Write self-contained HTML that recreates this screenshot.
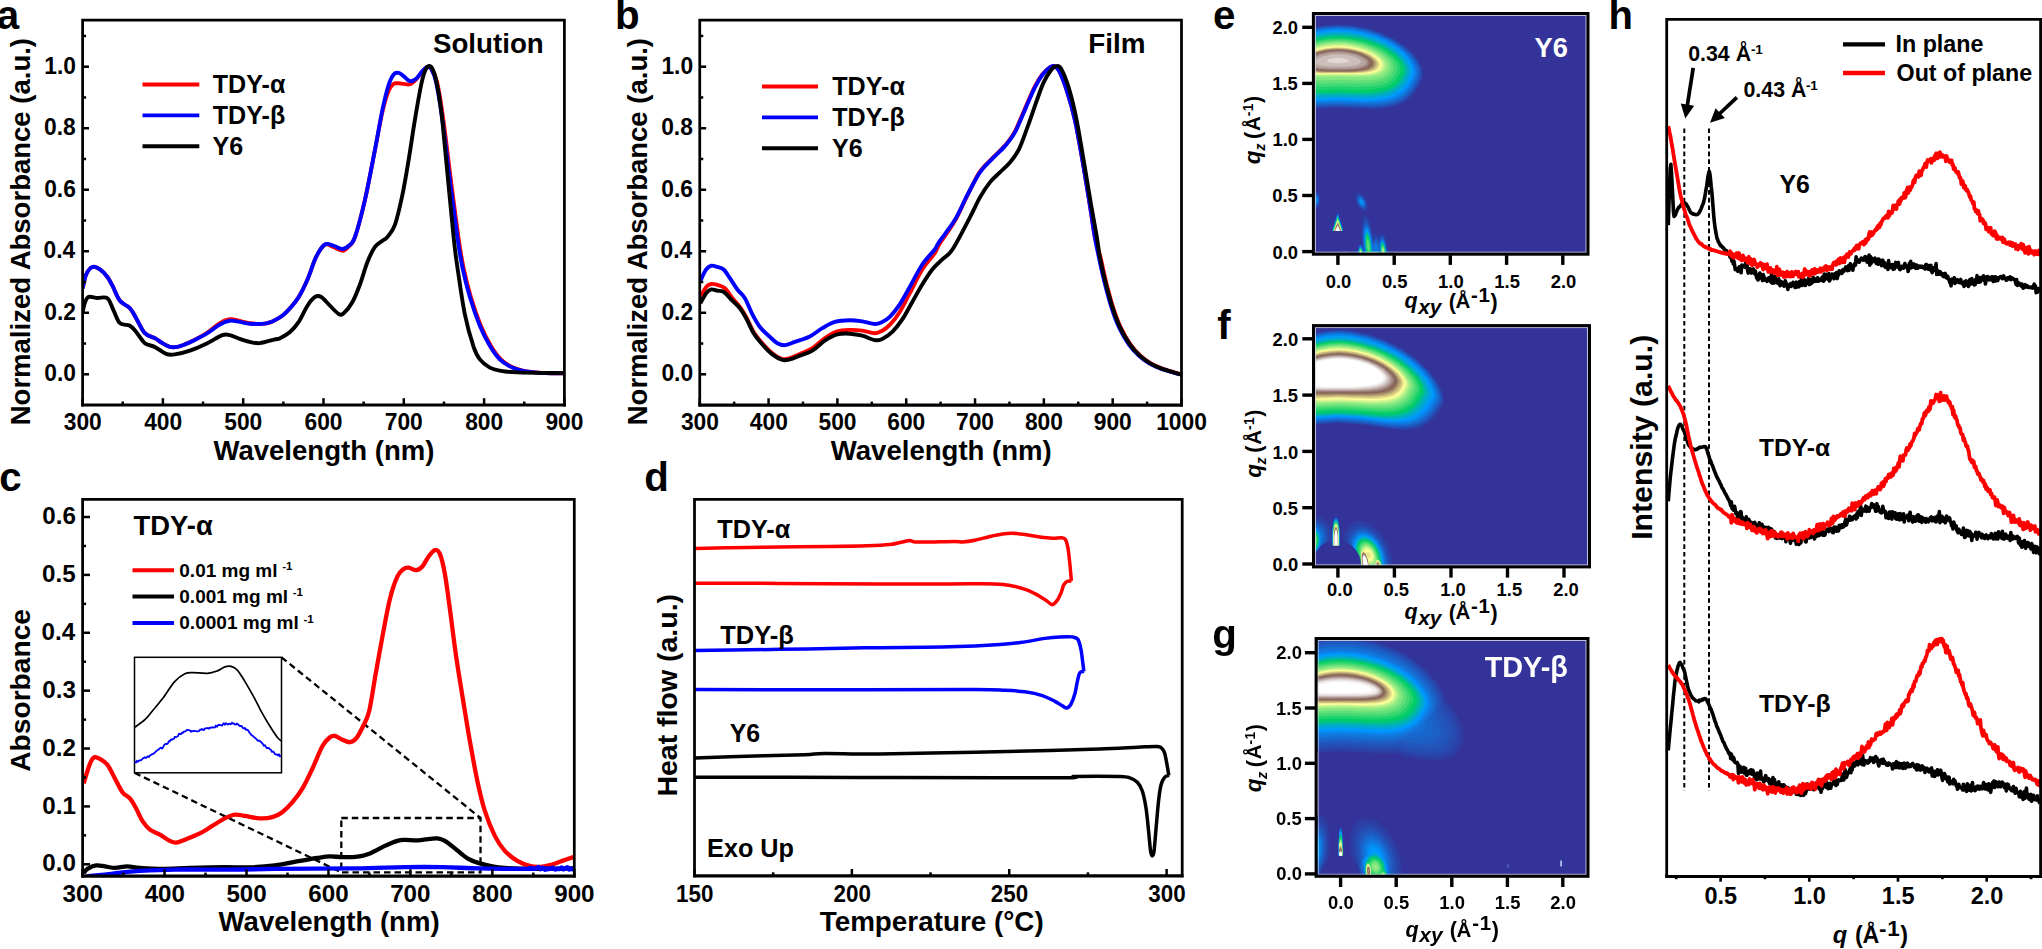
<!DOCTYPE html><html><head><meta charset="utf-8"><title>Figure</title><style>html,body{margin:0;padding:0;background:#fff}svg{display:block}text{font-family:'Liberation Sans', sans-serif}</style></head><body>
<svg width="2042" height="949" viewBox="0 0 2042 949">
<defs>
<clipPath id="clipa"><rect x="82.6" y="20.2" width="481.8" height="384.8"/></clipPath>
<clipPath id="clipb"><rect x="699.75" y="20.2" width="481.75" height="384.9"/></clipPath>
<clipPath id="clipc"><rect x="82.6" y="499.4" width="491.7" height="376.7"/></clipPath>
<clipPath id="cliphh"><rect x="1666.7" y="19.4" width="373.9" height="857"/></clipPath>
<filter id="hblur" x="-5%" y="-5%" width="110%" height="110%"><feGaussianBlur stdDeviation="0.7"/></filter>
</defs>
<rect width="2042" height="949" fill="#fff"/>
<g clip-path="url(#clipa)">
<path d="M82.69 288.21C83.27 285.92 84.56 278.01 86.19 274.47C87.81 270.93 90.14 267.81 92.43 266.98C94.72 266.14 97.43 267.81 99.93 269.48C102.42 271.14 105.34 274.26 107.42 276.97C109.50 279.68 110.33 281.76 112.42 285.71C114.50 289.67 117.00 296.96 119.91 300.70C122.82 304.45 127.20 305.28 129.90 308.20C132.61 311.11 133.65 314.03 136.15 318.19C138.65 322.35 141.77 329.85 144.89 333.18C148.01 336.51 151.97 336.51 154.88 338.17C157.80 339.84 159.88 341.71 162.38 343.17C164.88 344.63 167.37 346.29 169.87 346.92C172.37 347.54 174.87 347.33 177.37 346.91C179.87 346.50 181.95 345.59 184.86 344.40C187.78 343.22 191.11 341.78 194.85 339.81C198.60 337.84 203.18 335.39 207.34 332.61C211.51 329.83 216.09 325.35 219.84 323.12C223.58 320.89 226.50 319.58 229.83 319.21C233.16 318.85 236.49 320.25 239.82 320.93C243.15 321.61 245.65 322.81 249.81 323.27C253.98 323.72 261.05 323.95 264.80 323.64C268.55 323.33 269.38 322.75 272.30 321.43C275.21 320.10 279.34 317.90 282.29 315.69C285.24 313.49 287.25 311.32 289.99 308.20C292.73 305.07 295.82 301.74 298.74 296.96C301.65 292.17 304.77 285.71 307.48 279.47C310.19 273.22 312.68 264.68 314.97 259.49C317.26 254.29 319.35 250.83 321.22 248.29C323.09 245.76 324.13 244.48 326.22 244.29C328.30 244.09 331.00 246.04 333.71 247.13C336.42 248.22 339.96 250.91 342.45 250.82C344.95 250.72 346.62 248.83 348.70 246.56C350.78 244.28 352.24 244.94 354.94 237.16C357.65 229.37 361.61 214.37 364.94 199.85C368.27 185.34 372.01 164.77 374.93 150.08C377.84 135.39 380.13 121.60 382.42 111.71C384.71 101.81 386.79 95.34 388.67 90.70C390.54 86.06 392.00 85.09 393.66 83.86C395.33 82.63 397.00 83.31 398.66 83.31C400.33 83.31 401.78 83.72 403.66 83.88C405.53 84.03 407.82 84.98 409.90 84.22C411.98 83.47 414.07 81.50 416.15 79.34C418.23 77.18 420.52 73.33 422.39 71.27C424.27 69.21 425.93 67.39 427.39 66.96C428.85 66.53 429.51 66.12 431.14 68.70C432.76 71.28 435.09 73.90 437.13 82.44C439.17 90.97 441.09 103.67 443.38 119.91C445.67 136.15 448.37 160.34 450.87 179.87C453.37 199.39 456.29 222.55 458.37 237.07C460.45 251.59 461.28 257.00 463.36 266.98C465.44 276.96 467.94 287.17 470.86 296.96C473.77 306.74 477.52 317.56 480.85 325.68C484.18 333.80 487.51 340.05 490.84 345.67C494.17 351.29 497.50 355.95 500.84 359.41C504.17 362.86 507.50 364.61 510.83 366.40C514.16 368.19 517.49 369.23 520.82 370.15C524.15 371.07 526.65 371.40 530.81 371.90C534.98 372.40 540.18 372.90 545.80 373.15C551.42 373.40 561.41 373.36 564.54 373.40" fill="none" stroke="#ff0000" stroke-width="3.9" stroke-linejoin="round" stroke-linecap="butt" />
<path d="M82.69 288.21C83.27 285.92 84.56 278.01 86.19 274.47C87.81 270.93 90.14 267.81 92.43 266.98C94.72 266.14 97.43 267.81 99.93 269.48C102.42 271.14 105.34 274.26 107.42 276.97C109.50 279.68 110.33 281.76 112.42 285.71C114.50 289.67 117.00 296.96 119.91 300.70C122.82 304.45 127.20 305.28 129.90 308.20C132.61 311.11 133.65 314.03 136.15 318.19C138.65 322.35 141.77 329.85 144.89 333.18C148.01 336.51 151.97 336.51 154.88 338.17C157.80 339.84 159.88 341.71 162.38 343.17C164.88 344.63 167.37 346.29 169.87 346.92C172.37 347.54 174.87 347.33 177.37 346.92C179.87 346.50 181.95 345.59 184.86 344.42C187.78 343.25 191.11 341.80 194.85 339.92C198.60 338.05 203.18 335.76 207.34 333.18C211.51 330.60 216.09 326.52 219.84 324.43C223.58 322.35 226.50 321.10 229.83 320.69C233.16 320.27 236.49 321.44 239.82 321.94C243.15 322.44 245.65 323.39 249.81 323.68C253.98 323.98 261.05 324.06 264.80 323.68C268.55 323.31 269.38 322.77 272.30 321.44C275.21 320.10 279.34 317.90 282.29 315.69C285.24 313.48 287.25 311.32 289.99 308.20C292.73 305.07 295.82 301.74 298.74 296.96C301.65 292.17 304.77 285.71 307.48 279.47C310.19 273.22 312.68 264.69 314.97 259.48C317.26 254.28 319.35 250.82 321.22 248.24C323.09 245.66 324.13 244.41 326.22 243.99C328.30 243.58 331.00 244.91 333.71 245.74C336.42 246.58 339.96 248.99 342.45 248.99C344.95 248.99 346.62 247.74 348.70 245.74C350.78 243.74 352.24 244.65 354.94 237.00C357.65 229.35 361.61 214.37 364.94 199.85C368.27 185.33 372.01 164.88 374.93 149.89C377.84 134.90 380.13 120.74 382.42 109.92C384.71 99.09 386.79 90.85 388.67 84.94C390.54 79.02 392.00 76.44 393.66 74.44C395.33 72.45 397.00 72.65 398.66 72.95C400.33 73.24 401.78 74.82 403.66 76.19C405.53 77.57 407.82 80.77 409.90 81.19C411.98 81.61 414.07 80.36 416.15 78.69C418.23 77.03 420.52 73.15 422.39 71.20C424.27 69.24 425.93 67.37 427.39 66.95C428.85 66.53 429.68 66.12 431.14 68.70C432.59 71.28 434.26 73.90 436.13 82.44C438.01 90.97 440.09 103.67 442.38 119.91C444.67 136.15 447.37 160.34 449.87 179.87C452.37 199.39 455.29 222.55 457.37 237.07C459.45 251.59 460.28 257.00 462.36 266.98C464.44 276.96 466.94 287.17 469.86 296.96C472.77 306.74 476.52 317.56 479.85 325.68C483.18 333.80 486.51 340.05 489.84 345.67C493.17 351.29 496.50 355.95 499.84 359.41C503.17 362.86 506.50 364.61 509.83 366.40C513.16 368.19 516.49 369.23 519.82 370.15C523.15 371.07 525.65 371.40 529.81 371.90C533.98 372.40 539.18 372.90 544.80 373.15C550.42 373.40 560.41 373.36 563.54 373.40" fill="none" stroke="#0000ff" stroke-width="3.9" stroke-linejoin="round" stroke-linecap="butt" />
<path d="M82.69 311.94C83.06 310.36 83.94 304.95 84.94 302.45C85.94 299.95 86.60 297.70 88.68 296.96C90.77 296.21 94.30 297.75 97.43 297.95C100.55 298.16 104.71 296.08 107.42 298.20C110.13 300.33 111.58 306.53 113.66 310.69C115.75 314.86 117.20 320.69 119.91 323.19C122.62 325.68 127.20 324.23 129.90 325.68C132.61 327.14 133.65 329.01 136.15 331.93C138.65 334.84 141.77 340.67 144.89 343.17C148.01 345.67 151.34 345.13 154.88 346.92C158.42 348.71 162.79 352.66 166.13 353.91C169.46 355.16 170.91 354.95 174.87 354.41C178.82 353.87 184.44 352.54 189.86 350.66C195.27 348.79 201.93 345.75 207.34 343.17C212.76 340.59 218.59 336.51 222.33 335.18C226.08 333.84 226.91 334.55 229.83 335.18C232.74 335.80 236.49 337.80 239.82 338.92C243.15 340.05 246.48 341.21 249.81 341.92C253.14 342.63 255.64 343.59 259.81 343.17C263.97 342.75 271.43 340.26 274.79 339.42C278.16 338.59 277.47 339.42 280.00 338.17C282.53 336.93 286.87 334.64 289.99 331.93C293.12 329.22 295.82 326.31 298.74 321.94C301.65 317.56 304.77 309.86 307.48 305.70C310.19 301.53 312.68 298.41 314.97 296.96C317.26 295.50 318.72 295.50 321.22 296.96C323.72 298.41 327.05 302.87 329.96 305.70C332.88 308.53 336.42 312.69 338.71 313.94C341.00 315.19 341.41 315.19 343.70 313.19C345.99 311.19 349.74 306.74 352.45 301.95C355.15 297.16 357.44 291.13 359.94 284.46C362.44 277.80 364.94 268.23 367.43 261.98C369.93 255.74 372.43 250.53 374.93 246.99C377.43 243.45 380.34 242.41 382.42 240.75C384.50 239.08 385.34 239.65 387.42 237.00C389.50 234.35 392.42 231.86 394.91 224.83C397.41 217.81 400.12 205.68 402.41 194.85C404.70 184.03 406.57 172.37 408.65 159.88C410.74 147.39 412.82 132.40 414.90 119.91C416.98 107.42 419.48 93.06 421.14 84.94C422.81 76.82 423.64 74.32 424.89 71.20C426.14 68.07 427.39 66.62 428.64 66.20C429.89 65.78 431.14 66.41 432.39 68.70C433.63 70.99 434.68 73.07 436.13 79.94C437.59 86.81 439.46 96.59 441.13 109.92C442.79 123.24 444.04 138.69 446.13 159.88C448.21 181.07 451.75 219.22 453.62 237.07C455.49 254.92 455.49 254.08 457.37 266.98C459.24 279.87 462.16 301.12 464.86 314.44C467.57 327.77 471.11 339.42 473.60 346.92C476.10 354.41 477.14 355.95 479.85 359.41C482.56 362.86 486.51 365.78 489.84 367.65C493.17 369.53 495.26 369.86 499.84 370.65C504.42 371.44 506.70 371.98 517.32 372.40C527.94 372.81 555.83 373.02 563.54 373.15" fill="none" stroke="#000000" stroke-width="3.9" stroke-linejoin="round" stroke-linecap="butt" />
</g>
<path d="M82.60 405.00V20.20H564.40V405.00" fill="none" stroke="#000" stroke-width="2.75" stroke-linecap="square"/>
<path d="M81.22 405.00H565.77" fill="none" stroke="#000" stroke-width="3.15" stroke-linecap="butt"/>
<line x1="82.60" y1="374.30" x2="89.00" y2="374.30" stroke="#000" stroke-width="2.5" />
<text transform="translate(44.26 381.40) scale(1 1.050)" font-size="22.80" font-weight="bold" fill="#000">0.0</text>
<line x1="82.60" y1="312.78" x2="89.00" y2="312.78" stroke="#000" stroke-width="2.5" />
<text transform="translate(44.26 319.88) scale(1 1.050)" font-size="22.80" font-weight="bold" fill="#000">0.2</text>
<line x1="82.60" y1="251.26" x2="89.00" y2="251.26" stroke="#000" stroke-width="2.5" />
<text transform="translate(43.46 258.36) scale(1 1.050)" font-size="22.80" font-weight="bold" fill="#000">0.4</text>
<line x1="82.60" y1="189.74" x2="89.00" y2="189.74" stroke="#000" stroke-width="2.5" />
<text transform="translate(44.15 196.84) scale(1 1.050)" font-size="22.80" font-weight="bold" fill="#000">0.6</text>
<line x1="82.60" y1="128.22" x2="89.00" y2="128.22" stroke="#000" stroke-width="2.5" />
<text transform="translate(44.03 135.32) scale(1 1.050)" font-size="22.80" font-weight="bold" fill="#000">0.8</text>
<line x1="82.60" y1="66.70" x2="89.00" y2="66.70" stroke="#000" stroke-width="2.5" />
<text transform="translate(44.26 73.80) scale(1 1.050)" font-size="22.80" font-weight="bold" fill="#000">1.0</text>
<line x1="82.60" y1="343.54" x2="86.10" y2="343.54" stroke="#000" stroke-width="2.5" />
<line x1="82.60" y1="282.02" x2="86.10" y2="282.02" stroke="#000" stroke-width="2.5" />
<line x1="82.60" y1="220.50" x2="86.10" y2="220.50" stroke="#000" stroke-width="2.5" />
<line x1="82.60" y1="158.98" x2="86.10" y2="158.98" stroke="#000" stroke-width="2.5" />
<line x1="82.60" y1="97.46" x2="86.10" y2="97.46" stroke="#000" stroke-width="2.5" />
<line x1="82.60" y1="35.94" x2="86.10" y2="35.94" stroke="#000" stroke-width="2.5" />
<line x1="82.60" y1="405.00" x2="82.60" y2="398.20" stroke="#000" stroke-width="2.5" />
<text transform="translate(63.76 429.70) scale(1 1.050)" font-size="22.80" font-weight="bold" fill="#000">300</text>
<line x1="162.90" y1="405.00" x2="162.90" y2="398.20" stroke="#000" stroke-width="2.5" />
<text transform="translate(144.15 429.70) scale(1 1.050)" font-size="22.80" font-weight="bold" fill="#000">400</text>
<line x1="243.20" y1="405.00" x2="243.20" y2="398.20" stroke="#000" stroke-width="2.5" />
<text transform="translate(224.28 429.70) scale(1 1.050)" font-size="22.80" font-weight="bold" fill="#000">500</text>
<line x1="323.50" y1="405.00" x2="323.50" y2="398.20" stroke="#000" stroke-width="2.5" />
<text transform="translate(304.52 429.70) scale(1 1.050)" font-size="22.80" font-weight="bold" fill="#000">600</text>
<line x1="403.80" y1="405.00" x2="403.80" y2="398.20" stroke="#000" stroke-width="2.5" />
<text transform="translate(384.73 429.70) scale(1 1.050)" font-size="22.80" font-weight="bold" fill="#000">700</text>
<line x1="484.10" y1="405.00" x2="484.10" y2="398.20" stroke="#000" stroke-width="2.5" />
<text transform="translate(465.18 429.70) scale(1 1.050)" font-size="22.80" font-weight="bold" fill="#000">800</text>
<line x1="564.40" y1="405.00" x2="564.40" y2="398.20" stroke="#000" stroke-width="2.5" />
<text transform="translate(545.45 429.70) scale(1 1.050)" font-size="22.80" font-weight="bold" fill="#000">900</text>
<line x1="122.75" y1="405.00" x2="122.75" y2="401.50" stroke="#000" stroke-width="2.5" />
<line x1="203.05" y1="405.00" x2="203.05" y2="401.50" stroke="#000" stroke-width="2.5" />
<line x1="283.35" y1="405.00" x2="283.35" y2="401.50" stroke="#000" stroke-width="2.5" />
<line x1="363.65" y1="405.00" x2="363.65" y2="401.50" stroke="#000" stroke-width="2.5" />
<line x1="443.95" y1="405.00" x2="443.95" y2="401.50" stroke="#000" stroke-width="2.5" />
<line x1="524.25" y1="405.00" x2="524.25" y2="401.50" stroke="#000" stroke-width="2.5" />
<text x="213.40" y="459.90" font-size="27.57" font-weight="bold" text-anchor="start" fill="#000" >Wavelength (nm)</text>
<text x="29.60" y="425.29" font-size="27.53" font-weight="bold" text-anchor="start" fill="#000" transform="rotate(-90 29.60 425.29)" >Normalized Absorbance (a.u.)</text>
<text x="-3.30" y="28.60" font-size="40.3" font-weight="bold" text-anchor="start" fill="#000" >a</text>
<text x="432.99" y="53.30" font-size="27.69" font-weight="bold" text-anchor="start" fill="#000" >Solution</text>
<line x1="142.50" y1="84.50" x2="199.30" y2="84.50" stroke="#ff0000" stroke-width="3.9" />
<text x="212.75" y="92.50" font-size="25.10" font-weight="bold" text-anchor="start" fill="#000" >TDY-α</text>
<line x1="142.50" y1="115.40" x2="199.30" y2="115.40" stroke="#0000ff" stroke-width="3.9" />
<text x="212.75" y="123.50" font-size="25.10" font-weight="bold" text-anchor="start" fill="#000" >TDY-β</text>
<line x1="142.50" y1="146.30" x2="199.30" y2="146.30" stroke="#000" stroke-width="3.9" />
<text x="212.62" y="154.50" font-size="25.10" font-weight="bold" text-anchor="start" fill="#000" >Y6</text>
<g clip-path="url(#clipb)">
<path d="M700.43 296.96C701.39 295.29 704.39 289.13 706.18 286.96C707.97 284.80 709.30 284.30 711.17 283.96C713.05 283.63 715.13 284.26 717.42 284.96C719.71 285.67 722.42 286.00 724.91 288.21C727.41 290.42 729.91 295.08 732.41 298.20C734.91 301.33 737.61 303.82 739.90 306.95C742.19 310.07 743.86 312.78 746.15 316.94C748.44 321.10 750.94 327.56 753.64 331.93C756.35 336.30 759.26 339.63 762.39 343.17C765.51 346.71 769.05 350.54 772.38 353.16C775.71 355.79 779.46 358.08 782.37 358.91C785.29 359.74 786.95 358.99 789.87 358.16C792.78 357.33 796.11 355.58 799.86 353.91C803.60 352.25 808.18 350.79 812.35 348.17C816.51 345.54 820.68 340.96 824.84 338.17C829.00 335.38 833.17 332.80 837.33 331.43C841.49 330.06 845.66 330.06 849.82 329.93C853.98 329.81 858.15 330.14 862.31 330.68C866.47 331.22 871.47 333.18 874.80 333.18C878.13 333.18 879.80 332.05 882.30 330.68C884.79 329.31 886.88 328.06 889.79 324.93C892.70 321.81 896.45 317.23 899.78 311.94C903.11 306.66 906.03 300.29 909.78 293.21C913.52 286.13 918.10 276.14 922.27 269.48C926.43 262.81 931.89 257.48 934.76 253.24C937.62 248.99 936.09 249.40 939.46 243.99C942.82 238.59 950.28 228.94 954.94 220.83C959.61 212.73 963.35 203.43 967.43 195.35C971.51 187.28 975.35 178.49 979.43 172.37C983.51 166.25 987.75 163.00 991.92 158.63C996.08 154.26 1000.66 150.51 1004.41 146.14C1008.15 141.77 1011.07 138.44 1014.40 132.40C1017.73 126.36 1021.06 117.41 1024.39 109.92C1027.72 102.42 1031.47 93.26 1034.38 87.43C1037.30 81.61 1039.30 78.27 1041.88 74.94C1044.46 71.61 1047.71 68.91 1049.87 67.45C1052.04 65.99 1053.20 65.37 1054.87 66.20C1056.53 67.03 1057.78 68.07 1059.87 72.45C1061.95 76.82 1064.86 84.52 1067.36 92.43C1069.86 100.34 1072.36 108.67 1074.85 119.91C1077.35 131.15 1079.85 145.72 1082.35 159.88C1084.85 174.04 1087.76 191.98 1089.84 204.85C1091.92 217.71 1093.07 228.38 1094.84 237.07C1096.60 245.76 1098.67 249.92 1100.44 256.99C1102.20 264.05 1103.35 271.14 1105.43 279.47C1107.51 287.80 1110.43 299.04 1112.93 306.95C1115.42 314.86 1117.51 320.69 1120.42 326.93C1123.33 333.18 1127.08 339.63 1130.41 344.42C1133.74 349.21 1137.07 352.54 1140.41 355.66C1143.74 358.78 1146.65 360.95 1150.40 363.16C1154.14 365.36 1157.68 367.03 1162.89 368.90C1168.09 370.77 1178.50 373.48 1181.62 374.40" fill="none" stroke="#ff0000" stroke-width="3.9" stroke-linejoin="round" stroke-linecap="butt" />
<path d="M700.43 280.72C701.39 278.84 704.39 271.97 706.18 269.48C707.97 266.98 709.30 266.14 711.17 265.73C713.05 265.31 715.34 266.35 717.42 266.98C719.50 267.60 721.58 267.60 723.66 269.48C725.75 271.35 727.62 274.89 729.91 278.22C732.20 281.55 734.91 286.13 737.40 289.46C739.90 292.79 742.40 294.04 744.90 298.20C747.40 302.37 749.90 309.65 752.39 314.44C754.89 319.23 756.97 323.19 759.89 326.93C762.80 330.68 766.97 334.22 769.88 336.93C772.79 339.63 774.88 341.80 777.37 343.17C779.87 344.54 781.95 345.38 784.87 345.17C787.78 344.96 790.70 343.38 794.86 341.92C799.02 340.46 805.27 338.72 809.85 336.43C814.43 334.14 818.18 330.60 822.34 328.18C826.50 325.77 830.25 323.27 834.83 321.94C839.41 320.60 845.24 320.27 849.82 320.19C854.40 320.10 858.15 320.81 862.31 321.44C866.47 322.06 871.47 323.85 874.80 323.93C878.13 324.02 879.80 323.10 882.30 321.94C884.79 320.77 886.88 319.85 889.79 316.94C892.70 314.03 896.45 309.45 899.78 304.45C903.11 299.45 906.03 293.62 909.78 286.96C913.52 280.30 918.10 270.72 922.27 264.48C926.43 258.23 932.02 253.15 934.76 249.49C937.50 245.83 935.34 247.44 938.71 242.50C942.07 237.55 950.16 227.78 954.94 219.84C959.73 211.89 963.27 202.76 967.43 194.85C971.60 186.94 975.76 178.41 979.93 172.37C984.09 166.33 988.25 163.00 992.42 158.63C996.58 154.26 1001.16 150.51 1004.91 146.14C1008.65 141.77 1011.57 138.44 1014.90 132.40C1018.23 126.36 1021.56 117.41 1024.89 109.92C1028.22 102.42 1031.97 93.26 1034.88 87.43C1037.80 81.61 1039.88 78.27 1042.38 74.94C1044.88 71.61 1047.79 68.91 1049.87 67.45C1051.95 65.99 1053.20 65.37 1054.87 66.20C1056.53 67.03 1057.78 68.07 1059.87 72.45C1061.95 76.82 1064.86 84.52 1067.36 92.43C1069.86 100.34 1072.36 108.67 1074.85 119.91C1077.35 131.15 1079.85 145.72 1082.35 159.88C1084.85 174.04 1087.76 191.98 1089.84 204.85C1091.92 217.71 1093.34 228.38 1094.84 237.07C1096.34 245.76 1097.34 249.92 1098.84 256.99C1100.33 264.05 1101.75 271.14 1103.83 279.47C1105.91 287.80 1108.83 299.04 1111.33 306.95C1113.82 314.86 1115.91 320.69 1118.82 326.93C1121.73 333.18 1125.48 339.63 1128.81 344.42C1132.14 349.21 1135.47 352.54 1138.81 355.66C1142.14 358.78 1145.05 360.95 1148.80 363.16C1152.54 365.36 1156.08 367.03 1161.29 368.90C1166.49 370.77 1176.90 373.48 1180.02 374.40" fill="none" stroke="#0000ff" stroke-width="3.9" stroke-linejoin="round" stroke-linecap="butt" />
<path d="M700.43 303.20C701.39 301.53 704.39 295.50 706.18 293.21C707.97 290.92 709.30 289.88 711.17 289.46C713.05 289.04 715.34 290.29 717.42 290.71C719.50 291.13 721.17 290.29 723.66 291.96C726.16 293.62 729.70 298.00 732.41 300.70C735.11 303.41 737.61 305.28 739.90 308.20C742.19 311.11 743.86 314.03 746.15 318.19C748.44 322.35 750.94 328.81 753.64 333.18C756.35 337.55 759.26 340.88 762.39 344.42C765.51 347.96 769.05 351.83 772.38 354.41C775.71 356.99 779.46 359.08 782.37 359.91C785.29 360.74 786.95 360.12 789.87 359.41C792.78 358.70 796.11 357.12 799.86 355.66C803.60 354.20 808.18 353.16 812.35 350.66C816.51 348.17 820.68 343.38 824.84 340.67C829.00 337.97 833.17 335.59 837.33 334.43C841.49 333.26 845.66 333.47 849.82 333.68C853.98 333.89 858.15 334.59 862.31 335.68C866.47 336.76 871.47 339.63 874.80 340.17C878.13 340.71 879.38 340.30 882.30 338.92C885.21 337.55 888.96 335.18 892.29 331.93C895.62 328.68 898.95 324.43 902.28 319.44C905.61 314.44 908.94 307.78 912.27 301.95C915.60 296.12 918.93 289.88 922.27 284.46C925.60 279.05 928.93 273.64 932.26 269.48C935.59 265.31 938.89 262.81 942.25 259.48C945.62 256.15 947.83 256.51 952.45 249.49C957.06 242.47 965.35 226.03 969.93 217.34C974.51 208.65 976.59 203.18 979.93 197.35C983.26 191.52 986.59 186.53 989.92 182.36C993.25 178.20 996.58 175.70 999.91 172.37C1003.24 169.04 1006.78 166.13 1009.90 162.38C1013.03 158.63 1015.73 155.72 1018.65 149.89C1021.56 144.06 1024.47 135.32 1027.39 127.40C1030.30 119.49 1033.43 109.92 1036.13 102.42C1038.84 94.93 1041.13 87.85 1043.63 82.44C1046.13 77.03 1049.04 72.65 1051.12 69.95C1053.20 67.24 1054.45 66.41 1056.12 66.20C1057.78 65.99 1059.03 65.16 1061.11 68.70C1063.20 72.24 1066.11 79.32 1068.61 87.43C1071.11 95.55 1073.60 105.34 1076.10 117.41C1078.60 129.49 1081.10 145.31 1083.60 159.88C1086.10 174.45 1088.89 191.98 1091.09 204.85C1093.30 217.71 1095.38 228.38 1096.84 237.07C1098.29 245.76 1098.50 249.92 1099.84 256.99C1101.17 264.05 1102.75 271.14 1104.83 279.47C1106.91 287.80 1109.83 299.04 1112.33 306.95C1114.82 314.86 1116.91 320.69 1119.82 326.93C1122.73 333.18 1126.48 339.63 1129.81 344.42C1133.14 349.21 1136.47 352.54 1139.81 355.66C1143.14 358.78 1146.05 360.95 1149.80 363.16C1153.54 365.36 1157.08 367.03 1162.29 368.90C1167.49 370.77 1177.90 373.48 1181.02 374.40" fill="none" stroke="#000000" stroke-width="3.9" stroke-linejoin="round" stroke-linecap="butt" />
</g>
<path d="M699.75 405.10V20.20H1181.50V405.10" fill="none" stroke="#000" stroke-width="2.75" stroke-linecap="square"/>
<path d="M698.38 405.10H1182.88" fill="none" stroke="#000" stroke-width="3.15" stroke-linecap="butt"/>
<line x1="699.75" y1="374.30" x2="706.15" y2="374.30" stroke="#000" stroke-width="2.5" />
<text transform="translate(661.41 381.40) scale(1 1.050)" font-size="22.80" font-weight="bold" fill="#000">0.0</text>
<line x1="699.75" y1="312.78" x2="706.15" y2="312.78" stroke="#000" stroke-width="2.5" />
<text transform="translate(661.41 319.88) scale(1 1.050)" font-size="22.80" font-weight="bold" fill="#000">0.2</text>
<line x1="699.75" y1="251.26" x2="706.15" y2="251.26" stroke="#000" stroke-width="2.5" />
<text transform="translate(660.62 258.36) scale(1 1.050)" font-size="22.80" font-weight="bold" fill="#000">0.4</text>
<line x1="699.75" y1="189.74" x2="706.15" y2="189.74" stroke="#000" stroke-width="2.5" />
<text transform="translate(661.30 196.84) scale(1 1.050)" font-size="22.80" font-weight="bold" fill="#000">0.6</text>
<line x1="699.75" y1="128.22" x2="706.15" y2="128.22" stroke="#000" stroke-width="2.5" />
<text transform="translate(661.18 135.32) scale(1 1.050)" font-size="22.80" font-weight="bold" fill="#000">0.8</text>
<line x1="699.75" y1="66.70" x2="706.15" y2="66.70" stroke="#000" stroke-width="2.5" />
<text transform="translate(661.41 73.80) scale(1 1.050)" font-size="22.80" font-weight="bold" fill="#000">1.0</text>
<line x1="699.75" y1="343.54" x2="703.25" y2="343.54" stroke="#000" stroke-width="2.5" />
<line x1="699.75" y1="282.02" x2="703.25" y2="282.02" stroke="#000" stroke-width="2.5" />
<line x1="699.75" y1="220.50" x2="703.25" y2="220.50" stroke="#000" stroke-width="2.5" />
<line x1="699.75" y1="158.98" x2="703.25" y2="158.98" stroke="#000" stroke-width="2.5" />
<line x1="699.75" y1="97.46" x2="703.25" y2="97.46" stroke="#000" stroke-width="2.5" />
<line x1="699.75" y1="35.94" x2="703.25" y2="35.94" stroke="#000" stroke-width="2.5" />
<line x1="699.75" y1="405.10" x2="699.75" y2="398.30" stroke="#000" stroke-width="2.5" />
<text transform="translate(680.91 429.70) scale(1 1.050)" font-size="22.80" font-weight="bold" fill="#000">300</text>
<line x1="768.57" y1="405.10" x2="768.57" y2="398.30" stroke="#000" stroke-width="2.5" />
<text transform="translate(749.82 429.70) scale(1 1.050)" font-size="22.80" font-weight="bold" fill="#000">400</text>
<line x1="837.39" y1="405.10" x2="837.39" y2="398.30" stroke="#000" stroke-width="2.5" />
<text transform="translate(818.47 429.70) scale(1 1.050)" font-size="22.80" font-weight="bold" fill="#000">500</text>
<line x1="906.21" y1="405.10" x2="906.21" y2="398.30" stroke="#000" stroke-width="2.5" />
<text transform="translate(887.23 429.70) scale(1 1.050)" font-size="22.80" font-weight="bold" fill="#000">600</text>
<line x1="975.04" y1="405.10" x2="975.04" y2="398.30" stroke="#000" stroke-width="2.5" />
<text transform="translate(955.97 429.70) scale(1 1.050)" font-size="22.80" font-weight="bold" fill="#000">700</text>
<line x1="1043.86" y1="405.10" x2="1043.86" y2="398.30" stroke="#000" stroke-width="2.5" />
<text transform="translate(1024.93 429.70) scale(1 1.050)" font-size="22.80" font-weight="bold" fill="#000">800</text>
<line x1="1112.68" y1="405.10" x2="1112.68" y2="398.30" stroke="#000" stroke-width="2.5" />
<text transform="translate(1093.73 429.70) scale(1 1.050)" font-size="22.80" font-weight="bold" fill="#000">900</text>
<line x1="1181.50" y1="405.10" x2="1181.50" y2="398.30" stroke="#000" stroke-width="2.5" />
<text transform="translate(1156.16 429.70) scale(1 1.050)" font-size="22.80" font-weight="bold" fill="#000">1000</text>
<line x1="734.16" y1="405.10" x2="734.16" y2="401.60" stroke="#000" stroke-width="2.5" />
<line x1="802.98" y1="405.10" x2="802.98" y2="401.60" stroke="#000" stroke-width="2.5" />
<line x1="871.80" y1="405.10" x2="871.80" y2="401.60" stroke="#000" stroke-width="2.5" />
<line x1="940.62" y1="405.10" x2="940.62" y2="401.60" stroke="#000" stroke-width="2.5" />
<line x1="1009.45" y1="405.10" x2="1009.45" y2="401.60" stroke="#000" stroke-width="2.5" />
<line x1="1078.27" y1="405.10" x2="1078.27" y2="401.60" stroke="#000" stroke-width="2.5" />
<line x1="1147.09" y1="405.10" x2="1147.09" y2="401.60" stroke="#000" stroke-width="2.5" />
<text x="830.77" y="459.90" font-size="27.57" font-weight="bold" text-anchor="start" fill="#000" >Wavelength (nm)</text>
<text x="647.00" y="425.29" font-size="27.53" font-weight="bold" text-anchor="start" fill="#000" transform="rotate(-90 647.00 425.29)" >Normalized Absorbance (a.u.)</text>
<text x="615.00" y="28.60" font-size="40.3" font-weight="bold" text-anchor="start" fill="#000" >b</text>
<text x="1088.19" y="52.70" font-size="27.85" font-weight="bold" text-anchor="start" fill="#000" >Film</text>
<line x1="762.00" y1="86.50" x2="818.00" y2="86.50" stroke="#ff0000" stroke-width="3.9" />
<text x="832.25" y="94.50" font-size="25.10" font-weight="bold" text-anchor="start" fill="#000" >TDY-α</text>
<line x1="762.00" y1="117.40" x2="818.00" y2="117.40" stroke="#0000ff" stroke-width="3.9" />
<text x="832.25" y="125.50" font-size="25.10" font-weight="bold" text-anchor="start" fill="#000" >TDY-β</text>
<line x1="762.00" y1="148.30" x2="818.00" y2="148.30" stroke="#000" stroke-width="3.9" />
<text x="832.12" y="156.50" font-size="25.10" font-weight="bold" text-anchor="start" fill="#000" >Y6</text>
<g clip-path="url(#clipc)">
<line x1="281.50" y1="657.30" x2="480.50" y2="818.00" stroke="#000" stroke-width="2.3" stroke-dasharray="6.5 4"/>
<line x1="134.50" y1="772.80" x2="341.30" y2="872.30" stroke="#000" stroke-width="2.3" stroke-dasharray="6.5 4"/>
<rect x="341.3" y="818" width="139.2" height="54.3" fill="none" stroke="#000" stroke-width="2.3" stroke-dasharray="6.5 4"/>
<path d="M83.69 783.45C84.31 781.36 86.19 774.70 87.43 770.96C88.68 767.21 89.93 763.25 91.18 760.96C92.43 758.67 93.47 757.55 94.93 757.22C96.39 756.88 97.84 757.71 99.93 758.96C102.01 760.21 104.92 761.46 107.42 764.71C109.92 767.96 112.42 773.87 114.91 778.45C117.41 783.03 119.91 788.86 122.41 792.19C124.91 795.52 127.61 795.73 129.90 798.43C132.19 801.14 134.07 804.68 136.15 808.43C138.23 812.17 140.10 817.38 142.39 820.92C144.68 824.46 146.97 827.37 149.89 829.66C152.80 831.95 156.55 832.78 159.88 834.66C163.21 836.53 167.17 839.57 169.87 840.90C172.58 842.23 173.62 842.86 176.12 842.65C178.62 842.44 180.91 841.19 184.86 839.65C188.82 838.11 195.27 835.70 199.85 833.41C204.43 831.12 208.18 828.41 212.34 825.91C216.50 823.42 221.08 820.29 224.83 818.42C228.58 816.55 231.49 815.09 234.82 814.67C238.15 814.26 240.65 815.30 244.82 815.92C248.98 816.55 255.23 818.21 259.81 818.42C264.39 818.63 268.55 818.21 272.30 817.17C276.04 816.13 278.92 814.67 282.29 812.17C285.65 809.68 289.12 806.14 292.49 802.18C295.86 798.23 299.15 794.06 302.48 788.44C305.81 782.82 309.14 775.53 312.48 768.46C315.81 761.38 319.55 751.18 322.47 745.97C325.38 740.77 327.88 738.90 329.96 737.23C332.04 735.56 332.88 735.56 334.96 735.98C337.04 736.40 339.96 738.69 342.45 739.73C344.95 740.77 347.66 742.43 349.95 742.23C352.24 742.02 353.99 741.19 356.19 738.48C358.40 735.77 361.02 730.56 363.19 725.99C365.35 721.42 367.10 719.76 369.18 711.07C371.26 702.38 373.39 686.72 375.68 673.85C377.97 660.98 380.55 646.37 382.92 633.88C385.30 621.39 387.50 608.48 389.92 598.91C392.33 589.33 395.12 581.42 397.41 576.42C399.70 571.43 401.78 570.39 403.66 568.93C405.53 567.47 406.57 567.47 408.65 567.68C410.74 567.89 413.86 570.39 416.15 570.18C418.44 569.97 420.31 568.72 422.39 566.43C424.47 564.14 426.56 559.14 428.64 556.44C430.72 553.73 433.01 550.61 434.88 550.19C436.76 549.78 438.21 549.98 439.88 553.94C441.55 557.90 443.21 564.77 444.88 573.93C446.54 583.08 448.00 595.16 449.87 608.90C451.75 622.64 453.62 639.33 456.12 656.36C458.62 673.39 462.57 696.97 464.86 711.07C467.15 725.17 467.78 729.33 469.86 740.98C471.94 752.62 474.85 769.29 477.35 780.95C479.85 792.61 481.93 801.77 484.85 810.93C487.76 820.08 491.51 829.24 494.84 835.91C498.17 842.57 501.08 846.73 504.83 850.90C508.58 855.06 513.16 858.39 517.32 860.89C521.49 863.39 526.07 864.88 529.81 865.88C533.56 866.88 536.47 867.01 539.81 866.88C543.14 866.76 546.05 866.13 549.80 865.13C553.54 864.14 558.12 862.30 562.29 860.89C566.45 859.47 572.70 857.35 574.78 856.64" fill="none" stroke="#ff0000" stroke-width="4.3" stroke-linejoin="round" stroke-linecap="butt" />
<path d="M83.69 873.38C84.31 872.63 85.35 870.21 87.43 868.88C89.52 867.55 93.26 865.80 96.18 865.38C99.09 864.97 101.80 865.97 104.92 866.38C108.04 866.80 111.17 867.88 114.91 867.88C118.66 867.88 123.24 866.38 127.40 866.38C131.57 866.38 134.07 867.47 139.90 867.88C145.72 868.30 154.05 868.88 162.38 868.88C170.71 868.88 179.45 868.17 189.86 867.88C200.27 867.59 214.84 867.22 224.83 867.13C234.82 867.05 241.49 867.67 249.81 867.38C258.14 867.09 266.43 866.47 274.79 865.38C283.16 864.30 292.87 862.14 299.99 860.89C307.10 859.64 312.48 858.64 317.47 857.89C322.47 857.14 325.80 856.52 329.96 856.39C334.13 856.27 337.87 857.10 342.45 857.14C347.03 857.18 352.86 857.27 357.44 856.64C362.02 856.02 365.35 855.18 369.93 853.39C374.51 851.60 380.34 847.98 384.92 845.90C389.50 843.82 394.08 841.90 397.41 840.90C400.74 839.90 401.58 839.99 404.91 839.90C408.24 839.82 413.23 840.57 417.40 840.40C421.56 840.24 426.56 839.24 429.89 838.90C433.22 838.57 434.88 838.07 437.38 838.40C439.88 838.74 441.96 839.24 444.88 840.90C447.79 842.57 451.12 845.48 454.87 848.40C458.62 851.31 463.20 855.89 467.36 858.39C471.52 860.89 475.69 862.05 479.85 863.39C484.01 864.72 488.18 865.63 492.34 866.38C496.50 867.13 498.59 867.47 504.83 867.88C511.08 868.30 518.15 868.80 529.81 868.88C541.47 868.96 567.28 868.47 574.78 868.38" fill="none" stroke="#000000" stroke-width="4.3" stroke-linejoin="round" stroke-linecap="butt" />
<path d="M83.69 877.87C84.31 877.63 83.90 876.92 87.43 876.38C90.97 875.83 98.68 875.34 104.92 874.63C111.17 873.92 119.08 872.75 124.91 872.13C130.74 871.50 131.57 871.30 139.90 870.88C148.22 870.46 160.71 869.84 174.87 869.63C189.02 869.42 208.18 869.76 224.83 869.63C241.49 869.51 253.11 869.09 274.79 868.88C296.48 868.67 333.26 868.67 354.94 868.38C376.63 868.09 390.33 867.34 404.91 867.13C419.48 866.92 429.89 866.92 442.38 867.13C454.87 867.34 465.28 868.09 479.85 868.38C494.42 868.67 521.45 868.98 529.81 868.88C538.17 868.79 529.72 867.86 530.00 867.82C530.28 867.77 531.00 868.56 531.50 868.61C532.00 868.67 532.50 868.14 533.00 868.16C533.50 868.19 534.00 868.66 534.50 868.77C535.00 868.88 535.50 869.06 536.00 868.83C536.50 868.59 537.00 867.64 537.50 867.37C538.00 867.10 538.50 866.90 539.00 867.23C539.50 867.57 540.00 869.27 540.50 869.38C541.00 869.48 541.50 868.14 542.00 867.87C542.50 867.61 543.00 867.49 543.50 867.81C544.00 868.13 544.50 869.69 545.00 869.79C545.50 869.89 546.00 868.49 546.50 868.42C547.00 868.35 547.50 869.37 548.00 869.37C548.50 869.38 549.00 868.52 549.50 868.44C550.00 868.35 550.50 869.00 551.00 868.86C551.50 868.72 552.00 867.59 552.50 867.59C553.00 867.59 553.50 868.54 554.00 868.85C554.50 869.16 555.00 869.51 555.50 869.46C556.00 869.41 556.50 868.62 557.00 868.56C557.50 868.51 558.00 869.06 558.50 869.13C559.00 869.19 559.50 869.24 560.00 868.95C560.50 868.65 561.00 867.33 561.50 867.37C562.00 867.40 562.50 868.94 563.00 869.17C563.50 869.40 564.00 868.93 564.50 868.74C565.00 868.54 565.50 868.23 566.00 867.98C566.50 867.74 567.00 867.04 567.50 867.28C568.00 867.53 568.50 869.26 569.00 869.45C569.50 869.64 570.00 868.49 570.50 868.43C571.00 868.37 571.50 868.89 572.00 869.07C572.50 869.24 573.00 869.49 573.50 869.48C574.00 869.48 574.75 869.13 575.00 869.06" fill="none" stroke="#0000ff" stroke-width="4.4" stroke-linejoin="round" stroke-linecap="butt" />
</g>
<rect x="134.5" y="657.3" width="147" height="115.5" fill="#fff" stroke="#000" stroke-width="1.5"/>
<path d="M134.90 727.24C136.56 725.99 141.98 722.45 144.89 719.74C147.81 717.04 149.47 714.49 152.39 711.00C155.30 707.51 158.63 703.77 162.38 698.83C166.13 693.89 171.12 685.51 174.87 681.34C178.62 677.18 181.95 675.31 184.86 673.85C187.78 672.39 188.61 672.68 192.36 672.60C196.10 672.52 203.18 673.64 207.34 673.35C211.51 673.06 214.42 671.93 217.34 670.85C220.25 669.77 222.54 667.60 224.83 666.86C227.12 666.11 228.99 665.81 231.08 666.36C233.16 666.90 235.03 667.60 237.32 670.10C239.61 672.60 241.90 676.56 244.82 681.34C247.73 686.13 252.10 693.88 254.81 698.83C257.52 703.79 258.56 706.55 261.05 711.07C263.55 715.60 267.09 721.63 269.80 725.99C272.50 730.35 275.38 734.73 277.29 737.23C279.21 739.73 280.62 740.35 281.29 740.98" fill="none" stroke="#000" stroke-width="1.7" stroke-linejoin="round" stroke-linecap="butt" />
<path d="M134.90 761.66L135.90 762.54L136.90 760.79L137.90 761.80L138.90 760.52L139.90 760.35L140.90 760.24L141.90 759.33L142.90 758.47L143.90 757.84L144.90 757.21L145.90 758.11L146.90 757.09L147.90 756.11L148.90 757.14L149.90 755.51L150.90 755.09L151.90 754.15L152.90 754.12L153.90 753.32L154.90 752.66L155.90 751.29L156.90 750.63L157.90 749.87L158.90 749.31L159.90 748.25L160.90 747.59L161.90 748.49L162.90 747.73L163.90 745.38L164.90 744.25L165.90 743.82L166.90 744.01L167.90 743.37L168.90 741.05L169.90 741.36L170.90 739.41L171.90 739.64L172.90 739.09L173.90 738.98L174.90 736.73L175.90 737.19L176.90 736.70L177.90 736.18L178.90 733.72L179.90 734.03L180.90 734.42L181.90 732.63L182.90 732.84L183.90 731.68L184.90 731.53L185.90 730.92L186.90 729.98L187.90 730.06L188.90 730.07L189.90 730.32L190.90 731.71L191.90 731.01L192.90 731.35L193.90 730.82L194.90 730.92L195.90 731.24L196.90 731.44L197.90 731.38L198.90 731.17L199.90 729.66L200.90 729.93L201.90 729.02L202.90 729.79L203.90 730.03L204.90 728.28L205.90 728.29L206.90 728.38L207.90 727.88L208.90 728.72L209.90 727.58L210.90 727.89L211.90 727.34L212.90 727.26L213.90 727.71L214.90 727.46L215.90 725.54L216.90 726.74L217.90 725.48L218.90 724.73L219.90 725.04L220.90 725.03L221.90 725.67L222.90 724.24L223.90 723.26L224.90 724.71L225.90 723.16L226.90 723.84L227.90 724.54L228.90 723.82L229.90 723.63L230.90 724.29L231.90 722.68L232.90 723.73L233.90 723.36L234.90 724.49L235.90 724.58L236.90 723.53L237.90 724.26L238.90 725.23L239.90 726.18L240.90 725.89L241.90 726.39L242.90 727.97L243.90 728.48L244.90 727.88L245.90 729.79L246.90 729.57L247.90 730.00L248.90 731.82L249.90 733.01L250.90 734.40L251.90 735.47L252.90 736.00L253.90 736.91L254.90 737.73L255.90 738.59L256.90 739.59L257.90 740.88L258.90 740.56L259.90 740.85L260.90 742.04L261.90 742.88L262.90 744.04L263.90 745.80L264.90 745.17L265.90 746.70L266.90 748.17L267.90 747.83L268.90 748.17L269.90 749.28L270.90 749.72L271.90 751.91L272.90 751.39L273.90 752.19L274.90 754.14L275.90 754.51L276.90 754.46L277.90 755.49L278.90 754.17L279.90 756.36L280.90 755.96" fill="none" stroke="#0000ff" stroke-width="1.8" stroke-linejoin="round" />
<path d="M82.60 876.10V499.40H574.30V876.10" fill="none" stroke="#000" stroke-width="2.75" stroke-linecap="square"/>
<path d="M81.22 876.10H575.67" fill="none" stroke="#000" stroke-width="3.15" stroke-linecap="butt"/>
<line x1="82.60" y1="864.30" x2="90.00" y2="864.30" stroke="#000" stroke-width="2.5" />
<text transform="translate(42.37 871.40) scale(1 1.020)" font-size="24.20" font-weight="bold" fill="#000">0.0</text>
<line x1="82.60" y1="806.42" x2="90.00" y2="806.42" stroke="#000" stroke-width="2.5" />
<text transform="translate(42.37 813.52) scale(1 1.020)" font-size="24.20" font-weight="bold" fill="#000">0.1</text>
<line x1="82.60" y1="748.54" x2="90.00" y2="748.54" stroke="#000" stroke-width="2.5" />
<text transform="translate(42.37 755.64) scale(1 1.020)" font-size="24.20" font-weight="bold" fill="#000">0.2</text>
<line x1="82.60" y1="690.66" x2="90.00" y2="690.66" stroke="#000" stroke-width="2.5" />
<text transform="translate(42.25 697.76) scale(1 1.020)" font-size="24.20" font-weight="bold" fill="#000">0.3</text>
<line x1="82.60" y1="632.78" x2="90.00" y2="632.78" stroke="#000" stroke-width="2.5" />
<text transform="translate(41.52 639.88) scale(1 1.020)" font-size="24.20" font-weight="bold" fill="#000">0.4</text>
<line x1="82.60" y1="574.90" x2="90.00" y2="574.90" stroke="#000" stroke-width="2.5" />
<text transform="translate(42.07 582.00) scale(1 1.020)" font-size="24.20" font-weight="bold" fill="#000">0.5</text>
<line x1="82.60" y1="517.02" x2="90.00" y2="517.02" stroke="#000" stroke-width="2.5" />
<text transform="translate(42.25 524.12) scale(1 1.020)" font-size="24.20" font-weight="bold" fill="#000">0.6</text>
<line x1="82.60" y1="835.36" x2="86.10" y2="835.36" stroke="#000" stroke-width="2.5" />
<line x1="82.60" y1="777.48" x2="86.10" y2="777.48" stroke="#000" stroke-width="2.5" />
<line x1="82.60" y1="719.60" x2="86.10" y2="719.60" stroke="#000" stroke-width="2.5" />
<line x1="82.60" y1="661.72" x2="86.10" y2="661.72" stroke="#000" stroke-width="2.5" />
<line x1="82.60" y1="603.84" x2="86.10" y2="603.84" stroke="#000" stroke-width="2.5" />
<line x1="82.60" y1="545.96" x2="86.10" y2="545.96" stroke="#000" stroke-width="2.5" />
<line x1="82.60" y1="876.10" x2="82.60" y2="869.30" stroke="#000" stroke-width="2.5" />
<text transform="translate(62.60 902.20) scale(1 1.020)" font-size="24.20" font-weight="bold" fill="#000">300</text>
<line x1="164.55" y1="876.10" x2="164.55" y2="869.30" stroke="#000" stroke-width="2.5" />
<text transform="translate(144.65 902.20) scale(1 1.020)" font-size="24.20" font-weight="bold" fill="#000">400</text>
<line x1="246.50" y1="876.10" x2="246.50" y2="869.30" stroke="#000" stroke-width="2.5" />
<text transform="translate(226.41 902.20) scale(1 1.020)" font-size="24.20" font-weight="bold" fill="#000">500</text>
<line x1="328.45" y1="876.10" x2="328.45" y2="869.30" stroke="#000" stroke-width="2.5" />
<text transform="translate(308.30 902.20) scale(1 1.020)" font-size="24.20" font-weight="bold" fill="#000">600</text>
<line x1="410.40" y1="876.10" x2="410.40" y2="869.30" stroke="#000" stroke-width="2.5" />
<text transform="translate(390.16 902.20) scale(1 1.020)" font-size="24.20" font-weight="bold" fill="#000">700</text>
<line x1="492.35" y1="876.10" x2="492.35" y2="869.30" stroke="#000" stroke-width="2.5" />
<text transform="translate(472.26 902.20) scale(1 1.020)" font-size="24.20" font-weight="bold" fill="#000">800</text>
<line x1="574.30" y1="876.10" x2="574.30" y2="869.30" stroke="#000" stroke-width="2.5" />
<text transform="translate(554.18 902.20) scale(1 1.020)" font-size="24.20" font-weight="bold" fill="#000">900</text>
<line x1="123.57" y1="876.10" x2="123.57" y2="872.60" stroke="#000" stroke-width="2.5" />
<line x1="205.52" y1="876.10" x2="205.52" y2="872.60" stroke="#000" stroke-width="2.5" />
<line x1="287.47" y1="876.10" x2="287.47" y2="872.60" stroke="#000" stroke-width="2.5" />
<line x1="369.42" y1="876.10" x2="369.42" y2="872.60" stroke="#000" stroke-width="2.5" />
<line x1="451.38" y1="876.10" x2="451.38" y2="872.60" stroke="#000" stroke-width="2.5" />
<line x1="533.32" y1="876.10" x2="533.32" y2="872.60" stroke="#000" stroke-width="2.5" />
<text x="218.60" y="931.00" font-size="27.57" font-weight="bold" text-anchor="start" fill="#000" >Wavelength (nm)</text>
<text x="29.80" y="771.70" font-size="28.15" font-weight="bold" text-anchor="start" fill="#000" transform="rotate(-90 29.80 771.70)" >Absorbance</text>
<text x="-0.80" y="491.40" font-size="40.3" font-weight="bold" text-anchor="start" fill="#000" >c</text>
<text x="133.48" y="535.25" font-size="27.42" font-weight="bold" text-anchor="start" fill="#000" >TDY-α</text>
<line x1="132.50" y1="570.30" x2="174.00" y2="570.30" stroke="#ff0000" stroke-width="4.0" />
<text x="179.29" y="576.50" font-size="19.01" font-weight="bold" text-anchor="start" fill="#000" >0.01 mg ml</text>
<text x="282.25" y="570.20" font-size="11.5" font-weight="bold">-1</text>
<line x1="132.50" y1="596.60" x2="174.00" y2="596.60" stroke="#000" stroke-width="4.0" />
<text x="179.29" y="602.75" font-size="19.00" font-weight="bold" text-anchor="start" fill="#000" >0.001 mg ml</text>
<text x="292.75" y="596.45" font-size="11.5" font-weight="bold">-1</text>
<line x1="132.50" y1="622.90" x2="174.00" y2="622.90" stroke="#0000ff" stroke-width="4.0" />
<text x="179.29" y="629.00" font-size="19.04" font-weight="bold" text-anchor="start" fill="#000" >0.0001 mg ml</text>
<text x="303.50" y="622.70" font-size="11.5" font-weight="bold">-1</text>
<path d="M694.95 548.44C700.78 548.32 715.77 547.94 729.93 547.69C744.08 547.44 763.23 547.15 779.89 546.95C796.54 546.74 815.28 546.65 829.85 546.45C844.42 546.24 857.33 546.03 867.32 545.70C877.31 545.36 883.98 545.07 889.81 544.45C895.63 543.82 898.96 542.62 902.30 541.95C905.63 541.28 907.71 540.45 909.79 540.45C911.87 540.45 911.46 541.70 914.79 541.95C918.12 542.20 923.11 542.03 929.78 541.95C936.44 541.87 949.31 541.45 954.76 541.45C960.20 541.45 959.09 542.16 962.45 541.95C965.82 541.74 970.36 541.12 974.94 540.20C979.52 539.28 985.35 537.49 989.93 536.45C994.51 535.41 998.68 534.50 1002.42 533.96C1006.17 533.41 1008.67 533.12 1012.42 533.21C1016.16 533.29 1020.33 533.83 1024.91 534.45C1029.49 535.08 1035.32 536.33 1039.90 536.95C1044.47 537.58 1048.85 538.08 1052.39 538.20C1055.92 538.33 1058.96 537.49 1061.13 537.70C1063.29 537.91 1064.25 537.79 1065.38 539.45C1066.50 541.12 1067.12 543.61 1067.87 547.69C1068.62 551.78 1069.29 558.40 1069.87 563.93C1070.46 569.47 1071.12 578.09 1071.37 580.92" fill="none" stroke="#ff0000" stroke-width="3.5" stroke-linejoin="round" stroke-linecap="butt" stroke-linecap="round"/>
<path d="M694.95 583.17C709.11 583.21 749.08 583.29 779.89 583.42C810.70 583.54 851.47 583.83 879.81 583.92C908.16 584.00 930.78 583.92 949.96 583.92C969.15 583.92 984.52 583.58 994.93 583.92C1005.34 584.25 1007.00 584.88 1012.42 585.92C1017.83 586.96 1022.82 588.41 1027.40 590.16C1031.98 591.91 1036.56 594.53 1039.90 596.41C1043.23 598.28 1045.31 600.03 1047.39 601.40C1049.47 602.78 1050.72 604.86 1052.39 604.65C1054.05 604.44 1055.92 602.15 1057.38 600.16C1058.84 598.16 1060.09 595.16 1061.13 592.66C1062.17 590.16 1062.67 587.04 1063.63 585.17C1064.58 583.29 1065.58 582.13 1066.87 581.42C1068.17 580.71 1070.62 581.00 1071.37 580.92" fill="none" stroke="#ff0000" stroke-width="3.5" stroke-linejoin="round" stroke-linecap="butt" stroke-linecap="round"/>
<path d="M694.95 650.62C709.11 650.41 751.58 649.83 779.89 649.37C808.20 648.91 836.48 648.29 864.82 647.87C893.17 647.45 927.45 647.41 949.96 646.87C972.48 646.33 987.43 645.45 999.93 644.62C1012.42 643.79 1017.41 642.91 1024.91 641.87C1032.40 640.83 1039.06 639.21 1044.89 638.38C1050.72 637.54 1055.30 637.13 1059.88 636.88C1064.46 636.63 1069.37 636.46 1072.37 636.88C1075.37 637.29 1076.45 637.38 1077.87 639.38C1079.28 641.37 1080.07 645.20 1080.86 648.87C1081.66 652.53 1082.11 657.61 1082.61 661.36C1083.11 665.11 1083.65 669.69 1083.86 671.35" fill="none" stroke="#0000ff" stroke-width="3.5" stroke-linejoin="round" stroke-linecap="butt" stroke-linecap="round"/>
<path d="M694.95 689.59C721.60 689.63 808.17 689.84 854.83 689.84C901.50 689.84 949.93 689.51 974.94 689.59C999.96 689.67 996.59 689.96 1004.92 690.34C1013.25 690.71 1018.66 690.96 1024.91 691.84C1031.15 692.71 1037.40 694.00 1042.39 695.58C1047.39 697.17 1051.55 699.62 1054.88 701.33C1058.21 703.04 1060.38 704.70 1062.38 705.83C1064.38 706.95 1065.42 708.41 1066.87 708.07C1068.33 707.74 1069.79 706.20 1071.12 703.83C1072.45 701.45 1073.83 697.58 1074.87 693.84C1075.91 690.09 1076.53 684.88 1077.37 681.34C1078.20 677.81 1078.78 674.27 1079.87 672.60C1080.95 670.94 1083.20 671.56 1083.86 671.35" fill="none" stroke="#0000ff" stroke-width="3.5" stroke-linejoin="round" stroke-linecap="butt" stroke-linecap="round"/>
<path d="M694.95 757.96C704.94 757.63 736.59 756.51 754.91 755.97C773.23 755.43 793.21 755.13 804.87 754.72C816.53 754.30 812.36 753.59 824.85 753.47C837.34 753.34 854.80 754.18 879.81 753.97C904.83 753.76 946.60 752.80 974.94 752.22C1003.29 751.64 1029.07 751.01 1049.89 750.47C1070.71 749.93 1085.28 749.51 1099.85 748.97C1114.42 748.43 1128.16 747.64 1137.32 747.22C1146.48 746.81 1150.94 746.47 1154.81 746.47C1158.68 746.47 1158.97 746.27 1160.55 747.22C1162.14 748.18 1163.26 749.51 1164.30 752.22C1165.34 754.93 1166.05 759.59 1166.80 763.46C1167.55 767.33 1168.47 773.45 1168.80 775.45" fill="none" stroke="#000" stroke-width="3.5" stroke-linejoin="round" stroke-linecap="butt" stroke-linecap="round"/>
<path d="M694.95 777.20C721.60 777.24 804.00 777.37 854.83 777.45C905.66 777.53 963.67 777.66 999.93 777.70C1036.18 777.74 1059.88 777.91 1072.37 777.70C1084.86 777.49 1066.96 776.66 1074.87 776.45C1082.78 776.24 1110.68 776.20 1119.84 776.45C1128.99 776.70 1126.91 776.99 1129.83 777.95C1132.74 778.91 1135.24 780.03 1137.32 782.20C1139.40 784.36 1140.86 786.57 1142.32 790.94C1143.78 795.31 1145.02 801.77 1146.07 808.43C1147.11 815.09 1147.81 823.83 1148.56 830.91C1149.31 837.99 1149.94 846.73 1150.56 850.90C1151.19 855.06 1151.73 855.89 1152.31 855.89C1152.89 855.89 1153.43 855.47 1154.06 850.90C1154.68 846.32 1155.31 836.74 1156.06 828.41C1156.81 820.08 1157.72 808.22 1158.56 800.93C1159.39 793.65 1160.01 788.65 1161.05 784.69C1162.10 780.74 1163.51 778.74 1164.80 777.20C1166.09 775.66 1168.13 775.74 1168.80 775.45" fill="none" stroke="#000" stroke-width="3.5" stroke-linejoin="round" stroke-linecap="butt" stroke-linecap="round"/>
<path d="M694.50 875.80V499.40H1182.20V875.80" fill="none" stroke="#000" stroke-width="2.75" stroke-linecap="square"/>
<path d="M693.12 875.80H1183.58" fill="none" stroke="#000" stroke-width="3.15" stroke-linecap="butt"/>
<line x1="694.50" y1="875.80" x2="694.50" y2="869.00" stroke="#000" stroke-width="2.5" />
<text transform="translate(676.07 901.90) scale(1 1.050)" font-size="22.40" font-weight="bold" fill="#000">150</text>
<line x1="851.87" y1="875.80" x2="851.87" y2="869.00" stroke="#000" stroke-width="2.5" />
<text transform="translate(833.50 901.90) scale(1 1.050)" font-size="22.40" font-weight="bold" fill="#000">200</text>
<line x1="1009.24" y1="875.80" x2="1009.24" y2="869.00" stroke="#000" stroke-width="2.5" />
<text transform="translate(990.87 901.90) scale(1 1.050)" font-size="22.40" font-weight="bold" fill="#000">250</text>
<line x1="1166.61" y1="875.80" x2="1166.61" y2="869.00" stroke="#000" stroke-width="2.5" />
<text transform="translate(1148.35 901.90) scale(1 1.050)" font-size="22.40" font-weight="bold" fill="#000">300</text>
<line x1="773.18" y1="875.80" x2="773.18" y2="872.30" stroke="#000" stroke-width="2.5" />
<line x1="930.56" y1="875.80" x2="930.56" y2="872.30" stroke="#000" stroke-width="2.5" />
<line x1="1087.92" y1="875.80" x2="1087.92" y2="872.30" stroke="#000" stroke-width="2.5" />
<text x="819.72" y="931.00" font-size="27.84" font-weight="bold" text-anchor="start" fill="#000" >Temperature (°C)</text>
<text x="677.50" y="796.60" font-size="28.51" font-weight="bold" text-anchor="start" fill="#000" transform="rotate(-90 677.50 796.60)" >Heat flow (a.u.)</text>
<text x="644.20" y="491.20" font-size="40.3" font-weight="bold" text-anchor="start" fill="#000" >d</text>
<text x="717.25" y="537.70" font-size="25.24" font-weight="bold" text-anchor="start" fill="#000" >TDY-α</text>
<text x="720.25" y="643.50" font-size="25.48" font-weight="bold" text-anchor="start" fill="#000" >TDY-β</text>
<text x="729.63" y="742.25" font-size="24.89" font-weight="bold" text-anchor="start" fill="#000" >Y6</text>
<text x="707.11" y="856.75" font-size="25.22" font-weight="bold" text-anchor="start" fill="#000" >Exo Up</text>
<clipPath id="cliph1"><rect x="1314.90" y="15.00" width="271.60" height="237.70"/></clipPath>
<g clip-path="url(#cliph1)">
<rect x="1313.90" y="14.00" width="273.60" height="239.70" fill="#333399"/>
<g filter="url(#hblur)">
<path d="M1422.2 80.1L1423.4 75.0L1422.5 68.6L1419.3 61.5L1413.6 53.8L1405.3 46.2L1394.7 39.1L1382.0 33.0L1367.8 28.3L1352.7 25.4L1338.0 24.4L1323.3 25.4L1308.2 28.3L1294.0 33.0L1281.3 39.1L1270.7 46.2L1262.4 53.8L1256.7 61.5L1253.5 68.6L1252.6 75.0L1253.8 80.1L1260.0 91.0L1265.3 97.2L1271.0 101.7L1277.4 104.9L1284.3 107.1L1291.9 108.5L1300.2 109.0L1309.6 109.0L1320.6 108.5L1338.0 107.9L1355.4 108.5L1366.4 109.0L1375.8 109.0L1384.1 108.5L1391.7 107.1L1398.6 104.9L1405.0 101.7L1410.7 97.2L1416.0 91.0Z" fill="#2e3da3"/>
<path d="M1320.8 200.0L1320.5 203.1L1319.6 205.9L1318.2 207.9L1316.4 209.0L1314.6 209.0L1312.8 207.9L1311.4 205.9L1310.5 203.1L1310.2 200.0L1310.5 196.9L1311.4 194.1L1312.8 192.1L1314.6 191.0L1316.4 191.0L1318.2 192.1L1319.6 194.1L1320.5 196.9Z" fill="#2e3da3"/>
<path d="M1366.3 199.8L1367.4 203.0L1367.8 206.0L1367.5 208.6L1366.4 210.4L1364.8 211.2L1362.7 210.9L1360.5 209.5L1358.4 207.2L1356.7 204.2L1355.6 201.0L1355.2 198.0L1355.5 195.4L1356.6 193.6L1358.2 192.8L1360.3 193.1L1362.5 194.5L1364.6 196.8Z" fill="#2e3da3"/>
<path d="M1337.7 212.5L1343.5 230.8L1331.9 230.8Z" fill="#2e3da3"/>
<path d="M1374.5 245.3L1375.3 256.3L1375.2 266.1L1374.3 273.4L1372.7 277.4L1370.5 277.6L1368.1 274.0L1365.7 267.1L1363.6 257.6L1362.1 246.7L1361.3 235.7L1361.4 225.9L1362.3 218.6L1363.9 214.6L1366.1 214.4L1368.5 218.0L1370.9 224.9L1373.0 234.4Z" fill="#2e3da3"/>
<path d="M1383.7 248.0L1383.3 252.8L1381.9 257.0L1379.9 260.1L1377.3 261.7L1374.7 261.7L1372.1 260.1L1370.1 257.0L1368.7 252.8L1368.3 248.0L1368.7 243.2L1370.1 239.0L1372.1 235.9L1374.7 234.3L1377.3 234.3L1379.9 235.9L1381.9 239.0L1383.3 243.2Z" fill="#2e3da3"/>
<path d="M1387.9 251.6L1388.2 258.3L1387.9 264.2L1387.0 268.6L1385.7 271.1L1384.1 271.2L1382.3 269.0L1380.7 264.8L1379.4 259.0L1378.5 252.4L1378.2 245.7L1378.5 239.8L1379.4 235.4L1380.7 232.9L1382.3 232.8L1384.1 235.0L1385.7 239.2L1387.0 245.0Z" fill="#2e3da3"/>
<path d="M1363.8 253.0L1363.6 256.4L1363.0 259.4L1362.2 261.6L1361.1 262.7L1360.1 262.7L1359.0 261.6L1358.2 259.4L1357.6 256.4L1357.4 253.0L1357.6 249.6L1358.2 246.6L1359.0 244.4L1360.1 243.3L1361.1 243.3L1362.2 244.4L1363.0 246.6L1363.6 249.6Z" fill="#2e3da3"/>
<path d="M1396.0 253.3L1394.6 254.3L1390.4 255.2L1384.0 255.9L1376.2 256.3L1367.8 256.3L1360.0 255.9L1353.6 255.2L1349.4 254.3L1348.0 253.3L1349.4 252.3L1353.6 251.4L1360.0 250.7L1367.8 250.3L1376.2 250.3L1384.0 250.7L1390.4 251.4L1394.6 252.3Z" fill="#2e3da3"/>
<path d="M1421.5 79.7L1422.7 74.7L1421.8 68.4L1418.5 61.3L1412.8 53.8L1404.7 46.3L1394.1 39.3L1381.6 33.2L1367.5 28.6L1352.5 25.8L1338.0 24.9L1323.5 25.8L1308.5 28.6L1294.4 33.2L1281.9 39.3L1271.3 46.3L1263.2 53.8L1257.5 61.3L1254.2 68.4L1253.3 74.7L1254.5 79.7L1260.5 90.5L1265.8 96.6L1271.5 101.1L1277.7 104.3L1284.6 106.4L1292.1 107.8L1300.5 108.4L1309.8 108.3L1320.8 107.8L1338.0 107.2L1355.2 107.8L1366.2 108.3L1375.5 108.4L1383.9 107.8L1391.4 106.4L1398.3 104.3L1404.5 101.1L1410.2 96.6L1415.5 90.5Z" fill="#2a44aa"/>
<path d="M1320.1 200.0L1319.8 202.7L1319.0 205.1L1317.8 206.9L1316.3 207.8L1314.7 207.8L1313.2 206.9L1312.0 205.1L1311.2 202.7L1310.9 200.0L1311.2 197.3L1312.0 194.9L1313.2 193.1L1314.7 192.2L1316.3 192.2L1317.8 193.1L1319.0 194.9L1319.8 197.3Z" fill="#2a44aa"/>
<path d="M1365.6 200.1L1366.6 202.8L1367.0 205.5L1366.7 207.7L1365.8 209.3L1364.3 209.9L1362.6 209.6L1360.7 208.4L1358.9 206.4L1357.4 203.9L1356.4 201.2L1356.0 198.5L1356.3 196.3L1357.2 194.7L1358.7 194.1L1360.4 194.4L1362.3 195.6L1364.1 197.6Z" fill="#2a44aa"/>
<path d="M1337.7 212.7L1343.4 230.8L1332.0 230.8Z" fill="#2a44aa"/>
<path d="M1373.9 245.4L1374.6 255.3L1374.5 264.0L1373.7 270.6L1372.2 274.2L1370.3 274.4L1368.1 271.2L1366.0 264.9L1364.1 256.4L1362.7 246.6L1362.0 236.7L1362.1 228.0L1362.9 221.4L1364.4 217.8L1366.3 217.6L1368.5 220.8L1370.6 227.1L1372.5 235.6Z" fill="#2a44aa"/>
<path d="M1382.5 248.0L1382.1 252.0L1381.0 255.6L1379.3 258.2L1377.1 259.6L1374.9 259.6L1372.7 258.2L1371.0 255.6L1369.9 252.0L1369.5 248.0L1369.9 244.0L1371.0 240.4L1372.7 237.8L1374.9 236.4L1377.1 236.4L1379.3 237.8L1381.0 240.4L1382.1 244.0Z" fill="#2a44aa"/>
<path d="M1387.4 251.6L1387.7 257.7L1387.4 263.0L1386.6 267.0L1385.4 269.2L1384.0 269.4L1382.4 267.4L1381.0 263.6L1379.8 258.4L1379.0 252.4L1378.7 246.3L1379.0 241.0L1379.8 237.0L1381.0 234.8L1382.4 234.6L1384.0 236.6L1385.4 240.4L1386.6 245.6Z" fill="#2a44aa"/>
<path d="M1363.5 253.0L1363.3 256.1L1362.8 258.8L1362.0 260.8L1361.1 261.8L1360.1 261.8L1359.2 260.8L1358.4 258.8L1357.9 256.1L1357.7 253.0L1357.9 249.9L1358.4 247.2L1359.2 245.2L1360.1 244.2L1361.1 244.2L1362.0 245.2L1362.8 247.2L1363.3 249.9Z" fill="#2a44aa"/>
<path d="M1393.8 253.3L1392.5 254.2L1388.7 255.1L1382.9 255.7L1375.8 256.0L1368.2 256.0L1361.1 255.7L1355.3 255.1L1351.5 254.2L1350.2 253.3L1351.5 252.4L1355.3 251.5L1361.1 250.9L1368.2 250.6L1375.8 250.6L1382.9 250.9L1388.7 251.5L1392.5 252.4Z" fill="#2a44aa"/>
<path d="M1420.8 79.4L1421.9 74.4L1421.0 68.2L1417.8 61.2L1412.1 53.8L1404.0 46.4L1393.5 39.5L1381.1 33.5L1367.1 29.0L1352.3 26.2L1338.0 25.3L1323.7 26.2L1308.9 29.0L1294.9 33.5L1282.5 39.5L1272.0 46.4L1263.9 53.8L1258.2 61.2L1255.0 68.2L1254.1 74.4L1255.2 79.4L1261.1 90.0L1266.3 96.0L1271.9 100.4L1278.1 103.6L1284.9 105.8L1292.4 107.1L1300.7 107.7L1310.0 107.7L1320.9 107.2L1338.0 106.6L1355.1 107.2L1366.0 107.7L1375.3 107.7L1383.6 107.1L1391.1 105.8L1397.9 103.6L1404.1 100.4L1409.7 96.0L1414.9 90.0Z" fill="#274bb1"/>
<path d="M1319.6 200.0L1319.4 202.4L1318.7 204.6L1317.6 206.2L1316.2 207.0L1314.8 207.0L1313.4 206.2L1312.3 204.6L1311.6 202.4L1311.4 200.0L1311.6 197.6L1312.3 195.4L1313.4 193.8L1314.8 193.0L1316.2 193.0L1317.6 193.8L1318.7 195.4L1319.4 197.6Z" fill="#274bb1"/>
<path d="M1365.2 200.3L1366.1 202.7L1366.4 205.1L1366.1 207.1L1365.3 208.5L1364.0 209.1L1362.4 208.8L1360.7 207.7L1359.1 206.0L1357.8 203.7L1356.9 201.3L1356.6 198.9L1356.9 196.9L1357.7 195.5L1359.0 194.9L1360.6 195.2L1362.3 196.3L1363.9 198.0Z" fill="#274bb1"/>
<path d="M1337.7 212.9L1343.4 230.8L1332.0 230.8Z" fill="#274bb1"/>
<path d="M1373.5 245.5L1374.1 254.6L1374.1 262.7L1373.3 268.8L1372.0 272.2L1370.2 272.3L1368.1 269.4L1366.1 263.5L1364.4 255.6L1363.1 246.5L1362.5 237.4L1362.5 229.3L1363.3 223.2L1364.6 219.8L1366.4 219.7L1368.5 222.6L1370.5 228.5L1372.2 236.4Z" fill="#274bb1"/>
<path d="M1381.7 248.0L1381.4 251.5L1380.4 254.6L1378.8 256.9L1377.0 258.1L1375.0 258.1L1373.2 256.9L1371.6 254.6L1370.6 251.5L1370.3 248.0L1370.6 244.5L1371.6 241.4L1373.2 239.1L1375.0 237.9L1377.0 237.9L1378.8 239.1L1380.4 241.4L1381.4 244.5Z" fill="#274bb1"/>
<path d="M1387.1 251.7L1387.4 257.3L1387.1 262.3L1386.4 266.0L1385.3 268.1L1383.9 268.2L1382.5 266.4L1381.1 262.8L1380.0 257.9L1379.3 252.3L1379.0 246.7L1379.3 241.7L1380.0 238.0L1381.1 235.9L1382.5 235.8L1383.9 237.6L1385.3 241.2L1386.4 246.1Z" fill="#274bb1"/>
<path d="M1363.3 253.0L1363.1 255.9L1362.7 258.4L1361.9 260.3L1361.1 261.3L1360.1 261.3L1359.3 260.3L1358.5 258.4L1358.1 255.9L1357.9 253.0L1358.1 250.1L1358.5 247.6L1359.3 245.7L1360.1 244.7L1361.1 244.7L1361.9 245.7L1362.7 247.6L1363.1 250.1Z" fill="#274bb1"/>
<path d="M1392.5 253.3L1391.2 254.2L1387.7 254.9L1382.2 255.5L1375.6 255.8L1368.4 255.8L1361.8 255.5L1356.3 254.9L1352.8 254.2L1351.5 253.3L1352.8 252.4L1356.3 251.7L1361.8 251.1L1368.4 250.8L1375.6 250.8L1382.2 251.1L1387.7 251.7L1391.2 252.4Z" fill="#274bb1"/>
<path d="M1420.0 79.0L1421.1 74.1L1420.2 68.0L1417.0 61.1L1411.3 53.8L1403.3 46.5L1392.9 39.7L1380.6 33.8L1366.8 29.4L1352.2 26.6L1338.0 25.7L1323.8 26.6L1309.2 29.4L1295.4 33.8L1283.1 39.7L1272.7 46.5L1264.7 53.8L1259.0 61.1L1255.8 68.0L1254.9 74.1L1256.0 79.0L1261.7 89.5L1266.8 95.4L1272.3 99.8L1278.5 102.9L1285.3 105.1L1292.7 106.4L1301.0 107.0L1310.2 107.0L1321.1 106.5L1338.0 106.0L1354.9 106.5L1365.8 107.0L1375.0 107.0L1383.3 106.4L1390.7 105.1L1397.5 102.9L1403.7 99.8L1409.2 95.4L1414.3 89.5Z" fill="#2452b8"/>
<path d="M1319.3 200.0L1319.0 202.2L1318.4 204.2L1317.4 205.6L1316.2 206.4L1314.8 206.4L1313.6 205.6L1312.6 204.2L1312.0 202.2L1311.7 200.0L1312.0 197.8L1312.6 195.8L1313.6 194.4L1314.8 193.6L1316.2 193.6L1317.4 194.4L1318.4 195.8L1319.0 197.8Z" fill="#2452b8"/>
<path d="M1364.8 200.4L1365.6 202.7L1365.9 204.8L1365.7 206.6L1364.9 207.9L1363.8 208.4L1362.4 208.2L1360.8 207.2L1359.4 205.6L1358.2 203.6L1357.4 201.3L1357.1 199.2L1357.3 197.4L1358.1 196.1L1359.2 195.6L1360.6 195.8L1362.2 196.8L1363.6 198.4Z" fill="#2452b8"/>
<path d="M1337.7 213.1L1343.3 230.8L1332.1 230.8Z" fill="#2452b8"/>
<path d="M1373.2 245.5L1373.8 254.1L1373.7 261.7L1373.0 267.4L1371.7 270.6L1370.0 270.8L1368.1 268.0L1366.3 262.5L1364.6 255.1L1363.4 246.5L1362.8 237.9L1362.9 230.3L1363.6 224.6L1364.9 221.4L1366.6 221.2L1368.5 224.0L1370.3 229.5L1372.0 236.9Z" fill="#2452b8"/>
<path d="M1381.0 248.0L1380.7 251.1L1379.9 253.8L1378.5 255.8L1376.9 256.9L1375.1 256.9L1373.5 255.8L1372.1 253.8L1371.3 251.1L1371.0 248.0L1371.3 244.9L1372.1 242.2L1373.5 240.2L1375.1 239.1L1376.9 239.1L1378.5 240.2L1379.9 242.2L1380.7 244.9Z" fill="#2452b8"/>
<path d="M1386.9 251.7L1387.2 257.0L1386.9 261.7L1386.2 265.3L1385.2 267.2L1383.9 267.3L1382.5 265.6L1381.2 262.2L1380.2 257.6L1379.5 252.3L1379.2 247.0L1379.5 242.3L1380.2 238.7L1381.2 236.8L1382.5 236.7L1383.9 238.4L1385.2 241.8L1386.2 246.4Z" fill="#2452b8"/>
<path d="M1363.1 253.0L1363.0 255.7L1362.5 258.1L1361.9 259.9L1361.0 260.8L1360.2 260.8L1359.3 259.9L1358.7 258.1L1358.2 255.7L1358.1 253.0L1358.2 250.3L1358.7 247.9L1359.3 246.1L1360.2 245.2L1361.0 245.2L1361.9 246.1L1362.5 247.9L1363.0 250.3Z" fill="#2452b8"/>
<path d="M1391.4 253.3L1390.3 254.1L1386.9 254.9L1381.7 255.4L1375.4 255.7L1368.6 255.7L1362.3 255.4L1357.1 254.9L1353.7 254.1L1352.6 253.3L1353.7 252.5L1357.1 251.7L1362.3 251.2L1368.6 250.9L1375.4 250.9L1381.7 251.2L1386.9 251.7L1390.3 252.5Z" fill="#2452b8"/>
<path d="M1419.3 78.7L1420.4 73.8L1419.4 67.8L1416.2 61.0L1410.6 53.8L1402.6 46.6L1392.3 39.9L1380.1 34.1L1366.5 29.8L1352.0 27.0L1338.0 26.2L1324.0 27.0L1309.5 29.8L1295.9 34.1L1283.7 39.9L1273.4 46.6L1265.4 53.8L1259.8 61.0L1256.6 67.8L1255.6 73.8L1256.7 78.7L1262.3 89.0L1267.3 94.9L1272.8 99.2L1278.9 102.3L1285.6 104.4L1293.0 105.7L1301.2 106.3L1310.4 106.3L1321.2 105.9L1338.0 105.3L1354.8 105.9L1365.6 106.3L1374.8 106.3L1383.0 105.7L1390.4 104.4L1397.1 102.3L1403.2 99.2L1408.7 94.9L1413.7 89.0Z" fill="#2058be"/>
<path d="M1319.0 200.0L1318.7 202.0L1318.1 203.8L1317.2 205.1L1316.1 205.8L1314.9 205.8L1313.8 205.1L1312.9 203.8L1312.3 202.0L1312.0 200.0L1312.3 198.0L1312.9 196.2L1313.8 194.9L1314.9 194.2L1316.1 194.2L1317.2 194.9L1318.1 196.2L1318.7 198.0Z" fill="#2058be"/>
<path d="M1364.5 200.6L1365.3 202.6L1365.5 204.6L1365.3 206.2L1364.6 207.4L1363.6 207.9L1362.3 207.6L1360.9 206.7L1359.6 205.3L1358.5 203.4L1357.7 201.4L1357.5 199.4L1357.7 197.8L1358.4 196.6L1359.4 196.1L1360.7 196.4L1362.1 197.3L1363.4 198.7Z" fill="#2058be"/>
<path d="M1337.7 213.3L1343.2 230.8L1332.2 230.8Z" fill="#2058be"/>
<path d="M1372.9 245.5L1373.5 253.7L1373.4 260.9L1372.8 266.3L1371.6 269.3L1370.0 269.5L1368.2 266.8L1366.4 261.6L1364.8 254.6L1363.7 246.5L1363.1 238.3L1363.2 231.1L1363.8 225.7L1365.0 222.7L1366.6 222.5L1368.4 225.2L1370.2 230.4L1371.8 237.4Z" fill="#2058be"/>
<path d="M1380.4 248.0L1380.2 250.7L1379.4 253.1L1378.2 254.9L1376.8 255.9L1375.2 255.9L1373.8 254.9L1372.6 253.1L1371.8 250.7L1371.6 248.0L1371.8 245.3L1372.6 242.9L1373.8 241.1L1375.2 240.1L1376.8 240.1L1378.2 241.1L1379.4 242.9L1380.2 245.3Z" fill="#2058be"/>
<path d="M1386.7 251.7L1387.0 256.8L1386.7 261.3L1386.1 264.6L1385.1 266.5L1383.9 266.6L1382.5 264.9L1381.3 261.7L1380.3 257.3L1379.7 252.3L1379.4 247.2L1379.7 242.7L1380.3 239.4L1381.3 237.5L1382.5 237.4L1383.9 239.1L1385.1 242.3L1386.1 246.7Z" fill="#2058be"/>
<path d="M1363.0 253.0L1362.9 255.6L1362.5 257.9L1361.8 259.6L1361.0 260.5L1360.2 260.5L1359.4 259.6L1358.7 257.9L1358.3 255.6L1358.2 253.0L1358.3 250.4L1358.7 248.1L1359.4 246.4L1360.2 245.5L1361.0 245.5L1361.8 246.4L1362.5 248.1L1362.9 250.4Z" fill="#2058be"/>
<path d="M1390.6 253.3L1389.5 254.1L1386.2 254.8L1381.3 255.3L1375.2 255.6L1368.8 255.6L1362.7 255.3L1357.8 254.8L1354.5 254.1L1353.4 253.3L1354.5 252.5L1357.8 251.8L1362.7 251.3L1368.8 251.0L1375.2 251.0L1381.3 251.3L1386.2 251.8L1389.5 252.5Z" fill="#2058be"/>
<path d="M1418.6 78.3L1419.6 73.5L1418.6 67.6L1415.4 60.9L1409.8 53.8L1401.9 46.7L1391.7 40.1L1379.7 34.4L1366.2 30.1L1351.9 27.5L1338.0 26.6L1324.1 27.5L1309.8 30.1L1296.3 34.4L1284.3 40.1L1274.1 46.7L1266.2 53.8L1260.6 60.9L1257.4 67.6L1256.4 73.5L1257.4 78.3L1262.9 88.4L1267.8 94.3L1273.2 98.5L1279.3 101.6L1286.0 103.8L1293.3 105.1L1301.5 105.6L1310.6 105.7L1321.4 105.2L1338.0 104.7L1354.6 105.2L1365.4 105.7L1374.5 105.6L1382.7 105.1L1390.0 103.8L1396.7 101.6L1402.8 98.5L1408.2 94.3L1413.1 88.4Z" fill="#1d5fc5"/>
<path d="M1318.7 200.0L1318.5 201.9L1317.9 203.5L1317.1 204.7L1316.1 205.4L1314.9 205.4L1313.9 204.7L1313.1 203.5L1312.5 201.9L1312.3 200.0L1312.5 198.1L1313.1 196.5L1313.9 195.3L1314.9 194.6L1316.1 194.6L1317.1 195.3L1317.9 196.5L1318.5 198.1Z" fill="#1d5fc5"/>
<path d="M1364.3 200.7L1364.9 202.6L1365.2 204.4L1365.0 205.9L1364.4 206.9L1363.4 207.4L1362.2 207.2L1360.9 206.3L1359.7 205.0L1358.7 203.3L1358.1 201.4L1357.8 199.6L1358.0 198.1L1358.6 197.1L1359.6 196.6L1360.8 196.8L1362.1 197.7L1363.3 199.0Z" fill="#1d5fc5"/>
<path d="M1337.7 213.6L1343.2 230.8L1332.2 230.8Z" fill="#1d5fc5"/>
<path d="M1372.7 245.5L1373.2 253.3L1373.2 260.2L1372.6 265.4L1371.4 268.2L1369.9 268.4L1368.2 265.8L1366.5 260.9L1365.0 254.2L1363.9 246.5L1363.4 238.7L1363.4 231.8L1364.0 226.6L1365.2 223.8L1366.7 223.6L1368.4 226.2L1370.1 231.1L1371.6 237.8Z" fill="#1d5fc5"/>
<path d="M1379.9 248.0L1379.7 250.4L1379.0 252.5L1377.9 254.1L1376.7 254.9L1375.3 254.9L1374.1 254.1L1373.0 252.5L1372.3 250.4L1372.1 248.0L1372.3 245.6L1373.0 243.5L1374.1 241.9L1375.3 241.1L1376.7 241.1L1377.9 241.9L1379.0 243.5L1379.7 245.6Z" fill="#1d5fc5"/>
<path d="M1386.6 251.7L1386.8 256.6L1386.6 260.9L1386.0 264.1L1385.0 265.9L1383.8 266.0L1382.6 264.4L1381.4 261.3L1380.4 257.1L1379.8 252.3L1379.6 247.4L1379.8 243.1L1380.4 239.9L1381.4 238.1L1382.6 238.0L1383.8 239.6L1385.0 242.7L1386.0 246.9Z" fill="#1d5fc5"/>
<path d="M1362.9 253.0L1362.8 255.5L1362.4 257.7L1361.8 259.3L1361.0 260.2L1360.2 260.2L1359.4 259.3L1358.8 257.7L1358.4 255.5L1358.3 253.0L1358.4 250.5L1358.8 248.3L1359.4 246.7L1360.2 245.8L1361.0 245.8L1361.8 246.7L1362.4 248.3L1362.8 250.5Z" fill="#1d5fc5"/>
<path d="M1389.9 253.3L1388.8 254.1L1385.7 254.7L1380.9 255.2L1375.1 255.5L1368.9 255.5L1363.1 255.2L1358.3 254.7L1355.2 254.1L1354.1 253.3L1355.2 252.5L1358.3 251.9L1363.1 251.4L1368.9 251.1L1375.1 251.1L1380.9 251.4L1385.7 251.9L1388.8 252.5Z" fill="#1d5fc5"/>
<path d="M1417.9 78.0L1418.9 73.2L1417.9 67.4L1414.6 60.7L1409.1 53.8L1401.2 46.8L1391.2 40.3L1379.2 34.7L1365.8 30.5L1351.7 27.9L1338.0 27.0L1324.3 27.9L1310.2 30.5L1296.8 34.7L1284.8 40.3L1274.8 46.8L1266.9 53.8L1261.4 60.7L1258.1 67.4L1257.1 73.2L1258.1 78.0L1263.5 87.9L1268.3 93.7L1273.7 97.9L1279.7 101.0L1286.3 103.1L1293.6 104.4L1301.7 105.0L1310.8 105.0L1321.5 104.6L1338.0 104.1L1354.5 104.6L1365.2 105.0L1374.3 105.0L1382.4 104.4L1389.7 103.1L1396.3 101.0L1402.3 97.9L1407.7 93.7L1412.5 87.9Z" fill="#1966cc"/>
<path d="M1318.4 200.0L1318.2 201.7L1317.7 203.2L1317.0 204.3L1316.0 204.9L1315.0 204.9L1314.0 204.3L1313.3 203.2L1312.8 201.7L1312.6 200.0L1312.8 198.3L1313.3 196.8L1314.0 195.7L1315.0 195.1L1316.0 195.1L1317.0 195.7L1317.7 196.8L1318.2 198.3Z" fill="#1966cc"/>
<path d="M1364.0 200.8L1364.6 202.5L1364.9 204.1L1364.7 205.5L1364.1 206.5L1363.2 206.9L1362.2 206.7L1361.0 206.0L1359.9 204.7L1359.0 203.2L1358.4 201.5L1358.1 199.9L1358.3 198.5L1358.9 197.5L1359.8 197.1L1360.8 197.3L1362.0 198.0L1363.1 199.3Z" fill="#1966cc"/>
<path d="M1337.7 213.8L1343.1 230.8L1332.3 230.8Z" fill="#1966cc"/>
<path d="M1372.5 245.6L1373.0 253.0L1373.0 259.6L1372.4 264.5L1371.3 267.2L1369.8 267.4L1368.2 265.0L1366.5 260.2L1365.1 253.8L1364.1 246.4L1363.6 239.0L1363.6 232.4L1364.2 227.5L1365.3 224.8L1366.8 224.6L1368.4 227.0L1370.1 231.8L1371.5 238.2Z" fill="#1966cc"/>
<path d="M1379.4 248.0L1379.2 250.1L1378.6 251.9L1377.7 253.2L1376.6 254.0L1375.4 254.0L1374.3 253.2L1373.4 251.9L1372.8 250.1L1372.6 248.0L1372.8 245.9L1373.4 244.1L1374.3 242.8L1375.4 242.0L1376.6 242.0L1377.7 242.8L1378.6 244.1L1379.2 245.9Z" fill="#1966cc"/>
<path d="M1386.5 251.7L1386.7 256.4L1386.5 260.5L1385.9 263.6L1384.9 265.3L1383.8 265.4L1382.6 263.9L1381.5 261.0L1380.5 256.9L1379.9 252.3L1379.7 247.6L1379.9 243.5L1380.5 240.4L1381.5 238.7L1382.6 238.6L1383.8 240.1L1384.9 243.0L1385.9 247.1Z" fill="#1966cc"/>
<path d="M1362.8 253.0L1362.7 255.4L1362.3 257.5L1361.7 259.1L1361.0 259.9L1360.2 259.9L1359.5 259.1L1358.9 257.5L1358.5 255.4L1358.4 253.0L1358.5 250.6L1358.9 248.5L1359.5 246.9L1360.2 246.1L1361.0 246.1L1361.7 246.9L1362.3 248.5L1362.7 250.6Z" fill="#1966cc"/>
<path d="M1389.2 253.3L1388.2 254.0L1385.2 254.7L1380.6 255.2L1375.0 255.4L1369.0 255.4L1363.4 255.2L1358.8 254.7L1355.8 254.0L1354.8 253.3L1355.8 252.6L1358.8 251.9L1363.4 251.4L1369.0 251.2L1375.0 251.2L1380.6 251.4L1385.2 251.9L1388.2 252.6Z" fill="#1966cc"/>
<path d="M1417.1 77.7L1418.1 73.0L1417.1 67.2L1413.9 60.6L1408.3 53.8L1400.5 46.9L1390.6 40.5L1378.7 35.0L1365.5 30.9L1351.5 28.3L1338.0 27.5L1324.5 28.3L1310.5 30.9L1297.3 35.0L1285.4 40.5L1275.5 46.9L1267.7 53.8L1262.1 60.6L1258.9 67.2L1257.9 73.0L1258.9 77.7L1264.1 87.4L1268.8 93.1L1274.1 97.3L1280.1 100.3L1286.7 102.4L1293.9 103.7L1302.0 104.3L1311.1 104.3L1321.7 103.9L1338.0 103.4L1354.3 103.9L1364.9 104.3L1374.0 104.3L1382.1 103.7L1389.3 102.4L1395.9 100.3L1401.9 97.3L1407.2 93.1L1411.9 87.4Z" fill="#166dd3"/>
<path d="M1318.2 200.0L1318.0 201.6L1317.5 202.9L1316.8 204.0L1316.0 204.5L1315.0 204.5L1314.2 204.0L1313.5 202.9L1313.0 201.6L1312.8 200.0L1313.0 198.4L1313.5 197.1L1314.2 196.0L1315.0 195.5L1316.0 195.5L1316.8 196.0L1317.5 197.1L1318.0 198.4Z" fill="#166dd3"/>
<path d="M1363.8 200.9L1364.3 202.5L1364.6 203.9L1364.4 205.2L1363.9 206.1L1363.1 206.4L1362.1 206.3L1361.0 205.6L1360.0 204.5L1359.2 203.1L1358.7 201.5L1358.4 200.1L1358.6 198.8L1359.1 197.9L1359.9 197.6L1360.9 197.7L1362.0 198.4L1363.0 199.5Z" fill="#166dd3"/>
<path d="M1337.7 214.0L1343.1 230.8L1332.3 230.8Z" fill="#166dd3"/>
<path d="M1372.3 245.6L1372.8 252.7L1372.8 259.0L1372.2 263.7L1371.1 266.3L1369.7 266.5L1368.2 264.2L1366.6 259.7L1365.3 253.5L1364.3 246.4L1363.8 239.3L1363.8 233.0L1364.4 228.3L1365.5 225.7L1366.9 225.5L1368.4 227.8L1370.0 232.3L1371.3 238.5Z" fill="#166dd3"/>
<path d="M1378.8 248.0L1378.7 249.7L1378.2 251.3L1377.4 252.4L1376.5 253.0L1375.5 253.0L1374.6 252.4L1373.8 251.3L1373.3 249.7L1373.2 248.0L1373.3 246.3L1373.8 244.7L1374.6 243.6L1375.5 243.0L1376.5 243.0L1377.4 243.6L1378.2 244.7L1378.7 246.3Z" fill="#166dd3"/>
<path d="M1386.3 251.7L1386.5 256.2L1386.3 260.2L1385.8 263.2L1384.9 264.8L1383.8 264.9L1382.6 263.5L1381.5 260.6L1380.6 256.7L1380.1 252.3L1379.9 247.8L1380.1 243.8L1380.6 240.8L1381.5 239.2L1382.6 239.1L1383.8 240.5L1384.9 243.4L1385.8 247.3Z" fill="#166dd3"/>
<path d="M1362.8 253.0L1362.6 255.3L1362.3 257.4L1361.7 258.9L1361.0 259.7L1360.2 259.7L1359.5 258.9L1358.9 257.4L1358.6 255.3L1358.4 253.0L1358.6 250.7L1358.9 248.6L1359.5 247.1L1360.2 246.3L1361.0 246.3L1361.7 247.1L1362.3 248.6L1362.6 250.7Z" fill="#166dd3"/>
<path d="M1388.7 253.3L1387.7 254.0L1384.8 254.6L1380.3 255.1L1374.9 255.4L1369.1 255.4L1363.7 255.1L1359.2 254.6L1356.3 254.0L1355.3 253.3L1356.3 252.6L1359.2 252.0L1363.7 251.5L1369.1 251.2L1374.9 251.2L1380.3 251.5L1384.8 252.0L1387.7 252.6Z" fill="#166dd3"/>
<path d="M1416.4 77.3L1417.3 72.7L1416.3 67.0L1413.1 60.5L1407.6 53.8L1399.9 47.0L1390.0 40.7L1378.3 35.4L1365.2 31.3L1351.4 28.7L1338.0 27.9L1324.6 28.7L1310.8 31.3L1297.7 35.4L1286.0 40.7L1276.1 47.0L1268.4 53.8L1262.9 60.5L1259.7 67.0L1258.7 72.7L1259.6 77.3L1264.7 87.0L1269.4 92.6L1274.6 96.7L1280.5 99.7L1287.0 101.7L1294.3 103.0L1302.3 103.6L1311.3 103.7L1321.8 103.3L1338.0 102.8L1354.2 103.3L1364.7 103.7L1373.7 103.6L1381.7 103.0L1389.0 101.7L1395.5 99.7L1401.4 96.7L1406.6 92.6L1411.3 87.0Z" fill="#1374da"/>
<path d="M1317.9 200.0L1317.8 201.4L1317.4 202.7L1316.7 203.6L1315.9 204.1L1315.1 204.1L1314.3 203.6L1313.6 202.7L1313.2 201.4L1313.1 200.0L1313.2 198.6L1313.6 197.3L1314.3 196.4L1315.1 195.9L1315.9 195.9L1316.7 196.4L1317.4 197.3L1317.8 198.6Z" fill="#1374da"/>
<path d="M1363.6 201.0L1364.1 202.4L1364.3 203.8L1364.1 204.9L1363.6 205.7L1362.9 206.0L1362.0 205.8L1361.1 205.2L1360.2 204.2L1359.4 203.0L1358.9 201.6L1358.7 200.2L1358.9 199.1L1359.4 198.3L1360.1 198.0L1361.0 198.2L1361.9 198.8L1362.8 199.8Z" fill="#1374da"/>
<path d="M1337.7 214.2L1343.0 230.8L1332.4 230.8Z" fill="#1374da"/>
<path d="M1372.2 245.6L1372.6 252.4L1372.6 258.5L1372.0 263.0L1371.0 265.5L1369.7 265.7L1368.2 263.4L1366.7 259.1L1365.4 253.2L1364.4 246.4L1364.0 239.6L1364.0 233.5L1364.6 229.0L1365.6 226.5L1366.9 226.3L1368.4 228.6L1369.9 232.9L1371.2 238.8Z" fill="#1374da"/>
<path d="M1378.2 248.0L1378.1 249.4L1377.7 250.6L1377.1 251.5L1376.4 252.0L1375.6 252.0L1374.9 251.5L1374.3 250.6L1373.9 249.4L1373.8 248.0L1373.9 246.6L1374.3 245.4L1374.9 244.5L1375.6 244.0L1376.4 244.0L1377.1 244.5L1377.7 245.4L1378.1 246.6Z" fill="#1374da"/>
<path d="M1386.2 251.7L1386.4 256.1L1386.2 259.9L1385.7 262.8L1384.8 264.4L1383.8 264.5L1382.6 263.1L1381.6 260.3L1380.7 256.6L1380.2 252.3L1380.0 247.9L1380.2 244.1L1380.7 241.2L1381.6 239.6L1382.6 239.5L1383.8 240.9L1384.8 243.7L1385.7 247.4Z" fill="#1374da"/>
<path d="M1362.7 253.0L1362.6 255.2L1362.2 257.2L1361.6 258.7L1361.0 259.4L1360.2 259.4L1359.6 258.7L1359.0 257.2L1358.6 255.2L1358.5 253.0L1358.6 250.8L1359.0 248.8L1359.6 247.3L1360.2 246.6L1361.0 246.6L1361.6 247.3L1362.2 248.8L1362.6 250.8Z" fill="#1374da"/>
<path d="M1388.1 253.3L1387.2 254.0L1384.4 254.6L1380.1 255.0L1374.8 255.3L1369.2 255.3L1363.9 255.0L1359.6 254.6L1356.8 254.0L1355.9 253.3L1356.8 252.6L1359.6 252.0L1363.9 251.6L1369.2 251.3L1374.8 251.3L1380.1 251.6L1384.4 252.0L1387.2 252.6Z" fill="#1374da"/>
<path d="M1415.7 77.0L1416.6 72.4L1415.5 66.8L1412.3 60.4L1406.9 53.8L1399.2 47.1L1389.4 40.9L1377.8 35.7L1364.9 31.6L1351.2 29.1L1338.0 28.3L1324.8 29.1L1311.1 31.6L1298.2 35.7L1286.6 40.9L1276.8 47.1L1269.1 53.8L1263.7 60.4L1260.5 66.8L1259.4 72.4L1260.3 77.0L1265.3 86.5L1269.9 92.0L1275.1 96.1L1280.9 99.0L1287.4 101.1L1294.6 102.3L1302.5 103.0L1311.5 103.0L1322.0 102.6L1338.0 102.2L1354.0 102.6L1364.5 103.0L1373.5 103.0L1381.4 102.3L1388.6 101.1L1395.1 99.0L1400.9 96.1L1406.1 92.0L1410.7 86.5Z" fill="#0f7ae0"/>
<path d="M1317.7 200.0L1317.6 201.3L1317.2 202.4L1316.6 203.3L1315.9 203.7L1315.1 203.7L1314.4 203.3L1313.8 202.4L1313.4 201.3L1313.3 200.0L1313.4 198.7L1313.8 197.6L1314.4 196.7L1315.1 196.3L1315.9 196.3L1316.6 196.7L1317.2 197.6L1317.6 198.7Z" fill="#0f7ae0"/>
<path d="M1363.3 201.1L1363.8 202.4L1364.0 203.6L1363.8 204.6L1363.4 205.3L1362.8 205.6L1362.0 205.4L1361.1 204.9L1360.3 204.0L1359.7 202.9L1359.2 201.6L1359.0 200.4L1359.2 199.4L1359.6 198.7L1360.2 198.4L1361.0 198.6L1361.9 199.1L1362.7 200.0Z" fill="#0f7ae0"/>
<path d="M1337.7 214.4L1342.9 230.8L1332.5 230.8Z" fill="#0f7ae0"/>
<path d="M1372.0 245.6L1372.5 252.2L1372.4 258.0L1371.9 262.4L1370.9 264.8L1369.6 264.9L1368.2 262.8L1366.7 258.6L1365.5 252.9L1364.6 246.4L1364.1 239.8L1364.2 234.0L1364.7 229.6L1365.7 227.2L1367.0 227.1L1368.4 229.2L1369.9 233.4L1371.1 239.1Z" fill="#0f7ae0"/>
<path d="M1377.5 248.0L1377.5 249.0L1377.2 249.8L1376.8 250.4L1376.3 250.7L1375.7 250.7L1375.2 250.4L1374.8 249.8L1374.5 249.0L1374.5 248.0L1374.5 247.0L1374.8 246.2L1375.2 245.6L1375.7 245.3L1376.3 245.3L1376.8 245.6L1377.2 246.2L1377.5 247.0Z" fill="#0f7ae0"/>
<path d="M1386.1 251.7L1386.3 255.9L1386.1 259.7L1385.6 262.5L1384.8 264.0L1383.7 264.1L1382.7 262.7L1381.6 260.0L1380.8 256.4L1380.3 252.3L1380.1 248.1L1380.3 244.3L1380.8 241.5L1381.6 240.0L1382.7 239.9L1383.7 241.3L1384.8 244.0L1385.6 247.6Z" fill="#0f7ae0"/>
<path d="M1362.6 253.0L1362.5 255.2L1362.2 257.1L1361.6 258.5L1361.0 259.2L1360.2 259.2L1359.6 258.5L1359.0 257.1L1358.7 255.2L1358.6 253.0L1358.7 250.8L1359.0 248.9L1359.6 247.5L1360.2 246.8L1361.0 246.8L1361.6 247.5L1362.2 248.9L1362.5 250.8Z" fill="#0f7ae0"/>
<path d="M1387.7 253.3L1386.7 254.0L1384.0 254.6L1379.8 255.0L1374.7 255.2L1369.3 255.2L1364.2 255.0L1360.0 254.6L1357.3 254.0L1356.3 253.3L1357.3 252.6L1360.0 252.0L1364.2 251.6L1369.3 251.4L1374.7 251.4L1379.8 251.6L1384.0 252.0L1386.7 252.6Z" fill="#0f7ae0"/>
<path d="M1414.9 76.7L1415.8 72.1L1414.7 66.6L1411.5 60.3L1406.1 53.8L1398.5 47.2L1388.8 41.2L1377.4 36.0L1364.6 32.0L1351.1 29.6L1338.0 28.8L1324.9 29.6L1311.4 32.0L1298.6 36.0L1287.2 41.2L1277.5 47.2L1269.9 53.8L1264.5 60.3L1261.3 66.6L1260.2 72.1L1261.1 76.7L1265.9 86.0L1270.4 91.4L1275.5 95.5L1281.3 98.4L1287.7 100.4L1294.9 101.7L1302.8 102.3L1311.7 102.3L1322.2 102.0L1338.0 101.5L1353.8 102.0L1364.3 102.3L1373.2 102.3L1381.1 101.7L1388.3 100.4L1394.7 98.4L1400.5 95.5L1405.6 91.4L1410.1 86.0Z" fill="#0c81e7"/>
<path d="M1317.5 200.0L1317.3 201.2L1317.0 202.2L1316.5 202.9L1315.8 203.3L1315.2 203.3L1314.5 202.9L1314.0 202.2L1313.7 201.2L1313.5 200.0L1313.7 198.8L1314.0 197.8L1314.5 197.1L1315.2 196.7L1315.8 196.7L1316.5 197.1L1317.0 197.8L1317.3 198.8Z" fill="#0c81e7"/>
<path d="M1363.1 201.2L1363.5 202.3L1363.6 203.4L1363.5 204.2L1363.2 204.9L1362.6 205.1L1361.9 205.0L1361.2 204.5L1360.5 203.7L1359.9 202.8L1359.5 201.7L1359.4 200.6L1359.5 199.8L1359.8 199.1L1360.4 198.9L1361.1 199.0L1361.8 199.5L1362.5 200.3Z" fill="#0c81e7"/>
<path d="M1337.7 214.6L1342.9 230.8L1332.5 230.8Z" fill="#0c81e7"/>
<path d="M1371.9 245.6L1372.3 251.9L1372.3 257.5L1371.8 261.8L1370.8 264.1L1369.6 264.2L1368.2 262.1L1366.8 258.1L1365.6 252.6L1364.7 246.4L1364.3 240.1L1364.3 234.5L1364.8 230.2L1365.8 227.9L1367.0 227.8L1368.4 229.9L1369.8 233.9L1371.0 239.4Z" fill="#0c81e7"/>
<path d="M1386.0 251.8L1386.2 255.8L1386.0 259.4L1385.5 262.1L1384.7 263.6L1383.7 263.7L1382.7 262.4L1381.7 259.8L1380.9 256.3L1380.4 252.2L1380.2 248.2L1380.4 244.6L1380.9 241.9L1381.7 240.4L1382.7 240.3L1383.7 241.6L1384.7 244.2L1385.5 247.7Z" fill="#0c81e7"/>
<path d="M1362.6 253.0L1362.5 255.1L1362.1 257.0L1361.6 258.3L1360.9 259.1L1360.3 259.1L1359.6 258.3L1359.1 257.0L1358.7 255.1L1358.6 253.0L1358.7 250.9L1359.1 249.0L1359.6 247.7L1360.3 246.9L1360.9 246.9L1361.6 247.7L1362.1 249.0L1362.5 250.9Z" fill="#0c81e7"/>
<path d="M1387.2 253.3L1386.3 254.0L1383.7 254.5L1379.6 254.9L1374.6 255.2L1369.4 255.2L1364.4 254.9L1360.3 254.5L1357.7 254.0L1356.8 253.3L1357.7 252.6L1360.3 252.1L1364.4 251.7L1369.4 251.4L1374.6 251.4L1379.6 251.7L1383.7 252.1L1386.3 252.6Z" fill="#0c81e7"/>
<path d="M1414.2 76.4L1415.0 71.9L1414.0 66.4L1410.8 60.2L1405.4 53.8L1397.8 47.3L1388.2 41.4L1376.9 36.3L1364.3 32.4L1350.9 30.0L1338.0 29.2L1325.1 30.0L1311.7 32.4L1299.1 36.3L1287.8 41.4L1278.2 47.3L1270.6 53.8L1265.2 60.2L1262.0 66.4L1261.0 71.9L1261.8 76.4L1266.5 85.5L1270.9 90.9L1276.0 94.9L1281.7 97.7L1288.1 99.8L1295.2 101.0L1303.1 101.6L1311.9 101.7L1322.3 101.3L1338.0 100.9L1353.7 101.3L1364.1 101.7L1372.9 101.6L1380.8 101.0L1387.9 99.8L1394.3 97.7L1400.0 94.9L1405.1 90.9L1409.5 85.5Z" fill="#0888ee"/>
<path d="M1317.2 200.0L1317.1 201.0L1316.8 201.9L1316.4 202.6L1315.8 202.9L1315.2 202.9L1314.6 202.6L1314.2 201.9L1313.9 201.0L1313.8 200.0L1313.9 199.0L1314.2 198.1L1314.6 197.4L1315.2 197.1L1315.8 197.1L1316.4 197.4L1316.8 198.1L1317.1 199.0Z" fill="#0888ee"/>
<path d="M1362.9 201.4L1363.2 202.3L1363.3 203.2L1363.2 203.9L1362.9 204.4L1362.4 204.6L1361.9 204.5L1361.2 204.1L1360.6 203.5L1360.1 202.6L1359.8 201.7L1359.7 200.8L1359.8 200.1L1360.1 199.6L1360.6 199.4L1361.1 199.5L1361.8 199.9L1362.4 200.5Z" fill="#0888ee"/>
<path d="M1337.7 214.8L1342.8 230.8L1332.6 230.8Z" fill="#0888ee"/>
<path d="M1371.7 245.6L1372.2 251.7L1372.1 257.1L1371.6 261.2L1370.7 263.4L1369.5 263.5L1368.2 261.5L1366.9 257.7L1365.7 252.4L1364.9 246.4L1364.4 240.3L1364.5 234.9L1365.0 230.8L1365.9 228.6L1367.1 228.5L1368.4 230.5L1369.7 234.3L1370.9 239.6Z" fill="#0888ee"/>
<path d="M1385.9 251.8L1386.1 255.7L1385.9 259.2L1385.4 261.8L1384.7 263.2L1383.7 263.3L1382.7 262.0L1381.7 259.5L1381.0 256.1L1380.5 252.2L1380.3 248.3L1380.5 244.8L1381.0 242.2L1381.7 240.8L1382.7 240.7L1383.7 242.0L1384.7 244.5L1385.4 247.9Z" fill="#0888ee"/>
<path d="M1362.5 253.0L1362.4 255.0L1362.1 256.8L1361.6 258.2L1360.9 258.9L1360.3 258.9L1359.6 258.2L1359.1 256.8L1358.8 255.0L1358.7 253.0L1358.8 251.0L1359.1 249.2L1359.6 247.8L1360.3 247.1L1360.9 247.1L1361.6 247.8L1362.1 249.2L1362.4 251.0Z" fill="#0888ee"/>
<path d="M1386.8 253.3L1385.9 253.9L1383.3 254.5L1379.4 254.9L1374.6 255.1L1369.4 255.1L1364.6 254.9L1360.7 254.5L1358.1 253.9L1357.2 253.3L1358.1 252.7L1360.7 252.1L1364.6 251.7L1369.4 251.5L1374.6 251.5L1379.4 251.7L1383.3 252.1L1385.9 252.7Z" fill="#0888ee"/>
<path d="M1413.5 76.0L1414.3 71.6L1413.2 66.2L1410.0 60.1L1404.6 53.8L1397.1 47.5L1387.6 41.6L1376.4 36.6L1363.9 32.8L1350.8 30.4L1338.0 29.6L1325.2 30.4L1312.1 32.8L1299.6 36.6L1288.4 41.6L1278.9 47.5L1271.4 53.8L1266.0 60.1L1262.8 66.2L1261.7 71.6L1262.5 76.0L1267.1 85.0L1271.5 90.3L1276.5 94.2L1282.1 97.1L1288.5 99.1L1295.5 100.3L1303.4 100.9L1312.2 101.0L1322.5 100.7L1338.0 100.3L1353.5 100.7L1363.8 101.0L1372.6 100.9L1380.5 100.3L1387.5 99.1L1393.9 97.1L1399.5 94.2L1404.5 90.3L1408.9 85.0Z" fill="#058ff5"/>
<path d="M1317.0 200.0L1316.9 200.9L1316.6 201.6L1316.2 202.2L1315.8 202.5L1315.2 202.5L1314.8 202.2L1314.4 201.6L1314.1 200.9L1314.0 200.0L1314.1 199.1L1314.4 198.4L1314.8 197.8L1315.2 197.5L1315.8 197.5L1316.2 197.8L1316.6 198.4L1316.9 199.1Z" fill="#058ff5"/>
<path d="M1362.6 201.5L1362.9 202.2L1363.0 202.9L1362.9 203.5L1362.6 203.9L1362.3 204.1L1361.8 204.0L1361.3 203.7L1360.8 203.2L1360.4 202.5L1360.1 201.8L1360.0 201.1L1360.1 200.5L1360.4 200.1L1360.7 199.9L1361.2 200.0L1361.7 200.3L1362.2 200.8Z" fill="#058ff5"/>
<path d="M1337.7 215.0L1342.7 230.8L1332.7 230.8Z" fill="#058ff5"/>
<path d="M1371.6 245.7L1372.0 251.5L1372.0 256.7L1371.5 260.6L1370.6 262.7L1369.5 262.9L1368.2 261.0L1366.9 257.2L1365.8 252.2L1365.0 246.3L1364.6 240.5L1364.6 235.3L1365.1 231.4L1366.0 229.3L1367.1 229.1L1368.4 231.0L1369.7 234.8L1370.8 239.8Z" fill="#058ff5"/>
<path d="M1385.9 251.8L1386.0 255.6L1385.9 259.0L1385.4 261.5L1384.6 262.9L1383.7 263.0L1382.7 261.7L1381.8 259.3L1381.0 256.0L1380.5 252.2L1380.4 248.4L1380.5 245.0L1381.0 242.5L1381.8 241.1L1382.7 241.0L1383.7 242.3L1384.6 244.7L1385.4 248.0Z" fill="#058ff5"/>
<path d="M1362.5 253.0L1362.3 255.0L1362.0 256.7L1361.5 258.0L1360.9 258.7L1360.3 258.7L1359.7 258.0L1359.2 256.7L1358.9 255.0L1358.7 253.0L1358.9 251.0L1359.2 249.3L1359.7 248.0L1360.3 247.3L1360.9 247.3L1361.5 248.0L1362.0 249.3L1362.3 251.0Z" fill="#058ff5"/>
<path d="M1386.4 253.3L1385.5 253.9L1383.0 254.5L1379.2 254.9L1374.5 255.1L1369.5 255.1L1364.8 254.9L1361.0 254.5L1358.5 253.9L1357.6 253.3L1358.5 252.7L1361.0 252.1L1364.8 251.7L1369.5 251.5L1374.5 251.5L1379.2 251.7L1383.0 252.1L1385.5 252.7Z" fill="#058ff5"/>
<path d="M1412.7 75.7L1413.5 71.4L1412.4 66.0L1409.2 60.1L1403.9 53.8L1396.5 47.6L1387.1 41.8L1376.0 36.9L1363.6 33.1L1350.6 30.8L1338.0 30.1L1325.4 30.8L1312.4 33.1L1300.0 36.9L1288.9 41.8L1279.5 47.6L1272.1 53.8L1266.8 60.1L1263.6 66.0L1262.5 71.4L1263.3 75.7L1267.7 84.5L1272.0 89.8L1277.0 93.6L1282.6 96.5L1288.9 98.4L1295.9 99.7L1303.6 100.3L1312.4 100.4L1322.6 100.1L1338.0 99.6L1353.4 100.1L1363.6 100.4L1372.4 100.3L1380.1 99.7L1387.1 98.4L1393.4 96.5L1399.0 93.6L1404.0 89.8L1408.3 84.5Z" fill="#0099ff"/>
<path d="M1316.7 200.0L1316.6 200.7L1316.4 201.3L1316.1 201.7L1315.7 202.0L1315.3 202.0L1314.9 201.7L1314.6 201.3L1314.4 200.7L1314.3 200.0L1314.4 199.3L1314.6 198.7L1314.9 198.3L1315.3 198.0L1315.7 198.0L1316.1 198.3L1316.4 198.7L1316.6 199.3Z" fill="#0099ff"/>
<path d="M1362.3 201.6L1362.4 202.2L1362.5 202.6L1362.5 203.1L1362.3 203.3L1362.0 203.5L1361.7 203.4L1361.3 203.2L1361.0 202.8L1360.7 202.4L1360.6 201.8L1360.5 201.4L1360.5 200.9L1360.7 200.7L1361.0 200.5L1361.3 200.6L1361.7 200.8L1362.0 201.2Z" fill="#0099ff"/>
<path d="M1337.7 215.2L1342.7 230.8L1332.7 230.8Z" fill="#0099ff"/>
<path d="M1371.5 245.7L1371.9 251.3L1371.9 256.3L1371.4 260.1L1370.6 262.1L1369.4 262.2L1368.2 260.4L1367.0 256.8L1365.9 251.9L1365.1 246.3L1364.7 240.7L1364.7 235.7L1365.2 231.9L1366.0 229.9L1367.2 229.8L1368.4 231.6L1369.6 235.2L1370.7 240.1Z" fill="#0099ff"/>
<path d="M1385.8 251.8L1385.9 255.5L1385.8 258.7L1385.3 261.2L1384.6 262.6L1383.7 262.6L1382.7 261.4L1381.8 259.1L1381.1 255.9L1380.6 252.2L1380.5 248.5L1380.6 245.3L1381.1 242.8L1381.8 241.4L1382.7 241.4L1383.7 242.6L1384.6 244.9L1385.3 248.1Z" fill="#0099ff"/>
<path d="M1362.4 253.0L1362.3 254.9L1362.0 256.6L1361.5 257.9L1360.9 258.6L1360.3 258.6L1359.7 257.9L1359.2 256.6L1358.9 254.9L1358.8 253.0L1358.9 251.1L1359.2 249.4L1359.7 248.1L1360.3 247.4L1360.9 247.4L1361.5 248.1L1362.0 249.4L1362.3 251.1Z" fill="#0099ff"/>
<path d="M1386.0 253.3L1385.2 253.9L1382.8 254.4L1379.0 254.8L1374.4 255.0L1369.6 255.0L1365.0 254.8L1361.2 254.4L1358.8 253.9L1358.0 253.3L1358.8 252.7L1361.2 252.2L1365.0 251.8L1369.6 251.6L1374.4 251.6L1379.0 251.8L1382.8 252.2L1385.2 252.7Z" fill="#0099ff"/>
<path d="M1410.9 75.0L1411.6 70.8L1410.4 65.6L1407.2 59.9L1402.0 53.9L1394.7 48.0L1385.6 42.5L1374.8 37.8L1362.8 34.2L1350.2 32.0L1338.0 31.3L1325.8 32.0L1313.2 34.2L1301.2 37.8L1290.4 42.5L1281.3 48.0L1274.0 53.9L1268.8 59.9L1265.6 65.6L1264.4 70.8L1265.1 75.0L1269.3 83.4L1273.4 88.4L1278.2 92.2L1283.6 94.9L1289.8 96.8L1296.7 98.1L1304.3 98.7L1312.9 98.8L1323.0 98.5L1338.0 98.1L1353.0 98.5L1363.1 98.8L1371.7 98.7L1379.3 98.1L1386.2 96.8L1392.4 94.9L1397.8 92.2L1402.6 88.4L1406.7 83.4Z" fill="#00a3e0"/>
<path d="M1337.7 215.7L1342.6 230.8L1332.8 230.8Z" fill="#00a3e0"/>
<path d="M1371.3 245.7L1371.6 250.9L1371.6 255.5L1371.2 259.0L1370.4 260.9L1369.4 261.0L1368.2 259.3L1367.1 256.0L1366.1 251.5L1365.3 246.3L1365.0 241.1L1365.0 236.5L1365.4 233.0L1366.2 231.1L1367.2 231.0L1368.4 232.7L1369.5 236.0L1370.5 240.5Z" fill="#00a3e0"/>
<path d="M1385.6 251.8L1385.8 255.3L1385.6 258.3L1385.2 260.7L1384.5 261.9L1383.7 262.0L1382.8 260.9L1381.9 258.7L1381.2 255.7L1380.8 252.2L1380.6 248.7L1380.8 245.7L1381.2 243.3L1381.9 242.1L1382.7 242.0L1383.6 243.1L1384.5 245.3L1385.2 248.3Z" fill="#00a3e0"/>
<path d="M1362.3 253.0L1362.2 254.8L1361.9 256.4L1361.5 257.6L1360.9 258.3L1360.3 258.3L1359.7 257.6L1359.3 256.4L1359.0 254.8L1358.9 253.0L1359.0 251.2L1359.3 249.6L1359.7 248.4L1360.3 247.7L1360.9 247.7L1361.5 248.4L1361.9 249.6L1362.2 251.2Z" fill="#00a3e0"/>
<path d="M1385.3 253.3L1384.5 253.9L1382.2 254.4L1378.7 254.7L1374.3 254.9L1369.7 254.9L1365.3 254.7L1361.8 254.4L1359.5 253.9L1358.7 253.3L1359.5 252.7L1361.8 252.2L1365.3 251.9L1369.7 251.7L1374.3 251.7L1378.7 251.9L1382.2 252.2L1384.5 252.7Z" fill="#00a3e0"/>
<path d="M1408.7 74.1L1409.2 70.1L1408.0 65.2L1404.9 59.8L1399.8 54.2L1392.7 48.6L1383.8 43.4L1373.4 39.0L1361.9 35.6L1349.7 33.6L1338.0 32.9L1326.3 33.6L1314.1 35.6L1302.6 39.0L1292.2 43.4L1283.3 48.6L1276.2 54.2L1271.1 59.8L1268.0 65.2L1266.8 70.1L1267.3 74.1L1271.2 82.0L1275.1 86.9L1279.7 90.5L1285.0 93.1L1291.0 95.0L1297.7 96.2L1305.2 96.8L1313.6 96.9L1323.4 96.7L1338.0 96.3L1352.6 96.7L1362.4 96.9L1370.8 96.8L1378.3 96.2L1385.0 95.0L1391.0 93.1L1396.3 90.5L1400.9 86.9L1404.8 82.0Z" fill="#00adc2"/>
<path d="M1337.7 216.1L1342.4 230.8L1333.0 230.8Z" fill="#00adc2"/>
<path d="M1371.0 245.7L1371.4 250.5L1371.3 254.8L1370.9 258.0L1370.2 259.8L1369.3 259.9L1368.2 258.3L1367.2 255.3L1366.2 251.1L1365.6 246.3L1365.2 241.5L1365.3 237.2L1365.7 234.0L1366.4 232.2L1367.3 232.1L1368.4 233.7L1369.4 236.7L1370.4 240.9Z" fill="#00adc2"/>
<path d="M1385.5 251.8L1385.6 255.1L1385.5 258.0L1385.1 260.2L1384.4 261.4L1383.6 261.4L1382.8 260.4L1382.0 258.3L1381.3 255.4L1380.9 252.2L1380.8 248.9L1380.9 246.0L1381.3 243.8L1382.0 242.6L1382.8 242.6L1383.6 243.6L1384.4 245.7L1385.1 248.6Z" fill="#00adc2"/>
<path d="M1362.2 253.0L1362.1 254.7L1361.8 256.2L1361.4 257.4L1360.9 258.0L1360.3 258.0L1359.8 257.4L1359.4 256.2L1359.1 254.7L1359.0 253.0L1359.1 251.3L1359.4 249.8L1359.8 248.6L1360.3 248.0L1360.9 248.0L1361.4 248.6L1361.8 249.8L1362.1 251.3Z" fill="#00adc2"/>
<path d="M1384.7 253.3L1383.9 253.8L1381.7 254.3L1378.3 254.7L1374.2 254.9L1369.8 254.9L1365.7 254.7L1362.3 254.3L1360.1 253.8L1359.3 253.3L1360.1 252.8L1362.3 252.3L1365.7 251.9L1369.8 251.7L1374.2 251.7L1378.3 251.9L1381.7 252.3L1383.9 252.8Z" fill="#00adc2"/>
<path d="M1406.4 73.2L1406.9 69.4L1405.6 64.8L1402.5 59.7L1397.5 54.4L1390.6 49.2L1382.0 44.3L1372.0 40.2L1360.9 37.1L1349.3 35.1L1338.0 34.5L1326.7 35.1L1315.1 37.1L1304.0 40.2L1294.0 44.3L1285.4 49.2L1278.5 54.4L1273.5 59.7L1270.4 64.8L1269.1 69.4L1269.6 73.2L1273.1 80.7L1276.8 85.4L1281.2 88.8L1286.3 91.4L1292.1 93.2L1298.7 94.3L1306.0 94.9L1314.3 95.0L1323.9 94.8L1338.0 94.5L1352.1 94.8L1361.7 95.0L1370.0 94.9L1377.3 94.3L1383.9 93.2L1389.7 91.4L1394.8 88.8L1399.2 85.4L1402.9 80.7Z" fill="#00b8a3"/>
<path d="M1337.7 216.5L1342.3 230.8L1333.1 230.8Z" fill="#00b8a3"/>
<path d="M1370.8 245.7L1371.1 250.2L1371.1 254.1L1370.7 257.1L1370.1 258.7L1369.2 258.8L1368.2 257.4L1367.2 254.5L1366.4 250.7L1365.8 246.3L1365.5 241.8L1365.5 237.9L1365.9 234.9L1366.5 233.3L1367.4 233.2L1368.4 234.6L1369.4 237.5L1370.2 241.3Z" fill="#00b8a3"/>
<path d="M1385.4 251.8L1385.5 254.9L1385.4 257.6L1385.0 259.7L1384.3 260.8L1383.6 260.9L1382.8 259.9L1382.1 257.9L1381.4 255.2L1381.0 252.2L1380.9 249.1L1381.0 246.4L1381.4 244.3L1382.1 243.2L1382.8 243.1L1383.6 244.1L1384.3 246.1L1385.0 248.8Z" fill="#00b8a3"/>
<path d="M1362.1 253.0L1362.0 254.6L1361.8 256.1L1361.4 257.1L1360.9 257.7L1360.3 257.7L1359.8 257.1L1359.4 256.1L1359.2 254.6L1359.1 253.0L1359.2 251.4L1359.4 249.9L1359.8 248.9L1360.3 248.3L1360.9 248.3L1361.4 248.9L1361.8 249.9L1362.0 251.4Z" fill="#00b8a3"/>
<path d="M1384.1 253.3L1383.3 253.8L1381.2 254.3L1378.0 254.6L1374.1 254.8L1369.9 254.8L1366.0 254.6L1362.8 254.3L1360.7 253.8L1359.9 253.3L1360.7 252.8L1362.8 252.3L1366.0 252.0L1369.9 251.8L1374.1 251.8L1378.0 252.0L1381.2 252.3L1383.3 252.8Z" fill="#00b8a3"/>
<path d="M1404.9 72.6L1405.3 69.0L1404.0 64.6L1400.9 59.8L1396.0 54.7L1389.2 49.7L1380.9 45.1L1371.1 41.1L1360.3 38.1L1348.9 36.3L1338.0 35.7L1327.1 36.3L1315.7 38.1L1304.9 41.1L1295.1 45.1L1286.8 49.7L1280.0 54.7L1275.1 59.8L1272.0 64.6L1270.7 69.0L1271.1 72.6L1274.4 79.9L1278.0 84.3L1282.3 87.7L1287.3 90.2L1293.0 91.9L1299.4 93.0L1306.6 93.6L1314.8 93.8L1324.2 93.6L1338.0 93.3L1351.8 93.6L1361.2 93.8L1369.4 93.6L1376.6 93.0L1383.0 91.9L1388.7 90.2L1393.7 87.7L1398.0 84.3L1401.6 79.9Z" fill="#00c285"/>
<path d="M1337.7 216.8L1342.2 230.8L1333.2 230.8Z" fill="#00c285"/>
<path d="M1370.6 245.8L1370.9 249.8L1370.9 253.4L1370.5 256.2L1369.9 257.6L1369.1 257.7L1368.2 256.4L1367.3 253.8L1366.6 250.3L1366.0 246.2L1365.7 242.2L1365.7 238.6L1366.1 235.8L1366.7 234.4L1367.5 234.3L1368.4 235.6L1369.3 238.2L1370.0 241.7Z" fill="#00c285"/>
<path d="M1385.2 251.8L1385.4 254.7L1385.2 257.3L1384.8 259.2L1384.3 260.3L1383.6 260.3L1382.8 259.4L1382.1 257.6L1381.6 255.0L1381.2 252.2L1381.0 249.3L1381.2 246.7L1381.6 244.8L1382.1 243.7L1382.8 243.7L1383.6 244.6L1384.3 246.4L1384.8 249.0Z" fill="#00c285"/>
<path d="M1362.0 253.0L1362.0 254.5L1361.7 255.9L1361.3 256.9L1360.9 257.5L1360.3 257.5L1359.9 256.9L1359.5 255.9L1359.2 254.5L1359.2 253.0L1359.2 251.5L1359.5 250.1L1359.9 249.1L1360.3 248.5L1360.9 248.5L1361.3 249.1L1361.7 250.1L1362.0 251.5Z" fill="#00c285"/>
<path d="M1383.5 253.3L1382.8 253.8L1380.8 254.2L1377.7 254.5L1374.0 254.7L1370.0 254.7L1366.3 254.5L1363.2 254.2L1361.2 253.8L1360.5 253.3L1361.2 252.8L1363.2 252.4L1366.3 252.1L1370.0 251.9L1374.0 251.9L1377.7 252.1L1380.8 252.4L1382.8 252.8Z" fill="#00c285"/>
<path d="M1403.4 72.1L1403.8 68.6L1402.4 64.4L1399.4 59.8L1394.5 55.0L1387.9 50.2L1379.7 45.8L1370.2 42.1L1359.6 39.2L1348.6 37.5L1338.0 36.9L1327.4 37.5L1316.4 39.2L1305.8 42.1L1296.3 45.8L1288.1 50.2L1281.5 55.0L1276.6 59.8L1273.6 64.4L1272.2 68.6L1272.6 72.1L1275.7 79.0L1279.2 83.3L1283.3 86.6L1288.2 89.0L1293.8 90.7L1300.2 91.8L1307.3 92.4L1315.3 92.5L1324.6 92.4L1338.0 92.1L1351.4 92.4L1360.7 92.5L1368.7 92.4L1375.8 91.8L1382.2 90.7L1387.8 89.0L1392.7 86.6L1396.8 83.3L1400.3 79.0Z" fill="#05cd67"/>
<path d="M1337.7 217.1L1342.2 230.8L1333.2 230.8Z" fill="#05cd67"/>
<path d="M1370.4 245.8L1370.7 249.5L1370.6 252.8L1370.3 255.2L1369.8 256.6L1369.1 256.6L1368.2 255.4L1367.4 253.1L1366.7 249.9L1366.2 246.2L1365.9 242.5L1366.0 239.2L1366.3 236.8L1366.8 235.4L1367.5 235.4L1368.4 236.6L1369.2 238.9L1369.9 242.1Z" fill="#05cd67"/>
<path d="M1385.1 251.8L1385.2 254.5L1385.1 256.9L1384.7 258.8L1384.2 259.7L1383.6 259.8L1382.9 258.9L1382.2 257.2L1381.7 254.9L1381.3 252.2L1381.2 249.5L1381.3 247.1L1381.7 245.2L1382.2 244.3L1382.8 244.2L1383.5 245.1L1384.2 246.8L1384.7 249.1Z" fill="#05cd67"/>
<path d="M1362.0 253.0L1361.9 254.5L1361.7 255.8L1361.3 256.7L1360.8 257.2L1360.4 257.2L1359.9 256.7L1359.5 255.8L1359.3 254.5L1359.2 253.0L1359.3 251.5L1359.5 250.2L1359.9 249.3L1360.4 248.8L1360.8 248.8L1361.3 249.3L1361.7 250.2L1361.9 251.5Z" fill="#05cd67"/>
<path d="M1382.9 253.3L1382.3 253.8L1380.4 254.2L1377.5 254.5L1373.9 254.6L1370.1 254.6L1366.5 254.5L1363.6 254.2L1361.7 253.8L1361.1 253.3L1361.7 252.8L1363.6 252.4L1366.5 252.1L1370.1 252.0L1373.9 252.0L1377.5 252.1L1380.4 252.4L1382.3 252.8Z" fill="#05cd67"/>
<path d="M1400.6 71.0L1400.8 67.8L1399.5 63.8L1396.4 59.5L1391.7 55.0L1385.4 50.6L1377.6 46.5L1368.5 43.0L1358.5 40.4L1348.1 38.8L1338.0 38.2L1327.9 38.8L1317.5 40.4L1307.5 43.0L1298.4 46.5L1290.6 50.6L1284.3 55.0L1279.6 59.5L1276.5 63.8L1275.2 67.8L1275.4 71.0L1278.3 77.3L1281.4 81.3L1285.3 84.3L1290.0 86.5L1295.4 88.1L1301.5 89.1L1308.4 89.7L1316.1 89.8L1325.1 89.7L1338.0 89.4L1350.9 89.7L1359.9 89.8L1367.6 89.7L1374.5 89.1L1380.6 88.1L1386.0 86.5L1390.7 84.3L1394.6 81.3L1397.7 77.3Z" fill="#24d36d"/>
<path d="M1337.7 217.6L1342.1 230.8L1333.3 230.8Z" fill="#24d36d"/>
<path d="M1370.1 245.8L1370.3 248.9L1370.3 251.7L1370.0 253.8L1369.5 254.9L1368.9 255.0L1368.2 253.9L1367.6 252.0L1367.0 249.3L1366.5 246.2L1366.3 243.1L1366.3 240.3L1366.6 238.2L1367.1 237.1L1367.7 237.0L1368.4 238.1L1369.0 240.0L1369.6 242.7Z" fill="#24d36d"/>
<path d="M1384.9 251.9L1385.0 254.3L1384.9 256.5L1384.6 258.1L1384.1 259.0L1383.5 259.0L1382.9 258.2L1382.3 256.7L1381.8 254.6L1381.5 252.1L1381.4 249.7L1381.5 247.5L1381.8 245.9L1382.3 245.0L1382.9 245.0L1383.5 245.8L1384.1 247.3L1384.6 249.4Z" fill="#24d36d"/>
<path d="M1361.9 253.0L1361.8 254.3L1361.6 255.5L1361.2 256.4L1360.8 256.9L1360.4 256.9L1360.0 256.4L1359.6 255.5L1359.4 254.3L1359.3 253.0L1359.4 251.7L1359.6 250.5L1360.0 249.6L1360.4 249.1L1360.8 249.1L1361.2 249.6L1361.6 250.5L1361.8 251.7Z" fill="#24d36d"/>
<path d="M1382.1 253.3L1381.5 253.7L1379.8 254.1L1377.1 254.4L1373.8 254.5L1370.2 254.5L1366.9 254.4L1364.2 254.1L1362.5 253.7L1361.9 253.3L1362.5 252.9L1364.2 252.5L1366.9 252.2L1370.2 252.1L1373.8 252.1L1377.1 252.2L1379.8 252.5L1381.5 252.9Z" fill="#24d36d"/>
<path d="M1397.3 70.0L1397.5 66.9L1396.2 63.1L1393.3 59.1L1388.8 54.9L1382.8 50.7L1375.3 46.9L1366.8 43.7L1357.3 41.3L1347.5 39.8L1338.0 39.3L1328.5 39.8L1318.7 41.3L1309.2 43.7L1300.7 46.9L1293.2 50.7L1287.2 54.9L1282.7 59.1L1279.8 63.1L1278.5 66.9L1278.7 70.0L1281.1 75.5L1284.0 79.1L1287.6 81.8L1292.0 83.8L1297.1 85.2L1303.0 86.1L1309.6 86.5L1317.1 86.7L1325.7 86.5L1338.0 86.3L1350.3 86.5L1358.9 86.7L1366.4 86.5L1373.0 86.1L1378.9 85.2L1384.0 83.8L1388.4 81.8L1392.0 79.1L1394.9 75.5Z" fill="#42d973"/>
<path d="M1337.7 218.0L1342.0 230.8L1333.5 230.8Z" fill="#42d973"/>
<path d="M1369.7 245.9L1369.9 248.3L1369.9 250.5L1369.7 252.2L1369.3 253.1L1368.8 253.1L1368.3 252.3L1367.7 250.8L1367.2 248.6L1366.9 246.1L1366.7 243.7L1366.7 241.5L1366.9 239.8L1367.3 238.9L1367.8 238.9L1368.3 239.7L1368.9 241.2L1369.4 243.4Z" fill="#42d973"/>
<path d="M1384.7 251.9L1384.8 254.0L1384.7 256.0L1384.4 257.4L1384.0 258.2L1383.5 258.3L1382.9 257.6L1382.4 256.2L1382.0 254.3L1381.7 252.1L1381.6 250.0L1381.7 248.0L1382.0 246.6L1382.4 245.8L1382.9 245.7L1383.5 246.4L1384.0 247.8L1384.4 249.7Z" fill="#42d973"/>
<path d="M1361.7 253.0L1361.7 254.2L1361.5 255.3L1361.2 256.1L1360.8 256.5L1360.4 256.5L1360.0 256.1L1359.7 255.3L1359.5 254.2L1359.5 253.0L1359.5 251.8L1359.7 250.7L1360.0 249.9L1360.4 249.5L1360.8 249.5L1361.2 249.9L1361.5 250.7L1361.7 251.8Z" fill="#42d973"/>
<path d="M1381.3 253.3L1380.8 253.7L1379.2 254.1L1376.7 254.3L1373.6 254.5L1370.4 254.5L1367.3 254.3L1364.8 254.1L1363.2 253.7L1362.7 253.3L1363.2 252.9L1364.8 252.5L1367.3 252.3L1370.4 252.1L1373.6 252.1L1376.7 252.3L1379.2 252.5L1380.8 252.9Z" fill="#42d973"/>
<path d="M1394.1 68.9L1394.2 66.0L1392.9 62.5L1390.1 58.7L1385.8 54.8L1380.1 50.9L1373.1 47.4L1365.0 44.5L1356.2 42.3L1346.9 40.9L1338.0 40.4L1329.1 40.9L1319.8 42.3L1311.0 44.5L1302.9 47.4L1295.9 50.9L1290.2 54.8L1285.9 58.7L1283.1 62.5L1281.8 66.0L1281.9 68.9L1284.0 73.8L1286.6 76.9L1289.9 79.3L1294.1 81.0L1298.9 82.2L1304.5 83.0L1310.9 83.4L1318.1 83.5L1326.4 83.4L1338.0 83.2L1349.6 83.4L1357.9 83.5L1365.1 83.4L1371.5 83.0L1377.1 82.2L1381.9 81.0L1386.1 79.3L1389.4 76.9L1392.0 73.8Z" fill="#61df79"/>
<path d="M1337.7 218.4L1341.8 230.8L1333.6 230.8Z" fill="#61df79"/>
<path d="M1369.3 245.9L1369.4 247.6L1369.4 249.1L1369.2 250.3L1369.0 250.9L1368.6 250.9L1368.3 250.4L1367.9 249.3L1367.6 247.8L1367.3 246.1L1367.2 244.4L1367.2 242.9L1367.4 241.7L1367.6 241.1L1368.0 241.1L1368.3 241.6L1368.7 242.7L1369.0 244.2Z" fill="#61df79"/>
<path d="M1384.5 251.9L1384.6 253.8L1384.5 255.5L1384.3 256.7L1383.9 257.4L1383.4 257.5L1383.0 256.9L1382.5 255.7L1382.1 254.0L1381.9 252.1L1381.8 250.2L1381.9 248.5L1382.1 247.3L1382.5 246.6L1383.0 246.5L1383.4 247.1L1383.9 248.3L1384.3 250.0Z" fill="#61df79"/>
<path d="M1361.6 253.0L1361.6 254.1L1361.4 255.1L1361.1 255.8L1360.8 256.2L1360.4 256.2L1360.1 255.8L1359.8 255.1L1359.6 254.1L1359.6 253.0L1359.6 251.9L1359.8 250.9L1360.1 250.2L1360.4 249.8L1360.8 249.8L1361.1 250.2L1361.4 250.9L1361.6 251.9Z" fill="#61df79"/>
<path d="M1380.6 253.3L1380.1 253.7L1378.6 254.0L1376.3 254.2L1373.5 254.4L1370.5 254.4L1367.7 254.2L1365.4 254.0L1363.9 253.7L1363.4 253.3L1363.9 252.9L1365.4 252.6L1367.7 252.4L1370.5 252.2L1373.5 252.2L1376.3 252.4L1378.6 252.6L1380.1 252.9Z" fill="#61df79"/>
<path d="M1390.8 68.0L1390.9 65.2L1389.6 61.9L1387.0 58.3L1382.9 54.7L1377.5 51.2L1370.9 48.0L1363.3 45.2L1355.0 43.2L1346.3 41.9L1338.0 41.5L1329.7 41.9L1321.0 43.2L1312.7 45.2L1305.1 48.0L1298.5 51.2L1293.1 54.7L1289.0 58.3L1286.4 61.9L1285.1 65.2L1285.2 68.0L1286.9 72.1L1289.2 74.8L1292.3 76.8L1296.2 78.3L1300.8 79.4L1306.2 80.0L1312.2 80.3L1319.1 80.4L1327.0 80.3L1338.0 80.1L1349.0 80.3L1356.9 80.4L1363.8 80.3L1369.8 80.0L1375.2 79.4L1379.8 78.3L1383.7 76.8L1386.8 74.8L1389.1 72.1Z" fill="#80e680"/>
<path d="M1337.7 218.9L1341.7 230.8L1333.7 230.8Z" fill="#80e680"/>
<path d="M1384.3 251.9L1384.4 253.5L1384.3 254.9L1384.1 256.0L1383.8 256.6L1383.4 256.7L1383.0 256.1L1382.6 255.1L1382.3 253.7L1382.1 252.1L1382.0 250.5L1382.1 249.1L1382.3 248.0L1382.6 247.4L1383.0 247.3L1383.4 247.9L1383.8 248.9L1384.1 250.3Z" fill="#80e680"/>
<path d="M1361.5 253.0L1361.5 254.0L1361.3 254.8L1361.1 255.5L1360.8 255.8L1360.4 255.8L1360.1 255.5L1359.9 254.8L1359.7 254.0L1359.7 253.0L1359.7 252.0L1359.9 251.2L1360.1 250.5L1360.4 250.2L1360.8 250.2L1361.1 250.5L1361.3 251.2L1361.5 252.0Z" fill="#80e680"/>
<path d="M1379.8 253.3L1379.3 253.6L1378.0 253.9L1375.9 254.1L1373.4 254.3L1370.6 254.3L1368.1 254.1L1366.0 253.9L1364.7 253.6L1364.2 253.3L1364.7 253.0L1366.0 252.7L1368.1 252.5L1370.6 252.3L1373.4 252.3L1375.9 252.5L1378.0 252.7L1379.3 253.0Z" fill="#80e680"/>
<path d="M1387.6 67.0L1387.6 64.4L1386.3 61.4L1383.8 58.1L1379.9 54.7L1374.9 51.5L1368.7 48.5L1361.6 46.0L1353.8 44.2L1345.8 43.0L1338.0 42.6L1330.2 43.0L1322.2 44.2L1314.4 46.0L1307.3 48.5L1301.1 51.5L1296.1 54.7L1292.2 58.1L1289.7 61.4L1288.4 64.4L1288.4 67.0L1289.9 70.5L1292.0 72.8L1294.8 74.5L1298.4 75.7L1302.8 76.5L1307.8 77.0L1313.6 77.3L1320.1 77.3L1327.7 77.2L1338.0 77.0L1348.3 77.2L1355.9 77.3L1362.4 77.3L1368.2 77.0L1373.2 76.5L1377.6 75.7L1381.2 74.5L1384.0 72.8L1386.1 70.5Z" fill="#9eec86"/>
<path d="M1337.7 219.3L1341.6 230.8L1333.8 230.8Z" fill="#9eec86"/>
<path d="M1384.1 251.9L1384.2 253.2L1384.1 254.4L1383.9 255.2L1383.7 255.7L1383.4 255.7L1383.0 255.3L1382.7 254.5L1382.5 253.4L1382.3 252.1L1382.2 250.8L1382.3 249.6L1382.5 248.8L1382.7 248.3L1383.0 248.3L1383.4 248.7L1383.7 249.5L1383.9 250.6Z" fill="#9eec86"/>
<path d="M1361.4 253.0L1361.3 253.9L1361.2 254.6L1361.0 255.2L1360.7 255.5L1360.5 255.5L1360.2 255.2L1360.0 254.6L1359.9 253.9L1359.8 253.0L1359.9 252.1L1360.0 251.4L1360.2 250.8L1360.5 250.5L1360.7 250.5L1361.0 250.8L1361.2 251.4L1361.3 252.1Z" fill="#9eec86"/>
<path d="M1379.0 253.3L1378.6 253.6L1377.4 253.9L1375.5 254.1L1373.2 254.2L1370.8 254.2L1368.5 254.1L1366.6 253.9L1365.4 253.6L1365.0 253.3L1365.4 253.0L1366.6 252.7L1368.5 252.5L1370.8 252.4L1373.2 252.4L1375.5 252.5L1377.4 252.7L1378.6 253.0Z" fill="#9eec86"/>
<path d="M1385.3 66.5L1385.3 64.0L1384.1 61.1L1381.6 58.1L1377.9 55.0L1373.0 52.0L1367.1 49.2L1360.4 46.9L1353.0 45.2L1345.4 44.1L1338.0 43.8L1330.6 44.1L1323.0 45.2L1315.6 46.9L1308.9 49.2L1303.0 52.0L1298.1 55.0L1294.4 58.1L1291.9 61.1L1290.7 64.0L1290.7 66.5L1292.0 69.6L1293.9 71.6L1296.6 73.1L1300.1 74.3L1304.3 75.0L1309.1 75.5L1314.7 75.7L1321.0 75.7L1328.2 75.6L1338.0 75.5L1347.8 75.6L1355.0 75.7L1361.3 75.7L1366.9 75.5L1371.7 75.0L1375.9 74.3L1379.4 73.1L1382.1 71.6L1384.0 69.6Z" fill="#bdf28c"/>
<path d="M1337.7 219.9L1341.5 230.8L1333.9 230.8Z" fill="#bdf28c"/>
<path d="M1383.8 251.9L1383.9 252.8L1383.8 253.6L1383.7 254.2L1383.5 254.6L1383.3 254.6L1383.1 254.3L1382.9 253.7L1382.7 252.9L1382.6 252.1L1382.5 251.2L1382.6 250.4L1382.7 249.8L1382.9 249.4L1383.1 249.4L1383.3 249.7L1383.5 250.3L1383.7 251.1Z" fill="#bdf28c"/>
<path d="M1361.3 253.0L1361.2 253.7L1361.1 254.3L1360.9 254.8L1360.7 255.1L1360.5 255.1L1360.3 254.8L1360.1 254.3L1360.0 253.7L1359.9 253.0L1360.0 252.3L1360.1 251.7L1360.3 251.2L1360.5 250.9L1360.7 250.9L1360.9 251.2L1361.1 251.7L1361.2 252.3Z" fill="#bdf28c"/>
<path d="M1378.2 253.3L1377.9 253.6L1376.8 253.8L1375.1 254.0L1373.1 254.1L1370.9 254.1L1368.9 254.0L1367.2 253.8L1366.1 253.6L1365.8 253.3L1366.1 253.0L1367.2 252.8L1368.9 252.6L1370.9 252.5L1373.1 252.5L1375.1 252.6L1376.8 252.8L1377.9 253.0Z" fill="#bdf28c"/>
<path d="M1383.6 66.0L1383.5 63.7L1382.3 61.1L1379.9 58.2L1376.3 55.3L1371.6 52.6L1365.9 50.0L1359.4 47.9L1352.4 46.3L1345.0 45.3L1338.0 45.0L1331.0 45.3L1323.6 46.3L1316.6 47.9L1310.1 50.0L1304.4 52.6L1299.7 55.3L1296.1 58.2L1293.7 61.1L1292.5 63.7L1292.4 66.0L1293.6 68.9L1295.5 70.9L1298.1 72.3L1301.5 73.4L1305.5 74.2L1310.2 74.6L1315.6 74.9L1321.7 74.9L1328.7 74.9L1338.0 74.8L1347.3 74.9L1354.3 74.9L1360.4 74.9L1365.8 74.6L1370.5 74.2L1374.5 73.4L1377.9 72.3L1380.5 70.9L1382.4 68.9Z" fill="#dbf892"/>
<path d="M1337.7 220.5L1341.4 230.8L1334.0 230.8Z" fill="#dbf892"/>
<path d="M1361.1 253.0L1361.1 253.6L1361.0 254.0L1360.9 254.4L1360.7 254.6L1360.5 254.6L1360.3 254.4L1360.2 254.0L1360.1 253.6L1360.1 253.0L1360.1 252.4L1360.2 252.0L1360.3 251.6L1360.5 251.4L1360.7 251.4L1360.9 251.6L1361.0 252.0L1361.1 252.4Z" fill="#dbf892"/>
<path d="M1377.4 253.3L1377.1 253.5L1376.1 253.7L1374.7 253.9L1372.9 254.0L1371.1 254.0L1369.3 253.9L1367.9 253.7L1366.9 253.5L1366.6 253.3L1366.9 253.1L1367.9 252.9L1369.3 252.7L1371.1 252.6L1372.9 252.6L1374.7 252.7L1376.1 252.9L1377.1 253.1Z" fill="#dbf892"/>
<path d="M1381.8 65.6L1381.7 63.5L1380.5 61.0L1378.1 58.4L1374.7 55.7L1370.1 53.2L1364.7 50.8L1358.5 48.9L1351.7 47.4L1344.7 46.5L1338.0 46.2L1331.3 46.5L1324.3 47.4L1317.5 48.9L1311.3 50.8L1305.9 53.2L1301.3 55.7L1297.9 58.4L1295.5 61.0L1294.3 63.5L1294.2 65.6L1295.3 68.3L1297.1 70.2L1299.6 71.6L1302.8 72.6L1306.7 73.4L1311.3 73.8L1316.5 74.1L1322.4 74.1L1329.2 74.1L1338.0 74.0L1346.8 74.1L1353.6 74.1L1359.5 74.1L1364.7 73.8L1369.3 73.4L1373.2 72.6L1376.4 71.6L1378.9 70.2L1380.7 68.3Z" fill="#ffff99"/>
<path d="M1337.7 221.1L1341.3 230.8L1334.1 230.8Z" fill="#ffff99"/>
<path d="M1360.9 253.0L1360.9 253.3L1360.8 253.6L1360.8 253.9L1360.7 254.0L1360.5 254.0L1360.4 253.9L1360.4 253.6L1360.3 253.3L1360.3 253.0L1360.3 252.7L1360.4 252.4L1360.4 252.1L1360.5 252.0L1360.7 252.0L1360.8 252.1L1360.8 252.4L1360.9 252.7Z" fill="#ffff99"/>
<path d="M1376.4 253.3L1376.2 253.5L1375.4 253.7L1374.2 253.8L1372.8 253.8L1371.2 253.8L1369.8 253.8L1368.6 253.7L1367.8 253.5L1367.6 253.3L1367.8 253.1L1368.6 252.9L1369.8 252.8L1371.2 252.8L1372.8 252.8L1374.2 252.8L1375.4 252.9L1376.2 253.1Z" fill="#ffff99"/>
<path d="M1379.9 65.2L1379.8 63.2L1378.6 60.9L1376.3 58.5L1373.0 56.0L1368.6 53.6L1363.4 51.5L1357.5 49.7L1351.1 48.3L1344.4 47.5L1338.0 47.2L1331.6 47.5L1324.9 48.3L1318.5 49.7L1312.6 51.5L1307.4 53.6L1303.0 56.0L1299.7 58.5L1297.4 60.9L1296.2 63.2L1296.1 65.2L1297.1 67.7L1298.8 69.4L1301.2 70.8L1304.4 71.8L1308.1 72.5L1312.6 73.0L1317.6 73.3L1323.3 73.4L1329.7 73.4L1338.0 73.3L1346.3 73.4L1352.7 73.4L1358.4 73.3L1363.4 73.0L1367.9 72.5L1371.6 71.8L1374.8 70.8L1377.2 69.4L1378.9 67.7Z" fill="#ebe58e"/>
<path d="M1337.7 221.7L1341.2 230.8L1334.2 230.8Z" fill="#ebe58e"/>
<path d="M1374.8 253.3L1374.7 253.4L1374.2 253.5L1373.4 253.6L1372.5 253.6L1371.5 253.6L1370.6 253.6L1369.8 253.5L1369.3 253.4L1369.2 253.3L1369.3 253.2L1369.8 253.1L1370.6 253.0L1371.5 253.0L1372.5 253.0L1373.4 253.0L1374.2 253.1L1374.7 253.2Z" fill="#ebe58e"/>
<path d="M1378.4 64.8L1378.3 62.9L1377.1 60.8L1374.9 58.4L1371.7 56.1L1367.5 53.8L1362.5 51.8L1356.8 50.1L1350.6 48.8L1344.2 48.0L1338.0 47.7L1331.8 48.0L1325.4 48.8L1319.2 50.1L1313.5 51.8L1308.5 53.8L1304.3 56.1L1301.1 58.4L1298.9 60.8L1297.7 62.9L1297.6 64.8L1298.5 67.2L1300.2 68.9L1302.5 70.3L1305.6 71.3L1309.3 72.0L1313.6 72.5L1318.5 72.8L1323.9 72.9L1330.1 72.9L1338.0 72.9L1345.9 72.9L1352.1 72.9L1357.5 72.8L1362.4 72.5L1366.7 72.0L1370.4 71.3L1373.5 70.3L1375.8 68.9L1377.5 67.2Z" fill="#d6cb83"/>
<path d="M1337.7 222.1L1341.1 230.8L1334.3 230.8Z" fill="#d6cb83"/>
<path d="M1376.9 64.5L1376.8 62.7L1375.6 60.6L1373.5 58.4L1370.4 56.1L1366.3 54.0L1361.5 52.0L1356.0 50.4L1350.1 49.2L1343.9 48.4L1338.0 48.2L1332.1 48.4L1325.9 49.2L1320.0 50.4L1314.5 52.0L1309.7 54.0L1305.6 56.1L1302.5 58.4L1300.4 60.6L1299.2 62.7L1299.1 64.5L1300.0 66.8L1301.6 68.5L1303.8 69.8L1306.8 70.8L1310.4 71.5L1314.6 72.0L1319.3 72.3L1324.6 72.5L1330.6 72.5L1338.0 72.5L1345.4 72.5L1351.4 72.5L1356.7 72.3L1361.4 72.0L1365.6 71.5L1369.2 70.8L1372.2 69.8L1374.4 68.5L1376.0 66.8Z" fill="#c2b178"/>
<path d="M1337.7 222.5L1341.0 230.8L1334.4 230.8Z" fill="#c2b178"/>
<path d="M1375.4 64.2L1375.3 62.5L1374.2 60.5L1372.1 58.3L1369.1 56.2L1365.2 54.2L1360.6 52.3L1355.3 50.8L1349.6 49.6L1343.7 48.9L1338.0 48.7L1332.3 48.9L1326.4 49.6L1320.7 50.8L1315.4 52.3L1310.8 54.2L1306.9 56.2L1303.9 58.3L1301.8 60.5L1300.7 62.5L1300.6 64.2L1301.4 66.4L1302.9 68.0L1305.1 69.3L1308.0 70.3L1311.5 71.0L1315.6 71.5L1320.2 71.9L1325.3 72.1L1331.0 72.1L1338.0 72.1L1345.0 72.1L1350.7 72.1L1355.8 71.9L1360.4 71.5L1364.5 71.0L1368.0 70.3L1370.9 69.3L1373.1 68.0L1374.6 66.4Z" fill="#ae976d"/>
<path d="M1337.7 222.9L1340.9 230.8L1334.5 230.8Z" fill="#ae976d"/>
<path d="M1373.9 63.9L1373.8 62.2L1372.7 60.3L1370.7 58.3L1367.8 56.3L1364.1 54.3L1359.6 52.6L1354.6 51.1L1349.1 50.0L1343.4 49.4L1338.0 49.2L1332.6 49.4L1326.9 50.0L1321.4 51.1L1316.4 52.6L1311.9 54.3L1308.2 56.3L1305.3 58.3L1303.3 60.3L1302.2 62.2L1302.1 63.9L1302.8 66.0L1304.3 67.5L1306.5 68.8L1309.2 69.8L1312.6 70.5L1316.6 71.0L1321.0 71.4L1326.0 71.6L1331.4 71.7L1338.0 71.7L1344.6 71.7L1350.0 71.6L1355.0 71.4L1359.4 71.0L1363.4 70.5L1366.8 69.8L1369.5 68.8L1371.7 67.5L1373.2 66.0Z" fill="#997d62"/>
<path d="M1337.7 223.3L1340.8 230.8L1334.6 230.8Z" fill="#997d62"/>
<path d="M1372.5 63.6L1372.3 62.0L1371.2 60.2L1369.3 58.3L1366.5 56.4L1362.9 54.5L1358.7 52.9L1353.8 51.5L1348.6 50.5L1343.2 49.8L1338.0 49.6L1332.8 49.8L1327.4 50.5L1322.2 51.5L1317.3 52.9L1313.1 54.5L1309.5 56.4L1306.7 58.3L1304.8 60.2L1303.7 62.0L1303.5 63.6L1304.3 65.6L1305.7 67.1L1307.8 68.3L1310.5 69.3L1313.8 70.0L1317.6 70.6L1321.9 71.0L1326.6 71.2L1331.8 71.3L1338.0 71.3L1344.2 71.3L1349.4 71.2L1354.1 71.0L1358.4 70.6L1362.2 70.0L1365.5 69.3L1368.2 68.3L1370.3 67.1L1371.7 65.6Z" fill="#856357"/>
<path d="M1337.7 223.7L1340.7 230.8L1334.7 230.8Z" fill="#856357"/>
<path d="M1370.8 63.3L1370.6 61.8L1369.6 60.1L1367.7 58.3L1365.1 56.5L1361.7 54.8L1357.6 53.3L1353.0 52.0L1348.1 51.0L1342.9 50.5L1338.0 50.3L1333.1 50.5L1327.9 51.0L1323.0 52.0L1318.4 53.3L1314.3 54.8L1310.9 56.5L1308.3 58.3L1306.4 60.1L1305.4 61.8L1305.2 63.3L1305.9 65.1L1307.2 66.5L1309.2 67.7L1311.8 68.7L1315.0 69.4L1318.6 70.0L1322.8 70.3L1327.3 70.6L1332.3 70.7L1338.0 70.7L1343.7 70.7L1348.7 70.6L1353.2 70.3L1357.4 70.0L1361.0 69.4L1364.2 68.7L1366.8 67.7L1368.8 66.5L1370.1 65.1Z" fill="#8f7069"/>
<path d="M1337.7 224.1L1340.6 230.8L1334.8 230.8Z" fill="#8f7069"/>
<path d="M1368.6 63.0L1368.4 61.6L1367.5 60.1L1365.7 58.5L1363.2 56.9L1360.0 55.4L1356.2 54.0L1351.9 52.9L1347.3 52.0L1342.6 51.5L1338.0 51.3L1333.4 51.5L1328.7 52.0L1324.1 52.9L1319.8 54.0L1316.0 55.4L1312.8 56.9L1310.3 58.5L1308.5 60.1L1307.6 61.6L1307.4 63.0L1308.0 64.5L1309.2 65.8L1311.1 66.9L1313.5 67.7L1316.5 68.4L1320.0 68.9L1323.9 69.3L1328.1 69.5L1332.7 69.6L1338.0 69.7L1343.3 69.6L1347.9 69.5L1352.1 69.3L1356.0 68.9L1359.5 68.4L1362.5 67.7L1364.9 66.9L1366.8 65.8L1368.0 64.5Z" fill="#a48a84"/>
<path d="M1337.7 224.6L1340.4 230.8L1335.0 230.8Z" fill="#a48a84"/>
<path d="M1366.4 62.6L1366.2 61.4L1365.3 60.1L1363.7 58.7L1361.3 57.3L1358.4 56.0L1354.8 54.8L1350.9 53.8L1346.6 53.0L1342.2 52.6L1338.0 52.4L1333.8 52.6L1329.4 53.0L1325.1 53.8L1321.2 54.8L1317.6 56.0L1314.7 57.3L1312.3 58.7L1310.7 60.1L1309.8 61.4L1309.6 62.6L1310.1 64.0L1311.2 65.1L1313.0 66.0L1315.3 66.8L1318.1 67.4L1321.3 67.9L1324.9 68.2L1328.9 68.4L1333.2 68.5L1338.0 68.6L1342.8 68.5L1347.1 68.4L1351.1 68.2L1354.7 67.9L1357.9 67.4L1360.7 66.8L1363.0 66.0L1364.8 65.1L1365.9 64.0Z" fill="#b8a49f"/>
<path d="M1337.7 225.1L1340.3 230.8L1335.1 230.8Z" fill="#b8a49f"/>
<path d="M1361.1 61.9L1360.9 61.0L1360.2 60.0L1358.8 59.0L1356.9 57.9L1354.4 56.9L1351.6 56.1L1348.4 55.4L1344.9 54.8L1341.4 54.5L1338.0 54.4L1334.6 54.5L1331.1 54.8L1327.6 55.4L1324.4 56.1L1321.6 56.9L1319.1 57.9L1317.2 59.0L1315.8 60.0L1315.1 61.0L1314.9 61.9L1315.3 62.9L1316.2 63.8L1317.6 64.5L1319.4 65.1L1321.7 65.6L1324.4 66.0L1327.4 66.3L1330.7 66.5L1334.2 66.6L1338.0 66.6L1341.8 66.6L1345.3 66.5L1348.6 66.3L1351.6 66.0L1354.3 65.6L1356.6 65.1L1358.4 64.5L1359.8 63.8L1360.7 62.9Z" fill="#ccbebb"/>
<path d="M1337.7 225.6L1340.1 230.8L1335.3 230.8Z" fill="#ccbebb"/>
<path d="M1348.9 60.8L1348.7 60.4L1348.3 60.0L1347.7 59.6L1346.8 59.1L1345.6 58.8L1344.3 58.4L1342.8 58.2L1341.2 58.0L1339.6 57.8L1338.0 57.8L1336.4 57.8L1334.8 58.0L1333.2 58.2L1331.7 58.4L1330.4 58.8L1329.2 59.1L1328.3 59.6L1327.7 60.0L1327.3 60.4L1327.1 60.8L1327.3 61.3L1327.7 61.6L1328.4 62.0L1329.2 62.3L1330.3 62.6L1331.6 62.8L1333.0 63.0L1334.6 63.1L1336.2 63.2L1338.0 63.2L1339.8 63.2L1341.4 63.1L1343.0 63.0L1344.4 62.8L1345.7 62.6L1346.8 62.3L1347.6 62.0L1348.3 61.6L1348.7 61.3Z" fill="#e1d8d6"/>
<path d="M1337.7 226.0L1340.0 230.8L1335.4 230.8Z" fill="#e1d8d6"/>
<path d="M1337.7 226.5L1339.8 230.8L1335.6 230.8Z" fill="#f4f0f0"/>
<path d="M1337.7 226.9L1339.7 230.8L1335.7 230.8Z" fill="#ffffff"/>
</g>
<rect x="1315.40" y="15.50" width="270.60" height="236.70" fill="none" stroke="#d8d8e4" stroke-width="1" opacity="0.85"/>
</g>
<rect x="1313.40" y="13.50" width="274.60" height="240.70" fill="none" stroke="#000" stroke-width="3"/>
<line x1="1337.90" y1="255.20" x2="1337.90" y2="264.90" stroke="#000" stroke-width="3.4" />
<text x="1325.71" y="287.80" font-size="18.40" font-weight="bold" text-anchor="start" fill="#000" >0.0</text>
<line x1="1394.20" y1="255.20" x2="1394.20" y2="264.90" stroke="#000" stroke-width="3.4" />
<text x="1381.90" y="287.80" font-size="18.40" font-weight="bold" text-anchor="start" fill="#000" >0.5</text>
<line x1="1450.30" y1="255.20" x2="1450.30" y2="264.90" stroke="#000" stroke-width="3.4" />
<text x="1438.11" y="287.80" font-size="18.40" font-weight="bold" text-anchor="start" fill="#000" >1.0</text>
<line x1="1506.60" y1="255.20" x2="1506.60" y2="264.90" stroke="#000" stroke-width="3.4" />
<text x="1494.30" y="287.80" font-size="18.40" font-weight="bold" text-anchor="start" fill="#000" >1.5</text>
<line x1="1562.80" y1="255.20" x2="1562.80" y2="264.90" stroke="#000" stroke-width="3.4" />
<text x="1550.66" y="287.80" font-size="18.40" font-weight="bold" text-anchor="start" fill="#000" >2.0</text>
<line x1="1312.40" y1="27.30" x2="1302.20" y2="27.30" stroke="#000" stroke-width="3.4" />
<text x="1272.51" y="34.20" font-size="18.40" font-weight="bold" text-anchor="start" fill="#000" >2.0</text>
<line x1="1312.40" y1="83.40" x2="1302.20" y2="83.40" stroke="#000" stroke-width="3.4" />
<text x="1272.28" y="90.30" font-size="18.40" font-weight="bold" text-anchor="start" fill="#000" >1.5</text>
<line x1="1312.40" y1="139.40" x2="1302.20" y2="139.40" stroke="#000" stroke-width="3.4" />
<text x="1272.51" y="146.30" font-size="18.40" font-weight="bold" text-anchor="start" fill="#000" >1.0</text>
<line x1="1312.40" y1="195.50" x2="1302.20" y2="195.50" stroke="#000" stroke-width="3.4" />
<text x="1272.28" y="202.40" font-size="18.40" font-weight="bold" text-anchor="start" fill="#000" >0.5</text>
<line x1="1312.40" y1="251.60" x2="1302.20" y2="251.60" stroke="#000" stroke-width="3.4" />
<text x="1272.51" y="258.50" font-size="18.40" font-weight="bold" text-anchor="start" fill="#000" >0.0</text>
<text x="1404.51" y="308.10" font-size="21.50" font-weight="bold" font-style="italic">q</text>
<text x="1418.14" y="313.60" font-size="21.00" font-weight="bold" font-style="italic">xy</text>
<text x="1448.68" y="308.70" font-size="21.50" font-weight="bold">(</text>
<text x="1455.49" y="308.40" font-size="20.50" font-weight="bold">Å</text>
<text x="1471.03" y="301.60" font-size="20.50" font-weight="bold">-</text>
<text x="1478.62" y="301.60" font-size="20.50" font-weight="bold">1</text>
<text x="1490.60" y="308.70" font-size="21.50" font-weight="bold">)</text>
<text x="1259.60" y="164.12" font-size="22.50" font-weight="bold" font-style="italic" transform="rotate(-90 1259.60 164.12)">q</text>
<text x="1265.20" y="150.73" font-size="14.50" font-weight="bold" font-style="italic" transform="rotate(-90 1265.20 150.73)">z</text>
<text x="1259.90" y="139.02" font-size="21.50" font-weight="bold" transform="rotate(-90 1259.90 139.02)">(</text>
<text x="1259.60" y="131.11" font-size="20.50" font-weight="bold" transform="rotate(-90 1259.60 131.11)">Å</text>
<text x="1253.20" y="116.32" font-size="13.80" font-weight="bold" transform="rotate(-90 1253.20 116.32)">-</text>
<text x="1253.20" y="111.36" font-size="13.80" font-weight="bold" transform="rotate(-90 1253.20 111.36)">1</text>
<text x="1259.90" y="103.10" font-size="21.50" font-weight="bold" transform="rotate(-90 1259.90 103.10)">)</text>
<text x="1534.59" y="57.30" font-size="27.23" font-weight="bold" text-anchor="start" fill="#fff" >Y6</text>
<text x="1213.00" y="28.60" font-size="40.3" font-weight="bold" text-anchor="start" fill="#000" >e</text>
<clipPath id="cliph2"><rect x="1315.00" y="327.10" width="273.00" height="238.30"/></clipPath>
<g clip-path="url(#cliph2)">
<rect x="1314.00" y="326.10" width="275.00" height="240.30" fill="#333399"/>
<g filter="url(#hblur)">
<path d="M1443.5 404.4L1444.2 400.1L1442.6 392.5L1437.9 382.7L1429.8 371.6L1418.2 360.1L1403.4 349.4L1386.3 340.5L1368.2 334.1L1351.1 330.5L1338.6 329.5L1326.1 330.5L1309.0 334.1L1290.9 340.5L1273.8 349.4L1259.0 360.1L1247.4 371.6L1239.3 382.7L1234.6 392.5L1233.0 400.1L1233.7 404.4L1243.2 417.5L1249.6 423.3L1256.0 426.9L1262.9 429.0L1270.3 429.9L1278.5 429.8L1287.8 428.8L1298.6 427.2L1312.2 425.1L1338.6 423.0L1365.0 425.1L1378.6 427.2L1389.4 428.8L1398.7 429.8L1406.9 429.9L1414.3 429.0L1421.2 426.9L1427.6 423.3L1434.0 417.5Z" fill="#2e3da3"/>
<path d="M1388.6 546.1L1392.4 557.8L1393.3 569.3L1391.2 579.0L1386.4 585.8L1379.4 588.9L1371.1 587.9L1362.5 583.0L1354.6 574.6L1348.4 563.9L1344.6 552.2L1343.7 540.7L1345.8 531.0L1350.6 524.2L1357.6 521.1L1365.9 522.1L1374.5 527.0L1382.4 535.4Z" fill="#2e3da3"/>
<path d="M1384.0 540.6L1386.9 550.3L1387.2 559.8L1384.9 568.1L1380.1 574.0L1373.5 576.9L1365.9 576.5L1358.2 572.7L1351.3 566.1L1346.0 557.4L1343.1 547.7L1342.8 538.2L1345.1 529.9L1349.9 524.0L1356.5 521.1L1364.1 521.5L1371.8 525.3L1378.7 531.9Z" fill="#2e3da3"/>
<path d="M1372.5 562.2L1373.7 571.7L1373.9 580.1L1373.1 586.6L1371.3 590.2L1368.8 590.7L1365.9 587.8L1362.9 582.1L1360.2 574.1L1358.1 564.8L1356.9 555.3L1356.7 546.9L1357.5 540.4L1359.3 536.8L1361.8 536.3L1364.7 539.2L1367.7 544.9L1370.4 552.9Z" fill="#2e3da3"/>
<path d="M1384.9 564.6L1385.6 569.9L1385.4 574.8L1384.4 578.6L1382.7 580.9L1380.4 581.4L1377.9 580.0L1375.4 576.9L1373.3 572.6L1371.7 567.4L1371.0 562.1L1371.2 557.2L1372.2 553.4L1373.9 551.1L1376.2 550.6L1378.7 552.0L1381.2 555.1L1383.3 559.4Z" fill="#2e3da3"/>
<path d="M1325.4 543.2L1323.6 551.0L1320.5 557.6L1316.4 562.3L1312.0 564.4L1307.7 563.8L1304.0 560.5L1301.4 554.9L1300.2 547.7L1300.6 539.8L1302.4 532.0L1305.5 525.4L1309.6 520.7L1314.0 518.6L1318.3 519.2L1322.0 522.5L1324.6 528.1L1325.8 535.3Z" fill="#2e3da3"/>
<path d="M1332.2 537.0L1331.3 544.2L1328.4 550.6L1324.1 555.3L1318.8 557.8L1313.2 557.8L1307.9 555.3L1303.6 550.6L1300.7 544.2L1299.8 537.0L1300.7 529.8L1303.6 523.4L1307.9 518.7L1313.2 516.2L1318.8 516.2L1324.1 518.7L1328.4 523.4L1331.3 529.8Z" fill="#2e3da3"/>
<path d="M1442.7 403.9L1443.4 399.6L1441.8 392.1L1437.1 382.4L1429.0 371.4L1417.5 360.2L1402.8 349.6L1385.9 340.8L1368.0 334.5L1351.0 330.9L1338.6 329.9L1326.2 330.9L1309.2 334.5L1291.3 340.8L1274.4 349.6L1259.7 360.2L1248.2 371.4L1240.1 382.4L1235.4 392.1L1233.8 399.6L1234.5 403.9L1243.8 416.8L1250.1 422.6L1256.5 426.2L1263.3 428.3L1270.7 429.2L1278.9 429.1L1288.1 428.2L1298.9 426.6L1312.4 424.6L1338.6 422.5L1364.8 424.6L1378.3 426.6L1389.1 428.2L1398.3 429.1L1406.5 429.2L1413.9 428.3L1420.7 426.2L1427.1 422.6L1433.4 416.8Z" fill="#2a44aa"/>
<path d="M1386.7 546.9L1390.2 557.6L1391.0 568.0L1389.1 576.8L1384.8 583.0L1378.4 585.8L1370.9 584.9L1363.1 580.4L1355.9 572.8L1350.3 563.1L1346.8 552.4L1346.0 542.0L1347.9 533.2L1352.2 527.0L1358.6 524.2L1366.1 525.1L1373.9 529.6L1381.1 537.2Z" fill="#2a44aa"/>
<path d="M1381.6 541.6L1384.2 550.1L1384.5 558.5L1382.4 565.7L1378.2 570.9L1372.4 573.5L1365.8 573.1L1359.0 569.8L1353.0 564.0L1348.4 556.4L1345.8 547.9L1345.5 539.5L1347.6 532.3L1351.8 527.1L1357.6 524.5L1364.2 524.9L1371.0 528.2L1377.0 534.0Z" fill="#2a44aa"/>
<path d="M1372.0 562.3L1373.1 571.1L1373.3 578.9L1372.5 584.9L1370.9 588.3L1368.5 588.7L1365.8 586.1L1363.0 580.7L1360.5 573.3L1358.6 564.7L1357.5 555.9L1357.3 548.1L1358.1 542.1L1359.7 538.7L1362.1 538.3L1364.8 540.9L1367.6 546.3L1370.1 553.7Z" fill="#2a44aa"/>
<path d="M1384.3 564.7L1385.0 569.6L1384.8 574.1L1383.9 577.6L1382.3 579.7L1380.2 580.1L1377.9 578.8L1375.6 576.0L1373.7 572.0L1372.3 567.3L1371.6 562.4L1371.8 557.9L1372.7 554.4L1374.3 552.3L1376.4 551.9L1378.7 553.2L1381.0 556.0L1382.9 560.0Z" fill="#2a44aa"/>
<path d="M1324.2 543.1L1322.6 550.1L1319.7 556.0L1316.1 560.2L1312.1 562.2L1308.2 561.6L1304.9 558.7L1302.5 553.6L1301.4 547.1L1301.8 539.9L1303.4 532.9L1306.3 527.0L1309.9 522.8L1313.9 520.8L1317.8 521.4L1321.1 524.3L1323.5 529.4L1324.6 535.9Z" fill="#2a44aa"/>
<path d="M1329.9 537.0L1329.1 543.2L1326.7 548.7L1323.0 552.7L1318.4 554.9L1313.6 554.9L1309.0 552.7L1305.3 548.7L1302.9 543.2L1302.1 537.0L1302.9 530.8L1305.3 525.3L1309.0 521.3L1313.6 519.1L1318.4 519.1L1323.0 521.3L1326.7 525.3L1329.1 530.8Z" fill="#2a44aa"/>
<path d="M1441.9 403.4L1442.6 399.1L1441.0 391.7L1436.3 382.1L1428.3 371.3L1416.8 360.2L1402.3 349.8L1385.5 341.1L1367.7 334.9L1350.9 331.4L1338.6 330.4L1326.3 331.4L1309.5 334.9L1291.7 341.1L1274.9 349.8L1260.4 360.2L1248.9 371.3L1240.9 382.1L1236.2 391.7L1234.6 399.1L1235.3 403.4L1244.4 416.2L1250.6 421.9L1256.9 425.5L1263.7 427.6L1271.1 428.5L1279.2 428.5L1288.5 427.6L1299.2 426.0L1312.7 424.0L1338.6 422.0L1364.5 424.0L1378.0 426.0L1388.7 427.6L1398.0 428.5L1406.1 428.5L1413.5 427.6L1420.3 425.5L1426.6 421.9L1432.8 416.2Z" fill="#274bb1"/>
<path d="M1385.6 547.4L1388.8 557.4L1389.6 567.1L1387.8 575.4L1383.7 581.2L1377.8 583.9L1370.7 583.0L1363.4 578.8L1356.7 571.7L1351.4 562.6L1348.2 552.6L1347.4 542.9L1349.2 534.6L1353.3 528.8L1359.2 526.1L1366.3 527.0L1373.6 531.2L1380.3 538.3Z" fill="#274bb1"/>
<path d="M1380.1 542.3L1382.4 550.0L1382.7 557.6L1380.8 564.2L1377.0 568.9L1371.8 571.2L1365.7 570.9L1359.6 567.9L1354.1 562.6L1349.9 555.7L1347.6 548.0L1347.3 540.4L1349.2 533.8L1353.0 529.1L1358.2 526.8L1364.3 527.1L1370.4 530.1L1375.9 535.4Z" fill="#274bb1"/>
<path d="M1371.7 562.4L1372.7 570.7L1372.9 578.2L1372.2 583.8L1370.6 587.1L1368.4 587.5L1365.8 585.0L1363.2 579.9L1360.8 572.8L1358.9 564.6L1357.9 556.3L1357.7 548.8L1358.4 543.2L1360.0 539.9L1362.2 539.5L1364.8 542.0L1367.4 547.1L1369.8 554.2Z" fill="#274bb1"/>
<path d="M1384.0 564.8L1384.6 569.4L1384.5 573.6L1383.6 576.9L1382.1 578.9L1380.1 579.3L1377.9 578.1L1375.8 575.5L1373.9 571.7L1372.6 567.2L1372.0 562.6L1372.1 558.4L1373.0 555.1L1374.5 553.1L1376.5 552.7L1378.7 553.9L1380.8 556.5L1382.7 560.3Z" fill="#274bb1"/>
<path d="M1323.5 543.0L1321.9 549.5L1319.3 555.0L1315.9 559.0L1312.1 560.8L1308.5 560.3L1305.4 557.5L1303.2 552.8L1302.2 546.7L1302.5 540.0L1304.1 533.5L1306.7 528.0L1310.1 524.0L1313.9 522.2L1317.5 522.7L1320.6 525.5L1322.8 530.2L1323.8 536.3Z" fill="#274bb1"/>
<path d="M1328.4 537.0L1327.7 542.5L1325.5 547.4L1322.2 551.0L1318.2 552.9L1313.8 552.9L1309.8 551.0L1306.5 547.4L1304.3 542.5L1303.6 537.0L1304.3 531.5L1306.5 526.6L1309.8 523.0L1313.8 521.1L1318.2 521.1L1322.2 523.0L1325.5 526.6L1327.7 531.5Z" fill="#274bb1"/>
<path d="M1441.2 402.9L1441.8 398.6L1440.1 391.3L1435.5 381.9L1427.5 371.2L1416.1 360.2L1401.7 350.0L1385.1 341.5L1367.5 335.3L1350.8 331.9L1338.6 330.9L1326.4 331.9L1309.7 335.3L1292.1 341.5L1275.5 350.0L1261.1 360.2L1249.7 371.2L1241.7 381.9L1237.1 391.3L1235.4 398.6L1236.0 402.9L1245.0 415.5L1251.1 421.2L1257.4 424.8L1264.1 426.9L1271.5 427.8L1279.6 427.8L1288.8 426.9L1299.5 425.4L1312.9 423.5L1338.6 421.5L1364.3 423.5L1377.7 425.4L1388.4 426.9L1397.6 427.8L1405.7 427.8L1413.1 426.9L1419.8 424.8L1426.1 421.2L1432.2 415.5Z" fill="#2452b8"/>
<path d="M1384.7 547.8L1387.8 557.3L1388.5 566.5L1386.8 574.4L1382.9 579.9L1377.3 582.4L1370.6 581.6L1363.7 577.6L1357.3 570.9L1352.3 562.2L1349.2 552.7L1348.5 543.5L1350.2 535.6L1354.1 530.1L1359.7 527.6L1366.4 528.4L1373.3 532.4L1379.7 539.1Z" fill="#2452b8"/>
<path d="M1378.9 542.8L1381.1 549.9L1381.3 556.9L1379.6 563.0L1376.1 567.3L1371.2 569.5L1365.6 569.2L1360.0 566.4L1354.9 561.6L1351.1 555.2L1348.9 548.1L1348.7 541.1L1350.4 535.0L1353.9 530.7L1358.8 528.5L1364.4 528.8L1370.0 531.6L1375.1 536.4Z" fill="#2452b8"/>
<path d="M1371.4 562.4L1372.5 570.4L1372.6 577.6L1371.9 583.1L1370.4 586.2L1368.3 586.5L1365.8 584.1L1363.2 579.2L1360.9 572.5L1359.2 564.6L1358.1 556.6L1358.0 549.4L1358.7 543.9L1360.2 540.8L1362.3 540.5L1364.8 542.9L1367.4 547.8L1369.7 554.5Z" fill="#2452b8"/>
<path d="M1383.7 564.8L1384.3 569.3L1384.2 573.3L1383.3 576.4L1381.9 578.3L1380.0 578.7L1377.9 577.6L1375.9 575.0L1374.1 571.4L1372.9 567.2L1372.3 562.7L1372.4 558.7L1373.3 555.6L1374.7 553.7L1376.6 553.3L1378.7 554.4L1380.7 557.0L1382.5 560.6Z" fill="#2452b8"/>
<path d="M1322.9 542.9L1321.4 549.0L1318.9 554.3L1315.7 558.0L1312.2 559.7L1308.8 559.2L1305.8 556.6L1303.8 552.2L1302.8 546.4L1303.1 540.1L1304.6 534.0L1307.1 528.7L1310.3 525.0L1313.8 523.3L1317.2 523.8L1320.2 526.4L1322.2 530.8L1323.2 536.6Z" fill="#2452b8"/>
<path d="M1327.2 537.0L1326.5 542.0L1324.6 546.4L1321.6 549.6L1317.9 551.3L1314.1 551.3L1310.4 549.6L1307.4 546.4L1305.5 542.0L1304.8 537.0L1305.5 532.0L1307.4 527.6L1310.4 524.4L1314.1 522.7L1317.9 522.7L1321.6 524.4L1324.6 527.6L1326.5 532.0Z" fill="#2452b8"/>
<path d="M1440.4 402.4L1441.0 398.2L1439.3 390.9L1434.7 381.6L1426.7 371.1L1415.4 360.3L1401.2 350.2L1384.7 341.8L1367.3 335.7L1350.7 332.3L1338.6 331.3L1326.5 332.3L1309.9 335.7L1292.5 341.8L1276.0 350.2L1261.8 360.3L1250.5 371.1L1242.5 381.6L1237.9 390.9L1236.2 398.2L1236.8 402.4L1245.6 414.9L1251.7 420.5L1257.9 424.1L1264.6 426.2L1271.9 427.1L1280.0 427.1L1289.1 426.3L1299.8 424.8L1313.1 422.9L1338.6 421.0L1364.1 422.9L1377.4 424.8L1388.1 426.3L1397.2 427.1L1405.3 427.1L1412.6 426.2L1419.3 424.1L1425.5 420.5L1431.6 414.9Z" fill="#2058be"/>
<path d="M1384.0 548.1L1386.9 557.2L1387.6 566.0L1386.0 573.5L1382.3 578.8L1376.9 581.2L1370.5 580.4L1363.9 576.6L1357.8 570.2L1353.0 561.9L1350.1 552.8L1349.4 544.0L1351.0 536.5L1354.7 531.2L1360.1 528.8L1366.5 529.6L1373.1 533.4L1379.2 539.8Z" fill="#2058be"/>
<path d="M1377.9 543.3L1379.9 549.9L1380.1 556.4L1378.5 562.0L1375.3 566.0L1370.8 568.0L1365.6 567.7L1360.3 565.2L1355.7 560.7L1352.1 554.7L1350.1 548.1L1349.9 541.6L1351.5 536.0L1354.7 532.0L1359.2 530.0L1364.4 530.3L1369.7 532.8L1374.3 537.3Z" fill="#2058be"/>
<path d="M1371.2 562.5L1372.2 570.2L1372.4 577.1L1371.7 582.4L1370.2 585.4L1368.2 585.8L1365.8 583.5L1363.3 578.7L1361.1 572.2L1359.4 564.5L1358.4 556.8L1358.2 549.9L1358.9 544.6L1360.4 541.6L1362.4 541.2L1364.8 543.5L1367.3 548.3L1369.5 554.8Z" fill="#2058be"/>
<path d="M1383.5 564.9L1384.1 569.1L1384.0 573.0L1383.2 576.0L1381.8 577.8L1380.0 578.2L1377.9 577.1L1376.0 574.7L1374.3 571.2L1373.1 567.1L1372.5 562.9L1372.6 559.0L1373.4 556.0L1374.8 554.2L1376.6 553.8L1378.7 554.9L1380.6 557.3L1382.3 560.8Z" fill="#2058be"/>
<path d="M1322.4 542.8L1321.0 548.7L1318.6 553.7L1315.6 557.2L1312.2 558.8L1309.0 558.3L1306.2 555.9L1304.2 551.6L1303.3 546.2L1303.6 540.2L1305.0 534.3L1307.4 529.3L1310.4 525.8L1313.8 524.2L1317.0 524.7L1319.8 527.1L1321.8 531.4L1322.7 536.8Z" fill="#2058be"/>
<path d="M1326.1 537.0L1325.5 541.5L1323.8 545.5L1321.1 548.4L1317.8 550.0L1314.2 550.0L1310.9 548.4L1308.2 545.5L1306.5 541.5L1305.9 537.0L1306.5 532.5L1308.2 528.5L1310.9 525.6L1314.2 524.0L1317.8 524.0L1321.1 525.6L1323.8 528.5L1325.5 532.5Z" fill="#2058be"/>
<path d="M1439.6 401.9L1440.2 397.7L1438.5 390.5L1433.9 381.3L1425.9 370.9L1414.7 360.3L1400.6 350.4L1384.3 342.1L1367.0 336.1L1350.6 332.8L1338.6 331.8L1326.6 332.8L1310.2 336.1L1292.9 342.1L1276.6 350.4L1262.5 360.3L1251.3 370.9L1243.3 381.3L1238.7 390.5L1237.0 397.7L1237.6 401.9L1246.2 414.2L1252.2 419.8L1258.4 423.4L1265.0 425.5L1272.3 426.5L1280.4 426.5L1289.5 425.7L1300.1 424.2L1313.4 422.4L1338.6 420.5L1363.8 422.4L1377.1 424.2L1387.7 425.7L1396.8 426.5L1404.9 426.5L1412.2 425.5L1418.8 423.4L1425.0 419.8L1431.0 414.2Z" fill="#1d5fc5"/>
<path d="M1383.4 548.4L1386.2 557.1L1386.9 565.6L1385.3 572.8L1381.8 577.9L1376.6 580.2L1370.5 579.4L1364.1 575.7L1358.2 569.6L1353.6 561.6L1350.8 552.9L1350.1 544.4L1351.7 537.2L1355.2 532.1L1360.4 529.8L1366.5 530.6L1372.9 534.3L1378.8 540.4Z" fill="#1d5fc5"/>
<path d="M1377.0 543.6L1378.9 549.8L1379.1 555.9L1377.6 561.1L1374.6 564.9L1370.4 566.7L1365.6 566.4L1360.7 564.1L1356.3 559.9L1353.0 554.4L1351.1 548.2L1350.9 542.1L1352.4 536.9L1355.4 533.1L1359.6 531.3L1364.4 531.6L1369.3 533.9L1373.7 538.1Z" fill="#1d5fc5"/>
<path d="M1371.1 562.5L1372.0 570.0L1372.2 576.8L1371.5 581.9L1370.1 584.8L1368.1 585.2L1365.8 582.9L1363.4 578.3L1361.2 571.9L1359.5 564.5L1358.6 557.0L1358.4 550.2L1359.1 545.1L1360.5 542.2L1362.5 541.8L1364.8 544.1L1367.2 548.7L1369.4 555.1Z" fill="#1d5fc5"/>
<path d="M1383.3 564.9L1383.9 569.0L1383.8 572.8L1383.0 575.7L1381.6 577.4L1379.9 577.8L1378.0 576.8L1376.1 574.4L1374.4 571.0L1373.3 567.1L1372.7 563.0L1372.8 559.2L1373.6 556.3L1375.0 554.6L1376.7 554.2L1378.6 555.2L1380.5 557.6L1382.2 561.0Z" fill="#1d5fc5"/>
<path d="M1322.0 542.8L1320.6 548.4L1318.4 553.1L1315.5 556.5L1312.3 558.0L1309.1 557.6L1306.5 555.2L1304.6 551.2L1303.8 546.0L1304.0 540.2L1305.4 534.6L1307.6 529.9L1310.5 526.5L1313.7 525.0L1316.9 525.4L1319.5 527.8L1321.4 531.8L1322.2 537.0Z" fill="#1d5fc5"/>
<path d="M1325.2 537.0L1324.6 541.1L1323.1 544.7L1320.6 547.4L1317.6 548.8L1314.4 548.8L1311.4 547.4L1308.9 544.7L1307.4 541.1L1306.8 537.0L1307.4 532.9L1308.9 529.3L1311.4 526.6L1314.4 525.2L1317.6 525.2L1320.6 526.6L1323.1 529.3L1324.6 532.9Z" fill="#1d5fc5"/>
<path d="M1438.8 401.4L1439.4 397.3L1437.7 390.1L1433.0 381.1L1425.2 370.8L1414.1 360.4L1400.0 350.6L1383.9 342.4L1366.8 336.5L1350.6 333.2L1338.6 332.3L1326.6 333.2L1310.4 336.5L1293.3 342.4L1277.2 350.6L1263.1 360.4L1252.0 370.8L1244.2 381.1L1239.5 390.1L1237.8 397.3L1238.4 401.4L1246.8 413.6L1252.7 419.2L1258.8 422.7L1265.4 424.8L1272.7 425.8L1280.7 425.8L1289.8 425.0L1300.4 423.7L1313.6 421.8L1338.6 420.0L1363.6 421.8L1376.8 423.7L1387.4 425.0L1396.5 425.8L1404.5 425.8L1411.8 424.8L1418.4 422.7L1424.5 419.2L1430.4 413.6Z" fill="#1966cc"/>
<path d="M1382.9 548.6L1385.6 557.0L1386.2 565.2L1384.7 572.2L1381.3 577.0L1376.3 579.3L1370.4 578.6L1364.2 575.0L1358.6 569.0L1354.1 561.4L1351.4 553.0L1350.8 544.8L1352.3 537.8L1355.7 533.0L1360.7 530.7L1366.6 531.4L1372.8 535.0L1378.4 541.0Z" fill="#1966cc"/>
<path d="M1376.2 544.0L1378.0 549.7L1378.2 555.4L1376.8 560.3L1373.9 563.8L1370.0 565.5L1365.5 565.3L1360.9 563.1L1356.9 559.1L1353.8 554.0L1352.0 548.3L1351.8 542.6L1353.2 537.7L1356.1 534.2L1360.0 532.5L1364.5 532.7L1369.1 534.9L1373.1 538.9Z" fill="#1966cc"/>
<path d="M1370.9 562.5L1371.9 569.9L1372.0 576.4L1371.4 581.5L1370.0 584.3L1368.0 584.7L1365.7 582.4L1363.4 578.0L1361.3 571.7L1359.7 564.5L1358.7 557.1L1358.6 550.6L1359.2 545.5L1360.6 542.7L1362.6 542.3L1364.9 544.6L1367.2 549.0L1369.3 555.3Z" fill="#1966cc"/>
<path d="M1383.2 565.0L1383.7 568.9L1383.6 572.6L1382.9 575.4L1381.5 577.1L1379.8 577.5L1378.0 576.4L1376.1 574.2L1374.5 570.9L1373.4 567.0L1372.9 563.1L1373.0 559.4L1373.7 556.6L1375.1 554.9L1376.8 554.5L1378.6 555.6L1380.5 557.8L1382.1 561.1Z" fill="#1966cc"/>
<path d="M1321.6 542.7L1320.3 548.1L1318.2 552.7L1315.4 555.9L1312.3 557.4L1309.3 557.0L1306.8 554.7L1305.0 550.8L1304.1 545.8L1304.4 540.3L1305.7 534.9L1307.8 530.3L1310.6 527.1L1313.7 525.6L1316.7 526.0L1319.2 528.3L1321.0 532.2L1321.9 537.2Z" fill="#1966cc"/>
<path d="M1324.3 537.0L1323.8 540.7L1322.4 544.0L1320.2 546.4L1317.4 547.7L1314.6 547.7L1311.8 546.4L1309.6 544.0L1308.2 540.7L1307.7 537.0L1308.2 533.3L1309.6 530.0L1311.8 527.6L1314.6 526.3L1317.4 526.3L1320.2 527.6L1322.4 530.0L1323.8 533.3Z" fill="#1966cc"/>
<path d="M1438.0 400.9L1438.5 396.8L1436.8 389.8L1432.2 380.8L1424.4 370.7L1413.4 360.4L1399.5 350.8L1383.5 342.7L1366.6 336.9L1350.5 333.7L1338.6 332.7L1326.7 333.7L1310.6 336.9L1293.7 342.7L1277.7 350.8L1263.8 360.4L1252.8 370.7L1245.0 380.8L1240.4 389.8L1238.7 396.8L1239.2 400.9L1247.4 412.9L1253.3 418.5L1259.3 422.0L1265.9 424.1L1273.1 425.1L1281.1 425.2L1290.2 424.4L1300.7 423.1L1313.9 421.3L1338.6 419.5L1363.3 421.3L1376.5 423.1L1387.0 424.4L1396.1 425.2L1404.1 425.1L1411.3 424.1L1417.9 422.0L1423.9 418.5L1429.8 412.9Z" fill="#166dd3"/>
<path d="M1382.4 548.8L1385.0 557.0L1385.6 564.9L1384.2 571.6L1380.9 576.3L1376.1 578.5L1370.3 577.8L1364.4 574.3L1358.9 568.6L1354.6 561.2L1352.0 553.0L1351.4 545.1L1352.8 538.4L1356.1 533.7L1360.9 531.5L1366.7 532.2L1372.6 535.7L1378.1 541.4Z" fill="#166dd3"/>
<path d="M1375.5 544.3L1377.1 549.7L1377.3 555.0L1376.0 559.5L1373.3 562.8L1369.7 564.5L1365.5 564.2L1361.2 562.1L1357.4 558.5L1354.5 553.7L1352.9 548.3L1352.7 543.0L1354.0 538.5L1356.7 535.2L1360.3 533.5L1364.5 533.8L1368.8 535.9L1372.6 539.5Z" fill="#166dd3"/>
<path d="M1370.8 562.5L1371.7 569.7L1371.9 576.1L1371.2 581.1L1369.9 583.8L1368.0 584.2L1365.7 582.0L1363.4 577.6L1361.4 571.5L1359.8 564.5L1358.9 557.3L1358.7 550.9L1359.4 545.9L1360.7 543.2L1362.6 542.8L1364.9 545.0L1367.2 549.4L1369.2 555.5Z" fill="#166dd3"/>
<path d="M1383.0 565.0L1383.6 568.9L1383.5 572.4L1382.7 575.1L1381.5 576.8L1379.8 577.1L1378.0 576.1L1376.2 573.9L1374.6 570.8L1373.6 567.0L1373.0 563.1L1373.1 559.6L1373.9 556.9L1375.1 555.2L1376.8 554.9L1378.6 555.9L1380.4 558.1L1382.0 561.2Z" fill="#166dd3"/>
<path d="M1321.3 542.7L1320.1 547.8L1318.0 552.2L1315.3 555.3L1312.3 556.8L1309.4 556.4L1307.0 554.2L1305.3 550.4L1304.5 545.6L1304.7 540.3L1305.9 535.2L1308.0 530.8L1310.7 527.7L1313.7 526.2L1316.6 526.6L1319.0 528.8L1320.7 532.6L1321.5 537.4Z" fill="#166dd3"/>
<path d="M1323.5 537.0L1323.0 540.3L1321.7 543.3L1319.7 545.4L1317.3 546.6L1314.7 546.6L1312.3 545.4L1310.3 543.3L1309.0 540.3L1308.5 537.0L1309.0 533.7L1310.3 530.7L1312.3 528.6L1314.7 527.4L1317.3 527.4L1319.7 528.6L1321.7 530.7L1323.0 533.7Z" fill="#166dd3"/>
<path d="M1437.2 400.4L1437.7 396.3L1436.0 389.4L1431.4 380.6L1423.6 370.6L1412.7 360.5L1398.9 351.0L1383.1 343.1L1366.3 337.4L1350.4 334.1L1338.6 333.2L1326.8 334.1L1310.9 337.4L1294.1 343.1L1278.3 351.0L1264.5 360.5L1253.6 370.6L1245.8 380.6L1241.2 389.4L1239.5 396.3L1240.0 400.4L1248.0 412.3L1253.8 417.8L1259.8 421.3L1266.3 423.4L1273.5 424.4L1281.5 424.5L1290.5 423.8L1301.1 422.5L1314.1 420.7L1338.6 419.0L1363.1 420.7L1376.1 422.5L1386.7 423.8L1395.7 424.5L1403.7 424.4L1410.9 423.4L1417.4 421.3L1423.4 417.8L1429.2 412.3Z" fill="#1374da"/>
<path d="M1382.0 549.0L1384.5 556.9L1385.1 564.6L1383.7 571.1L1380.5 575.6L1375.8 577.7L1370.3 577.1L1364.5 573.7L1359.2 568.2L1355.0 561.0L1352.5 553.1L1351.9 545.4L1353.3 538.9L1356.5 534.4L1361.2 532.3L1366.7 532.9L1372.5 536.3L1377.8 541.8Z" fill="#1374da"/>
<path d="M1374.8 544.6L1376.3 549.6L1376.5 554.6L1375.2 558.8L1372.8 561.9L1369.4 563.4L1365.5 563.2L1361.5 561.3L1357.9 557.8L1355.2 553.4L1353.7 548.4L1353.5 543.4L1354.8 539.2L1357.2 536.1L1360.6 534.6L1364.5 534.8L1368.5 536.7L1372.1 540.2Z" fill="#1374da"/>
<path d="M1370.7 562.6L1371.6 569.6L1371.7 575.9L1371.1 580.7L1369.8 583.4L1367.9 583.7L1365.7 581.6L1363.5 577.3L1361.5 571.4L1359.9 564.4L1359.0 557.4L1358.9 551.1L1359.5 546.3L1360.8 543.6L1362.7 543.3L1364.9 545.4L1367.1 549.7L1369.1 555.6Z" fill="#1374da"/>
<path d="M1382.9 565.0L1383.4 568.8L1383.3 572.2L1382.6 574.9L1381.4 576.5L1379.8 576.8L1378.0 575.9L1376.2 573.7L1374.7 570.6L1373.7 567.0L1373.2 563.2L1373.3 559.8L1374.0 557.1L1375.2 555.5L1376.8 555.2L1378.6 556.1L1380.4 558.3L1381.9 561.4Z" fill="#1374da"/>
<path d="M1321.0 542.6L1319.8 547.6L1317.8 551.8L1315.2 554.8L1312.3 556.2L1309.6 555.8L1307.2 553.7L1305.5 550.1L1304.8 545.5L1305.0 540.4L1306.2 535.4L1308.2 531.2L1310.8 528.2L1313.7 526.8L1316.4 527.2L1318.8 529.3L1320.5 532.9L1321.2 537.5Z" fill="#1374da"/>
<path d="M1322.6 537.0L1322.2 540.0L1321.1 542.6L1319.3 544.5L1317.2 545.5L1314.8 545.5L1312.7 544.5L1310.9 542.6L1309.8 540.0L1309.4 537.0L1309.8 534.0L1310.9 531.4L1312.7 529.5L1314.8 528.5L1317.2 528.5L1319.3 529.5L1321.1 531.4L1322.2 534.0Z" fill="#1374da"/>
<path d="M1436.4 399.9L1436.9 395.9L1435.2 389.0L1430.6 380.3L1422.9 370.5L1412.0 360.5L1398.4 351.2L1382.7 343.4L1366.1 337.8L1350.3 334.6L1338.6 333.7L1326.9 334.6L1311.1 337.8L1294.5 343.4L1278.8 351.2L1265.2 360.5L1254.3 370.5L1246.6 380.3L1242.0 389.0L1240.3 395.9L1240.8 399.9L1248.7 411.7L1254.4 417.1L1260.3 420.6L1266.8 422.7L1273.9 423.7L1281.9 423.8L1290.9 423.2L1301.4 421.9L1314.4 420.2L1338.6 418.5L1362.8 420.2L1375.8 421.9L1386.3 423.2L1395.3 423.8L1403.3 423.7L1410.4 422.7L1416.9 420.6L1422.8 417.1L1428.5 411.7Z" fill="#0f7ae0"/>
<path d="M1381.5 549.2L1384.0 556.8L1384.6 564.3L1383.3 570.6L1380.1 575.0L1375.6 577.0L1370.2 576.4L1364.6 573.2L1359.5 567.8L1355.5 560.8L1353.0 553.2L1352.4 545.7L1353.7 539.4L1356.9 535.0L1361.4 533.0L1366.8 533.6L1372.4 536.8L1377.5 542.2Z" fill="#0f7ae0"/>
<path d="M1374.1 544.9L1375.5 549.6L1375.7 554.2L1374.5 558.2L1372.3 561.0L1369.1 562.4L1365.4 562.2L1361.7 560.4L1358.4 557.2L1355.9 553.1L1354.5 548.4L1354.3 543.8L1355.5 539.8L1357.7 537.0L1360.9 535.6L1364.6 535.8L1368.3 537.6L1371.6 540.8Z" fill="#0f7ae0"/>
<path d="M1370.6 562.6L1371.5 569.5L1371.6 575.6L1371.0 580.4L1369.7 583.0L1367.9 583.4L1365.7 581.3L1363.5 577.1L1361.5 571.2L1360.0 564.4L1359.1 557.5L1359.0 551.4L1359.6 546.6L1360.9 544.0L1362.7 543.6L1364.9 545.7L1367.1 549.9L1369.1 555.8Z" fill="#0f7ae0"/>
<path d="M1382.8 565.0L1383.3 568.7L1383.2 572.1L1382.5 574.7L1381.3 576.3L1379.7 576.6L1378.0 575.6L1376.3 573.5L1374.8 570.5L1373.8 567.0L1373.3 563.3L1373.4 559.9L1374.1 557.3L1375.3 555.7L1376.9 555.4L1378.6 556.4L1380.3 558.5L1381.8 561.5Z" fill="#0f7ae0"/>
<path d="M1320.7 542.6L1319.6 547.4L1317.6 551.5L1315.1 554.4L1312.4 555.7L1309.7 555.3L1307.4 553.3L1305.8 549.8L1305.1 545.4L1305.3 540.4L1306.4 535.6L1308.4 531.5L1310.9 528.6L1313.6 527.3L1316.3 527.7L1318.6 529.7L1320.2 533.2L1320.9 537.6Z" fill="#0f7ae0"/>
<path d="M1321.8 537.0L1321.5 539.6L1320.4 541.8L1318.9 543.5L1317.0 544.4L1315.0 544.4L1313.1 543.5L1311.6 541.8L1310.5 539.6L1310.2 537.0L1310.5 534.4L1311.6 532.2L1313.1 530.5L1315.0 529.6L1317.0 529.6L1318.9 530.5L1320.4 532.2L1321.5 534.4Z" fill="#0f7ae0"/>
<path d="M1435.6 399.5L1436.1 395.5L1434.3 388.7L1429.8 380.1L1422.1 370.4L1411.3 360.6L1397.8 351.4L1382.3 343.7L1365.9 338.2L1350.2 335.0L1338.6 334.1L1327.0 335.0L1311.3 338.2L1294.9 343.7L1279.4 351.4L1265.9 360.6L1255.1 370.4L1247.4 380.1L1242.9 388.7L1241.1 395.5L1241.6 399.5L1249.3 411.1L1254.9 416.5L1260.8 419.9L1267.3 422.1L1274.4 423.1L1282.3 423.2L1291.3 422.5L1301.7 421.3L1314.6 419.6L1338.6 418.0L1362.6 419.6L1375.5 421.3L1385.9 422.5L1394.9 423.2L1402.8 423.1L1409.9 422.1L1416.4 419.9L1422.3 416.5L1427.9 411.1Z" fill="#0c81e7"/>
<path d="M1381.2 549.4L1383.6 556.8L1384.1 564.0L1382.8 570.1L1379.8 574.4L1375.4 576.4L1370.2 575.8L1364.7 572.7L1359.7 567.4L1355.8 560.6L1353.4 553.2L1352.9 546.0L1354.2 539.9L1357.2 535.6L1361.6 533.6L1366.8 534.2L1372.3 537.3L1377.3 542.6Z" fill="#0c81e7"/>
<path d="M1373.5 545.2L1374.8 549.6L1374.9 553.8L1373.9 557.5L1371.7 560.2L1368.8 561.5L1365.4 561.3L1361.9 559.6L1358.9 556.7L1356.5 552.8L1355.2 548.4L1355.1 544.2L1356.1 540.5L1358.3 537.8L1361.2 536.5L1364.6 536.7L1368.1 538.4L1371.1 541.3Z" fill="#0c81e7"/>
<path d="M1370.5 562.6L1371.4 569.4L1371.5 575.4L1370.9 580.0L1369.6 582.7L1367.8 583.0L1365.7 581.0L1363.6 576.8L1361.6 571.1L1360.1 564.4L1359.2 557.6L1359.1 551.6L1359.7 547.0L1361.0 544.3L1362.8 544.0L1364.9 546.0L1367.0 550.2L1369.0 555.9Z" fill="#0c81e7"/>
<path d="M1382.7 565.1L1383.2 568.7L1383.1 571.9L1382.4 574.5L1381.2 576.0L1379.7 576.3L1378.0 575.4L1376.3 573.4L1374.9 570.4L1373.9 566.9L1373.4 563.3L1373.5 560.1L1374.2 557.5L1375.4 556.0L1376.9 555.7L1378.6 556.6L1380.3 558.6L1381.7 561.6Z" fill="#0c81e7"/>
<path d="M1320.5 542.5L1319.3 547.2L1317.5 551.1L1315.1 553.9L1312.4 555.2L1309.8 554.9L1307.6 552.9L1306.1 549.5L1305.3 545.2L1305.5 540.5L1306.7 535.8L1308.5 531.9L1310.9 529.1L1313.6 527.8L1316.2 528.1L1318.4 530.1L1319.9 533.5L1320.7 537.8Z" fill="#0c81e7"/>
<path d="M1320.9 537.0L1320.6 539.2L1319.8 541.1L1318.5 542.5L1316.9 543.3L1315.1 543.3L1313.5 542.5L1312.2 541.1L1311.4 539.2L1311.1 537.0L1311.4 534.8L1312.2 532.9L1313.5 531.5L1315.1 530.7L1316.9 530.7L1318.5 531.5L1319.8 532.9L1320.6 534.8Z" fill="#0c81e7"/>
<path d="M1434.8 399.0L1435.2 395.0L1433.5 388.3L1428.9 379.8L1421.3 370.3L1410.6 360.6L1397.2 351.6L1381.9 344.0L1365.6 338.6L1350.1 335.5L1338.6 334.6L1327.1 335.5L1311.6 338.6L1295.3 344.0L1280.0 351.6L1266.6 360.6L1255.9 370.3L1248.3 379.8L1243.7 388.3L1242.0 395.0L1242.4 399.0L1249.9 410.4L1255.5 415.8L1261.3 419.3L1267.7 421.4L1274.8 422.4L1282.7 422.5L1291.6 421.9L1302.0 420.7L1314.9 419.1L1338.6 417.5L1362.3 419.1L1375.2 420.7L1385.6 421.9L1394.5 422.5L1402.4 422.4L1409.5 421.4L1415.9 419.3L1421.7 415.8L1427.3 410.4Z" fill="#0888ee"/>
<path d="M1380.8 549.5L1383.2 556.7L1383.7 563.8L1382.4 569.7L1379.5 573.9L1375.2 575.8L1370.1 575.2L1364.8 572.2L1360.0 567.1L1356.2 560.5L1353.8 553.3L1353.3 546.2L1354.6 540.3L1357.5 536.1L1361.8 534.2L1366.9 534.8L1372.2 537.8L1377.0 542.9Z" fill="#0888ee"/>
<path d="M1372.8 545.5L1374.1 549.5L1374.2 553.5L1373.2 556.9L1371.2 559.3L1368.5 560.5L1365.4 560.4L1362.2 558.8L1359.3 556.1L1357.2 552.5L1355.9 548.5L1355.8 544.5L1356.8 541.1L1358.8 538.7L1361.5 537.5L1364.6 537.6L1367.8 539.2L1370.7 541.9Z" fill="#0888ee"/>
<path d="M1370.4 562.6L1371.3 569.3L1371.4 575.2L1370.8 579.8L1369.5 582.3L1367.8 582.7L1365.7 580.7L1363.6 576.6L1361.7 570.9L1360.2 564.4L1359.3 557.7L1359.2 551.8L1359.8 547.2L1361.1 544.7L1362.8 544.3L1364.9 546.3L1367.0 550.4L1368.9 556.1Z" fill="#0888ee"/>
<path d="M1382.6 565.1L1383.1 568.6L1383.0 571.8L1382.3 574.3L1381.2 575.8L1379.7 576.1L1378.0 575.2L1376.4 573.2L1375.0 570.3L1374.0 566.9L1373.5 563.4L1373.6 560.2L1374.3 557.7L1375.4 556.2L1376.9 555.9L1378.6 556.8L1380.2 558.8L1381.6 561.7Z" fill="#0888ee"/>
<path d="M1320.2 542.5L1319.1 547.0L1317.3 550.8L1315.0 553.5L1312.4 554.8L1309.9 554.4L1307.8 552.5L1306.3 549.3L1305.6 545.1L1305.8 540.5L1306.9 536.0L1308.7 532.2L1311.0 529.5L1313.6 528.2L1316.1 528.6L1318.2 530.5L1319.7 533.7L1320.4 537.9Z" fill="#0888ee"/>
<path d="M1319.9 537.0L1319.7 538.7L1319.0 540.3L1318.0 541.4L1316.7 542.0L1315.3 542.0L1314.0 541.4L1313.0 540.3L1312.3 538.7L1312.1 537.0L1312.3 535.3L1313.0 533.7L1314.0 532.6L1315.3 532.0L1316.7 532.0L1318.0 532.6L1319.0 533.7L1319.7 535.3Z" fill="#0888ee"/>
<path d="M1434.0 398.5L1434.4 394.6L1432.7 388.0L1428.1 379.6L1420.5 370.2L1409.9 360.7L1396.7 351.8L1381.5 344.4L1365.4 339.0L1350.0 335.9L1338.6 335.1L1327.2 335.9L1311.8 339.0L1295.7 344.4L1280.5 351.8L1267.3 360.7L1256.7 370.2L1249.1 379.6L1244.5 388.0L1242.8 394.6L1243.2 398.5L1250.6 409.8L1256.0 415.1L1261.8 418.6L1268.2 420.7L1275.2 421.7L1283.1 421.9L1292.0 421.3L1302.3 420.1L1315.1 418.5L1338.6 417.0L1362.1 418.5L1374.9 420.1L1385.2 421.3L1394.1 421.9L1402.0 421.7L1409.0 420.7L1415.4 418.6L1421.2 415.1L1426.6 409.8Z" fill="#058ff5"/>
<path d="M1380.5 549.7L1382.8 556.7L1383.3 563.5L1382.1 569.3L1379.2 573.4L1375.0 575.3L1370.1 574.7L1364.9 571.7L1360.2 566.7L1356.5 560.3L1354.2 553.3L1353.7 546.5L1354.9 540.7L1357.8 536.6L1362.0 534.7L1366.9 535.3L1372.1 538.3L1376.8 543.3Z" fill="#058ff5"/>
<path d="M1372.2 545.8L1373.3 549.5L1373.4 553.1L1372.5 556.2L1370.7 558.5L1368.2 559.6L1365.3 559.4L1362.4 558.0L1359.8 555.5L1357.8 552.2L1356.7 548.5L1356.6 544.9L1357.5 541.8L1359.3 539.5L1361.8 538.4L1364.7 538.6L1367.6 540.0L1370.2 542.5Z" fill="#058ff5"/>
<path d="M1370.3 562.6L1371.2 569.2L1371.3 575.0L1370.7 579.5L1369.5 582.0L1367.7 582.3L1365.7 580.4L1363.6 576.4L1361.7 570.8L1360.3 564.4L1359.4 557.8L1359.3 552.0L1359.9 547.5L1361.1 545.0L1362.9 544.7L1364.9 546.6L1367.0 550.6L1368.9 556.2Z" fill="#058ff5"/>
<path d="M1382.5 565.1L1383.0 568.5L1382.9 571.7L1382.2 574.1L1381.1 575.6L1379.6 575.9L1378.0 575.0L1376.4 573.0L1375.1 570.2L1374.1 566.9L1373.6 563.5L1373.7 560.3L1374.4 557.9L1375.5 556.4L1377.0 556.1L1378.6 557.0L1380.2 559.0L1381.5 561.8Z" fill="#058ff5"/>
<path d="M1320.0 542.5L1318.9 546.8L1317.2 550.5L1314.9 553.1L1312.4 554.3L1310.0 554.0L1307.9 552.2L1306.5 549.0L1305.8 545.0L1306.0 540.5L1307.1 536.2L1308.8 532.5L1311.1 529.9L1313.6 528.7L1316.0 529.0L1318.1 530.8L1319.5 534.0L1320.2 538.0Z" fill="#058ff5"/>
<path d="M1318.7 537.0L1318.6 538.2L1318.1 539.3L1317.4 540.1L1316.5 540.5L1315.5 540.5L1314.6 540.1L1313.9 539.3L1313.4 538.2L1313.3 537.0L1313.4 535.8L1313.9 534.7L1314.6 533.9L1315.5 533.5L1316.5 533.5L1317.4 533.9L1318.1 534.7L1318.6 535.8Z" fill="#058ff5"/>
<path d="M1433.2 398.1L1433.6 394.2L1431.8 387.6L1427.3 379.4L1419.7 370.1L1409.2 360.7L1396.1 352.0L1381.1 344.7L1365.2 339.4L1350.0 336.4L1338.6 335.5L1327.2 336.4L1312.0 339.4L1296.1 344.7L1281.1 352.0L1268.0 360.7L1257.5 370.1L1249.9 379.4L1245.4 387.6L1243.6 394.2L1244.0 398.1L1251.2 409.2L1256.6 414.5L1262.4 417.9L1268.7 420.0L1275.7 421.1L1283.5 421.2L1292.4 420.7L1302.7 419.5L1315.4 418.0L1338.6 416.5L1361.8 418.0L1374.5 419.5L1384.8 420.7L1393.7 421.2L1401.5 421.1L1408.5 420.0L1414.8 417.9L1420.6 414.5L1426.0 409.2Z" fill="#0099ff"/>
<path d="M1380.2 549.8L1382.4 556.6L1382.9 563.3L1381.7 568.9L1378.9 572.9L1374.8 574.7L1370.0 574.1L1365.0 571.3L1360.4 566.4L1356.8 560.2L1354.6 553.4L1354.1 546.7L1355.3 541.1L1358.1 537.1L1362.2 535.3L1367.0 535.9L1372.0 538.7L1376.6 543.6Z" fill="#0099ff"/>
<path d="M1371.5 546.1L1372.6 549.4L1372.7 552.7L1371.8 555.6L1370.2 557.6L1367.9 558.6L1365.3 558.5L1362.6 557.2L1360.3 554.9L1358.5 551.9L1357.4 548.6L1357.3 545.3L1358.2 542.4L1359.8 540.4L1362.1 539.4L1364.7 539.5L1367.4 540.8L1369.7 543.1Z" fill="#0099ff"/>
<path d="M1370.2 562.6L1371.1 569.1L1371.2 574.8L1370.6 579.2L1369.4 581.7L1367.7 582.0L1365.7 580.1L1363.6 576.2L1361.8 570.7L1360.4 564.4L1359.5 557.9L1359.4 552.2L1360.0 547.8L1361.2 545.3L1362.9 545.0L1364.9 546.9L1367.0 550.8L1368.8 556.3Z" fill="#0099ff"/>
<path d="M1382.4 565.1L1382.9 568.5L1382.8 571.6L1382.1 573.9L1381.0 575.4L1379.6 575.7L1378.0 574.8L1376.5 572.9L1375.1 570.1L1374.2 566.9L1373.7 563.5L1373.8 560.4L1374.5 558.1L1375.6 556.6L1377.0 556.3L1378.6 557.2L1380.1 559.1L1381.5 561.9Z" fill="#0099ff"/>
<path d="M1319.7 542.4L1318.7 546.7L1317.0 550.2L1314.9 552.8L1312.4 553.9L1310.1 553.6L1308.1 551.8L1306.7 548.8L1306.1 544.9L1306.3 540.6L1307.3 536.3L1309.0 532.8L1311.1 530.2L1313.6 529.1L1315.9 529.4L1317.9 531.2L1319.3 534.2L1319.9 538.1Z" fill="#0099ff"/>
<path d="M1431.0 396.9L1431.4 393.1L1429.6 386.7L1425.1 378.8L1417.7 369.9L1407.4 360.9L1394.6 352.6L1380.0 345.6L1364.5 340.5L1349.7 337.6L1338.6 336.8L1327.5 337.6L1312.7 340.5L1297.2 345.6L1282.6 352.6L1269.8 360.9L1259.5 369.9L1252.1 378.8L1247.6 386.7L1245.8 393.1L1246.2 396.9L1253.0 407.7L1258.2 413.0L1263.8 416.4L1270.0 418.6L1276.9 419.7L1284.6 419.9L1293.4 419.4L1303.5 418.4L1316.1 417.0L1338.6 415.6L1361.1 417.0L1373.7 418.4L1383.8 419.4L1392.6 419.9L1400.3 419.7L1407.2 418.6L1413.4 416.4L1419.0 413.0L1424.2 407.7Z" fill="#00a3e0"/>
<path d="M1379.6 550.1L1381.7 556.6L1382.2 562.9L1381.0 568.2L1378.4 572.0L1374.5 573.7L1370.0 573.2L1365.2 570.4L1360.8 565.8L1357.4 559.9L1355.3 553.4L1354.8 547.1L1356.0 541.8L1358.6 538.0L1362.5 536.3L1367.0 536.8L1371.8 539.6L1376.2 544.2Z" fill="#00a3e0"/>
<path d="M1370.2 546.7L1371.0 549.3L1371.1 551.9L1370.4 554.2L1369.1 555.8L1367.3 556.6L1365.2 556.5L1363.1 555.5L1361.3 553.7L1359.8 551.3L1359.0 548.7L1358.9 546.1L1359.6 543.8L1360.9 542.2L1362.7 541.4L1364.8 541.5L1366.9 542.5L1368.7 544.3Z" fill="#00a3e0"/>
<path d="M1370.1 562.7L1370.9 568.9L1371.0 574.5L1370.5 578.8L1369.3 581.2L1367.6 581.5L1365.7 579.6L1363.7 575.8L1361.9 570.5L1360.5 564.3L1359.7 558.1L1359.6 552.5L1360.1 548.2L1361.3 545.8L1363.0 545.5L1364.9 547.4L1366.9 551.2L1368.7 556.5Z" fill="#00a3e0"/>
<path d="M1382.3 565.2L1382.7 568.4L1382.6 571.3L1382.0 573.6L1380.9 575.0L1379.6 575.3L1378.0 574.5L1376.5 572.6L1375.2 570.0L1374.3 566.8L1373.9 563.6L1374.0 560.7L1374.6 558.4L1375.7 557.0L1377.0 556.7L1378.6 557.5L1380.1 559.4L1381.4 562.0Z" fill="#00a3e0"/>
<path d="M1319.3 542.4L1318.4 546.3L1316.8 549.7L1314.7 552.1L1312.5 553.2L1310.3 552.8L1308.4 551.2L1307.1 548.3L1306.5 544.7L1306.7 540.6L1307.6 536.7L1309.2 533.3L1311.3 530.9L1313.5 529.8L1315.7 530.2L1317.6 531.8L1318.9 534.7L1319.5 538.3Z" fill="#00a3e0"/>
<path d="M1428.4 395.4L1428.7 391.8L1426.9 385.7L1422.4 378.2L1415.1 369.8L1405.1 361.2L1392.7 353.3L1378.6 346.7L1363.6 341.9L1349.4 339.2L1338.6 338.4L1327.8 339.2L1313.6 341.9L1298.6 346.7L1284.5 353.3L1272.1 361.2L1262.1 369.8L1254.8 378.2L1250.3 385.7L1248.5 391.8L1248.8 395.4L1255.3 406.1L1260.3 411.3L1265.8 414.8L1271.8 417.0L1278.6 418.2L1286.2 418.6L1294.7 418.2L1304.6 417.3L1316.9 416.1L1338.6 414.8L1360.3 416.1L1372.6 417.3L1382.5 418.2L1391.0 418.6L1398.6 418.2L1405.4 417.0L1411.4 414.8L1416.9 411.3L1421.9 406.1Z" fill="#00adc2"/>
<path d="M1379.0 550.3L1381.0 556.5L1381.5 562.5L1380.4 567.6L1377.9 571.2L1374.2 572.8L1369.9 572.3L1365.4 569.7L1361.2 565.3L1358.0 559.7L1356.0 553.5L1355.5 547.5L1356.6 542.4L1359.1 538.8L1362.8 537.2L1367.1 537.7L1371.6 540.3L1375.8 544.7Z" fill="#00adc2"/>
<path d="M1368.6 547.4L1369.1 549.2L1369.2 551.0L1368.7 552.6L1367.8 553.7L1366.6 554.2L1365.2 554.2L1363.7 553.5L1362.4 552.2L1361.4 550.6L1360.9 548.8L1360.8 547.0L1361.3 545.4L1362.2 544.3L1363.4 543.8L1364.8 543.8L1366.3 544.5L1367.6 545.8Z" fill="#00adc2"/>
<path d="M1370.0 562.7L1370.7 568.8L1370.9 574.2L1370.3 578.4L1369.2 580.7L1367.6 581.0L1365.7 579.2L1363.7 575.5L1362.0 570.3L1360.6 564.3L1359.9 558.2L1359.7 552.8L1360.3 548.6L1361.4 546.3L1363.0 546.0L1364.9 547.8L1366.9 551.5L1368.6 556.7Z" fill="#00adc2"/>
<path d="M1382.1 565.2L1382.5 568.3L1382.5 571.1L1381.9 573.4L1380.8 574.7L1379.5 575.0L1378.0 574.2L1376.6 572.4L1375.4 569.8L1374.5 566.8L1374.1 563.7L1374.1 560.9L1374.7 558.6L1375.8 557.3L1377.1 557.0L1378.6 557.8L1380.0 559.6L1381.2 562.2Z" fill="#00adc2"/>
<path d="M1318.9 542.3L1318.0 546.0L1316.6 549.2L1314.6 551.4L1312.5 552.4L1310.5 552.1L1308.7 550.6L1307.5 547.9L1306.9 544.5L1307.1 540.7L1308.0 537.0L1309.4 533.8L1311.4 531.6L1313.5 530.6L1315.5 530.9L1317.3 532.4L1318.5 535.1L1319.1 538.5Z" fill="#00adc2"/>
<path d="M1425.8 394.0L1426.0 390.5L1424.1 384.7L1419.7 377.6L1412.6 369.6L1402.8 361.5L1390.8 354.1L1377.2 347.8L1362.8 343.3L1349.0 340.7L1338.6 340.0L1328.2 340.7L1314.4 343.3L1300.0 347.8L1286.4 354.1L1274.4 361.5L1264.6 369.6L1257.5 377.6L1253.1 384.7L1251.2 390.5L1251.4 394.0L1257.6 404.5L1262.5 409.7L1267.8 413.2L1273.7 415.5L1280.3 416.8L1287.7 417.2L1296.0 417.0L1305.8 416.3L1317.6 415.1L1338.6 414.0L1359.6 415.1L1371.4 416.3L1381.2 417.0L1389.5 417.2L1396.9 416.8L1403.5 415.5L1409.4 413.2L1414.7 409.7L1419.6 404.5Z" fill="#00b8a3"/>
<path d="M1378.5 550.5L1380.4 556.4L1380.9 562.1L1379.8 567.0L1377.4 570.4L1373.9 571.9L1369.8 571.4L1365.5 568.9L1361.6 564.8L1358.5 559.5L1356.6 553.6L1356.1 547.9L1357.2 543.0L1359.6 539.6L1363.1 538.1L1367.2 538.6L1371.5 541.1L1375.4 545.2Z" fill="#00b8a3"/>
<path d="M1369.8 562.7L1370.6 568.6L1370.7 573.9L1370.2 578.0L1369.1 580.3L1367.5 580.6L1365.7 578.8L1363.8 575.2L1362.1 570.1L1360.8 564.3L1360.0 558.4L1359.9 553.1L1360.4 549.0L1361.5 546.7L1363.1 546.4L1364.9 548.2L1366.8 551.8L1368.5 556.9Z" fill="#00b8a3"/>
<path d="M1382.0 565.2L1382.4 568.2L1382.3 571.0L1381.7 573.1L1380.7 574.4L1379.5 574.6L1378.0 573.9L1376.7 572.2L1375.5 569.7L1374.6 566.8L1374.2 563.8L1374.3 561.0L1374.9 558.9L1375.9 557.6L1377.1 557.4L1378.6 558.1L1379.9 559.8L1381.1 562.3Z" fill="#00b8a3"/>
<path d="M1318.5 542.3L1317.7 545.7L1316.3 548.7L1314.5 550.8L1312.5 551.7L1310.6 551.4L1309.0 550.0L1307.8 547.5L1307.3 544.3L1307.5 540.7L1308.3 537.3L1309.7 534.3L1311.5 532.2L1313.5 531.3L1315.4 531.6L1317.0 533.0L1318.2 535.5L1318.7 538.7Z" fill="#00b8a3"/>
<path d="M1424.2 393.2L1424.4 389.8L1422.5 384.1L1418.1 377.1L1411.1 369.4L1401.6 361.6L1389.8 354.3L1376.4 348.3L1362.4 343.9L1348.9 341.4L1338.6 340.6L1328.3 341.4L1314.8 343.9L1300.8 348.3L1287.4 354.3L1275.6 361.6L1266.1 369.4L1259.1 377.1L1254.7 384.1L1252.8 389.8L1253.0 393.2L1258.9 403.3L1263.6 408.4L1268.8 411.9L1274.6 414.1L1281.1 415.4L1288.4 415.9L1296.8 415.7L1306.4 415.0L1318.1 413.9L1338.6 412.9L1359.1 413.9L1370.8 415.0L1380.4 415.7L1388.8 415.9L1396.1 415.4L1402.6 414.1L1408.4 411.9L1413.6 408.4L1418.3 403.3Z" fill="#00c285"/>
<path d="M1378.0 550.8L1379.8 556.3L1380.3 561.8L1379.3 566.4L1377.0 569.6L1373.7 571.1L1369.7 570.6L1365.7 568.3L1361.9 564.3L1359.0 559.2L1357.2 553.7L1356.7 548.2L1357.7 543.6L1360.0 540.4L1363.3 538.9L1367.3 539.4L1371.3 541.7L1375.1 545.7Z" fill="#00c285"/>
<path d="M1369.7 562.7L1370.5 568.5L1370.6 573.7L1370.1 577.6L1369.0 579.9L1367.4 580.1L1365.6 578.4L1363.8 574.9L1362.2 570.0L1360.9 564.3L1360.1 558.5L1360.0 553.3L1360.5 549.4L1361.6 547.1L1363.2 546.9L1365.0 548.6L1366.8 552.1L1368.4 557.0Z" fill="#00c285"/>
<path d="M1381.9 565.2L1382.2 568.1L1382.2 570.8L1381.6 572.8L1380.7 574.1L1379.4 574.3L1378.1 573.6L1376.7 571.9L1375.6 569.6L1374.7 566.8L1374.4 563.9L1374.4 561.2L1375.0 559.2L1375.9 557.9L1377.2 557.7L1378.5 558.4L1379.9 560.1L1381.0 562.4Z" fill="#00c285"/>
<path d="M1318.2 542.2L1317.4 545.5L1316.1 548.2L1314.4 550.1L1312.6 551.0L1310.8 550.8L1309.2 549.4L1308.2 547.1L1307.7 544.1L1307.8 540.8L1308.6 537.5L1309.9 534.8L1311.6 532.9L1313.4 532.0L1315.2 532.2L1316.8 533.6L1317.8 535.9L1318.3 538.9Z" fill="#00c285"/>
<path d="M1422.6 392.4L1422.7 389.0L1420.9 383.5L1416.6 376.7L1409.7 369.2L1400.3 361.6L1388.8 354.6L1375.7 348.7L1361.9 344.4L1348.7 342.0L1338.6 341.3L1328.5 342.0L1315.3 344.4L1301.5 348.7L1288.4 354.6L1276.9 361.6L1267.5 369.2L1260.6 376.7L1256.3 383.5L1254.5 389.0L1254.6 392.4L1260.2 402.2L1264.7 407.2L1269.8 410.5L1275.5 412.7L1282.0 414.0L1289.2 414.5L1297.5 414.4L1307.0 413.7L1318.6 412.7L1338.6 411.7L1358.6 412.7L1370.2 413.7L1379.7 414.4L1388.0 414.5L1395.2 414.0L1401.7 412.7L1407.4 410.5L1412.5 407.2L1417.0 402.2Z" fill="#05cd67"/>
<path d="M1377.5 551.0L1379.3 556.3L1379.7 561.4L1378.7 565.8L1376.6 568.9L1373.4 570.3L1369.7 569.8L1365.8 567.6L1362.3 563.9L1359.5 559.0L1357.7 553.7L1357.3 548.6L1358.3 544.2L1360.4 541.1L1363.6 539.7L1367.3 540.2L1371.2 542.4L1374.7 546.1Z" fill="#05cd67"/>
<path d="M1369.6 562.7L1370.3 568.4L1370.5 573.4L1370.0 577.3L1368.9 579.5L1367.4 579.7L1365.6 578.0L1363.8 574.6L1362.2 569.8L1361.0 564.3L1360.3 558.6L1360.1 553.6L1360.6 549.7L1361.7 547.5L1363.2 547.3L1365.0 549.0L1366.8 552.4L1368.4 557.2Z" fill="#05cd67"/>
<path d="M1381.7 565.3L1382.1 568.1L1382.0 570.6L1381.5 572.6L1380.6 573.8L1379.4 574.1L1378.1 573.3L1376.8 571.7L1375.7 569.4L1374.9 566.7L1374.5 563.9L1374.6 561.4L1375.1 559.4L1376.0 558.2L1377.2 557.9L1378.5 558.7L1379.8 560.3L1380.9 562.6Z" fill="#05cd67"/>
<path d="M1317.8 542.2L1317.1 545.2L1315.9 547.7L1314.3 549.5L1312.6 550.4L1310.9 550.1L1309.5 548.9L1308.5 546.7L1308.0 543.9L1308.2 540.8L1308.9 537.8L1310.1 535.3L1311.7 533.5L1313.4 532.6L1315.1 532.9L1316.5 534.1L1317.5 536.3L1318.0 539.1Z" fill="#05cd67"/>
<path d="M1420.2 391.3L1420.3 387.9L1418.5 382.6L1414.2 376.1L1407.5 368.9L1398.4 361.6L1387.3 354.9L1374.6 349.3L1361.3 345.3L1348.4 342.9L1338.6 342.2L1328.8 342.9L1315.9 345.3L1302.6 349.3L1289.9 354.9L1278.8 361.6L1269.7 368.9L1263.0 376.1L1258.7 382.6L1256.9 387.9L1257.0 391.3L1262.1 400.5L1266.5 405.3L1271.4 408.5L1277.0 410.7L1283.3 412.0L1290.5 412.5L1298.6 412.4L1307.9 411.8L1319.3 410.9L1338.6 410.0L1357.9 410.9L1369.3 411.8L1378.6 412.4L1386.7 412.5L1393.9 412.0L1400.2 410.7L1405.8 408.5L1410.7 405.3L1415.1 400.5Z" fill="#24d36d"/>
<path d="M1376.9 551.3L1378.4 556.2L1378.8 560.9L1378.0 565.0L1376.0 567.8L1373.0 569.1L1369.6 568.7L1366.0 566.7L1362.7 563.2L1360.1 558.7L1358.6 553.8L1358.2 549.1L1359.0 545.0L1361.0 542.2L1364.0 540.9L1367.4 541.3L1371.0 543.3L1374.3 546.8Z" fill="#24d36d"/>
<path d="M1369.5 562.8L1370.2 568.2L1370.3 573.1L1369.8 576.8L1368.8 578.9L1367.3 579.2L1365.6 577.5L1363.9 574.2L1362.3 569.6L1361.1 564.2L1360.4 558.8L1360.3 553.9L1360.8 550.2L1361.8 548.1L1363.3 547.8L1365.0 549.5L1366.7 552.8L1368.3 557.4Z" fill="#24d36d"/>
<path d="M1381.6 565.3L1381.9 568.0L1381.8 570.4L1381.3 572.3L1380.5 573.4L1379.3 573.6L1378.1 573.0L1376.8 571.4L1375.8 569.3L1375.0 566.7L1374.7 564.0L1374.8 561.6L1375.3 559.7L1376.1 558.6L1377.3 558.4L1378.5 559.0L1379.8 560.6L1380.8 562.7Z" fill="#24d36d"/>
<path d="M1317.3 542.1L1316.6 544.8L1315.6 547.0L1314.2 548.6L1312.6 549.4L1311.2 549.2L1309.9 548.0L1309.0 546.1L1308.6 543.6L1308.7 540.9L1309.4 538.2L1310.4 536.0L1311.8 534.4L1313.4 533.6L1314.8 533.8L1316.1 535.0L1317.0 536.9L1317.4 539.4Z" fill="#24d36d"/>
<path d="M1417.7 390.2L1417.9 386.9L1416.0 381.7L1411.9 375.5L1405.3 368.6L1396.5 361.7L1385.7 355.3L1373.5 350.0L1360.6 346.1L1348.2 343.9L1338.6 343.2L1329.0 343.9L1316.6 346.1L1303.7 350.0L1291.5 355.3L1280.7 361.7L1271.9 368.6L1265.3 375.5L1261.2 381.7L1259.3 386.9L1259.5 390.2L1264.1 398.9L1268.3 403.4L1273.0 406.6L1278.5 408.7L1284.7 409.9L1291.7 410.5L1299.7 410.4L1308.9 409.9L1320.0 409.1L1338.6 408.2L1357.2 409.1L1368.3 409.9L1377.5 410.4L1385.5 410.5L1392.5 409.9L1398.7 408.7L1404.2 406.6L1408.9 403.4L1413.1 398.9Z" fill="#42d973"/>
<path d="M1376.2 551.6L1377.7 556.1L1378.0 560.5L1377.2 564.2L1375.4 566.8L1372.7 568.0L1369.5 567.6L1366.2 565.7L1363.2 562.5L1360.8 558.4L1359.3 553.9L1359.0 549.5L1359.8 545.8L1361.6 543.2L1364.3 542.0L1367.5 542.4L1370.8 544.3L1373.8 547.5Z" fill="#42d973"/>
<path d="M1369.3 562.8L1370.0 568.1L1370.1 572.8L1369.6 576.4L1368.7 578.4L1367.3 578.7L1365.6 577.1L1363.9 573.9L1362.4 569.4L1361.3 564.2L1360.6 558.9L1360.5 554.2L1361.0 550.6L1361.9 548.6L1363.3 548.3L1365.0 549.9L1366.7 553.1L1368.2 557.6Z" fill="#42d973"/>
<path d="M1381.4 565.3L1381.7 567.9L1381.7 570.2L1381.2 572.0L1380.4 573.0L1379.3 573.3L1378.1 572.6L1376.9 571.2L1375.9 569.1L1375.2 566.7L1374.9 564.1L1374.9 561.8L1375.4 560.0L1376.2 559.0L1377.3 558.7L1378.5 559.4L1379.7 560.8L1380.7 562.9Z" fill="#42d973"/>
<path d="M1316.7 542.0L1316.2 544.4L1315.2 546.3L1314.0 547.7L1312.7 548.4L1311.4 548.2L1310.3 547.2L1309.5 545.5L1309.2 543.4L1309.3 541.0L1309.8 538.6L1310.8 536.7L1312.0 535.3L1313.3 534.6L1314.6 534.8L1315.7 535.8L1316.5 537.5L1316.8 539.6Z" fill="#42d973"/>
<path d="M1415.3 389.1L1415.4 385.9L1413.6 380.9L1409.5 374.9L1403.2 368.3L1394.6 361.8L1384.2 355.7L1372.4 350.6L1359.9 346.9L1347.9 344.8L1338.6 344.2L1329.3 344.8L1317.3 346.9L1304.8 350.6L1293.0 355.7L1282.6 361.8L1274.0 368.3L1267.7 374.9L1263.6 380.9L1261.8 385.9L1261.9 389.1L1266.2 397.3L1270.1 401.6L1274.7 404.7L1280.0 406.7L1286.1 407.9L1293.0 408.5L1300.8 408.5L1309.8 408.0L1320.7 407.3L1338.6 406.5L1356.5 407.3L1367.4 408.0L1376.4 408.5L1384.2 408.5L1391.1 407.9L1397.2 406.7L1402.5 404.7L1407.1 401.6L1411.0 397.3Z" fill="#61df79"/>
<path d="M1375.6 551.9L1376.9 556.0L1377.2 560.0L1376.5 563.4L1374.8 565.8L1372.3 566.9L1369.4 566.6L1366.4 564.8L1363.6 561.9L1361.4 558.1L1360.1 554.0L1359.8 550.0L1360.5 546.6L1362.2 544.2L1364.7 543.1L1367.6 543.4L1370.6 545.2L1373.4 548.1Z" fill="#61df79"/>
<path d="M1369.2 562.8L1369.9 567.9L1370.0 572.5L1369.5 576.0L1368.5 578.0L1367.2 578.2L1365.6 576.7L1364.0 573.5L1362.5 569.2L1361.4 564.2L1360.7 559.1L1360.6 554.5L1361.1 551.0L1362.1 549.0L1363.4 548.8L1365.0 550.3L1366.6 553.5L1368.1 557.8Z" fill="#61df79"/>
<path d="M1381.2 565.4L1381.6 567.8L1381.5 570.0L1381.0 571.7L1380.3 572.7L1379.2 572.9L1378.1 572.3L1377.0 570.9L1376.0 568.9L1375.4 566.6L1375.0 564.2L1375.1 562.0L1375.6 560.3L1376.3 559.3L1377.4 559.1L1378.5 559.7L1379.6 561.1L1380.6 563.1Z" fill="#61df79"/>
<path d="M1316.2 541.9L1315.7 543.9L1314.9 545.6L1313.9 546.8L1312.7 547.3L1311.6 547.2L1310.7 546.3L1310.1 544.9L1309.7 543.1L1309.8 541.1L1310.3 539.1L1311.1 537.4L1312.1 536.2L1313.3 535.7L1314.4 535.8L1315.3 536.7L1315.9 538.1L1316.3 539.9Z" fill="#61df79"/>
<path d="M1412.8 388.0L1412.9 384.9L1411.1 380.1L1407.1 374.4L1401.0 368.1L1392.7 361.9L1382.7 356.1L1371.3 351.3L1359.3 347.8L1347.7 345.7L1338.6 345.1L1329.5 345.7L1317.9 347.8L1305.9 351.3L1294.5 356.1L1284.5 361.9L1276.2 368.1L1270.1 374.4L1266.1 380.1L1264.3 384.9L1264.4 388.0L1268.3 395.7L1272.0 399.9L1276.4 402.8L1281.6 404.7L1287.5 405.9L1294.3 406.5L1302.0 406.5L1310.8 406.1L1321.5 405.4L1338.6 404.8L1355.7 405.4L1366.4 406.1L1375.2 406.5L1382.9 406.5L1389.7 405.9L1395.6 404.7L1400.8 402.8L1405.2 399.9L1408.9 395.7Z" fill="#80e680"/>
<path d="M1374.9 552.2L1376.1 555.9L1376.4 559.5L1375.7 562.6L1374.2 564.8L1372.0 565.8L1369.3 565.5L1366.6 563.9L1364.1 561.3L1362.1 557.8L1360.9 554.1L1360.6 550.5L1361.3 547.4L1362.8 545.2L1365.0 544.2L1367.7 544.5L1370.4 546.1L1372.9 548.7Z" fill="#80e680"/>
<path d="M1369.1 562.8L1369.7 567.8L1369.8 572.2L1369.4 575.6L1368.4 577.5L1367.1 577.7L1365.6 576.3L1364.0 573.2L1362.6 569.0L1361.5 564.2L1360.9 559.2L1360.8 554.8L1361.2 551.4L1362.2 549.5L1363.5 549.3L1365.0 550.7L1366.6 553.8L1368.0 558.0Z" fill="#80e680"/>
<path d="M1381.1 565.4L1381.4 567.7L1381.3 569.8L1380.9 571.4L1380.2 572.4L1379.2 572.6L1378.1 572.0L1377.1 570.7L1376.1 568.8L1375.5 566.6L1375.2 564.3L1375.3 562.2L1375.7 560.6L1376.4 559.6L1377.4 559.4L1378.5 560.0L1379.5 561.3L1380.5 563.2Z" fill="#80e680"/>
<path d="M1315.5 541.9L1315.2 543.4L1314.5 544.8L1313.7 545.7L1312.8 546.2L1311.9 546.0L1311.2 545.4L1310.6 544.2L1310.4 542.8L1310.5 541.1L1310.8 539.6L1311.5 538.2L1312.3 537.3L1313.2 536.8L1314.1 537.0L1314.8 537.6L1315.4 538.8L1315.6 540.2Z" fill="#80e680"/>
<path d="M1410.4 387.0L1410.4 384.0L1408.6 379.4L1404.8 373.9L1398.8 367.9L1390.8 362.0L1381.1 356.5L1370.2 351.9L1358.6 348.6L1347.4 346.7L1338.6 346.1L1329.8 346.7L1318.6 348.6L1307.0 351.9L1296.1 356.5L1286.4 362.0L1278.4 367.9L1272.4 373.9L1268.6 379.4L1266.8 384.0L1266.8 387.0L1270.4 394.2L1273.9 398.1L1278.2 400.9L1283.2 402.8L1289.0 404.0L1295.6 404.5L1303.1 404.6L1311.8 404.2L1322.2 403.6L1338.6 403.1L1355.0 403.6L1365.4 404.2L1374.1 404.6L1381.6 404.5L1388.2 404.0L1394.0 402.8L1399.0 400.9L1403.3 398.1L1406.8 394.2Z" fill="#9eec86"/>
<path d="M1374.2 552.4L1375.3 555.8L1375.6 559.1L1375.0 561.8L1373.6 563.8L1371.6 564.7L1369.3 564.4L1366.8 563.0L1364.5 560.6L1362.8 557.6L1361.7 554.2L1361.4 550.9L1362.0 548.2L1363.4 546.2L1365.4 545.3L1367.7 545.6L1370.2 547.0L1372.5 549.4Z" fill="#9eec86"/>
<path d="M1369.0 562.9L1369.6 567.7L1369.7 571.9L1369.3 575.2L1368.4 577.1L1367.1 577.3L1365.6 575.9L1364.1 572.9L1362.7 568.9L1361.6 564.1L1361.0 559.3L1360.9 555.1L1361.3 551.8L1362.2 549.9L1363.5 549.7L1365.0 551.1L1366.5 554.1L1367.9 558.1Z" fill="#9eec86"/>
<path d="M1381.0 565.4L1381.2 567.6L1381.2 569.6L1380.8 571.1L1380.1 572.0L1379.1 572.2L1378.1 571.7L1377.1 570.4L1376.3 568.7L1375.6 566.6L1375.4 564.4L1375.4 562.4L1375.8 560.9L1376.5 560.0L1377.5 559.8L1378.5 560.3L1379.5 561.6L1380.3 563.3Z" fill="#9eec86"/>
<path d="M1314.8 541.7L1314.5 542.8L1314.1 543.8L1313.5 544.4L1312.9 544.7L1312.2 544.6L1311.7 544.2L1311.4 543.4L1311.2 542.4L1311.2 541.3L1311.5 540.2L1311.9 539.2L1312.5 538.6L1313.1 538.3L1313.8 538.4L1314.3 538.8L1314.6 539.6L1314.8 540.6Z" fill="#9eec86"/>
<path d="M1408.6 386.3L1408.6 383.3L1406.8 378.9L1403.0 373.6L1397.2 367.9L1389.4 362.2L1380.0 357.0L1369.3 352.6L1358.1 349.4L1347.2 347.6L1338.6 347.0L1330.0 347.6L1319.1 349.4L1307.9 352.6L1297.2 357.0L1287.8 362.2L1280.0 367.9L1274.2 373.6L1270.4 378.9L1268.6 383.3L1268.6 386.3L1271.9 393.0L1275.3 396.8L1279.5 399.5L1284.4 401.3L1290.1 402.4L1296.6 403.0L1304.1 403.1L1312.6 402.8L1322.8 402.2L1338.6 401.7L1354.4 402.2L1364.6 402.8L1373.1 403.1L1380.6 403.0L1387.1 402.4L1392.8 401.3L1397.7 399.5L1401.9 396.8L1405.3 393.0Z" fill="#bdf28c"/>
<path d="M1373.5 552.8L1374.5 555.7L1374.7 558.6L1374.2 561.0L1373.0 562.7L1371.2 563.5L1369.2 563.3L1367.0 562.0L1365.0 559.9L1363.5 557.2L1362.5 554.3L1362.3 551.4L1362.8 549.0L1364.0 547.3L1365.8 546.5L1367.8 546.7L1370.0 548.0L1372.0 550.1Z" fill="#bdf28c"/>
<path d="M1368.9 562.9L1369.5 567.5L1369.6 571.7L1369.1 574.9L1368.3 576.7L1367.0 576.9L1365.6 575.5L1364.1 572.7L1362.8 568.7L1361.7 564.1L1361.1 559.5L1361.0 555.3L1361.5 552.1L1362.3 550.3L1363.6 550.1L1365.0 551.5L1366.5 554.3L1367.8 558.3Z" fill="#bdf28c"/>
<path d="M1380.8 565.5L1381.1 567.5L1381.0 569.4L1380.6 570.8L1380.0 571.7L1379.1 571.9L1378.1 571.4L1377.2 570.2L1376.4 568.5L1375.8 566.5L1375.5 564.5L1375.6 562.6L1376.0 561.2L1376.6 560.3L1377.5 560.1L1378.5 560.6L1379.4 561.8L1380.2 563.5Z" fill="#bdf28c"/>
<path d="M1407.1 385.7L1407.1 382.8L1405.3 378.5L1401.6 373.5L1395.9 368.0L1388.3 362.5L1379.1 357.5L1368.7 353.3L1357.7 350.3L1347.1 348.5L1338.6 347.9L1330.1 348.5L1319.5 350.3L1308.5 353.3L1298.1 357.5L1288.9 362.5L1281.3 368.0L1275.6 373.5L1271.9 378.5L1270.1 382.8L1270.1 385.7L1273.2 392.0L1276.5 395.7L1280.5 398.2L1285.4 400.0L1291.0 401.1L1297.5 401.6L1304.9 401.7L1313.3 401.5L1323.3 401.0L1338.6 400.5L1353.9 401.0L1363.9 401.5L1372.3 401.7L1379.7 401.6L1386.2 401.1L1391.8 400.0L1396.7 398.2L1400.7 395.7L1404.0 392.0Z" fill="#dbf892"/>
<path d="M1372.8 553.1L1373.6 555.6L1373.8 558.0L1373.4 560.1L1372.3 561.6L1370.8 562.2L1369.1 562.0L1367.2 561.0L1365.5 559.2L1364.2 556.9L1363.4 554.4L1363.2 552.0L1363.6 549.9L1364.7 548.4L1366.2 547.8L1367.9 548.0L1369.8 549.0L1371.5 550.8Z" fill="#dbf892"/>
<path d="M1368.8 562.9L1369.3 567.4L1369.4 571.5L1369.0 574.6L1368.2 576.3L1367.0 576.5L1365.6 575.2L1364.1 572.4L1362.8 568.6L1361.8 564.1L1361.3 559.6L1361.2 555.5L1361.6 552.4L1362.4 550.7L1363.6 550.5L1365.0 551.8L1366.5 554.6L1367.8 558.4Z" fill="#dbf892"/>
<path d="M1380.7 565.5L1380.9 567.4L1380.9 569.2L1380.5 570.6L1379.9 571.4L1379.1 571.6L1378.1 571.1L1377.2 570.0L1376.5 568.4L1375.9 566.5L1375.7 564.6L1375.7 562.8L1376.1 561.4L1376.7 560.6L1377.5 560.4L1378.5 560.9L1379.4 562.0L1380.1 563.6Z" fill="#dbf892"/>
<path d="M1405.6 385.1L1405.6 382.3L1403.8 378.2L1400.1 373.3L1394.5 368.1L1387.1 362.8L1378.1 358.0L1368.0 354.0L1357.3 351.1L1346.9 349.4L1338.6 348.9L1330.3 349.4L1319.9 351.1L1309.2 354.0L1299.1 358.0L1290.1 362.8L1282.7 368.1L1277.1 373.3L1273.4 378.2L1271.6 382.3L1271.6 385.1L1274.5 391.1L1277.7 394.6L1281.6 397.0L1286.4 398.7L1292.0 399.8L1298.4 400.3L1305.7 400.4L1314.0 400.2L1323.8 399.7L1338.6 399.3L1353.4 399.7L1363.2 400.2L1371.5 400.4L1378.8 400.3L1385.2 399.8L1390.8 398.7L1395.6 397.0L1399.5 394.6L1402.7 391.1Z" fill="#ffff99"/>
<path d="M1371.9 553.5L1372.6 555.5L1372.8 557.5L1372.4 559.1L1371.6 560.3L1370.4 560.8L1369.0 560.7L1367.5 559.8L1366.1 558.4L1365.1 556.5L1364.4 554.5L1364.2 552.5L1364.6 550.9L1365.4 549.7L1366.6 549.2L1368.0 549.3L1369.5 550.2L1370.9 551.6Z" fill="#ffff99"/>
<path d="M1368.7 562.9L1369.2 567.3L1369.3 571.2L1368.9 574.2L1368.1 575.9L1366.9 576.1L1365.6 574.8L1364.2 572.1L1362.9 568.4L1361.9 564.1L1361.4 559.7L1361.3 555.8L1361.7 552.8L1362.5 551.1L1363.7 550.9L1365.0 552.2L1366.4 554.9L1367.7 558.6Z" fill="#ffff99"/>
<path d="M1380.5 565.5L1380.8 567.3L1380.7 569.0L1380.4 570.3L1379.8 571.1L1379.0 571.2L1378.1 570.8L1377.3 569.7L1376.6 568.2L1376.1 566.5L1375.8 564.7L1375.9 563.0L1376.2 561.7L1376.8 560.9L1377.6 560.8L1378.5 561.2L1379.3 562.3L1380.0 563.8Z" fill="#ffff99"/>
<path d="M1403.9 384.5L1403.8 381.8L1402.1 377.8L1398.5 373.1L1393.0 368.1L1385.8 363.2L1377.1 358.6L1367.3 354.8L1356.9 352.0L1346.8 350.4L1338.6 349.9L1330.4 350.4L1320.3 352.0L1309.9 354.8L1300.1 358.6L1291.4 363.2L1284.2 368.1L1278.7 373.1L1275.1 377.8L1273.4 381.8L1273.3 384.5L1275.9 390.0L1279.0 393.3L1282.9 395.7L1287.6 397.3L1293.1 398.3L1299.5 398.9L1306.7 399.0L1314.9 398.8L1324.5 398.4L1338.6 398.0L1352.7 398.4L1362.3 398.8L1370.5 399.0L1377.7 398.9L1384.1 398.3L1389.6 397.3L1394.3 395.7L1398.2 393.3L1401.3 390.0Z" fill="#ebe58e"/>
<path d="M1370.5 554.1L1370.8 555.3L1370.9 556.4L1370.7 557.3L1370.2 558.0L1369.6 558.3L1368.8 558.2L1367.9 557.7L1367.2 556.9L1366.5 555.9L1366.2 554.7L1366.1 553.6L1366.3 552.7L1366.8 552.0L1367.4 551.7L1368.2 551.8L1369.1 552.3L1369.8 553.1Z" fill="#ebe58e"/>
<path d="M1368.5 562.9L1369.1 567.2L1369.2 570.9L1368.8 573.8L1368.0 575.5L1366.9 575.7L1365.6 574.4L1364.2 571.8L1363.0 568.2L1362.1 564.1L1361.5 559.8L1361.4 556.1L1361.8 553.2L1362.6 551.5L1363.7 551.3L1365.0 552.6L1366.4 555.2L1367.6 558.8Z" fill="#ebe58e"/>
<path d="M1380.4 565.6L1380.6 567.2L1380.5 568.8L1380.2 570.0L1379.7 570.7L1379.0 570.8L1378.2 570.4L1377.4 569.4L1376.7 568.1L1376.2 566.4L1376.0 564.8L1376.1 563.2L1376.4 562.0L1376.9 561.3L1377.6 561.2L1378.4 561.6L1379.2 562.6L1379.9 563.9Z" fill="#ebe58e"/>
<path d="M1402.5 384.0L1402.4 381.3L1400.7 377.5L1397.2 373.0L1391.8 368.2L1384.8 363.4L1376.3 359.0L1366.7 355.3L1356.6 352.6L1346.7 351.1L1338.6 350.6L1330.5 351.1L1320.6 352.6L1310.5 355.3L1300.9 359.0L1292.4 363.4L1285.4 368.2L1280.0 373.0L1276.5 377.5L1274.8 381.3L1274.7 384.0L1277.2 389.2L1280.2 392.3L1284.0 394.6L1288.7 396.2L1294.1 397.2L1300.4 397.7L1307.6 397.9L1315.7 397.7L1325.1 397.4L1338.6 397.1L1352.1 397.4L1361.5 397.7L1369.6 397.9L1376.8 397.7L1383.1 397.2L1388.5 396.2L1393.2 394.6L1397.0 392.3L1400.0 389.2Z" fill="#d6cb83"/>
<path d="M1368.4 563.0L1368.9 567.0L1369.0 570.7L1368.7 573.4L1367.9 575.0L1366.8 575.2L1365.5 574.0L1364.3 571.5L1363.1 568.0L1362.2 564.0L1361.7 560.0L1361.6 556.3L1361.9 553.6L1362.7 552.0L1363.8 551.8L1365.1 553.0L1366.3 555.5L1367.5 559.0Z" fill="#d6cb83"/>
<path d="M1380.2 565.6L1380.4 567.1L1380.3 568.5L1380.0 569.6L1379.5 570.2L1378.9 570.4L1378.2 570.0L1377.5 569.1L1376.9 567.9L1376.4 566.4L1376.2 564.9L1376.3 563.5L1376.6 562.4L1377.1 561.8L1377.7 561.6L1378.4 562.0L1379.1 562.9L1379.7 564.1Z" fill="#d6cb83"/>
<path d="M1401.1 383.5L1401.0 380.9L1399.3 377.2L1395.8 372.8L1390.6 368.2L1383.8 363.6L1375.5 359.4L1366.1 355.9L1356.3 353.3L1346.6 351.8L1338.6 351.3L1330.6 351.8L1320.9 353.3L1311.1 355.9L1301.7 359.4L1293.4 363.6L1286.6 368.2L1281.4 372.8L1277.9 377.2L1276.2 380.9L1276.1 383.5L1278.4 388.3L1281.3 391.3L1285.1 393.5L1289.7 395.1L1295.2 396.1L1301.4 396.6L1308.5 396.8L1316.5 396.6L1325.8 396.4L1338.6 396.1L1351.4 396.4L1360.7 396.6L1368.7 396.8L1375.8 396.6L1382.0 396.1L1387.5 395.1L1392.1 393.5L1395.9 391.3L1398.8 388.3Z" fill="#c2b178"/>
<path d="M1368.3 563.0L1368.8 566.9L1368.9 570.4L1368.5 573.0L1367.8 574.6L1366.7 574.8L1365.5 573.6L1364.3 571.2L1363.2 567.9L1362.3 564.0L1361.8 560.1L1361.7 556.6L1362.1 554.0L1362.8 552.4L1363.9 552.2L1365.1 553.4L1366.3 555.8L1367.4 559.1Z" fill="#c2b178"/>
<path d="M1380.0 565.6L1380.2 567.0L1380.1 568.3L1379.9 569.2L1379.4 569.8L1378.8 569.9L1378.2 569.6L1377.6 568.8L1377.0 567.7L1376.6 566.4L1376.4 565.0L1376.5 563.7L1376.7 562.8L1377.2 562.2L1377.8 562.1L1378.4 562.4L1379.0 563.2L1379.6 564.3Z" fill="#c2b178"/>
<path d="M1399.6 383.0L1399.6 380.5L1397.9 376.9L1394.5 372.7L1389.4 368.2L1382.7 363.8L1374.7 359.8L1365.6 356.4L1355.9 353.9L1346.5 352.5L1338.6 352.0L1330.7 352.5L1321.3 353.9L1311.6 356.4L1302.5 359.8L1294.5 363.8L1287.8 368.2L1282.7 372.7L1279.3 376.9L1277.6 380.5L1277.6 383.0L1279.7 387.5L1282.5 390.4L1286.2 392.5L1290.8 394.0L1296.2 395.0L1302.4 395.5L1309.4 395.7L1317.3 395.6L1326.4 395.4L1338.6 395.1L1350.8 395.4L1359.9 395.6L1367.8 395.7L1374.8 395.5L1381.0 395.0L1386.4 394.0L1391.0 392.5L1394.7 390.4L1397.5 387.5Z" fill="#ae976d"/>
<path d="M1368.2 563.0L1368.7 566.7L1368.7 570.1L1368.4 572.7L1367.7 574.1L1366.7 574.3L1365.5 573.2L1364.3 570.9L1363.3 567.7L1362.4 564.0L1361.9 560.3L1361.9 556.9L1362.2 554.3L1362.9 552.9L1363.9 552.7L1365.1 553.8L1366.3 556.1L1367.3 559.3Z" fill="#ae976d"/>
<path d="M1379.8 565.7L1379.9 566.9L1379.9 568.0L1379.7 568.8L1379.3 569.4L1378.8 569.5L1378.2 569.2L1377.6 568.5L1377.2 567.5L1376.8 566.3L1376.7 565.1L1376.7 564.0L1376.9 563.2L1377.3 562.6L1377.8 562.5L1378.4 562.8L1379.0 563.5L1379.4 564.5Z" fill="#ae976d"/>
<path d="M1398.2 382.5L1398.1 380.0L1396.5 376.6L1393.2 372.5L1388.2 368.3L1381.7 364.0L1373.8 360.2L1365.0 357.0L1355.6 354.6L1346.3 353.2L1338.6 352.7L1330.9 353.2L1321.6 354.6L1312.2 357.0L1303.4 360.2L1295.5 364.0L1289.0 368.3L1284.0 372.5L1280.7 376.6L1279.1 380.0L1279.0 382.5L1281.0 386.7L1283.7 389.4L1287.4 391.5L1291.9 392.9L1297.3 393.8L1303.4 394.4L1310.4 394.6L1318.2 394.5L1327.0 394.4L1338.6 394.2L1350.2 394.4L1359.0 394.5L1366.8 394.6L1373.8 394.4L1379.9 393.8L1385.3 392.9L1389.8 391.5L1393.5 389.4L1396.2 386.7Z" fill="#997d62"/>
<path d="M1368.1 563.0L1368.5 566.6L1368.6 569.9L1368.3 572.3L1367.6 573.7L1366.6 573.9L1365.5 572.8L1364.4 570.6L1363.3 567.5L1362.5 564.0L1362.1 560.4L1362.0 557.1L1362.3 554.7L1363.0 553.3L1364.0 553.1L1365.1 554.2L1366.2 556.4L1367.3 559.5Z" fill="#997d62"/>
<path d="M1379.6 565.7L1379.7 566.8L1379.7 567.7L1379.5 568.4L1379.1 568.9L1378.7 569.0L1378.2 568.7L1377.7 568.1L1377.3 567.3L1377.0 566.3L1376.9 565.2L1376.9 564.3L1377.1 563.6L1377.5 563.1L1377.9 563.0L1378.4 563.3L1378.9 563.9L1379.3 564.7Z" fill="#997d62"/>
<path d="M1396.8 382.1L1396.7 379.6L1395.1 376.3L1391.8 372.4L1387.0 368.3L1380.6 364.3L1373.0 360.6L1364.4 357.5L1355.3 355.2L1346.2 353.9L1338.6 353.5L1331.0 353.9L1321.9 355.2L1312.8 357.5L1304.2 360.6L1296.6 364.3L1290.2 368.3L1285.4 372.4L1282.1 376.3L1280.5 379.6L1280.4 382.1L1282.3 385.9L1284.9 388.5L1288.5 390.4L1293.0 391.8L1298.3 392.8L1304.4 393.3L1311.3 393.5L1319.0 393.5L1327.6 393.4L1338.6 393.2L1349.6 393.4L1358.2 393.5L1365.9 393.5L1372.8 393.3L1378.9 392.8L1384.2 391.8L1388.7 390.4L1392.3 388.5L1394.9 385.9Z" fill="#856357"/>
<path d="M1368.0 563.0L1368.4 566.5L1368.5 569.6L1368.2 572.0L1367.5 573.3L1366.6 573.5L1365.5 572.4L1364.4 570.3L1363.4 567.4L1362.6 564.0L1362.2 560.5L1362.1 557.4L1362.4 555.0L1363.1 553.7L1364.0 553.5L1365.1 554.6L1366.2 556.7L1367.2 559.6Z" fill="#856357"/>
<path d="M1379.3 565.8L1379.4 566.6L1379.4 567.4L1379.2 568.0L1379.0 568.3L1378.6 568.4L1378.2 568.2L1377.8 567.7L1377.5 567.0L1377.3 566.2L1377.2 565.4L1377.2 564.6L1377.4 564.0L1377.6 563.7L1378.0 563.6L1378.4 563.8L1378.8 564.3L1379.1 565.0Z" fill="#856357"/>
<path d="M1395.2 381.6L1395.1 379.2L1393.5 376.0L1390.4 372.3L1385.6 368.4L1379.5 364.5L1372.1 361.0L1363.7 358.0L1354.9 355.9L1346.1 354.6L1338.6 354.2L1331.1 354.6L1322.3 355.9L1313.5 358.0L1305.1 361.0L1297.7 364.5L1291.6 368.4L1286.8 372.3L1283.7 376.0L1282.1 379.2L1282.0 381.6L1283.7 385.1L1286.3 387.6L1289.8 389.4L1294.3 390.8L1299.5 391.7L1305.5 392.2L1312.3 392.5L1319.8 392.5L1328.2 392.4L1338.6 392.3L1349.0 392.4L1357.4 392.5L1364.9 392.5L1371.7 392.2L1377.7 391.7L1382.9 390.8L1387.4 389.4L1390.9 387.6L1393.5 385.1Z" fill="#8f7069"/>
<path d="M1367.8 563.1L1368.3 566.4L1368.3 569.3L1368.0 571.6L1367.4 572.9L1366.5 573.1L1365.5 572.1L1364.4 570.0L1363.5 567.2L1362.8 563.9L1362.3 560.6L1362.3 557.7L1362.6 555.4L1363.2 554.1L1364.1 553.9L1365.1 554.9L1366.2 557.0L1367.1 559.8Z" fill="#8f7069"/>
<path d="M1379.0 565.8L1379.1 566.4L1379.1 567.0L1379.0 567.4L1378.8 567.6L1378.5 567.7L1378.3 567.5L1378.0 567.2L1377.8 566.7L1377.6 566.2L1377.5 565.6L1377.5 565.0L1377.6 564.6L1377.8 564.4L1378.1 564.3L1378.3 564.5L1378.6 564.8L1378.8 565.3Z" fill="#8f7069"/>
<path d="M1393.3 381.0L1393.2 378.7L1391.6 375.6L1388.6 372.1L1384.0 368.3L1378.1 364.7L1371.0 361.4L1362.9 358.6L1354.4 356.5L1345.9 355.3L1338.6 354.9L1331.3 355.3L1322.8 356.5L1314.3 358.6L1306.2 361.4L1299.1 364.7L1293.2 368.3L1288.6 372.1L1285.6 375.6L1284.0 378.7L1283.9 381.0L1285.5 384.3L1288.0 386.6L1291.4 388.4L1295.8 389.7L1301.0 390.7L1306.9 391.2L1313.5 391.5L1320.8 391.6L1328.9 391.6L1338.6 391.5L1348.3 391.6L1356.4 391.6L1363.7 391.5L1370.3 391.2L1376.2 390.7L1381.4 389.7L1385.8 388.4L1389.2 386.6L1391.7 384.3Z" fill="#a48a84"/>
<path d="M1367.7 563.1L1368.1 566.2L1368.2 569.1L1367.9 571.3L1367.3 572.5L1366.5 572.6L1365.5 571.7L1364.5 569.7L1363.6 567.1L1362.9 563.9L1362.5 560.8L1362.4 557.9L1362.7 555.7L1363.3 554.5L1364.1 554.4L1365.1 555.3L1366.1 557.3L1367.0 559.9Z" fill="#a48a84"/>
<path d="M1391.4 380.4L1391.3 378.2L1389.7 375.2L1386.8 371.9L1382.4 368.3L1376.7 364.9L1369.8 361.7L1362.1 359.1L1353.9 357.1L1345.7 356.0L1338.6 355.6L1331.5 356.0L1323.3 357.1L1315.1 359.1L1307.4 361.7L1300.5 364.9L1294.8 368.3L1290.4 371.9L1287.5 375.2L1285.9 378.2L1285.8 380.4L1287.3 383.5L1289.7 385.7L1293.1 387.4L1297.3 388.7L1302.4 389.6L1308.2 390.2L1314.7 390.6L1321.8 390.7L1329.6 390.7L1338.6 390.7L1347.6 390.7L1355.4 390.7L1362.5 390.6L1369.0 390.2L1374.8 389.6L1379.9 388.7L1384.1 387.4L1387.5 385.7L1389.9 383.5Z" fill="#b8a49f"/>
<path d="M1367.6 563.1L1368.0 566.1L1368.1 568.8L1367.8 570.9L1367.2 572.1L1366.4 572.2L1365.5 571.3L1364.5 569.5L1363.6 566.9L1363.0 563.9L1362.6 560.9L1362.5 558.2L1362.8 556.1L1363.4 554.9L1364.2 554.8L1365.1 555.7L1366.1 557.5L1367.0 560.1Z" fill="#b8a49f"/>
<path d="M1389.5 379.9L1389.3 377.7L1387.9 374.9L1385.0 371.7L1380.8 368.4L1375.3 365.1L1368.7 362.1L1361.3 359.6L1353.4 357.8L1345.5 356.7L1338.6 356.3L1331.7 356.7L1323.8 357.8L1315.9 359.6L1308.5 362.1L1301.9 365.1L1296.4 368.4L1292.2 371.7L1289.3 374.9L1287.9 377.7L1287.7 379.9L1289.1 382.7L1291.4 384.8L1294.7 386.5L1298.9 387.7L1303.9 388.7L1309.6 389.3L1315.9 389.7L1322.8 389.9L1330.2 389.9L1338.6 389.9L1347.0 389.9L1354.4 389.9L1361.3 389.7L1367.6 389.3L1373.3 388.7L1378.3 387.7L1382.5 386.5L1385.8 384.8L1388.1 382.7Z" fill="#ccbebb"/>
<path d="M1367.5 563.1L1367.9 566.0L1367.9 568.6L1367.7 570.6L1367.1 571.7L1366.4 571.8L1365.5 571.0L1364.6 569.2L1363.7 566.7L1363.1 563.9L1362.7 561.0L1362.7 558.4L1362.9 556.4L1363.5 555.3L1364.2 555.2L1365.1 556.0L1366.0 557.8L1366.9 560.3Z" fill="#ccbebb"/>
<path d="M1387.5 379.4L1387.4 377.3L1386.0 374.6L1383.2 371.5L1379.1 368.4L1373.8 365.3L1367.5 362.5L1360.4 360.2L1352.9 358.4L1345.3 357.4L1338.6 357.1L1331.9 357.4L1324.3 358.4L1316.8 360.2L1309.7 362.5L1303.4 365.3L1298.1 368.4L1294.0 371.5L1291.2 374.6L1289.8 377.3L1289.7 379.4L1290.9 381.9L1293.2 383.9L1296.4 385.5L1300.5 386.8L1305.3 387.7L1310.9 388.3L1317.1 388.7L1323.7 389.0L1330.8 389.1L1338.6 389.1L1346.4 389.1L1353.5 389.0L1360.1 388.7L1366.3 388.3L1371.9 387.7L1376.7 386.8L1380.8 385.5L1384.0 383.9L1386.3 381.9Z" fill="#e1d8d6"/>
<path d="M1367.4 563.1L1367.8 565.9L1367.8 568.3L1367.6 570.2L1367.1 571.3L1366.3 571.4L1365.5 570.6L1364.6 568.9L1363.8 566.6L1363.2 563.9L1362.8 561.1L1362.8 558.7L1363.0 556.8L1363.5 555.7L1364.3 555.6L1365.1 556.4L1366.0 558.1L1366.8 560.4Z" fill="#e1d8d6"/>
<path d="M1385.5 378.9L1385.3 376.8L1384.0 374.3L1381.3 371.4L1377.4 368.5L1372.4 365.6L1366.3 363.0L1359.5 360.8L1352.3 359.2L1345.0 358.2L1338.6 357.9L1332.2 358.2L1324.9 359.2L1317.7 360.8L1310.9 363.0L1304.8 365.6L1299.8 368.5L1295.9 371.4L1293.2 374.3L1291.9 376.8L1291.7 378.9L1292.8 381.1L1295.0 383.0L1298.1 384.5L1302.1 385.7L1306.9 386.6L1312.3 387.2L1318.2 387.7L1324.7 387.9L1331.4 388.1L1338.6 388.1L1345.8 388.1L1352.5 387.9L1359.0 387.7L1364.9 387.2L1370.3 386.6L1375.1 385.7L1379.1 384.5L1382.2 383.0L1384.4 381.1Z" fill="#f4f0f0"/>
<path d="M1367.3 563.1L1367.6 565.8L1367.7 568.1L1367.5 569.9L1367.0 570.9L1366.3 571.0L1365.5 570.2L1364.6 568.6L1363.9 566.4L1363.3 563.9L1363.0 561.2L1362.9 558.9L1363.1 557.1L1363.6 556.1L1364.3 556.0L1365.1 556.8L1366.0 558.4L1366.7 560.6Z" fill="#f4f0f0"/>
<path d="M1383.5 378.3L1383.3 376.5L1381.9 374.0L1379.4 371.4L1375.6 368.6L1370.8 366.0L1365.1 363.6L1358.6 361.6L1351.7 360.0L1344.8 359.1L1338.6 358.9L1332.4 359.1L1325.5 360.0L1318.6 361.6L1312.1 363.6L1306.4 366.0L1301.6 368.6L1297.8 371.4L1295.3 374.0L1293.9 376.5L1293.7 378.3L1294.8 380.3L1296.8 382.0L1299.8 383.3L1303.7 384.4L1308.3 385.2L1313.6 385.8L1319.3 386.3L1325.5 386.5L1332.0 386.7L1338.6 386.7L1345.2 386.7L1351.7 386.5L1357.9 386.3L1363.6 385.8L1368.9 385.2L1373.5 384.4L1377.4 383.3L1380.4 382.0L1382.4 380.3Z" fill="#ffffff"/>
<path d="M1367.2 563.2L1367.5 565.6L1367.6 567.9L1367.3 569.6L1366.9 570.5L1366.2 570.6L1365.4 569.9L1364.7 568.4L1363.9 566.3L1363.4 563.8L1363.1 561.4L1363.0 559.1L1363.3 557.4L1363.7 556.5L1364.4 556.4L1365.2 557.1L1365.9 558.6L1366.7 560.7Z" fill="#ffffff"/>
<circle cx="1336.5" cy="565" r="24.5" fill="#333399"/>
<path d="M1332.4 545.3L1332.4 532.6L1332.7 526.6L1333.5 521.6L1334.6 518.2L1336.0 517.0L1337.4 518.2L1338.5 521.6L1339.3 526.6L1339.6 532.6L1339.6 545.3Z" fill="#2e3da3"/>
<path d="M1332.4 545.3L1332.4 532.7L1332.7 526.7L1333.5 521.7L1334.6 518.4L1336.0 517.2L1337.4 518.4L1338.5 521.7L1339.3 526.7L1339.6 532.7L1339.6 545.3Z" fill="#2a44aa"/>
<path d="M1332.5 545.3L1332.5 532.8L1332.7 526.9L1333.5 521.9L1334.6 518.6L1336.0 517.4L1337.4 518.6L1338.5 521.9L1339.3 526.9L1339.5 532.8L1339.5 545.3Z" fill="#274bb1"/>
<path d="M1332.5 545.3L1332.5 532.8L1332.8 527.0L1333.5 522.1L1334.7 518.8L1336.0 517.6L1337.3 518.8L1338.5 522.1L1339.2 527.0L1339.5 532.8L1339.5 545.3Z" fill="#2452b8"/>
<path d="M1332.5 545.3L1332.5 532.9L1332.8 527.2L1333.5 522.3L1334.7 519.0L1336.0 517.8L1337.3 519.0L1338.5 522.3L1339.2 527.2L1339.5 532.9L1339.5 545.3Z" fill="#2058be"/>
<path d="M1332.6 545.3L1332.6 533.0L1332.8 527.3L1333.6 522.4L1334.7 519.2L1336.0 518.1L1337.3 519.2L1338.4 522.4L1339.2 527.3L1339.4 533.0L1339.4 545.3Z" fill="#1d5fc5"/>
<path d="M1332.6 545.3L1332.6 533.1L1332.8 527.4L1333.6 522.6L1334.7 519.4L1336.0 518.3L1337.3 519.4L1338.4 522.6L1339.2 527.4L1339.4 533.1L1339.4 545.3Z" fill="#1966cc"/>
<path d="M1332.6 545.3L1332.6 533.2L1332.9 527.6L1333.6 522.8L1334.7 519.6L1336.0 518.5L1337.3 519.6L1338.4 522.8L1339.1 527.6L1339.4 533.2L1339.4 545.3Z" fill="#166dd3"/>
<path d="M1332.7 545.3L1332.7 533.3L1332.9 527.7L1333.6 523.0L1334.7 519.8L1336.0 518.7L1337.3 519.8L1338.4 523.0L1339.1 527.7L1339.3 533.3L1339.3 545.3Z" fill="#1374da"/>
<path d="M1332.7 545.3L1332.7 533.4L1332.9 527.9L1333.7 523.1L1334.7 520.0L1336.0 518.9L1337.3 520.0L1338.3 523.1L1339.1 527.9L1339.3 533.4L1339.3 545.3Z" fill="#0f7ae0"/>
<path d="M1332.7 545.3L1332.7 533.5L1333.0 528.0L1333.7 523.3L1334.7 520.2L1336.0 519.1L1337.3 520.2L1338.3 523.3L1339.0 528.0L1339.3 533.5L1339.3 545.3Z" fill="#0c81e7"/>
<path d="M1332.7 545.3L1332.7 533.6L1333.0 528.1L1333.7 523.5L1334.8 520.4L1336.0 519.3L1337.2 520.4L1338.3 523.5L1339.0 528.1L1339.3 533.6L1339.3 545.3Z" fill="#0888ee"/>
<path d="M1332.8 545.3L1332.8 533.7L1333.0 528.3L1333.7 523.7L1334.8 520.6L1336.0 519.5L1337.2 520.6L1338.3 523.7L1339.0 528.3L1339.2 533.7L1339.2 545.3Z" fill="#058ff5"/>
<path d="M1332.8 545.3L1332.8 533.8L1333.1 528.4L1333.7 523.9L1334.8 520.8L1336.0 519.7L1337.2 520.8L1338.3 523.9L1338.9 528.4L1339.2 533.8L1339.2 545.3Z" fill="#0099ff"/>
<path d="M1332.9 545.3L1332.9 534.0L1333.1 528.7L1333.8 524.2L1334.8 521.2L1336.0 520.2L1337.2 521.2L1338.2 524.2L1338.9 528.7L1339.1 534.0L1339.1 545.3Z" fill="#00a3e0"/>
<path d="M1332.9 545.3L1332.9 534.2L1333.2 529.0L1333.8 524.6L1334.8 521.6L1336.0 520.6L1337.2 521.6L1338.2 524.6L1338.8 529.0L1339.1 534.2L1339.1 545.3Z" fill="#00adc2"/>
<path d="M1333.0 545.3L1333.0 534.4L1333.2 529.3L1333.9 524.9L1334.9 522.0L1336.0 521.0L1337.1 522.0L1338.1 524.9L1338.8 529.3L1339.0 534.4L1339.0 545.3Z" fill="#00b8a3"/>
<path d="M1333.0 545.3L1333.0 534.5L1333.3 529.4L1333.9 525.2L1334.9 522.3L1336.0 521.3L1337.1 522.3L1338.1 525.2L1338.7 529.4L1339.0 534.5L1339.0 545.3Z" fill="#00c285"/>
<path d="M1333.1 545.3L1333.1 534.6L1333.3 529.6L1333.9 525.4L1334.9 522.6L1336.0 521.6L1337.1 522.6L1338.1 525.4L1338.7 529.6L1338.9 534.6L1338.9 545.3Z" fill="#05cd67"/>
<path d="M1333.2 545.3L1333.2 534.8L1333.4 529.9L1334.0 525.8L1334.9 523.0L1336.0 522.0L1337.1 523.0L1338.0 525.8L1338.6 529.9L1338.8 534.8L1338.8 545.3Z" fill="#24d36d"/>
<path d="M1333.2 545.3L1333.2 535.0L1333.5 530.2L1334.1 526.2L1334.9 523.5L1336.0 522.5L1337.1 523.5L1337.9 526.2L1338.5 530.2L1338.8 535.0L1338.8 545.3Z" fill="#42d973"/>
<path d="M1333.3 545.3L1333.3 535.2L1333.5 530.5L1334.1 526.6L1335.0 523.9L1336.0 523.0L1337.0 523.9L1337.9 526.6L1338.5 530.5L1338.7 535.2L1338.7 545.3Z" fill="#61df79"/>
<path d="M1333.4 545.3L1333.4 535.4L1333.6 530.8L1334.2 526.9L1335.0 524.3L1336.0 523.4L1337.0 524.3L1337.8 526.9L1338.4 530.8L1338.6 535.4L1338.6 545.3Z" fill="#80e680"/>
<path d="M1333.5 545.3L1333.5 535.6L1333.7 531.1L1334.2 527.3L1335.0 524.7L1336.0 523.9L1337.0 524.7L1337.8 527.3L1338.3 531.1L1338.5 535.6L1338.5 545.3Z" fill="#9eec86"/>
<path d="M1333.6 545.3L1333.6 535.9L1333.7 531.5L1334.3 527.8L1335.1 525.3L1336.0 524.4L1336.9 525.3L1337.7 527.8L1338.3 531.5L1338.4 535.9L1338.4 545.3Z" fill="#bdf28c"/>
<path d="M1333.7 545.3L1333.7 536.2L1333.8 531.9L1334.3 528.3L1335.1 525.8L1336.0 525.0L1336.9 525.8L1337.7 528.3L1338.2 531.9L1338.3 536.2L1338.3 545.3Z" fill="#dbf892"/>
<path d="M1333.7 545.3L1333.7 536.4L1333.9 532.3L1334.4 528.8L1335.1 526.4L1336.0 525.6L1336.9 526.4L1337.6 528.8L1338.1 532.3L1338.3 536.4L1338.3 545.3Z" fill="#ffff99"/>
<path d="M1333.8 545.3L1333.8 536.7L1334.0 532.7L1334.5 529.2L1335.2 527.0L1336.0 526.2L1336.8 527.0L1337.5 529.2L1338.0 532.7L1338.2 536.7L1338.2 545.3Z" fill="#ebe58e"/>
<path d="M1333.9 545.3L1333.9 536.8L1334.1 532.9L1334.5 529.5L1335.2 527.3L1336.0 526.5L1336.8 527.3L1337.5 529.5L1337.9 532.9L1338.1 536.8L1338.1 545.3Z" fill="#d6cb83"/>
<path d="M1334.0 545.3L1334.0 537.0L1334.1 533.1L1334.6 529.8L1335.2 527.6L1336.0 526.8L1336.8 527.6L1337.4 529.8L1337.9 533.1L1338.0 537.0L1338.0 545.3Z" fill="#c2b178"/>
<path d="M1334.0 545.3L1334.0 537.1L1334.2 533.3L1334.6 530.0L1335.2 527.9L1336.0 527.1L1336.8 527.9L1337.4 530.0L1337.8 533.3L1338.0 537.1L1338.0 545.3Z" fill="#ae976d"/>
<path d="M1334.1 545.3L1334.1 537.3L1334.2 533.5L1334.6 530.3L1335.3 528.2L1336.0 527.4L1336.7 528.2L1337.4 530.3L1337.8 533.5L1337.9 537.3L1337.9 545.3Z" fill="#997d62"/>
<path d="M1334.2 545.3L1334.2 537.4L1334.3 533.7L1334.7 530.6L1335.3 528.5L1336.0 527.8L1336.7 528.5L1337.3 530.6L1337.7 533.7L1337.8 537.4L1337.8 545.3Z" fill="#856357"/>
<path d="M1334.2 545.3L1334.2 537.6L1334.4 533.9L1334.7 530.9L1335.3 528.8L1336.0 528.1L1336.7 528.8L1337.3 530.9L1337.6 533.9L1337.8 537.6L1337.8 545.3Z" fill="#8f7069"/>
<path d="M1334.3 545.3L1334.3 537.7L1334.4 534.2L1334.8 531.2L1335.4 529.2L1336.0 528.5L1336.6 529.2L1337.2 531.2L1337.6 534.2L1337.7 537.7L1337.7 545.3Z" fill="#a48a84"/>
<path d="M1334.4 545.3L1334.4 537.9L1334.5 534.5L1334.9 531.5L1335.4 529.6L1336.0 528.9L1336.6 529.6L1337.1 531.5L1337.5 534.5L1337.6 537.9L1337.6 545.3Z" fill="#b8a49f"/>
<path d="M1334.5 545.3L1334.5 538.1L1334.6 534.7L1334.9 531.9L1335.4 530.0L1336.0 529.3L1336.6 530.0L1337.1 531.9L1337.4 534.7L1337.5 538.1L1337.5 545.3Z" fill="#ccbebb"/>
<path d="M1334.6 545.3L1334.6 538.3L1334.7 535.0L1335.0 532.2L1335.5 530.4L1336.0 529.7L1336.5 530.4L1337.0 532.2L1337.3 535.0L1337.4 538.3L1337.4 545.3Z" fill="#e1d8d6"/>
<path d="M1334.7 545.3L1334.7 538.5L1334.8 535.3L1335.1 532.5L1335.5 530.7L1336.0 530.1L1336.5 530.7L1336.9 532.5L1337.2 535.3L1337.3 538.5L1337.3 545.3Z" fill="#f4f0f0"/>
<path d="M1334.8 545.3L1334.8 538.6L1334.9 535.5L1335.1 532.8L1335.5 531.1L1336.0 530.5L1336.5 531.1L1336.9 532.8L1337.1 535.5L1337.2 538.6L1337.2 545.3Z" fill="#ffffff"/>
</g>
<rect x="1315.50" y="327.60" width="272.00" height="237.30" fill="none" stroke="#d8d8e4" stroke-width="1" opacity="0.85"/>
</g>
<rect x="1313.50" y="325.60" width="276.00" height="241.30" fill="none" stroke="#000" stroke-width="3"/>
<line x1="1337.90" y1="567.90" x2="1337.90" y2="577.60" stroke="#000" stroke-width="3.4" />
<text x="1327.11" y="595.80" font-size="18.40" font-weight="bold" text-anchor="start" fill="#000" >0.0</text>
<line x1="1394.40" y1="567.90" x2="1394.40" y2="577.60" stroke="#000" stroke-width="3.4" />
<text x="1383.50" y="595.80" font-size="18.40" font-weight="bold" text-anchor="start" fill="#000" >0.5</text>
<line x1="1451.00" y1="567.90" x2="1451.00" y2="577.60" stroke="#000" stroke-width="3.4" />
<text x="1440.21" y="595.80" font-size="18.40" font-weight="bold" text-anchor="start" fill="#000" >1.0</text>
<line x1="1507.50" y1="567.90" x2="1507.50" y2="577.60" stroke="#000" stroke-width="3.4" />
<text x="1496.60" y="595.80" font-size="18.40" font-weight="bold" text-anchor="start" fill="#000" >1.5</text>
<line x1="1564.00" y1="567.90" x2="1564.00" y2="577.60" stroke="#000" stroke-width="3.4" />
<text x="1553.26" y="595.80" font-size="18.40" font-weight="bold" text-anchor="start" fill="#000" >2.0</text>
<line x1="1312.50" y1="338.80" x2="1302.30" y2="338.80" stroke="#000" stroke-width="3.4" />
<text x="1272.61" y="346.10" font-size="18.40" font-weight="bold" text-anchor="start" fill="#000" >2.0</text>
<line x1="1312.50" y1="395.10" x2="1302.30" y2="395.10" stroke="#000" stroke-width="3.4" />
<text x="1272.38" y="402.40" font-size="18.40" font-weight="bold" text-anchor="start" fill="#000" >1.5</text>
<line x1="1312.50" y1="451.40" x2="1302.30" y2="451.40" stroke="#000" stroke-width="3.4" />
<text x="1272.61" y="458.70" font-size="18.40" font-weight="bold" text-anchor="start" fill="#000" >1.0</text>
<line x1="1312.50" y1="507.70" x2="1302.30" y2="507.70" stroke="#000" stroke-width="3.4" />
<text x="1272.38" y="515.00" font-size="18.40" font-weight="bold" text-anchor="start" fill="#000" >0.5</text>
<line x1="1312.50" y1="564.00" x2="1302.30" y2="564.00" stroke="#000" stroke-width="3.4" />
<text x="1272.61" y="571.30" font-size="18.40" font-weight="bold" text-anchor="start" fill="#000" >0.0</text>
<text x="1404.51" y="619.00" font-size="21.50" font-weight="bold" font-style="italic">q</text>
<text x="1418.14" y="624.50" font-size="21.00" font-weight="bold" font-style="italic">xy</text>
<text x="1448.68" y="619.60" font-size="21.50" font-weight="bold">(</text>
<text x="1455.49" y="619.30" font-size="20.50" font-weight="bold">Å</text>
<text x="1471.03" y="612.50" font-size="20.50" font-weight="bold">-</text>
<text x="1478.62" y="612.50" font-size="20.50" font-weight="bold">1</text>
<text x="1490.60" y="619.60" font-size="21.50" font-weight="bold">)</text>
<text x="1260.80" y="477.82" font-size="22.50" font-weight="bold" font-style="italic" transform="rotate(-90 1260.80 477.82)">q</text>
<text x="1266.40" y="464.43" font-size="14.50" font-weight="bold" font-style="italic" transform="rotate(-90 1266.40 464.43)">z</text>
<text x="1261.10" y="452.72" font-size="21.50" font-weight="bold" transform="rotate(-90 1261.10 452.72)">(</text>
<text x="1260.80" y="444.81" font-size="20.50" font-weight="bold" transform="rotate(-90 1260.80 444.81)">Å</text>
<text x="1254.40" y="430.02" font-size="13.80" font-weight="bold" transform="rotate(-90 1254.40 430.02)">-</text>
<text x="1254.40" y="425.06" font-size="13.80" font-weight="bold" transform="rotate(-90 1254.40 425.06)">1</text>
<text x="1261.10" y="416.80" font-size="21.50" font-weight="bold" transform="rotate(-90 1261.10 416.80)">)</text>
<text x="1217.30" y="339.00" font-size="40.3" font-weight="bold" text-anchor="start" fill="#000" >f</text>
<clipPath id="cliph3"><rect x="1317.60" y="640.00" width="268.90" height="234.80"/></clipPath>
<g clip-path="url(#cliph3)">
<rect x="1316.60" y="639.00" width="270.90" height="236.80" fill="#333399"/>
<g filter="url(#hblur)">
<path d="M1444.2 718.9L1446.5 712.7L1446.5 704.0L1443.4 693.6L1436.9 682.2L1426.8 670.4L1413.3 659.3L1396.7 649.7L1378.0 642.4L1358.4 638.1L1340.6 636.7L1322.8 638.1L1303.2 642.4L1284.5 649.7L1267.9 659.3L1254.4 670.4L1244.3 682.2L1237.8 693.6L1234.7 704.0L1234.7 712.7L1237.0 718.9L1247.2 732.5L1255.1 740.0L1263.1 745.3L1271.4 749.1L1280.0 751.5L1289.1 752.9L1298.7 753.4L1309.3 753.1L1321.5 752.3L1340.6 751.4L1359.7 752.3L1371.9 753.1L1382.5 753.4L1392.1 752.9L1401.2 751.5L1409.8 749.1L1418.1 745.3L1426.1 740.0L1434.0 732.5Z" fill="#2e3da3"/>
<path d="M1456.9 752.6L1460.6 747.3L1462.7 740.6L1462.9 732.7L1460.9 723.8L1456.5 714.3L1449.8 704.6L1440.7 695.2L1429.6 686.6L1416.6 679.4L1402.5 673.9L1387.7 670.5L1372.9 669.1L1358.9 669.9L1346.1 672.5L1335.0 676.8L1326.1 682.2L1319.4 688.3L1315.1 694.9L1313.1 701.6L1313.1 708.2L1315.0 713.8L1318.5 719.0L1323.5 723.8L1329.6 728.3L1336.6 732.4L1344.3 736.2L1352.6 739.7L1361.3 743.0L1370.2 746.1L1379.2 749.1L1388.3 751.8L1397.5 754.2L1406.5 756.4L1415.3 758.1L1423.8 759.3L1431.9 759.9L1439.5 759.7L1446.3 758.5L1452.1 756.2Z" fill="#2e3da3"/>
<path d="M1398.1 849.9L1401.7 864.0L1402.2 877.2L1399.5 888.2L1394.0 895.5L1386.3 898.3L1377.4 896.3L1368.3 889.6L1360.1 879.1L1353.9 866.1L1350.3 852.0L1349.8 838.8L1352.5 827.8L1358.0 820.5L1365.7 817.7L1374.6 819.7L1383.7 826.4L1391.9 836.9Z" fill="#2e3da3"/>
<path d="M1394.5 860.1L1396.5 869.2L1395.9 878.0L1392.9 885.4L1387.8 890.7L1381.3 893.1L1374.0 892.3L1366.9 888.5L1360.8 882.1L1356.5 873.9L1354.5 864.8L1355.1 856.0L1358.1 848.6L1363.2 843.3L1369.7 840.9L1377.0 841.7L1384.1 845.5L1390.2 851.9Z" fill="#2e3da3"/>
<path d="M1374.1 870.5L1374.2 876.3L1373.7 881.4L1372.6 885.3L1371.0 887.5L1369.1 887.6L1367.1 885.8L1365.4 882.2L1364.0 877.2L1363.1 871.5L1363.0 865.7L1363.5 860.6L1364.6 856.7L1366.2 854.5L1368.1 854.4L1370.1 856.2L1371.8 859.8L1373.2 864.8Z" fill="#2e3da3"/>
<path d="M1390.7 875.0L1390.3 879.0L1388.9 882.5L1386.9 885.0L1384.3 886.4L1381.7 886.4L1379.1 885.0L1377.1 882.5L1375.7 879.0L1375.3 875.0L1375.7 871.0L1377.1 867.5L1379.1 865.0L1381.7 863.6L1384.3 863.6L1386.9 865.0L1388.9 867.5L1390.3 871.0Z" fill="#2e3da3"/>
<path d="M1329.3 854.1L1326.6 866.8L1322.3 877.7L1317.1 885.4L1311.5 889.2L1306.2 888.4L1301.8 883.3L1298.9 874.4L1297.8 862.8L1298.7 849.9L1301.4 837.2L1305.7 826.3L1310.9 818.6L1316.5 814.8L1321.8 815.6L1326.2 820.7L1329.1 829.6L1330.2 841.2Z" fill="#2e3da3"/>
<path d="M1442.3 717.7L1444.5 711.6L1444.4 703.1L1441.3 693.0L1434.9 681.9L1424.9 670.5L1411.6 659.8L1395.4 650.5L1377.1 643.5L1358.0 639.2L1340.6 637.9L1323.2 639.2L1304.1 643.5L1285.8 650.5L1269.6 659.8L1256.3 670.5L1246.3 681.9L1239.9 693.0L1236.8 703.1L1236.7 711.6L1238.9 717.7L1248.5 730.9L1256.1 738.2L1263.9 743.4L1272.0 747.0L1280.5 749.4L1289.4 750.8L1299.0 751.3L1309.4 751.0L1321.6 750.2L1340.6 749.3L1359.6 750.2L1371.8 751.0L1382.2 751.3L1391.8 750.8L1400.7 749.4L1409.2 747.0L1417.3 743.4L1425.1 738.2L1432.7 730.9Z" fill="#2a44aa"/>
<path d="M1453.9 749.9L1457.3 744.8L1459.1 738.5L1459.1 731.1L1457.0 722.8L1452.7 714.0L1446.3 704.9L1437.7 696.2L1427.1 688.3L1415.0 681.6L1401.7 676.5L1387.8 673.2L1374.0 671.9L1360.8 672.5L1348.8 674.8L1338.4 678.6L1329.9 683.5L1323.5 689.1L1319.3 695.2L1317.2 701.4L1317.1 707.6L1318.7 712.8L1321.9 717.7L1326.5 722.3L1332.3 726.5L1339.0 730.4L1346.3 734.1L1354.3 737.5L1362.6 740.7L1371.2 743.7L1380.0 746.5L1388.8 749.1L1397.6 751.5L1406.3 753.6L1414.8 755.2L1423.0 756.4L1430.7 756.9L1437.8 756.7L1444.2 755.5L1449.6 753.3Z" fill="#2a44aa"/>
<path d="M1395.2 851.0L1398.4 863.2L1398.8 874.7L1396.5 884.3L1391.7 890.6L1385.0 893.1L1377.2 891.3L1369.3 885.5L1362.2 876.3L1356.8 865.0L1353.6 852.8L1353.2 841.3L1355.5 831.7L1360.3 825.4L1367.0 822.9L1374.8 824.7L1382.7 830.5L1389.8 839.7Z" fill="#2a44aa"/>
<path d="M1392.6 860.8L1394.4 868.9L1393.9 876.9L1391.2 883.6L1386.6 888.3L1380.7 890.5L1374.1 889.8L1367.7 886.4L1362.3 880.6L1358.4 873.2L1356.6 865.1L1357.1 857.1L1359.8 850.4L1364.4 845.7L1370.3 843.5L1376.9 844.2L1383.3 847.6L1388.7 853.4Z" fill="#2a44aa"/>
<path d="M1373.6 870.6L1373.8 875.9L1373.3 880.6L1372.3 884.1L1370.8 886.1L1369.1 886.3L1367.3 884.6L1365.6 881.3L1364.3 876.7L1363.6 871.4L1363.4 866.1L1363.9 861.4L1364.9 857.9L1366.4 855.9L1368.1 855.7L1369.9 857.4L1371.6 860.7L1372.9 865.3Z" fill="#2a44aa"/>
<path d="M1390.0 875.0L1389.6 878.6L1388.3 881.7L1386.5 884.1L1384.2 885.3L1381.8 885.3L1379.5 884.1L1377.7 881.7L1376.4 878.6L1376.0 875.0L1376.4 871.4L1377.7 868.3L1379.5 865.9L1381.8 864.7L1384.2 864.7L1386.5 865.9L1388.3 868.3L1389.6 871.4Z" fill="#2a44aa"/>
<path d="M1327.4 853.9L1325.0 864.9L1321.3 874.5L1316.7 881.2L1311.8 884.5L1307.2 883.9L1303.3 879.4L1300.8 871.6L1299.9 861.4L1300.6 850.1L1303.0 839.1L1306.7 829.5L1311.3 822.8L1316.2 819.5L1320.8 820.1L1324.7 824.6L1327.2 832.4L1328.1 842.6Z" fill="#2a44aa"/>
<path d="M1440.5 716.5L1442.5 710.5L1442.3 702.2L1439.2 692.4L1432.8 681.6L1423.0 670.6L1410.0 660.2L1394.1 651.2L1376.2 644.5L1357.6 640.4L1340.6 639.1L1323.6 640.4L1305.0 644.5L1287.1 651.2L1271.2 660.2L1258.2 670.6L1248.4 681.6L1242.0 692.4L1238.9 702.2L1238.7 710.5L1240.7 716.5L1249.9 729.3L1257.2 736.4L1264.7 741.5L1272.6 745.0L1281.0 747.4L1289.8 748.7L1299.2 749.1L1309.7 748.9L1321.8 748.1L1340.6 747.2L1359.4 748.1L1371.5 748.9L1382.0 749.1L1391.4 748.7L1400.2 747.4L1408.6 745.0L1416.5 741.5L1424.0 736.4L1431.3 729.3Z" fill="#274bb1"/>
<path d="M1451.0 747.2L1454.0 742.4L1455.5 736.5L1455.3 729.6L1453.1 721.8L1449.0 713.6L1442.8 705.3L1434.6 697.3L1424.7 690.0L1413.3 683.8L1400.9 679.0L1388.0 675.9L1375.1 674.6L1362.7 675.1L1351.5 677.1L1341.6 680.4L1333.6 684.9L1327.5 690.0L1323.4 695.6L1321.3 701.3L1321.0 707.0L1322.5 711.9L1325.4 716.5L1329.7 720.8L1335.1 724.8L1341.4 728.5L1348.4 732.0L1356.0 735.3L1364.0 738.3L1372.3 741.2L1380.8 744.0L1389.3 746.5L1397.8 748.8L1406.1 750.8L1414.3 752.4L1422.0 753.5L1429.3 754.0L1436.1 753.7L1442.0 752.6L1447.0 750.5Z" fill="#274bb1"/>
<path d="M1393.3 851.7L1396.1 862.7L1396.5 873.1L1394.4 881.6L1390.1 887.4L1384.1 889.6L1377.1 887.9L1370.0 882.7L1363.6 874.5L1358.7 864.3L1355.9 853.3L1355.5 842.9L1357.6 834.4L1361.9 828.6L1367.9 826.4L1374.9 828.1L1382.0 833.3L1388.4 841.5Z" fill="#274bb1"/>
<path d="M1391.4 861.2L1393.1 868.8L1392.6 876.2L1390.1 882.4L1385.8 886.8L1380.3 888.9L1374.2 888.2L1368.3 885.0L1363.2 879.7L1359.6 872.8L1357.9 865.2L1358.4 857.8L1360.9 851.6L1365.2 847.2L1370.7 845.1L1376.8 845.8L1382.7 849.0L1387.8 854.3Z" fill="#274bb1"/>
<path d="M1373.3 870.6L1373.5 875.6L1373.0 880.1L1372.1 883.4L1370.7 885.3L1369.0 885.4L1367.3 883.8L1365.8 880.7L1364.6 876.4L1363.9 871.4L1363.7 866.4L1364.2 861.9L1365.1 858.6L1366.5 856.7L1368.2 856.6L1369.9 858.2L1371.4 861.3L1372.6 865.6Z" fill="#274bb1"/>
<path d="M1389.5 875.0L1389.1 878.3L1388.0 881.3L1386.2 883.4L1384.1 884.6L1381.9 884.6L1379.8 883.4L1378.0 881.3L1376.9 878.3L1376.5 875.0L1376.9 871.7L1378.0 868.7L1379.8 866.6L1381.9 865.4L1384.1 865.4L1386.2 866.6L1388.0 868.7L1389.1 871.7Z" fill="#274bb1"/>
<path d="M1326.1 853.7L1324.0 863.7L1320.6 872.3L1316.5 878.5L1312.0 881.4L1307.8 880.9L1304.3 876.8L1302.1 869.7L1301.2 860.5L1301.9 850.3L1304.0 840.3L1307.4 831.7L1311.5 825.5L1316.0 822.6L1320.2 823.1L1323.7 827.2L1325.9 834.3L1326.8 843.5Z" fill="#274bb1"/>
<path d="M1438.6 715.3L1440.6 709.4L1440.3 701.3L1437.1 691.8L1430.8 681.3L1421.1 670.7L1408.3 660.7L1392.8 652.0L1375.4 645.5L1357.2 641.5L1340.6 640.3L1324.0 641.5L1305.8 645.5L1288.4 652.0L1272.9 660.7L1260.1 670.7L1250.4 681.3L1244.1 691.8L1240.9 701.3L1240.6 709.4L1242.6 715.3L1251.2 727.7L1258.3 734.7L1265.6 739.6L1273.3 743.0L1281.5 745.3L1290.2 746.5L1299.5 747.0L1309.9 746.7L1321.9 745.9L1340.6 745.1L1359.3 745.9L1371.3 746.7L1381.7 747.0L1391.0 746.5L1399.7 745.3L1407.9 743.0L1415.6 739.6L1422.9 734.7L1430.0 727.7Z" fill="#2452b8"/>
<path d="M1446.9 743.8L1449.4 739.4L1450.6 734.0L1450.1 727.7L1447.9 720.8L1443.9 713.4L1438.1 706.0L1430.6 698.9L1421.5 692.3L1411.1 686.8L1399.8 682.5L1388.1 679.7L1376.4 678.4L1365.2 678.6L1354.9 680.3L1345.9 683.1L1338.5 686.9L1332.8 691.4L1328.8 696.3L1326.7 701.4L1326.4 706.5L1327.5 711.0L1330.1 715.3L1334.0 719.4L1338.9 723.2L1344.7 726.7L1351.2 730.0L1358.3 733.1L1365.8 736.1L1373.6 738.8L1381.6 741.4L1389.6 743.8L1397.6 745.9L1405.4 747.7L1413.1 749.2L1420.3 750.1L1427.1 750.5L1433.3 750.1L1438.8 748.9L1443.4 746.9Z" fill="#2452b8"/>
<path d="M1391.8 852.2L1394.4 862.3L1394.7 871.8L1392.8 879.6L1388.9 884.8L1383.4 886.8L1377.0 885.4L1370.5 880.6L1364.6 873.1L1360.2 863.8L1357.6 853.7L1357.3 844.2L1359.2 836.4L1363.1 831.2L1368.6 829.2L1375.0 830.6L1381.5 835.4L1387.4 842.9Z" fill="#2452b8"/>
<path d="M1390.5 861.6L1392.1 868.7L1391.6 875.7L1389.3 881.6L1385.3 885.7L1380.1 887.6L1374.3 887.0L1368.7 884.0L1363.9 878.9L1360.5 872.4L1358.9 865.3L1359.4 858.3L1361.7 852.4L1365.7 848.3L1370.9 846.4L1376.7 847.0L1382.3 850.0L1387.1 855.1Z" fill="#2452b8"/>
<path d="M1373.1 870.6L1373.3 875.4L1372.9 879.7L1371.9 882.9L1370.6 884.7L1369.0 884.8L1367.4 883.3L1365.9 880.3L1364.8 876.1L1364.1 871.4L1363.9 866.6L1364.3 862.3L1365.3 859.1L1366.6 857.3L1368.2 857.2L1369.8 858.7L1371.3 861.7L1372.4 865.9Z" fill="#2452b8"/>
<path d="M1389.1 875.0L1388.8 878.1L1387.7 880.9L1386.1 883.0L1384.1 884.1L1381.9 884.1L1379.9 883.0L1378.3 880.9L1377.2 878.1L1376.9 875.0L1377.2 871.9L1378.3 869.1L1379.9 867.0L1381.9 865.9L1384.1 865.9L1386.1 867.0L1387.7 869.1L1388.8 871.9Z" fill="#2452b8"/>
<path d="M1325.1 853.6L1323.1 862.8L1320.1 870.7L1316.3 876.3L1312.2 879.1L1308.3 878.5L1305.1 874.8L1303.0 868.3L1302.2 859.8L1302.9 850.4L1304.9 841.2L1307.9 833.3L1311.7 827.7L1315.8 824.9L1319.7 825.5L1322.9 829.2L1325.0 835.7L1325.8 844.2Z" fill="#2452b8"/>
<path d="M1436.7 714.2L1438.6 708.4L1438.2 700.5L1435.0 691.2L1428.7 681.1L1419.2 670.8L1406.7 661.1L1391.5 652.8L1374.5 646.5L1356.8 642.7L1340.6 641.5L1324.4 642.7L1306.7 646.5L1289.7 652.8L1274.5 661.1L1262.0 670.8L1252.5 681.1L1246.2 691.2L1243.0 700.5L1242.6 708.4L1244.5 714.2L1252.6 726.2L1259.4 732.9L1266.5 737.7L1274.0 741.0L1282.0 743.2L1290.6 744.4L1299.9 744.8L1310.1 744.6L1322.1 743.8L1340.6 743.0L1359.1 743.8L1371.1 744.6L1381.3 744.8L1390.6 744.4L1399.2 743.2L1407.2 741.0L1414.7 737.7L1421.8 732.9L1428.6 726.2Z" fill="#2058be"/>
<path d="M1442.7 740.5L1444.8 736.5L1445.6 731.6L1445.0 726.0L1442.8 719.9L1439.0 713.4L1433.5 706.8L1426.6 700.5L1418.3 694.8L1408.9 689.8L1398.7 686.0L1388.2 683.4L1377.6 682.2L1367.5 682.2L1358.2 683.5L1350.1 685.9L1343.2 689.1L1337.9 692.9L1334.3 697.2L1332.2 701.6L1331.7 706.1L1332.6 710.3L1334.9 714.2L1338.3 718.0L1342.8 721.6L1348.1 724.9L1354.1 728.1L1360.7 731.1L1367.7 733.9L1374.9 736.5L1382.4 738.9L1389.9 741.1L1397.3 743.0L1404.7 744.7L1411.8 745.9L1418.5 746.7L1424.8 747.0L1430.5 746.5L1435.5 745.4L1439.6 743.4Z" fill="#2058be"/>
<path d="M1390.6 852.7L1392.9 861.9L1393.2 870.6L1391.5 877.9L1387.8 882.7L1382.8 884.5L1376.9 883.2L1370.9 878.8L1365.6 871.9L1361.4 863.3L1359.1 854.1L1358.8 845.4L1360.5 838.1L1364.2 833.3L1369.2 831.5L1375.1 832.8L1381.1 837.2L1386.4 844.1Z" fill="#2058be"/>
<path d="M1389.7 861.8L1391.2 868.6L1390.8 875.2L1388.6 880.8L1384.8 884.8L1379.8 886.6L1374.4 886.0L1369.0 883.2L1364.5 878.4L1361.3 872.2L1359.8 865.4L1360.2 858.8L1362.4 853.2L1366.2 849.2L1371.2 847.4L1376.6 848.0L1382.0 850.8L1386.5 855.6Z" fill="#2058be"/>
<path d="M1373.0 870.6L1373.1 875.2L1372.7 879.3L1371.8 882.4L1370.5 884.1L1369.0 884.3L1367.4 882.8L1366.0 879.9L1364.9 875.9L1364.2 871.4L1364.1 866.8L1364.5 862.7L1365.4 859.6L1366.7 857.9L1368.2 857.7L1369.8 859.2L1371.2 862.1L1372.3 866.1Z" fill="#2058be"/>
<path d="M1388.8 875.0L1388.5 878.0L1387.5 880.6L1385.9 882.6L1384.0 883.6L1382.0 883.6L1380.1 882.6L1378.5 880.6L1377.5 878.0L1377.2 875.0L1377.5 872.0L1378.5 869.4L1380.1 867.4L1382.0 866.4L1384.0 866.4L1385.9 867.4L1387.5 869.4L1388.5 872.0Z" fill="#2058be"/>
<path d="M1324.3 853.4L1322.5 862.0L1319.6 869.3L1316.1 874.5L1312.3 877.0L1308.7 876.5L1305.8 873.1L1303.8 867.1L1303.1 859.2L1303.7 850.6L1305.5 842.0L1308.4 834.7L1311.9 829.5L1315.7 827.0L1319.3 827.5L1322.2 830.9L1324.2 836.9L1324.9 844.8Z" fill="#2058be"/>
<path d="M1435.4 713.4L1437.1 707.8L1436.6 700.1L1433.3 691.1L1427.0 681.4L1417.7 671.5L1405.3 662.1L1390.5 654.1L1373.8 648.0L1356.4 644.3L1340.6 643.2L1324.8 644.3L1307.4 648.0L1290.7 654.1L1275.9 662.1L1263.5 671.5L1254.2 681.4L1247.9 691.1L1244.6 700.1L1244.1 707.8L1245.8 713.4L1253.7 725.0L1260.2 731.6L1267.1 736.2L1274.5 739.5L1282.4 741.6L1290.9 742.7L1300.1 743.1L1310.3 742.8L1322.2 742.1L1340.6 741.3L1359.0 742.1L1370.9 742.8L1381.1 743.1L1390.3 742.7L1398.8 741.6L1406.7 739.5L1414.1 736.2L1421.0 731.6L1427.5 725.0Z" fill="#1d5fc5"/>
<path d="M1438.4 737.3L1440.1 733.7L1440.6 729.4L1439.8 724.5L1437.7 719.1L1434.0 713.4L1429.0 707.7L1422.7 702.2L1415.2 697.2L1406.7 692.9L1397.6 689.5L1388.2 687.2L1378.8 686.0L1369.8 685.9L1361.5 686.8L1354.1 688.7L1347.9 691.4L1343.0 694.6L1339.6 698.2L1337.6 702.0L1337.0 705.9L1337.7 709.7L1339.7 713.3L1342.7 716.8L1346.7 720.1L1351.6 723.3L1357.1 726.2L1363.1 729.0L1369.5 731.6L1376.3 734.1L1383.2 736.3L1390.1 738.4L1397.0 740.1L1403.8 741.6L1410.4 742.7L1416.6 743.4L1422.4 743.5L1427.5 743.0L1432.0 741.9L1435.7 740.0Z" fill="#1d5fc5"/>
<path d="M1389.4 853.1L1391.6 861.6L1391.9 869.7L1390.3 876.3L1386.9 880.8L1382.3 882.5L1376.8 881.2L1371.3 877.2L1366.4 870.8L1362.6 862.9L1360.4 854.4L1360.1 846.3L1361.7 839.7L1365.1 835.2L1369.7 833.5L1375.2 834.8L1380.7 838.8L1385.6 845.2Z" fill="#1d5fc5"/>
<path d="M1389.1 862.1L1390.5 868.5L1390.1 874.9L1388.0 880.2L1384.4 884.0L1379.6 885.7L1374.4 885.2L1369.3 882.4L1365.0 877.8L1361.9 871.9L1360.5 865.5L1360.9 859.1L1363.0 853.8L1366.6 850.0L1371.4 848.3L1376.6 848.8L1381.7 851.6L1386.0 856.2Z" fill="#1d5fc5"/>
<path d="M1372.8 870.6L1373.0 875.1L1372.6 879.1L1371.7 882.1L1370.5 883.7L1369.0 883.8L1367.5 882.4L1366.1 879.6L1365.0 875.8L1364.4 871.4L1364.2 866.9L1364.6 862.9L1365.5 859.9L1366.7 858.3L1368.2 858.2L1369.7 859.6L1371.1 862.4L1372.2 866.2Z" fill="#1d5fc5"/>
<path d="M1388.6 875.0L1388.2 877.9L1387.3 880.4L1385.8 882.2L1384.0 883.2L1382.0 883.2L1380.2 882.2L1378.7 880.4L1377.8 877.9L1377.4 875.0L1377.8 872.1L1378.7 869.6L1380.2 867.8L1382.0 866.8L1384.0 866.8L1385.8 867.8L1387.3 869.6L1388.2 872.1Z" fill="#1d5fc5"/>
<path d="M1323.6 853.3L1321.9 861.3L1319.2 868.1L1315.9 872.9L1312.4 875.3L1309.1 874.8L1306.4 871.6L1304.6 866.0L1303.9 858.7L1304.4 850.7L1306.1 842.7L1308.8 835.9L1312.1 831.1L1315.6 828.7L1318.9 829.2L1321.6 832.4L1323.4 838.0L1324.1 845.3Z" fill="#1d5fc5"/>
<path d="M1434.0 712.6L1435.5 707.1L1434.9 699.7L1431.6 691.1L1425.4 681.7L1416.1 672.1L1404.0 663.1L1389.4 655.4L1373.1 649.5L1356.1 646.0L1340.6 644.9L1325.1 646.0L1308.1 649.5L1291.8 655.4L1277.2 663.1L1265.1 672.1L1255.8 681.7L1249.6 691.1L1246.3 699.7L1245.7 707.1L1247.2 712.6L1254.7 723.8L1261.0 730.2L1267.7 734.7L1275.0 737.9L1282.8 739.9L1291.2 741.0L1300.3 741.4L1310.5 741.1L1322.4 740.4L1340.6 739.6L1358.8 740.4L1370.7 741.1L1380.9 741.4L1390.0 741.0L1398.4 739.9L1406.2 737.9L1413.5 734.7L1420.2 730.2L1426.5 723.8Z" fill="#1966cc"/>
<path d="M1431.8 732.8L1433.1 729.8L1433.3 726.2L1432.4 722.1L1430.3 717.7L1427.1 713.1L1422.8 708.5L1417.3 704.0L1411.0 700.0L1403.9 696.5L1396.4 693.7L1388.5 691.7L1380.7 690.6L1373.2 690.4L1366.2 691.0L1360.0 692.3L1354.7 694.3L1350.5 696.8L1347.5 699.7L1345.7 702.7L1345.0 706.0L1345.5 709.1L1347.0 712.2L1349.5 715.2L1352.9 718.1L1356.9 720.9L1361.6 723.5L1366.9 726.0L1372.4 728.4L1378.3 730.5L1384.3 732.5L1390.4 734.3L1396.5 735.8L1402.4 737.0L1408.1 737.9L1413.5 738.4L1418.4 738.4L1422.8 737.9L1426.6 736.8L1429.6 735.1Z" fill="#1966cc"/>
<path d="M1388.4 853.5L1390.4 861.3L1390.7 868.8L1389.2 874.9L1386.1 879.0L1381.8 880.6L1376.8 879.4L1371.7 875.7L1367.1 869.8L1363.6 862.5L1361.6 854.7L1361.3 847.2L1362.8 841.1L1365.9 837.0L1370.2 835.4L1375.2 836.6L1380.3 840.3L1384.9 846.2Z" fill="#1966cc"/>
<path d="M1388.5 862.3L1389.9 868.5L1389.5 874.5L1387.5 879.7L1384.0 883.3L1379.5 884.9L1374.5 884.4L1369.6 881.8L1365.4 877.4L1362.5 871.7L1361.1 865.5L1361.5 859.5L1363.5 854.3L1367.0 850.7L1371.5 849.1L1376.5 849.6L1381.4 852.2L1385.6 856.6Z" fill="#1966cc"/>
<path d="M1372.7 870.6L1372.8 875.0L1372.4 878.8L1371.6 881.7L1370.4 883.3L1369.0 883.5L1367.5 882.1L1366.2 879.4L1365.1 875.6L1364.5 871.4L1364.4 867.0L1364.8 863.2L1365.6 860.3L1366.8 858.7L1368.2 858.5L1369.7 859.9L1371.0 862.6L1372.1 866.4Z" fill="#1966cc"/>
<path d="M1388.4 875.0L1388.0 877.7L1387.1 880.2L1385.7 882.0L1383.9 882.9L1382.1 882.9L1380.3 882.0L1378.9 880.2L1378.0 877.7L1377.6 875.0L1378.0 872.3L1378.9 869.8L1380.3 868.0L1382.1 867.1L1383.9 867.1L1385.7 868.0L1387.1 869.8L1388.0 872.3Z" fill="#1966cc"/>
<path d="M1322.9 853.3L1321.3 860.6L1318.9 867.0L1315.8 871.5L1312.5 873.7L1309.4 873.2L1306.9 870.2L1305.2 865.0L1304.6 858.3L1305.1 850.7L1306.7 843.4L1309.1 837.0L1312.2 832.5L1315.5 830.3L1318.6 830.8L1321.1 833.8L1322.8 839.0L1323.4 845.7Z" fill="#1966cc"/>
<path d="M1432.6 711.8L1434.0 706.5L1433.3 699.4L1430.0 691.0L1423.7 681.9L1414.6 672.7L1402.6 664.1L1388.3 656.7L1372.4 651.1L1355.8 647.7L1340.6 646.6L1325.4 647.7L1308.8 651.1L1292.9 656.7L1278.6 664.1L1266.6 672.7L1257.5 681.9L1251.2 691.0L1247.9 699.4L1247.2 706.5L1248.6 711.8L1255.7 722.7L1261.8 728.9L1268.4 733.3L1275.5 736.3L1283.2 738.3L1291.5 739.3L1300.6 739.7L1310.7 739.4L1322.5 738.7L1340.6 737.9L1358.7 738.7L1370.5 739.4L1380.6 739.7L1389.7 739.3L1398.0 738.3L1405.7 736.3L1412.8 733.3L1419.4 728.9L1425.5 722.7Z" fill="#166dd3"/>
<path d="M1425.0 728.6L1425.8 726.2L1425.8 723.3L1424.9 720.1L1423.1 716.6L1420.3 713.0L1416.6 709.4L1412.1 705.9L1407.0 702.8L1401.2 700.0L1395.1 697.8L1388.8 696.2L1382.5 695.2L1376.4 694.9L1370.7 695.2L1365.7 696.1L1361.3 697.5L1357.8 699.3L1355.3 701.5L1353.7 703.8L1353.0 706.4L1353.3 708.9L1354.4 711.4L1356.4 713.9L1359.1 716.4L1362.5 718.7L1366.4 721.0L1370.7 723.1L1375.4 725.1L1380.4 727.0L1385.5 728.7L1390.7 730.2L1395.8 731.5L1400.9 732.5L1405.7 733.2L1410.2 733.5L1414.3 733.4L1417.9 733.0L1420.9 732.0L1423.3 730.6Z" fill="#166dd3"/>
<path d="M1387.4 853.8L1389.3 861.1L1389.5 867.9L1388.1 873.6L1385.3 877.4L1381.3 878.8L1376.7 877.7L1372.0 874.3L1367.8 868.9L1364.6 862.2L1362.7 854.9L1362.5 848.1L1363.9 842.4L1366.7 838.6L1370.7 837.2L1375.3 838.3L1380.0 841.7L1384.2 847.1Z" fill="#166dd3"/>
<path d="M1388.0 862.4L1389.3 868.4L1389.0 874.2L1387.0 879.2L1383.7 882.6L1379.3 884.2L1374.5 883.7L1369.8 881.2L1365.8 877.0L1363.0 871.6L1361.7 865.6L1362.0 859.8L1364.0 854.8L1367.3 851.4L1371.7 849.8L1376.5 850.3L1381.2 852.8L1385.2 857.0Z" fill="#166dd3"/>
<path d="M1372.6 870.7L1372.7 874.9L1372.3 878.6L1371.5 881.4L1370.3 883.0L1369.0 883.1L1367.5 881.8L1366.2 879.1L1365.2 875.5L1364.6 871.3L1364.5 867.1L1364.9 863.4L1365.7 860.6L1366.9 859.0L1368.2 858.9L1369.7 860.2L1371.0 862.9L1372.0 866.5Z" fill="#166dd3"/>
<path d="M1388.2 875.0L1387.8 877.6L1386.9 880.0L1385.6 881.7L1383.9 882.6L1382.1 882.6L1380.4 881.7L1379.1 880.0L1378.2 877.6L1377.8 875.0L1378.2 872.4L1379.1 870.0L1380.4 868.3L1382.1 867.4L1383.9 867.4L1385.6 868.3L1386.9 870.0L1387.8 872.4Z" fill="#166dd3"/>
<path d="M1322.3 853.2L1320.8 860.0L1318.5 865.9L1315.7 870.1L1312.6 872.2L1309.8 871.8L1307.4 869.0L1305.8 864.1L1305.2 857.8L1305.7 850.8L1307.2 844.0L1309.5 838.1L1312.3 833.9L1315.4 831.8L1318.2 832.2L1320.6 835.0L1322.2 839.9L1322.8 846.2Z" fill="#166dd3"/>
<path d="M1431.2 711.0L1432.5 705.9L1431.7 699.0L1428.3 691.0L1422.1 682.3L1413.0 673.4L1401.3 665.1L1387.3 658.0L1371.7 652.6L1355.4 649.3L1340.6 648.3L1325.8 649.3L1309.5 652.6L1293.9 658.0L1279.9 665.1L1268.2 673.4L1259.1 682.3L1252.9 691.0L1249.5 699.0L1248.7 705.9L1250.0 711.0L1256.8 721.5L1262.7 727.5L1269.1 731.8L1276.0 734.7L1283.6 736.6L1291.8 737.7L1300.8 737.9L1310.9 737.6L1322.7 736.9L1340.6 736.2L1358.5 736.9L1370.3 737.6L1380.4 737.9L1389.4 737.7L1397.6 736.6L1405.2 734.7L1412.1 731.8L1418.5 727.5L1424.4 721.5Z" fill="#1374da"/>
<path d="M1418.0 724.8L1418.5 722.9L1418.3 720.8L1417.5 718.4L1415.9 715.9L1413.6 713.2L1410.6 710.6L1407.1 708.0L1403.0 705.7L1398.5 703.6L1393.8 701.9L1388.9 700.7L1384.1 699.8L1379.4 699.5L1375.0 699.6L1371.1 700.1L1367.7 701.0L1365.0 702.2L1362.9 703.6L1361.5 705.3L1360.9 707.1L1361.1 709.0L1361.9 711.0L1363.4 713.0L1365.5 714.9L1368.2 716.8L1371.3 718.6L1374.8 720.3L1378.6 722.0L1382.6 723.5L1386.7 724.9L1390.9 726.1L1395.1 727.1L1399.1 727.9L1403.0 728.4L1406.6 728.7L1409.8 728.6L1412.6 728.2L1415.0 727.4L1416.8 726.3Z" fill="#1374da"/>
<path d="M1386.5 854.2L1388.2 860.8L1388.4 867.1L1387.2 872.3L1384.5 875.8L1380.9 877.1L1376.7 876.1L1372.3 873.0L1368.5 868.0L1365.5 861.8L1363.8 855.2L1363.6 848.9L1364.8 843.7L1367.5 840.2L1371.1 838.9L1375.3 839.9L1379.7 843.0L1383.5 848.0Z" fill="#1374da"/>
<path d="M1387.6 862.6L1388.8 868.4L1388.5 874.0L1386.6 878.7L1383.4 882.1L1379.2 883.6L1374.5 883.1L1370.0 880.7L1366.2 876.6L1363.4 871.4L1362.2 865.6L1362.5 860.0L1364.4 855.3L1367.6 851.9L1371.8 850.4L1376.5 850.9L1381.0 853.3L1384.8 857.4Z" fill="#1374da"/>
<path d="M1372.5 870.7L1372.6 874.8L1372.2 878.4L1371.4 881.2L1370.3 882.7L1369.0 882.8L1367.6 881.5L1366.3 878.9L1365.3 875.4L1364.7 871.3L1364.6 867.2L1365.0 863.6L1365.8 860.8L1366.9 859.3L1368.2 859.2L1369.6 860.5L1370.9 863.1L1371.9 866.6Z" fill="#1374da"/>
<path d="M1388.0 875.0L1387.7 877.5L1386.8 879.8L1385.5 881.4L1383.9 882.3L1382.1 882.3L1380.5 881.4L1379.2 879.8L1378.3 877.5L1378.0 875.0L1378.3 872.5L1379.2 870.2L1380.5 868.6L1382.1 867.7L1383.9 867.7L1385.5 868.6L1386.8 870.2L1387.7 872.5Z" fill="#1374da"/>
<path d="M1321.7 853.1L1320.3 859.5L1318.2 864.9L1315.6 868.9L1312.7 870.7L1310.1 870.4L1307.9 867.8L1306.4 863.3L1305.9 857.4L1306.3 850.9L1307.7 844.5L1309.8 839.1L1312.4 835.1L1315.3 833.3L1317.9 833.6L1320.1 836.2L1321.6 840.7L1322.1 846.6Z" fill="#1374da"/>
<path d="M1429.8 710.2L1431.0 705.3L1430.1 698.7L1426.6 691.0L1420.4 682.6L1411.5 674.1L1400.0 666.1L1386.2 659.3L1371.0 654.1L1355.1 651.0L1340.6 650.0L1326.1 651.0L1310.2 654.1L1295.0 659.3L1281.2 666.1L1269.7 674.1L1260.8 682.6L1254.6 691.0L1251.1 698.7L1250.2 705.3L1251.4 710.2L1257.9 720.4L1263.6 726.2L1269.8 730.3L1276.6 733.2L1284.0 735.0L1292.2 736.0L1301.1 736.2L1311.1 735.9L1322.8 735.2L1340.6 734.5L1358.4 735.2L1370.1 735.9L1380.1 736.2L1389.0 736.0L1397.2 735.0L1404.6 733.2L1411.4 730.3L1417.6 726.2L1423.3 720.4Z" fill="#0f7ae0"/>
<path d="M1385.6 854.5L1387.1 860.6L1387.3 866.3L1386.2 871.1L1383.8 874.2L1380.5 875.5L1376.6 874.6L1372.7 871.7L1369.1 867.1L1366.4 861.5L1364.9 855.4L1364.7 849.7L1365.8 844.9L1368.2 841.8L1371.5 840.5L1375.4 841.4L1379.3 844.3L1382.9 848.9Z" fill="#0f7ae0"/>
<path d="M1387.1 862.8L1388.3 868.3L1388.0 873.7L1386.2 878.3L1383.1 881.5L1379.0 883.0L1374.6 882.5L1370.2 880.2L1366.5 876.3L1363.9 871.2L1362.7 865.7L1363.0 860.3L1364.8 855.7L1367.9 852.5L1372.0 851.0L1376.4 851.5L1380.8 853.8L1384.5 857.7Z" fill="#0f7ae0"/>
<path d="M1372.4 870.7L1372.5 874.7L1372.2 878.2L1371.4 880.9L1370.3 882.4L1368.9 882.5L1367.6 881.3L1366.4 878.7L1365.4 875.3L1364.8 871.3L1364.7 867.3L1365.0 863.8L1365.8 861.1L1366.9 859.6L1368.3 859.5L1369.6 860.7L1370.8 863.3L1371.8 866.7Z" fill="#0f7ae0"/>
<path d="M1387.8 875.0L1387.5 877.5L1386.7 879.6L1385.4 881.2L1383.8 882.1L1382.2 882.1L1380.6 881.2L1379.3 879.6L1378.5 877.5L1378.2 875.0L1378.5 872.5L1379.3 870.4L1380.6 868.8L1382.2 867.9L1383.8 867.9L1385.4 868.8L1386.7 870.4L1387.5 872.5Z" fill="#0f7ae0"/>
<path d="M1321.1 853.0L1319.9 858.9L1317.9 864.0L1315.4 867.6L1312.8 869.4L1310.3 869.0L1308.3 866.6L1307.0 862.5L1306.5 857.0L1306.9 851.0L1308.1 845.1L1310.1 840.0L1312.6 836.4L1315.2 834.6L1317.7 835.0L1319.7 837.4L1321.0 841.5L1321.5 847.0Z" fill="#0f7ae0"/>
<path d="M1428.9 709.7L1430.0 704.9L1429.0 698.4L1425.6 690.8L1419.4 682.6L1410.6 674.3L1399.2 666.5L1385.6 659.9L1370.6 654.8L1354.9 651.8L1340.6 650.8L1326.3 651.8L1310.6 654.8L1295.6 659.9L1282.0 666.5L1270.6 674.3L1261.8 682.6L1255.6 690.8L1252.2 698.4L1251.2 704.9L1252.3 709.7L1258.6 719.7L1264.1 725.4L1270.2 729.4L1277.0 732.2L1284.4 734.0L1292.5 734.9L1301.4 735.1L1311.3 734.8L1323.0 734.1L1340.6 733.5L1358.2 734.1L1369.9 734.8L1379.8 735.1L1388.7 734.9L1396.8 734.0L1404.2 732.2L1411.0 729.4L1417.1 725.4L1422.6 719.7Z" fill="#0c81e7"/>
<path d="M1384.7 854.8L1386.1 860.3L1386.3 865.5L1385.2 869.8L1383.1 872.7L1380.0 873.8L1376.5 873.0L1373.0 870.4L1369.8 866.3L1367.3 861.2L1365.9 855.7L1365.7 850.5L1366.8 846.2L1368.9 843.3L1372.0 842.2L1375.5 843.0L1379.0 845.6L1382.2 849.7Z" fill="#0c81e7"/>
<path d="M1386.7 862.9L1387.9 868.3L1387.6 873.5L1385.8 877.9L1382.8 881.0L1378.9 882.4L1374.6 882.0L1370.4 879.7L1366.8 875.9L1364.3 871.1L1363.1 865.7L1363.4 860.5L1365.2 856.1L1368.2 853.0L1372.1 851.6L1376.4 852.0L1380.6 854.3L1384.2 858.1Z" fill="#0c81e7"/>
<path d="M1372.3 870.7L1372.4 874.6L1372.1 878.1L1371.3 880.7L1370.2 882.2L1368.9 882.3L1367.6 881.0L1366.4 878.6L1365.5 875.2L1364.9 871.3L1364.8 867.4L1365.1 863.9L1365.9 861.3L1367.0 859.8L1368.3 859.7L1369.6 861.0L1370.8 863.4L1371.7 866.8Z" fill="#0c81e7"/>
<path d="M1387.6 875.0L1387.4 877.4L1386.5 879.5L1385.3 881.0L1383.8 881.8L1382.2 881.8L1380.7 881.0L1379.5 879.5L1378.6 877.4L1378.4 875.0L1378.6 872.6L1379.5 870.5L1380.7 869.0L1382.2 868.2L1383.8 868.2L1385.3 869.0L1386.5 870.5L1387.4 872.6Z" fill="#0c81e7"/>
<path d="M1320.6 852.9L1319.4 858.4L1317.6 863.1L1315.3 866.4L1312.9 868.0L1310.6 867.7L1308.7 865.5L1307.5 861.6L1307.0 856.6L1307.4 851.1L1308.6 845.6L1310.4 840.9L1312.7 837.6L1315.1 836.0L1317.4 836.3L1319.3 838.5L1320.5 842.4L1321.0 847.4Z" fill="#0c81e7"/>
<path d="M1427.9 709.2L1429.0 704.5L1428.0 698.1L1424.5 690.7L1418.4 682.7L1409.7 674.6L1398.4 667.0L1385.0 660.4L1370.2 655.5L1354.7 652.5L1340.6 651.6L1326.5 652.5L1311.0 655.5L1296.2 660.4L1282.8 667.0L1271.5 674.6L1262.8 682.7L1256.7 690.7L1253.2 698.1L1252.2 704.5L1253.3 709.2L1259.3 718.9L1264.7 724.5L1270.7 728.4L1277.4 731.2L1284.7 732.9L1292.8 733.8L1301.6 734.1L1311.5 733.7L1323.1 733.1L1340.6 732.4L1358.1 733.1L1369.7 733.7L1379.6 734.1L1388.4 733.8L1396.5 732.9L1403.8 731.2L1410.5 728.4L1416.5 724.5L1421.9 718.9Z" fill="#0888ee"/>
<path d="M1383.8 855.2L1385.0 860.1L1385.2 864.7L1384.3 868.6L1382.3 871.2L1379.6 872.1L1376.5 871.4L1373.3 869.1L1370.4 865.4L1368.2 860.8L1367.0 855.9L1366.8 851.3L1367.7 847.4L1369.7 844.8L1372.4 843.9L1375.5 844.6L1378.7 846.9L1381.6 850.6Z" fill="#0888ee"/>
<path d="M1386.3 863.1L1387.5 868.2L1387.2 873.3L1385.5 877.5L1382.6 880.5L1378.8 881.9L1374.6 881.5L1370.6 879.3L1367.1 875.6L1364.7 870.9L1363.5 865.8L1363.8 860.7L1365.5 856.5L1368.4 853.5L1372.2 852.1L1376.4 852.5L1380.4 854.7L1383.9 858.4Z" fill="#0888ee"/>
<path d="M1372.2 870.7L1372.3 874.5L1372.0 877.9L1371.3 880.5L1370.2 881.9L1368.9 882.0L1367.6 880.8L1366.5 878.4L1365.5 875.1L1365.0 871.3L1364.9 867.5L1365.2 864.1L1365.9 861.5L1367.0 860.1L1368.3 860.0L1369.6 861.2L1370.7 863.6L1371.7 866.9Z" fill="#0888ee"/>
<path d="M1387.5 875.0L1387.2 877.3L1386.4 879.3L1385.2 880.8L1383.8 881.6L1382.2 881.6L1380.8 880.8L1379.6 879.3L1378.8 877.3L1378.5 875.0L1378.8 872.7L1379.6 870.7L1380.8 869.2L1382.2 868.4L1383.8 868.4L1385.2 869.2L1386.4 870.7L1387.2 872.7Z" fill="#0888ee"/>
<path d="M1320.0 852.8L1319.0 857.8L1317.3 862.1L1315.2 865.2L1313.0 866.7L1310.9 866.4L1309.2 864.4L1308.0 860.8L1307.6 856.3L1308.0 851.2L1309.0 846.2L1310.7 841.9L1312.8 838.8L1315.0 837.3L1317.1 837.6L1318.8 839.6L1320.0 843.2L1320.4 847.7Z" fill="#0888ee"/>
<path d="M1427.0 708.7L1428.0 704.1L1427.0 697.9L1423.5 690.6L1417.4 682.7L1408.7 674.8L1397.6 667.4L1384.4 661.0L1369.8 656.2L1354.6 653.3L1340.6 652.4L1326.6 653.3L1311.4 656.2L1296.8 661.0L1283.6 667.4L1272.5 674.8L1263.8 682.7L1257.7 690.6L1254.2 697.9L1253.2 704.1L1254.2 708.7L1260.0 718.2L1265.3 723.6L1271.2 727.5L1277.8 730.2L1285.1 731.9L1293.0 732.8L1301.9 733.0L1311.7 732.7L1323.2 732.0L1340.6 731.3L1358.0 732.0L1369.5 732.7L1379.3 733.0L1388.2 732.8L1396.1 731.9L1403.4 730.2L1410.0 727.5L1415.9 723.6L1421.2 718.2Z" fill="#058ff5"/>
<path d="M1382.8 855.5L1383.9 859.8L1384.1 863.9L1383.2 867.3L1381.5 869.6L1379.2 870.4L1376.4 869.8L1373.6 867.7L1371.1 864.5L1369.2 860.5L1368.1 856.2L1367.9 852.1L1368.8 848.7L1370.5 846.4L1372.8 845.6L1375.6 846.2L1378.4 848.3L1380.9 851.5Z" fill="#058ff5"/>
<path d="M1386.0 863.2L1387.1 868.2L1386.8 873.0L1385.1 877.2L1382.3 880.1L1378.7 881.4L1374.7 881.0L1370.7 878.9L1367.4 875.3L1365.0 870.8L1363.9 865.8L1364.2 861.0L1365.9 856.8L1368.7 853.9L1372.3 852.6L1376.3 853.0L1380.3 855.1L1383.6 858.7Z" fill="#058ff5"/>
<path d="M1372.1 870.7L1372.3 874.4L1371.9 877.8L1371.2 880.3L1370.2 881.7L1368.9 881.8L1367.7 880.6L1366.5 878.3L1365.6 875.0L1365.1 871.3L1364.9 867.6L1365.3 864.2L1366.0 861.7L1367.0 860.3L1368.3 860.2L1369.5 861.4L1370.7 863.7L1371.6 867.0Z" fill="#058ff5"/>
<path d="M1387.3 875.0L1387.1 877.2L1386.3 879.2L1385.2 880.6L1383.8 881.4L1382.2 881.4L1380.8 880.6L1379.7 879.2L1378.9 877.2L1378.7 875.0L1378.9 872.8L1379.7 870.8L1380.8 869.4L1382.2 868.6L1383.8 868.6L1385.2 869.4L1386.3 870.8L1387.1 872.8Z" fill="#058ff5"/>
<path d="M1319.5 852.8L1318.5 857.3L1317.0 861.2L1315.1 864.0L1313.1 865.4L1311.2 865.1L1309.6 863.2L1308.6 860.0L1308.2 855.9L1308.5 851.2L1309.5 846.7L1311.0 842.8L1312.9 840.0L1314.9 838.6L1316.8 838.9L1318.4 840.8L1319.4 844.0L1319.8 848.1Z" fill="#058ff5"/>
<path d="M1426.1 708.3L1427.1 703.7L1426.0 697.6L1422.5 690.5L1416.4 682.8L1407.8 675.1L1396.8 667.8L1383.8 661.6L1369.4 656.9L1354.4 654.1L1340.6 653.2L1326.8 654.1L1311.8 656.9L1297.4 661.6L1284.4 667.8L1273.4 675.1L1264.8 682.8L1258.7 690.5L1255.2 697.6L1254.1 703.7L1255.1 708.3L1260.7 717.5L1265.9 722.8L1271.7 726.6L1278.2 729.2L1285.4 730.8L1293.3 731.7L1302.1 731.9L1311.9 731.6L1323.4 730.9L1340.6 730.3L1357.8 730.9L1369.3 731.6L1379.1 731.9L1387.9 731.7L1395.8 730.8L1403.0 729.2L1409.5 726.6L1415.3 722.8L1420.5 717.5Z" fill="#0099ff"/>
<path d="M1381.8 855.9L1382.7 859.6L1382.9 863.0L1382.2 865.9L1380.7 867.8L1378.7 868.6L1376.4 868.0L1374.0 866.3L1371.8 863.5L1370.2 860.1L1369.3 856.4L1369.1 853.0L1369.8 850.1L1371.3 848.2L1373.3 847.4L1375.6 848.0L1378.0 849.7L1380.2 852.5Z" fill="#0099ff"/>
<path d="M1385.6 863.3L1386.7 868.2L1386.4 872.8L1384.8 876.8L1382.1 879.6L1378.6 880.9L1374.7 880.5L1370.9 878.5L1367.7 875.1L1365.4 870.7L1364.3 865.8L1364.6 861.2L1366.2 857.2L1368.9 854.4L1372.4 853.1L1376.3 853.5L1380.1 855.5L1383.3 858.9Z" fill="#0099ff"/>
<path d="M1372.1 870.7L1372.2 874.4L1371.9 877.6L1371.2 880.1L1370.1 881.5L1368.9 881.6L1367.7 880.4L1366.5 878.1L1365.7 874.9L1365.1 871.3L1365.0 867.6L1365.3 864.4L1366.0 861.9L1367.1 860.5L1368.3 860.4L1369.5 861.6L1370.7 863.9L1371.5 867.1Z" fill="#0099ff"/>
<path d="M1387.2 875.0L1386.9 877.2L1386.2 879.0L1385.1 880.4L1383.7 881.2L1382.3 881.2L1380.9 880.4L1379.8 879.0L1379.1 877.2L1378.8 875.0L1379.1 872.8L1379.8 871.0L1380.9 869.6L1382.3 868.8L1383.7 868.8L1385.1 869.6L1386.2 871.0L1386.9 872.8Z" fill="#0099ff"/>
<path d="M1318.9 852.7L1318.0 856.8L1316.7 860.3L1315.0 862.8L1313.2 864.0L1311.5 863.7L1310.1 862.1L1309.1 859.2L1308.8 855.5L1309.1 851.3L1310.0 847.2L1311.3 843.7L1313.0 841.2L1314.8 840.0L1316.5 840.3L1317.9 841.9L1318.9 844.8L1319.2 848.5Z" fill="#0099ff"/>
<path d="M1424.2 707.3L1425.1 702.9L1423.9 697.1L1420.4 690.3L1414.4 683.0L1406.0 675.6L1395.3 668.7L1382.6 662.8L1368.6 658.4L1354.0 655.7L1340.6 654.8L1327.2 655.7L1312.6 658.4L1298.6 662.8L1285.9 668.7L1275.2 675.6L1266.8 683.0L1260.8 690.3L1257.3 697.1L1256.1 702.9L1257.0 707.3L1262.2 716.0L1267.2 721.1L1272.8 724.7L1279.1 727.2L1286.2 728.8L1294.0 729.6L1302.6 729.7L1312.3 729.4L1323.7 728.8L1340.6 728.2L1357.5 728.8L1368.9 729.4L1378.6 729.7L1387.2 729.6L1395.0 728.8L1402.1 727.2L1408.4 724.7L1414.0 721.1L1419.0 716.0Z" fill="#00a3e0"/>
<path d="M1379.2 856.8L1379.8 858.9L1379.8 860.8L1379.4 862.4L1378.6 863.5L1377.5 863.9L1376.2 863.6L1374.9 862.6L1373.7 861.1L1372.8 859.2L1372.2 857.1L1372.2 855.2L1372.6 853.6L1373.4 852.5L1374.5 852.1L1375.8 852.4L1377.1 853.4L1378.3 854.9Z" fill="#00a3e0"/>
<path d="M1384.9 863.6L1385.9 868.1L1385.7 872.5L1384.2 876.2L1381.7 878.8L1378.4 880.0L1374.7 879.6L1371.2 877.7L1368.2 874.5L1366.1 870.4L1365.1 865.9L1365.3 861.5L1366.8 857.8L1369.3 855.2L1372.6 854.0L1376.3 854.4L1379.8 856.3L1382.8 859.5Z" fill="#00a3e0"/>
<path d="M1371.9 870.7L1372.1 874.2L1371.7 877.4L1371.1 879.8L1370.1 881.1L1368.9 881.2L1367.7 880.1L1366.6 877.8L1365.8 874.8L1365.3 871.3L1365.1 867.8L1365.5 864.6L1366.1 862.2L1367.1 860.9L1368.3 860.8L1369.5 861.9L1370.6 864.2L1371.4 867.2Z" fill="#00a3e0"/>
<path d="M1386.9 875.0L1386.7 877.0L1386.0 878.8L1385.0 880.1L1383.7 880.8L1382.3 880.8L1381.0 880.1L1380.0 878.8L1379.3 877.0L1379.1 875.0L1379.3 873.0L1380.0 871.2L1381.0 869.9L1382.3 869.2L1383.7 869.2L1385.0 869.9L1386.0 871.2L1386.7 873.0Z" fill="#00a3e0"/>
<path d="M1317.7 852.5L1317.0 855.6L1316.0 858.2L1314.7 860.1L1313.4 861.0L1312.1 860.8L1311.1 859.6L1310.4 857.4L1310.1 854.6L1310.3 851.5L1311.0 848.4L1312.0 845.8L1313.3 843.9L1314.6 843.0L1315.9 843.2L1316.9 844.4L1317.6 846.6L1317.9 849.4Z" fill="#00a3e0"/>
<path d="M1422.3 706.4L1423.1 702.2L1421.9 696.6L1418.4 690.1L1412.5 683.2L1404.2 676.2L1393.7 669.6L1381.4 664.0L1367.8 659.8L1353.7 657.2L1340.6 656.4L1327.5 657.2L1313.4 659.8L1299.8 664.0L1287.5 669.6L1277.0 676.2L1268.7 683.2L1262.8 690.1L1259.3 696.6L1258.1 702.2L1258.9 706.4L1263.7 714.6L1268.5 719.5L1273.9 722.9L1280.0 725.2L1286.9 726.7L1294.6 727.5L1303.2 727.6L1312.8 727.3L1324.0 726.7L1340.6 726.1L1357.2 726.7L1368.4 727.3L1378.0 727.6L1386.6 727.5L1394.3 726.7L1401.2 725.2L1407.3 722.9L1412.7 719.5L1417.5 714.6Z" fill="#00adc2"/>
<path d="M1384.3 863.8L1385.2 868.0L1385.0 872.1L1383.6 875.6L1381.2 878.0L1378.2 879.1L1374.8 878.8L1371.5 877.0L1368.7 874.0L1366.7 870.2L1365.8 866.0L1366.0 861.9L1367.4 858.4L1369.8 856.0L1372.8 854.9L1376.2 855.2L1379.5 857.0L1382.3 860.0Z" fill="#00adc2"/>
<path d="M1371.8 870.7L1371.9 874.1L1371.6 877.2L1371.0 879.5L1370.0 880.7L1368.9 880.8L1367.7 879.7L1366.7 877.6L1365.9 874.7L1365.4 871.3L1365.3 867.9L1365.6 864.8L1366.2 862.5L1367.2 861.3L1368.3 861.2L1369.5 862.3L1370.5 864.4L1371.3 867.3Z" fill="#00adc2"/>
<path d="M1386.7 875.0L1386.5 876.9L1385.8 878.6L1384.8 879.8L1383.6 880.4L1382.4 880.4L1381.2 879.8L1380.2 878.6L1379.5 876.9L1379.3 875.0L1379.5 873.1L1380.2 871.4L1381.2 870.2L1382.4 869.6L1383.6 869.6L1384.8 870.2L1385.8 871.4L1386.5 873.1Z" fill="#00adc2"/>
<path d="M1316.1 852.3L1315.7 854.0L1315.1 855.5L1314.4 856.5L1313.7 857.0L1312.9 856.9L1312.3 856.2L1312.0 855.0L1311.8 853.5L1311.9 851.7L1312.3 850.0L1312.9 848.5L1313.6 847.5L1314.3 847.0L1315.1 847.1L1315.7 847.8L1316.0 849.0L1316.2 850.5Z" fill="#00adc2"/>
<path d="M1420.4 705.5L1421.1 701.4L1419.8 696.1L1416.3 690.0L1410.5 683.4L1402.4 676.7L1392.2 670.5L1380.2 665.2L1367.0 661.2L1353.3 658.8L1340.6 658.0L1327.9 658.8L1314.2 661.2L1301.0 665.2L1289.0 670.5L1278.8 676.7L1270.7 683.4L1264.9 690.0L1261.4 696.1L1260.1 701.4L1260.8 705.5L1265.3 713.2L1269.8 717.8L1275.0 721.1L1281.0 723.3L1287.7 724.7L1295.3 725.3L1303.7 725.5L1313.2 725.1L1324.3 724.5L1340.6 724.0L1356.9 724.5L1368.0 725.1L1377.5 725.5L1385.9 725.3L1393.5 724.7L1400.2 723.3L1406.2 721.1L1411.4 717.8L1415.9 713.2Z" fill="#00b8a3"/>
<path d="M1383.7 864.0L1384.6 867.9L1384.4 871.7L1383.1 875.0L1380.9 877.3L1378.0 878.3L1374.8 878.0L1371.8 876.3L1369.1 873.6L1367.3 870.0L1366.4 866.1L1366.6 862.3L1367.9 859.0L1370.1 856.7L1373.0 855.7L1376.2 856.0L1379.2 857.7L1381.9 860.4Z" fill="#00b8a3"/>
<path d="M1371.7 870.7L1371.8 874.0L1371.5 877.0L1370.9 879.2L1370.0 880.4L1368.9 880.5L1367.8 879.4L1366.8 877.4L1366.0 874.5L1365.5 871.3L1365.4 868.0L1365.7 865.0L1366.3 862.8L1367.2 861.6L1368.3 861.5L1369.4 862.6L1370.4 864.6L1371.2 867.5Z" fill="#00b8a3"/>
<path d="M1386.4 875.0L1386.2 876.8L1385.6 878.3L1384.7 879.5L1383.6 880.1L1382.4 880.1L1381.3 879.5L1380.4 878.3L1379.8 876.8L1379.6 875.0L1379.8 873.2L1380.4 871.7L1381.3 870.5L1382.4 869.9L1383.6 869.9L1384.7 870.5L1385.6 871.7L1386.2 873.2Z" fill="#00b8a3"/>
<path d="M1418.3 704.5L1418.9 700.5L1417.6 695.4L1414.1 689.5L1408.4 683.2L1400.5 676.8L1390.6 670.9L1379.0 665.8L1366.2 662.0L1352.9 659.7L1340.6 658.9L1328.3 659.7L1315.0 662.0L1302.2 665.8L1290.6 670.9L1280.7 676.8L1272.8 683.2L1267.1 689.5L1263.6 695.4L1262.3 700.5L1262.9 704.5L1267.1 711.9L1271.4 716.3L1276.4 719.4L1282.2 721.5L1288.8 722.9L1296.3 723.6L1304.5 723.7L1313.9 723.4L1324.7 722.9L1340.6 722.3L1356.5 722.9L1367.3 723.4L1376.7 723.7L1384.9 723.6L1392.4 722.9L1399.0 721.5L1404.8 719.4L1409.8 716.3L1414.1 711.9Z" fill="#00c285"/>
<path d="M1383.1 864.2L1383.9 867.9L1383.7 871.4L1382.5 874.4L1380.5 876.5L1377.8 877.5L1374.9 877.2L1372.0 875.7L1369.6 873.1L1367.9 869.8L1367.1 866.1L1367.3 862.6L1368.5 859.6L1370.5 857.5L1373.2 856.5L1376.1 856.8L1379.0 858.3L1381.4 860.9Z" fill="#00c285"/>
<path d="M1371.6 870.7L1371.7 873.9L1371.4 876.8L1370.8 878.9L1369.9 880.1L1368.9 880.2L1367.8 879.2L1366.8 877.2L1366.0 874.4L1365.6 871.3L1365.5 868.1L1365.8 865.2L1366.4 863.1L1367.3 861.9L1368.3 861.8L1369.4 862.8L1370.4 864.8L1371.2 867.6Z" fill="#00c285"/>
<path d="M1386.2 875.0L1386.0 876.7L1385.5 878.1L1384.6 879.2L1383.6 879.8L1382.4 879.8L1381.4 879.2L1380.5 878.1L1380.0 876.7L1379.8 875.0L1380.0 873.3L1380.5 871.9L1381.4 870.8L1382.4 870.2L1383.6 870.2L1384.6 870.8L1385.5 871.9L1386.0 873.3Z" fill="#00c285"/>
<path d="M1416.2 703.5L1416.7 699.7L1415.4 694.7L1412.0 689.1L1406.4 683.0L1398.7 676.9L1389.1 671.3L1377.8 666.5L1365.4 662.8L1352.6 660.6L1340.6 659.9L1328.6 660.6L1315.8 662.8L1303.4 666.5L1292.1 671.3L1282.5 676.9L1274.8 683.0L1269.2 689.1L1265.8 694.7L1264.5 699.7L1265.0 703.5L1268.9 710.5L1273.0 714.7L1277.9 717.8L1283.5 719.8L1290.0 721.1L1297.2 721.8L1305.4 721.9L1314.5 721.7L1325.2 721.2L1340.6 720.7L1356.0 721.2L1366.7 721.7L1375.8 721.9L1384.0 721.8L1391.2 721.1L1397.7 719.8L1403.3 717.8L1408.2 714.7L1412.3 710.5Z" fill="#05cd67"/>
<path d="M1382.6 864.4L1383.3 867.8L1383.1 871.1L1382.0 873.9L1380.1 875.8L1377.6 876.7L1374.9 876.4L1372.3 875.0L1370.0 872.6L1368.4 869.6L1367.7 866.2L1367.9 862.9L1369.0 860.1L1370.9 858.2L1373.4 857.3L1376.1 857.6L1378.7 859.0L1381.0 861.4Z" fill="#05cd67"/>
<path d="M1371.5 870.7L1371.6 873.8L1371.3 876.6L1370.7 878.6L1369.9 879.8L1368.9 879.9L1367.8 878.9L1366.9 877.0L1366.1 874.3L1365.7 871.3L1365.6 868.2L1365.9 865.4L1366.5 863.4L1367.3 862.2L1368.3 862.1L1369.4 863.1L1370.3 865.0L1371.1 867.7Z" fill="#05cd67"/>
<path d="M1386.0 875.0L1385.8 876.5L1385.3 877.9L1384.5 878.9L1383.5 879.4L1382.5 879.4L1381.5 878.9L1380.7 877.9L1380.2 876.5L1380.0 875.0L1380.2 873.5L1380.7 872.1L1381.5 871.1L1382.5 870.6L1383.5 870.6L1384.5 871.1L1385.3 872.1L1385.8 873.5Z" fill="#05cd67"/>
<path d="M1412.9 702.1L1413.4 698.5L1412.0 693.8L1408.7 688.4L1403.3 682.8L1395.9 677.1L1386.8 671.9L1376.0 667.4L1364.3 664.0L1352.0 662.0L1340.6 661.3L1329.2 662.0L1316.9 664.0L1305.2 667.4L1294.4 671.9L1285.3 677.1L1277.9 682.8L1272.5 688.4L1269.2 693.8L1267.8 698.5L1268.3 702.1L1271.7 708.6L1275.5 712.5L1280.1 715.3L1285.5 717.3L1291.7 718.5L1298.7 719.1L1306.6 719.3L1315.5 719.1L1325.8 718.6L1340.6 718.2L1355.4 718.6L1365.7 719.1L1374.6 719.3L1382.5 719.1L1389.5 718.5L1395.7 717.3L1401.1 715.3L1405.7 712.5L1409.5 708.6Z" fill="#24d36d"/>
<path d="M1381.7 864.7L1382.3 867.7L1382.2 870.6L1381.2 873.0L1379.5 874.7L1377.4 875.5L1375.0 875.3L1372.7 874.0L1370.7 871.9L1369.3 869.3L1368.7 866.3L1368.8 863.4L1369.8 861.0L1371.5 859.3L1373.6 858.5L1376.0 858.7L1378.3 860.0L1380.3 862.1Z" fill="#24d36d"/>
<path d="M1371.4 870.8L1371.5 873.7L1371.2 876.3L1370.6 878.3L1369.8 879.4L1368.9 879.4L1367.9 878.5L1367.0 876.7L1366.2 874.1L1365.8 871.2L1365.7 868.3L1366.0 865.7L1366.6 863.7L1367.4 862.6L1368.3 862.6L1369.3 863.5L1370.2 865.3L1371.0 867.9Z" fill="#24d36d"/>
<path d="M1385.7 875.0L1385.5 876.4L1385.0 877.6L1384.3 878.5L1383.5 878.9L1382.5 878.9L1381.7 878.5L1381.0 877.6L1380.5 876.4L1380.3 875.0L1380.5 873.6L1381.0 872.4L1381.7 871.5L1382.5 871.1L1383.5 871.1L1384.3 871.5L1385.0 872.4L1385.5 873.6Z" fill="#24d36d"/>
<path d="M1409.7 700.8L1410.0 697.3L1408.7 692.9L1405.4 687.9L1400.2 682.6L1393.2 677.4L1384.4 672.5L1374.3 668.4L1363.1 665.3L1351.5 663.4L1340.6 662.8L1329.7 663.4L1318.1 665.3L1306.9 668.4L1296.8 672.5L1288.0 677.4L1281.0 682.6L1275.8 687.9L1272.5 692.9L1271.2 697.3L1271.5 700.8L1274.6 706.7L1278.1 710.3L1282.4 712.9L1287.6 714.8L1293.5 715.9L1300.3 716.5L1307.9 716.7L1316.5 716.5L1326.5 716.1L1340.6 715.8L1354.7 716.1L1364.7 716.5L1373.3 716.7L1380.9 716.5L1387.7 715.9L1393.6 714.8L1398.8 712.9L1403.1 710.3L1406.6 706.7Z" fill="#42d973"/>
<path d="M1380.8 865.1L1381.4 867.6L1381.2 870.1L1380.4 872.1L1378.9 873.6L1377.1 874.3L1375.1 874.1L1373.1 873.0L1371.4 871.2L1370.2 868.9L1369.6 866.4L1369.8 863.9L1370.6 861.9L1372.1 860.4L1373.9 859.7L1375.9 859.9L1377.9 861.0L1379.6 862.8Z" fill="#42d973"/>
<path d="M1371.2 870.8L1371.3 873.6L1371.1 876.1L1370.5 877.9L1369.8 879.0L1368.8 879.0L1367.9 878.2L1367.0 876.4L1366.4 874.0L1366.0 871.2L1365.9 868.4L1366.1 865.9L1366.7 864.1L1367.4 863.0L1368.4 863.0L1369.3 863.8L1370.2 865.6L1370.8 868.0Z" fill="#42d973"/>
<path d="M1385.3 875.0L1385.2 876.2L1384.8 877.2L1384.2 878.0L1383.4 878.4L1382.6 878.4L1381.8 878.0L1381.2 877.2L1380.8 876.2L1380.7 875.0L1380.8 873.8L1381.2 872.8L1381.8 872.0L1382.6 871.6L1383.4 871.6L1384.2 872.0L1384.8 872.8L1385.2 873.8Z" fill="#42d973"/>
<path d="M1406.4 699.5L1406.7 696.2L1405.3 692.0L1402.1 687.4L1397.2 682.5L1390.5 677.6L1382.1 673.2L1372.5 669.4L1361.9 666.5L1350.9 664.7L1340.6 664.2L1330.3 664.7L1319.3 666.5L1308.7 669.4L1299.1 673.2L1290.7 677.6L1284.0 682.5L1279.1 687.4L1275.9 692.0L1274.5 696.2L1274.8 699.5L1277.5 704.9L1280.7 708.2L1284.8 710.6L1289.7 712.3L1295.4 713.4L1301.9 713.9L1309.3 714.1L1317.6 713.9L1327.2 713.6L1340.6 713.3L1354.0 713.6L1363.6 713.9L1371.9 714.1L1379.3 713.9L1385.8 713.4L1391.5 712.3L1396.4 710.6L1400.5 708.2L1403.7 704.9Z" fill="#61df79"/>
<path d="M1379.8 865.4L1380.3 867.5L1380.2 869.5L1379.5 871.2L1378.3 872.4L1376.8 873.0L1375.2 872.8L1373.5 871.9L1372.2 870.5L1371.2 868.6L1370.7 866.5L1370.8 864.5L1371.5 862.8L1372.7 861.6L1374.2 861.0L1375.8 861.2L1377.5 862.1L1378.8 863.5Z" fill="#61df79"/>
<path d="M1371.1 870.8L1371.2 873.4L1371.0 875.8L1370.4 877.6L1369.7 878.6L1368.8 878.7L1367.9 877.8L1367.1 876.2L1366.5 873.9L1366.1 871.2L1366.0 868.6L1366.2 866.2L1366.8 864.4L1367.5 863.4L1368.4 863.3L1369.3 864.2L1370.1 865.8L1370.7 868.1Z" fill="#61df79"/>
<path d="M1385.0 875.0L1384.8 876.0L1384.5 876.9L1384.0 877.6L1383.3 877.9L1382.7 877.9L1382.0 877.6L1381.5 876.9L1381.2 876.0L1381.0 875.0L1381.2 874.0L1381.5 873.1L1382.0 872.4L1382.7 872.1L1383.3 872.1L1384.0 872.4L1384.5 873.1L1384.8 874.0Z" fill="#61df79"/>
<path d="M1403.1 698.3L1403.3 695.2L1401.9 691.3L1398.9 686.9L1394.1 682.4L1387.7 678.0L1379.8 673.8L1370.7 670.4L1360.8 667.7L1350.4 666.1L1340.6 665.6L1330.8 666.1L1320.4 667.7L1310.5 670.4L1301.4 673.8L1293.5 678.0L1287.1 682.4L1282.3 686.9L1279.3 691.3L1277.9 695.2L1278.1 698.3L1280.5 703.1L1283.4 706.1L1287.2 708.3L1291.9 709.8L1297.3 710.8L1303.6 711.3L1310.7 711.5L1318.7 711.4L1327.9 711.1L1340.6 710.8L1353.3 711.1L1362.5 711.4L1370.5 711.5L1377.6 711.3L1383.9 710.8L1389.3 709.8L1394.0 708.3L1397.8 706.1L1400.7 703.1Z" fill="#80e680"/>
<path d="M1378.7 865.8L1379.0 867.4L1379.0 868.9L1378.4 870.1L1377.6 871.0L1376.5 871.4L1375.2 871.3L1374.0 870.6L1373.0 869.6L1372.3 868.2L1372.0 866.6L1372.0 865.1L1372.6 863.9L1373.4 863.0L1374.5 862.6L1375.8 862.7L1377.0 863.4L1378.0 864.4Z" fill="#80e680"/>
<path d="M1371.0 870.8L1371.1 873.3L1370.9 875.6L1370.4 877.3L1369.7 878.2L1368.8 878.3L1368.0 877.5L1367.2 875.9L1366.6 873.7L1366.2 871.2L1366.1 868.7L1366.3 866.4L1366.8 864.7L1367.5 863.8L1368.4 863.7L1369.2 864.5L1370.0 866.1L1370.6 868.3Z" fill="#80e680"/>
<path d="M1384.6 875.0L1384.5 875.8L1384.2 876.5L1383.8 877.0L1383.3 877.3L1382.7 877.3L1382.2 877.0L1381.8 876.5L1381.5 875.8L1381.4 875.0L1381.5 874.2L1381.8 873.5L1382.2 873.0L1382.7 872.7L1383.3 872.7L1383.8 873.0L1384.2 873.5L1384.5 874.2Z" fill="#80e680"/>
<path d="M1399.7 697.1L1399.9 694.2L1398.5 690.6L1395.6 686.6L1391.0 682.4L1385.0 678.3L1377.6 674.6L1369.0 671.4L1359.6 669.0L1349.8 667.5L1340.6 667.0L1331.4 667.5L1321.6 669.0L1312.2 671.4L1303.6 674.6L1296.2 678.3L1290.2 682.4L1285.6 686.6L1282.7 690.6L1281.3 694.2L1281.5 697.1L1283.5 701.4L1286.2 704.1L1289.7 706.1L1294.1 707.5L1299.3 708.3L1305.3 708.8L1312.1 708.9L1319.8 708.8L1328.6 708.6L1340.6 708.3L1352.6 708.6L1361.4 708.8L1369.1 708.9L1375.9 708.8L1381.9 708.3L1387.1 707.5L1391.5 706.1L1395.0 704.1L1397.7 701.4Z" fill="#9eec86"/>
<path d="M1377.1 866.4L1377.2 867.2L1377.2 867.9L1376.9 868.5L1376.5 869.0L1376.0 869.2L1375.4 869.1L1374.8 868.8L1374.3 868.3L1373.9 867.6L1373.8 866.8L1373.8 866.1L1374.1 865.5L1374.5 865.0L1375.0 864.8L1375.6 864.9L1376.2 865.2L1376.7 865.7Z" fill="#9eec86"/>
<path d="M1370.9 870.8L1371.0 873.2L1370.7 875.4L1370.3 877.0L1369.6 877.9L1368.8 878.0L1368.0 877.2L1367.2 875.7L1366.7 873.6L1366.3 871.2L1366.2 868.8L1366.5 866.6L1366.9 865.0L1367.6 864.1L1368.4 864.0L1369.2 864.8L1370.0 866.3L1370.5 868.4Z" fill="#9eec86"/>
<path d="M1384.1 875.0L1384.0 875.6L1383.8 876.0L1383.5 876.4L1383.2 876.6L1382.8 876.6L1382.5 876.4L1382.2 876.0L1382.0 875.6L1381.9 875.0L1382.0 874.4L1382.2 874.0L1382.5 873.6L1382.8 873.4L1383.2 873.4L1383.5 873.6L1383.8 874.0L1384.0 874.4Z" fill="#9eec86"/>
<path d="M1397.5 696.4L1397.6 693.6L1396.2 690.2L1393.4 686.4L1389.0 682.5L1383.2 678.7L1376.0 675.1L1367.8 672.2L1358.8 669.9L1349.5 668.5L1340.6 668.1L1331.7 668.5L1322.4 669.9L1313.4 672.2L1305.2 675.1L1298.0 678.7L1292.2 682.5L1287.8 686.4L1285.0 690.2L1283.6 693.6L1283.7 696.4L1285.6 700.3L1288.1 702.8L1291.5 704.6L1295.7 705.9L1300.7 706.7L1306.5 707.2L1313.1 707.3L1320.6 707.2L1329.1 707.0L1340.6 706.8L1352.1 707.0L1360.6 707.2L1368.1 707.3L1374.7 707.2L1380.5 706.7L1385.5 705.9L1389.7 704.6L1393.1 702.8L1395.6 700.3Z" fill="#bdf28c"/>
<path d="M1370.8 870.8L1370.8 873.1L1370.6 875.2L1370.2 876.7L1369.6 877.6L1368.8 877.6L1368.0 876.9L1367.3 875.4L1366.8 873.5L1366.4 871.2L1366.4 868.9L1366.6 866.8L1367.0 865.3L1367.6 864.4L1368.4 864.4L1369.2 865.1L1369.9 866.6L1370.4 868.5Z" fill="#bdf28c"/>
<path d="M1395.8 695.8L1395.8 693.1L1394.5 689.9L1391.7 686.3L1387.4 682.6L1381.8 679.0L1374.9 675.7L1366.9 672.8L1358.3 670.7L1349.2 669.4L1340.6 669.0L1332.0 669.4L1322.9 670.7L1314.3 672.8L1306.3 675.7L1299.4 679.0L1293.8 682.6L1289.5 686.3L1286.7 689.9L1285.4 693.1L1285.4 695.8L1287.1 699.5L1289.6 701.8L1292.9 703.6L1297.0 704.8L1301.9 705.6L1307.5 706.0L1314.0 706.1L1321.3 706.0L1329.5 705.8L1340.6 705.6L1351.7 705.8L1359.9 706.0L1367.2 706.1L1373.7 706.0L1379.3 705.6L1384.2 704.8L1388.3 703.6L1391.6 701.8L1394.1 699.5Z" fill="#dbf892"/>
<path d="M1370.7 870.8L1370.7 873.0L1370.5 874.9L1370.1 876.4L1369.5 877.2L1368.8 877.3L1368.0 876.6L1367.4 875.2L1366.8 873.3L1366.5 871.2L1366.5 869.0L1366.7 867.1L1367.1 865.6L1367.7 864.8L1368.4 864.7L1369.2 865.4L1369.8 866.8L1370.4 868.7Z" fill="#dbf892"/>
<path d="M1394.0 695.3L1394.1 692.7L1392.7 689.6L1390.0 686.2L1385.9 682.7L1380.4 679.3L1373.7 676.2L1366.1 673.5L1357.7 671.5L1349.0 670.3L1340.6 669.9L1332.2 670.3L1323.5 671.5L1315.1 673.5L1307.5 676.2L1300.8 679.3L1295.3 682.7L1291.2 686.2L1288.5 689.6L1287.1 692.7L1287.2 695.3L1288.7 698.7L1291.1 700.9L1294.2 702.5L1298.2 703.7L1303.0 704.4L1308.6 704.8L1314.9 704.9L1321.9 704.9L1330.0 704.7L1340.6 704.5L1351.2 704.7L1359.3 704.9L1366.3 704.9L1372.6 704.8L1378.2 704.4L1383.0 703.7L1387.0 702.5L1390.1 700.9L1392.5 698.7Z" fill="#ffff99"/>
<path d="M1370.6 870.8L1370.6 872.9L1370.4 874.7L1370.0 876.1L1369.5 876.9L1368.8 877.0L1368.1 876.3L1367.4 875.0L1366.9 873.2L1366.6 871.2L1366.6 869.1L1366.8 867.3L1367.2 865.9L1367.7 865.1L1368.4 865.0L1369.1 865.7L1369.8 867.0L1370.3 868.8Z" fill="#ffff99"/>
<path d="M1392.2 694.8L1392.2 692.3L1390.8 689.4L1388.2 686.2L1384.2 682.9L1378.9 679.7L1372.5 676.7L1365.1 674.3L1357.1 672.4L1348.7 671.2L1340.6 670.9L1332.5 671.2L1324.1 672.4L1316.1 674.3L1308.7 676.7L1302.3 679.7L1297.0 682.9L1293.0 686.2L1290.4 689.4L1289.0 692.3L1289.0 694.8L1290.5 697.9L1292.7 699.9L1295.8 701.5L1299.6 702.5L1304.3 703.2L1309.7 703.6L1315.8 703.8L1322.7 703.7L1330.5 703.6L1340.6 703.5L1350.7 703.6L1358.5 703.7L1365.4 703.8L1371.5 703.6L1376.9 703.2L1381.6 702.5L1385.4 701.5L1388.5 699.9L1390.7 697.9Z" fill="#ebe58e"/>
<path d="M1370.4 870.8L1370.5 872.8L1370.3 874.5L1369.9 875.8L1369.4 876.5L1368.8 876.5L1368.1 875.9L1367.5 874.7L1367.1 873.1L1366.8 871.2L1366.7 869.2L1366.9 867.5L1367.3 866.2L1367.8 865.5L1368.4 865.5L1369.1 866.1L1369.7 867.3L1370.1 868.9Z" fill="#ebe58e"/>
<path d="M1390.7 694.4L1390.7 692.0L1389.4 689.2L1386.8 686.1L1382.9 683.0L1377.8 680.0L1371.6 677.2L1364.4 674.8L1356.6 673.0L1348.5 671.9L1340.6 671.6L1332.7 671.9L1324.6 673.0L1316.8 674.8L1309.6 677.2L1303.4 680.0L1298.3 683.0L1294.4 686.1L1291.8 689.2L1290.5 692.0L1290.5 694.4L1291.9 697.3L1294.0 699.2L1297.0 700.7L1300.8 701.8L1305.4 702.5L1310.7 702.8L1316.7 703.0L1323.4 703.0L1331.0 702.9L1340.6 702.8L1350.2 702.9L1357.8 703.0L1364.5 703.0L1370.5 702.8L1375.8 702.5L1380.4 701.8L1384.2 700.7L1387.2 699.2L1389.3 697.3Z" fill="#d6cb83"/>
<path d="M1370.3 870.9L1370.3 872.6L1370.2 874.2L1369.8 875.4L1369.3 876.0L1368.8 876.1L1368.2 875.5L1367.6 874.4L1367.2 872.9L1366.9 871.1L1366.9 869.4L1367.0 867.8L1367.4 866.6L1367.9 866.0L1368.4 865.9L1369.0 866.5L1369.6 867.6L1370.0 869.1Z" fill="#d6cb83"/>
<path d="M1389.2 694.0L1389.2 691.7L1387.9 689.0L1385.4 686.1L1381.6 683.1L1376.6 680.2L1370.6 677.6L1363.7 675.4L1356.2 673.7L1348.3 672.6L1340.6 672.3L1332.9 672.6L1325.0 673.7L1317.5 675.4L1310.6 677.6L1304.6 680.2L1299.6 683.1L1295.8 686.1L1293.3 689.0L1292.0 691.7L1292.0 694.0L1293.2 696.7L1295.3 698.6L1298.2 700.0L1302.0 701.0L1306.4 701.7L1311.6 702.1L1317.5 702.2L1324.1 702.3L1331.4 702.2L1340.6 702.1L1349.8 702.2L1357.1 702.3L1363.7 702.2L1369.6 702.1L1374.8 701.7L1379.2 701.0L1383.0 700.0L1385.9 698.6L1388.0 696.7Z" fill="#c2b178"/>
<path d="M1370.1 870.9L1370.2 872.5L1370.0 873.9L1369.7 875.0L1369.3 875.6L1368.7 875.7L1368.2 875.1L1367.7 874.1L1367.3 872.7L1367.1 871.1L1367.0 869.5L1367.2 868.1L1367.5 867.0L1367.9 866.4L1368.5 866.3L1369.0 866.9L1369.5 867.9L1369.9 869.3Z" fill="#c2b178"/>
<path d="M1387.8 693.6L1387.7 691.4L1386.4 688.8L1384.0 686.1L1380.3 683.2L1375.5 680.5L1369.7 678.0L1363.0 675.9L1355.7 674.3L1348.1 673.3L1340.6 673.0L1333.1 673.3L1325.5 674.3L1318.2 675.9L1311.5 678.0L1305.7 680.5L1300.9 683.2L1297.2 686.1L1294.8 688.8L1293.5 691.4L1293.4 693.6L1294.6 696.1L1296.6 697.9L1299.5 699.2L1303.1 700.2L1307.5 700.9L1312.6 701.3L1318.4 701.5L1324.8 701.5L1331.9 701.5L1340.6 701.4L1349.3 701.5L1356.4 701.5L1362.8 701.5L1368.6 701.3L1373.7 700.9L1378.1 700.2L1381.7 699.2L1384.6 697.9L1386.6 696.1Z" fill="#ae976d"/>
<path d="M1370.0 870.9L1370.0 872.3L1369.9 873.6L1369.6 874.6L1369.2 875.2L1368.7 875.2L1368.2 874.7L1367.8 873.8L1367.4 872.6L1367.2 871.1L1367.2 869.7L1367.3 868.4L1367.6 867.4L1368.0 866.8L1368.5 866.8L1369.0 867.3L1369.4 868.2L1369.8 869.4Z" fill="#ae976d"/>
<path d="M1386.3 693.2L1386.2 691.1L1385.0 688.7L1382.6 686.0L1379.0 683.4L1374.4 680.8L1368.7 678.5L1362.3 676.5L1355.3 675.0L1347.9 674.0L1340.6 673.7L1333.3 674.0L1325.9 675.0L1318.9 676.5L1312.5 678.5L1306.8 680.8L1302.2 683.4L1298.6 686.0L1296.2 688.7L1295.0 691.1L1294.9 693.2L1296.0 695.5L1298.0 697.2L1300.7 698.5L1304.3 699.5L1308.6 700.1L1313.6 700.5L1319.2 700.7L1325.4 700.8L1332.3 700.8L1340.6 700.7L1348.9 700.8L1355.8 700.8L1362.0 700.7L1367.6 700.5L1372.6 700.1L1376.9 699.5L1380.5 698.5L1383.2 697.2L1385.2 695.5Z" fill="#997d62"/>
<path d="M1369.8 870.9L1369.9 872.2L1369.7 873.3L1369.5 874.2L1369.1 874.7L1368.7 874.7L1368.3 874.3L1367.9 873.5L1367.6 872.4L1367.4 871.1L1367.3 869.8L1367.5 868.7L1367.7 867.8L1368.1 867.3L1368.5 867.3L1368.9 867.7L1369.3 868.5L1369.6 869.6Z" fill="#997d62"/>
<path d="M1384.8 692.8L1384.7 690.8L1383.5 688.5L1381.2 686.0L1377.7 683.5L1373.2 681.1L1367.8 678.9L1361.6 677.0L1354.8 675.6L1347.7 674.8L1340.6 674.5L1333.5 674.8L1326.4 675.6L1319.6 677.0L1313.4 678.9L1308.0 681.1L1303.5 683.5L1300.0 686.0L1297.7 688.5L1296.5 690.8L1296.4 692.8L1297.4 695.0L1299.3 696.6L1302.0 697.8L1305.5 698.7L1309.7 699.4L1314.6 699.8L1320.0 700.0L1326.1 700.1L1332.7 700.1L1340.6 700.0L1348.5 700.1L1355.1 700.1L1361.2 700.0L1366.6 699.8L1371.5 699.4L1375.7 698.7L1379.2 697.8L1381.9 696.6L1383.8 695.0Z" fill="#856357"/>
<path d="M1369.7 870.9L1369.7 872.0L1369.6 873.0L1369.4 873.8L1369.1 874.2L1368.7 874.2L1368.3 873.9L1368.0 873.2L1367.7 872.2L1367.5 871.1L1367.5 870.0L1367.6 869.0L1367.8 868.2L1368.1 867.8L1368.5 867.8L1368.9 868.1L1369.2 868.8L1369.5 869.8Z" fill="#856357"/>
<path d="M1383.4 692.5L1383.3 690.6L1382.1 688.4L1379.9 686.1L1376.5 683.7L1372.2 681.5L1366.9 679.4L1360.9 677.7L1354.4 676.3L1347.5 675.5L1340.6 675.2L1333.7 675.5L1326.8 676.3L1320.3 677.7L1314.3 679.4L1309.0 681.5L1304.7 683.7L1301.3 686.1L1299.1 688.4L1297.9 690.6L1297.8 692.5L1298.7 694.5L1300.5 696.0L1303.2 697.2L1306.6 698.0L1310.7 698.6L1315.5 699.0L1320.8 699.2L1326.7 699.3L1333.1 699.3L1340.6 699.3L1348.1 699.3L1354.5 699.3L1360.4 699.2L1365.7 699.0L1370.5 698.6L1374.6 698.0L1378.0 697.2L1380.7 696.0L1382.5 694.5Z" fill="#8f7069"/>
<path d="M1369.5 870.9L1369.5 871.8L1369.4 872.7L1369.2 873.3L1369.0 873.6L1368.7 873.6L1368.4 873.3L1368.1 872.8L1367.9 872.0L1367.7 871.1L1367.7 870.2L1367.8 869.3L1368.0 868.7L1368.2 868.4L1368.5 868.4L1368.8 868.7L1369.1 869.2L1369.3 870.0Z" fill="#8f7069"/>
<path d="M1382.4 692.2L1382.2 690.5L1381.0 688.4L1378.8 686.3L1375.5 684.1L1371.3 682.0L1366.2 680.1L1360.4 678.4L1354.0 677.2L1347.3 676.4L1340.6 676.2L1333.9 676.4L1327.2 677.2L1320.8 678.4L1315.0 680.1L1309.9 682.0L1305.7 684.1L1302.4 686.3L1300.2 688.4L1299.0 690.5L1298.8 692.2L1299.7 694.0L1301.5 695.4L1304.1 696.5L1307.4 697.3L1311.5 697.8L1316.2 698.2L1321.4 698.4L1327.2 698.5L1333.5 698.5L1340.6 698.4L1347.7 698.5L1354.0 698.5L1359.8 698.4L1365.0 698.2L1369.7 697.8L1373.8 697.3L1377.1 696.5L1379.7 695.4L1381.5 694.0Z" fill="#a48a84"/>
<path d="M1369.2 870.9L1369.3 871.6L1369.2 872.2L1369.1 872.7L1368.9 872.9L1368.7 872.9L1368.4 872.7L1368.2 872.3L1368.1 871.7L1368.0 871.1L1367.9 870.4L1368.0 869.8L1368.1 869.3L1368.3 869.1L1368.5 869.1L1368.8 869.3L1369.0 869.7L1369.1 870.3Z" fill="#a48a84"/>
<path d="M1381.3 692.0L1381.1 690.3L1380.0 688.5L1377.8 686.5L1374.6 684.5L1370.5 682.5L1365.5 680.7L1359.9 679.2L1353.7 678.1L1347.2 677.4L1340.6 677.1L1334.0 677.4L1327.5 678.1L1321.3 679.2L1315.7 680.7L1310.7 682.5L1306.6 684.5L1303.4 686.5L1301.2 688.5L1300.1 690.3L1299.9 692.0L1300.8 693.6L1302.5 694.9L1305.0 695.8L1308.3 696.6L1312.3 697.1L1316.9 697.4L1322.1 697.5L1327.7 697.6L1333.8 697.6L1340.6 697.6L1347.4 697.6L1353.5 697.6L1359.1 697.5L1364.3 697.4L1368.9 697.1L1372.9 696.6L1376.2 695.8L1378.7 694.9L1380.4 693.6Z" fill="#b8a49f"/>
<path d="M1368.9 871.0L1368.9 871.3L1368.9 871.5L1368.8 871.7L1368.7 871.8L1368.6 871.9L1368.5 871.8L1368.4 871.6L1368.4 871.3L1368.3 871.0L1368.3 870.7L1368.3 870.5L1368.4 870.3L1368.5 870.2L1368.6 870.1L1368.7 870.2L1368.8 870.4L1368.8 870.7Z" fill="#b8a49f"/>
<path d="M1380.2 691.8L1380.0 690.2L1378.9 688.5L1376.7 686.7L1373.6 684.8L1369.6 683.0L1364.8 681.4L1359.3 680.0L1353.3 678.9L1347.0 678.3L1340.6 678.1L1334.2 678.3L1327.9 678.9L1321.9 680.0L1316.4 681.4L1311.6 683.0L1307.6 684.8L1304.5 686.7L1302.3 688.5L1301.2 690.2L1301.0 691.8L1301.8 693.2L1303.4 694.3L1305.9 695.2L1309.1 695.8L1313.1 696.3L1317.6 696.6L1322.7 696.7L1328.2 696.8L1334.1 696.8L1340.6 696.8L1347.1 696.8L1353.0 696.8L1358.5 696.7L1363.6 696.6L1368.1 696.3L1372.1 695.8L1375.3 695.2L1377.8 694.3L1379.4 693.2Z" fill="#ccbebb"/>
<path d="M1379.1 691.5L1378.9 690.1L1377.8 688.6L1375.7 686.9L1372.6 685.2L1368.8 683.6L1364.1 682.1L1358.8 680.8L1353.0 679.8L1346.9 679.2L1340.6 679.0L1334.3 679.2L1328.2 679.8L1322.4 680.8L1317.1 682.1L1312.4 683.6L1308.6 685.2L1305.5 686.9L1303.4 688.6L1302.3 690.1L1302.1 691.5L1302.8 692.8L1304.4 693.8L1306.8 694.6L1310.0 695.1L1313.8 695.5L1318.3 695.8L1323.3 695.9L1328.7 695.9L1334.5 695.9L1340.6 695.9L1346.7 695.9L1352.5 695.9L1357.9 695.9L1362.9 695.8L1367.4 695.5L1371.2 695.1L1374.4 694.6L1376.8 693.8L1378.4 692.8Z" fill="#e1d8d6"/>
<path d="M1377.0 691.1L1376.7 689.9L1375.6 688.5L1373.6 687.1L1370.7 685.6L1367.1 684.2L1362.7 682.9L1357.7 681.8L1352.3 680.9L1346.5 680.4L1340.6 680.2L1334.7 680.4L1328.9 680.9L1323.5 681.8L1318.5 682.9L1314.1 684.2L1310.5 685.6L1307.6 687.1L1305.6 688.5L1304.5 689.9L1304.2 691.1L1304.9 692.1L1306.4 693.0L1308.7 693.7L1311.7 694.1L1315.4 694.4L1319.6 694.6L1324.4 694.7L1329.5 694.8L1334.9 694.8L1340.6 694.8L1346.3 694.8L1351.7 694.8L1356.8 694.7L1361.6 694.6L1365.8 694.4L1369.5 694.1L1372.5 693.7L1374.8 693.0L1376.3 692.1Z" fill="#f4f0f0"/>
<path d="M1372.1 690.2L1371.9 689.3L1370.9 688.3L1369.1 687.2L1366.6 686.1L1363.4 685.0L1359.6 684.0L1355.3 683.2L1350.7 682.6L1345.7 682.2L1340.6 682.0L1335.5 682.2L1330.5 682.6L1325.9 683.2L1321.6 684.0L1317.8 685.0L1314.6 686.1L1312.1 687.2L1310.3 688.3L1309.3 689.3L1309.1 690.2L1309.6 691.0L1310.9 691.6L1312.8 692.1L1315.5 692.4L1318.7 692.7L1322.4 692.8L1326.6 692.9L1331.1 692.9L1335.8 693.0L1340.6 693.0L1345.4 693.0L1350.1 692.9L1354.6 692.9L1358.8 692.8L1362.5 692.7L1365.7 692.4L1368.4 692.1L1370.3 691.6L1371.6 691.0Z" fill="#ffffff"/>
<circle cx="1340.4" cy="874.5" r="19.5" fill="#333399" opacity="0.92"/>
<rect x="1560.2" y="860.5" width="1.8" height="6" fill="#a8c4ee"/>
<rect x="1507.3" y="864" width="1.4" height="4" fill="#5566bb"/>
<path d="M1338.7 855.5L1338.7 842.2L1339.0 834.1L1339.6 828.2L1340.6 826.0L1341.5 828.2L1342.2 834.1L1342.5 842.2L1342.5 855.5Z" fill="#2e3da3"/>
<path d="M1338.7 855.5L1338.7 842.4L1339.0 834.4L1339.7 828.6L1340.6 826.4L1341.5 828.6L1342.2 834.4L1342.5 842.4L1342.5 855.5Z" fill="#2a44aa"/>
<path d="M1338.7 855.5L1338.7 842.6L1339.0 834.7L1339.7 829.0L1340.6 826.9L1341.5 829.0L1342.2 834.7L1342.5 842.6L1342.5 855.5Z" fill="#274bb1"/>
<path d="M1338.7 855.5L1338.7 842.8L1339.0 835.0L1339.7 829.4L1340.6 827.3L1341.5 829.4L1342.2 835.0L1342.5 842.8L1342.5 855.5Z" fill="#2452b8"/>
<path d="M1338.8 855.5L1338.8 843.0L1339.0 835.4L1339.7 829.8L1340.6 827.7L1341.5 829.8L1342.2 835.4L1342.4 843.0L1342.4 855.5Z" fill="#2058be"/>
<path d="M1338.8 855.5L1338.8 843.2L1339.0 835.7L1339.7 830.2L1340.6 828.1L1341.5 830.2L1342.2 835.7L1342.4 843.2L1342.4 855.5Z" fill="#1d5fc5"/>
<path d="M1338.8 855.5L1338.8 843.4L1339.0 836.0L1339.7 830.6L1340.6 828.6L1341.5 830.6L1342.2 836.0L1342.4 843.4L1342.4 855.5Z" fill="#1966cc"/>
<path d="M1338.8 855.5L1338.8 843.6L1339.0 836.3L1339.7 831.0L1340.6 829.0L1341.5 831.0L1342.2 836.3L1342.4 843.6L1342.4 855.5Z" fill="#166dd3"/>
<path d="M1338.8 855.5L1338.8 843.8L1339.1 836.6L1339.7 831.3L1340.6 829.4L1341.5 831.3L1342.1 836.6L1342.4 843.8L1342.4 855.5Z" fill="#1374da"/>
<path d="M1338.8 855.5L1338.8 844.0L1339.1 836.9L1339.7 831.7L1340.6 829.9L1341.5 831.7L1342.1 836.9L1342.4 844.0L1342.4 855.5Z" fill="#0f7ae0"/>
<path d="M1338.8 855.5L1338.8 844.2L1339.1 837.2L1339.7 832.1L1340.6 830.3L1341.5 832.1L1342.1 837.2L1342.4 844.2L1342.4 855.5Z" fill="#0c81e7"/>
<path d="M1338.9 855.5L1338.9 844.3L1339.1 837.5L1339.7 832.5L1340.6 830.7L1341.5 832.5L1342.1 837.5L1342.3 844.3L1342.3 855.5Z" fill="#0888ee"/>
<path d="M1338.9 855.5L1338.9 844.5L1339.1 837.8L1339.7 832.9L1340.6 831.1L1341.5 832.9L1342.1 837.8L1342.3 844.5L1342.3 855.5Z" fill="#058ff5"/>
<path d="M1338.9 855.5L1338.9 844.7L1339.1 838.2L1339.7 833.3L1340.6 831.6L1341.5 833.3L1342.1 838.2L1342.3 844.7L1342.3 855.5Z" fill="#0099ff"/>
<path d="M1338.9 855.5L1338.9 845.1L1339.1 838.8L1339.8 834.2L1340.6 832.5L1341.4 834.2L1342.1 838.8L1342.3 845.1L1342.3 855.5Z" fill="#00a3e0"/>
<path d="M1338.9 855.5L1338.9 845.6L1339.2 839.6L1339.8 835.1L1340.6 833.5L1341.4 835.1L1342.0 839.6L1342.3 845.6L1342.3 855.5Z" fill="#00adc2"/>
<path d="M1338.9 855.5L1338.9 846.0L1339.2 840.3L1339.8 836.0L1340.6 834.5L1341.4 836.0L1342.0 840.3L1342.2 846.0L1342.2 855.5Z" fill="#00b8a3"/>
<path d="M1339.0 855.5L1339.0 846.5L1339.2 841.0L1339.8 837.0L1340.6 835.5L1341.4 837.0L1342.0 841.0L1342.2 846.5L1342.2 855.5Z" fill="#00c285"/>
<path d="M1339.0 855.5L1339.0 847.0L1339.2 841.7L1339.8 837.9L1340.6 836.5L1341.4 837.9L1342.0 841.7L1342.2 847.0L1342.2 855.5Z" fill="#05cd67"/>
<path d="M1339.0 855.5L1339.0 847.4L1339.2 842.5L1339.8 838.9L1340.6 837.6L1341.4 838.9L1342.0 842.5L1342.2 847.4L1342.2 855.5Z" fill="#24d36d"/>
<path d="M1339.0 855.5L1339.0 847.8L1339.2 843.1L1339.8 839.7L1340.6 838.4L1341.4 839.7L1342.0 843.1L1342.2 847.8L1342.2 855.5Z" fill="#42d973"/>
<path d="M1339.0 855.5L1339.0 848.2L1339.2 843.7L1339.8 840.4L1340.6 839.2L1341.4 840.4L1342.0 843.7L1342.2 848.2L1342.2 855.5Z" fill="#61df79"/>
<path d="M1339.0 855.5L1339.0 848.6L1339.3 844.3L1339.8 841.2L1340.6 840.1L1341.4 841.2L1341.9 844.3L1342.2 848.6L1342.2 855.5Z" fill="#80e680"/>
<path d="M1339.1 855.5L1339.1 848.9L1339.3 844.9L1339.8 842.0L1340.6 840.9L1341.4 842.0L1341.9 844.9L1342.1 848.9L1342.1 855.5Z" fill="#9eec86"/>
<path d="M1339.1 855.5L1339.1 849.3L1339.3 845.5L1339.8 842.8L1340.6 841.8L1341.4 842.8L1341.9 845.5L1342.1 849.3L1342.1 855.5Z" fill="#bdf28c"/>
<path d="M1339.1 855.5L1339.1 849.7L1339.3 846.1L1339.8 843.6L1340.6 842.6L1341.4 843.6L1341.9 846.1L1342.1 849.7L1342.1 855.5Z" fill="#dbf892"/>
<path d="M1339.1 855.5L1339.1 850.1L1339.3 846.8L1339.8 844.3L1340.6 843.4L1341.4 844.3L1341.9 846.8L1342.1 850.1L1342.1 855.5Z" fill="#ffff99"/>
<path d="M1339.1 855.5L1339.1 850.5L1339.3 847.5L1339.9 845.3L1340.6 844.5L1341.3 845.3L1341.9 847.5L1342.1 850.5L1342.1 855.5Z" fill="#ebe58e"/>
<path d="M1339.1 855.5L1339.1 851.0L1339.3 848.2L1339.9 846.2L1340.6 845.4L1341.3 846.2L1341.9 848.2L1342.1 851.0L1342.1 855.5Z" fill="#d6cb83"/>
<path d="M1339.1 855.5L1339.1 851.4L1339.3 848.9L1339.9 847.1L1340.6 846.4L1341.3 847.1L1341.9 848.9L1342.1 851.4L1342.1 855.5Z" fill="#c2b178"/>
<path d="M1339.2 855.5L1339.2 851.8L1339.3 849.6L1339.9 848.0L1340.6 847.4L1341.3 848.0L1341.9 849.6L1342.0 851.8L1342.0 855.5Z" fill="#ae976d"/>
<path d="M1339.2 855.5L1339.2 852.3L1339.4 850.3L1339.9 848.8L1340.6 848.3L1341.3 848.8L1341.8 850.3L1342.0 852.3L1342.0 855.5Z" fill="#997d62"/>
<path d="M1339.2 855.5L1339.2 852.7L1339.4 851.0L1339.9 849.7L1340.6 849.3L1341.3 849.7L1341.8 851.0L1342.0 852.7L1342.0 855.5Z" fill="#856357"/>
<path d="M1339.2 855.5L1339.2 853.1L1339.4 851.6L1339.9 850.5L1340.6 850.1L1341.3 850.5L1341.8 851.6L1342.0 853.1L1342.0 855.5Z" fill="#8f7069"/>
<path d="M1339.2 855.5L1339.2 853.2L1339.4 851.9L1339.9 850.9L1340.6 850.5L1341.3 850.9L1341.8 851.9L1342.0 853.2L1342.0 855.5Z" fill="#a48a84"/>
<path d="M1339.2 855.5L1339.2 853.4L1339.4 852.2L1339.9 851.2L1340.6 850.9L1341.3 851.2L1341.8 852.2L1342.0 853.4L1342.0 855.5Z" fill="#b8a49f"/>
<path d="M1339.3 855.5L1339.3 853.6L1339.4 852.5L1339.9 851.6L1340.6 851.3L1341.3 851.6L1341.8 852.5L1341.9 853.6L1341.9 855.5Z" fill="#ccbebb"/>
<path d="M1339.3 855.5L1339.3 853.8L1339.4 852.7L1339.9 852.0L1340.6 851.7L1341.3 852.0L1341.8 852.7L1341.9 853.8L1341.9 855.5Z" fill="#e1d8d6"/>
<path d="M1339.3 855.5L1339.3 854.0L1339.5 853.0L1339.9 852.4L1340.6 852.1L1341.3 852.4L1341.7 853.0L1341.9 854.0L1341.9 855.5Z" fill="#f4f0f0"/>
<path d="M1339.3 855.5L1339.3 854.1L1339.5 853.3L1339.9 852.7L1340.6 852.5L1341.3 852.7L1341.7 853.3L1341.9 854.1L1341.9 855.5Z" fill="#ffffff"/>
</g>
<rect x="1318.10" y="640.50" width="267.90" height="233.80" fill="none" stroke="#d8d8e4" stroke-width="1" opacity="0.85"/>
</g>
<rect x="1316.10" y="638.50" width="271.90" height="237.80" fill="none" stroke="#000" stroke-width="3"/>
<line x1="1340.60" y1="877.30" x2="1340.60" y2="887.00" stroke="#000" stroke-width="3.4" />
<text x="1328.11" y="908.80" font-size="18.40" font-weight="bold" text-anchor="start" fill="#000" >0.0</text>
<line x1="1396.20" y1="877.30" x2="1396.20" y2="887.00" stroke="#000" stroke-width="3.4" />
<text x="1383.60" y="908.80" font-size="18.40" font-weight="bold" text-anchor="start" fill="#000" >0.5</text>
<line x1="1451.80" y1="877.30" x2="1451.80" y2="887.00" stroke="#000" stroke-width="3.4" />
<text x="1439.31" y="908.80" font-size="18.40" font-weight="bold" text-anchor="start" fill="#000" >1.0</text>
<line x1="1507.40" y1="877.30" x2="1507.40" y2="887.00" stroke="#000" stroke-width="3.4" />
<text x="1494.80" y="908.80" font-size="18.40" font-weight="bold" text-anchor="start" fill="#000" >1.5</text>
<line x1="1562.80" y1="877.30" x2="1562.80" y2="887.00" stroke="#000" stroke-width="3.4" />
<text x="1550.36" y="908.80" font-size="18.40" font-weight="bold" text-anchor="start" fill="#000" >2.0</text>
<line x1="1315.10" y1="652.70" x2="1304.90" y2="652.70" stroke="#000" stroke-width="3.4" />
<text x="1276.31" y="659.20" font-size="18.40" font-weight="bold" text-anchor="start" fill="#000" >2.0</text>
<line x1="1315.10" y1="708.00" x2="1304.90" y2="708.00" stroke="#000" stroke-width="3.4" />
<text x="1276.08" y="714.50" font-size="18.40" font-weight="bold" text-anchor="start" fill="#000" >1.5</text>
<line x1="1315.10" y1="763.30" x2="1304.90" y2="763.30" stroke="#000" stroke-width="3.4" />
<text x="1276.31" y="769.80" font-size="18.40" font-weight="bold" text-anchor="start" fill="#000" >1.0</text>
<line x1="1315.10" y1="818.60" x2="1304.90" y2="818.60" stroke="#000" stroke-width="3.4" />
<text x="1276.08" y="825.10" font-size="18.40" font-weight="bold" text-anchor="start" fill="#000" >0.5</text>
<line x1="1315.10" y1="873.90" x2="1304.90" y2="873.90" stroke="#000" stroke-width="3.4" />
<text x="1276.31" y="880.40" font-size="18.40" font-weight="bold" text-anchor="start" fill="#000" >0.0</text>
<text x="1405.61" y="936.60" font-size="21.50" font-weight="bold" font-style="italic">q</text>
<text x="1419.24" y="942.10" font-size="21.00" font-weight="bold" font-style="italic">xy</text>
<text x="1449.78" y="937.20" font-size="21.50" font-weight="bold">(</text>
<text x="1456.59" y="936.90" font-size="20.50" font-weight="bold">Å</text>
<text x="1472.13" y="930.10" font-size="20.50" font-weight="bold">-</text>
<text x="1479.72" y="930.10" font-size="20.50" font-weight="bold">1</text>
<text x="1491.70" y="937.20" font-size="21.50" font-weight="bold">)</text>
<text x="1261.30" y="792.32" font-size="22.50" font-weight="bold" font-style="italic" transform="rotate(-90 1261.30 792.32)">q</text>
<text x="1266.90" y="778.93" font-size="14.50" font-weight="bold" font-style="italic" transform="rotate(-90 1266.90 778.93)">z</text>
<text x="1261.60" y="767.22" font-size="21.50" font-weight="bold" transform="rotate(-90 1261.60 767.22)">(</text>
<text x="1261.30" y="759.31" font-size="20.50" font-weight="bold" transform="rotate(-90 1261.30 759.31)">Å</text>
<text x="1254.90" y="744.52" font-size="13.80" font-weight="bold" transform="rotate(-90 1254.90 744.52)">-</text>
<text x="1254.90" y="739.56" font-size="13.80" font-weight="bold" transform="rotate(-90 1254.90 739.56)">1</text>
<text x="1261.60" y="731.30" font-size="21.50" font-weight="bold" transform="rotate(-90 1261.60 731.30)">)</text>
<text x="1484.71" y="677.30" font-size="28.82" font-weight="bold" text-anchor="start" fill="#fff" >TDY-β</text>
<text x="1212.20" y="647.50" font-size="40.3" font-weight="bold" text-anchor="start" fill="#000" >g</text>
<g clip-path="url(#cliphh)">
<line x1="1684.30" y1="128.50" x2="1684.30" y2="791.00" stroke="#000" stroke-width="2.0" stroke-dasharray="4.6 3.1"/>
<line x1="1709.00" y1="128.50" x2="1709.00" y2="791.00" stroke="#000" stroke-width="2.0" stroke-dasharray="4.6 3.1"/>
<path d="M1668.27 225.11L1668.92 205.23L1669.57 186.92L1670.22 168.45L1670.87 164.38L1671.52 172.88L1672.17 184.98L1672.82 198.14L1673.47 212.28L1674.12 216.37L1674.77 215.89L1675.42 214.85L1676.07 212.72L1676.72 211.51L1677.37 209.72L1678.02 208.55L1678.67 207.38L1679.32 206.99L1679.97 206.63L1680.62 205.32L1681.27 204.49L1681.92 203.99L1682.57 204.03L1683.22 204.18L1683.87 203.59L1684.52 203.58L1685.17 203.19L1685.82 203.92L1686.47 204.29L1687.12 205.58L1687.77 206.62L1688.42 207.91L1689.07 209.45L1689.72 210.59L1690.37 212.15L1691.02 212.72L1691.67 213.27L1692.32 213.42L1692.97 214.13L1693.62 213.92L1694.27 214.52L1694.92 214.46L1695.57 214.46L1696.22 214.65L1696.87 214.55L1697.52 214.41L1698.17 213.81L1698.82 213.16L1699.47 212.18L1700.12 210.77L1700.77 209.41L1701.42 207.96L1702.07 206.11L1702.72 204.71L1703.37 202.95L1704.02 200.34L1704.67 197.71L1705.32 193.74L1705.97 189.75L1706.62 186.09L1707.27 181.81L1707.92 176.93L1708.57 173.42L1709.22 171.32L1709.87 173.71L1710.52 179.10L1711.17 186.25L1711.82 191.98L1712.47 199.64L1713.12 207.88L1713.77 215.99L1714.42 222.87L1715.07 227.52L1715.72 231.67L1716.37 234.91L1717.02 238.33L1717.67 239.62L1718.32 241.79L1718.97 242.62L1719.62 243.72L1720.27 245.32L1720.92 246.04L1721.57 245.85L1722.22 246.95L1722.87 247.68L1723.52 247.89L1724.17 249.09L1724.82 249.81L1725.47 250.35L1726.12 250.36L1726.77 251.69L1727.42 252.06L1728.07 252.61L1728.72 253.12L1729.37 254.26L1730.02 257.07L1730.67 255.08L1731.32 257.99L1731.97 261.53L1732.62 257.10L1733.27 263.86L1733.92 261.09L1734.57 265.03L1735.22 269.58L1735.87 269.06L1736.52 268.81L1737.17 268.96L1737.82 271.36L1738.47 270.68L1739.12 266.80L1739.77 268.81L1740.42 266.57L1741.07 272.73L1741.72 265.12L1742.37 265.82L1743.02 265.60L1743.67 265.40L1744.32 266.79L1744.97 267.18L1745.62 262.95L1746.27 265.51L1746.92 263.98L1747.57 270.06L1748.22 273.11L1748.87 270.86L1749.52 268.73L1750.17 270.57L1750.82 269.05L1751.47 273.08L1752.12 271.52L1752.77 270.24L1753.42 269.00L1754.07 270.94L1754.72 273.90L1755.37 271.04L1756.02 273.90L1756.67 277.89L1757.32 275.19L1757.97 279.97L1758.62 278.99L1759.27 275.24L1759.92 272.99L1760.57 276.21L1761.22 275.41L1761.87 277.57L1762.52 280.59L1763.17 274.47L1763.82 276.34L1764.47 278.18L1765.12 280.22L1765.77 278.98L1766.42 278.98L1767.07 281.35L1767.72 279.64L1768.37 278.22L1769.02 279.16L1769.67 277.68L1770.32 280.84L1770.97 282.04L1771.62 273.30L1772.27 283.24L1772.92 280.59L1773.57 282.06L1774.22 282.79L1774.87 276.25L1775.52 279.03L1776.17 281.26L1776.82 280.43L1777.47 283.09L1778.12 281.47L1778.77 278.89L1779.42 284.38L1780.07 285.63L1780.72 284.52L1781.37 281.70L1782.02 282.86L1782.67 284.84L1783.32 285.08L1783.97 286.12L1784.62 283.23L1785.27 280.75L1785.92 282.55L1786.57 285.43L1787.22 286.01L1787.87 289.49L1788.52 284.72L1789.17 285.08L1789.82 284.16L1790.47 283.69L1791.12 286.46L1791.77 285.50L1792.42 284.23L1793.07 282.23L1793.72 284.42L1794.37 283.78L1795.02 287.52L1795.67 286.75L1796.32 282.14L1796.97 287.09L1797.62 282.98L1798.27 284.49L1798.92 286.82L1799.57 281.56L1800.22 284.14L1800.87 281.01L1801.52 278.99L1802.17 285.56L1802.82 283.18L1803.47 281.06L1804.12 279.13L1804.77 281.68L1805.42 285.52L1806.07 283.19L1806.72 281.24L1807.37 280.39L1808.02 282.02L1808.67 278.07L1809.32 284.58L1809.97 282.51L1810.62 283.97L1811.27 279.80L1811.92 282.94L1812.57 282.44L1813.22 277.21L1813.87 280.96L1814.52 281.23L1815.17 279.06L1815.82 279.44L1816.47 281.16L1817.12 279.95L1817.77 277.61L1818.42 281.16L1819.07 280.20L1819.72 280.13L1820.37 279.65L1821.02 280.33L1821.67 278.51L1822.32 277.04L1822.97 277.18L1823.62 281.29L1824.27 273.95L1824.92 279.68L1825.57 274.96L1826.22 274.41L1826.87 275.63L1827.52 277.17L1828.17 279.25L1828.82 273.47L1829.47 281.02L1830.12 279.64L1830.77 276.44L1831.42 275.85L1832.07 274.09L1832.72 277.40L1833.37 275.96L1834.02 278.79L1834.67 273.71L1835.32 276.28L1835.97 274.67L1836.62 272.53L1837.27 278.57L1837.92 274.55L1838.57 275.04L1839.22 270.86L1839.87 271.35L1840.52 272.89L1841.17 271.02L1841.82 273.40L1842.47 272.66L1843.12 269.47L1843.77 271.32L1844.42 270.49L1845.07 269.69L1845.72 267.01L1846.37 267.31L1847.02 269.28L1847.67 270.70L1848.32 265.69L1848.97 270.29L1849.62 267.47L1850.27 263.68L1850.92 266.91L1851.57 267.77L1852.22 265.91L1852.87 270.21L1853.52 265.15L1854.17 266.01L1854.82 263.46L1855.47 265.14L1856.12 256.80L1856.77 259.76L1857.42 260.33L1858.07 261.77L1858.72 260.51L1859.37 262.08L1860.02 259.96L1860.67 259.24L1861.32 258.12L1861.97 258.61L1862.62 260.01L1863.27 259.81L1863.92 260.12L1864.57 257.58L1865.22 256.59L1865.87 257.18L1866.52 259.16L1867.17 262.17L1867.82 259.13L1868.47 259.82L1869.12 255.02L1869.77 265.14L1870.42 256.59L1871.07 263.46L1871.72 258.15L1872.37 261.78L1873.02 261.61L1873.67 260.04L1874.32 259.70L1874.97 258.13L1875.62 260.40L1876.27 263.31L1876.92 261.90L1877.57 259.29L1878.22 264.28L1878.87 259.14L1879.52 262.69L1880.17 260.46L1880.82 261.00L1881.47 265.57L1882.12 262.30L1882.77 260.15L1883.42 262.64L1884.07 265.85L1884.72 262.65L1885.37 267.30L1886.02 266.98L1886.67 264.96L1887.32 267.61L1887.97 269.32L1888.62 260.59L1889.27 267.93L1889.92 266.78L1890.57 264.75L1891.22 267.13L1891.87 266.62L1892.52 264.48L1893.17 269.32L1893.82 266.31L1894.47 268.80L1895.12 265.57L1895.77 262.44L1896.42 266.82L1897.07 265.77L1897.72 263.45L1898.37 262.48L1899.02 267.81L1899.67 269.32L1900.32 269.61L1900.97 267.63L1901.62 266.41L1902.27 266.84L1902.92 266.50L1903.57 268.23L1904.22 265.27L1904.87 263.50L1905.52 265.90L1906.17 266.85L1906.82 265.81L1907.47 266.46L1908.12 271.46L1908.77 268.43L1909.42 263.21L1910.07 267.90L1910.72 261.39L1911.37 267.82L1912.02 267.50L1912.67 266.46L1913.32 264.17L1913.97 264.14L1914.62 267.35L1915.27 264.99L1915.92 268.33L1916.57 264.97L1917.22 265.56L1917.87 268.15L1918.52 266.32L1919.17 266.02L1919.82 267.02L1920.47 267.28L1921.12 266.27L1921.77 267.05L1922.42 266.35L1923.07 267.67L1923.72 267.51L1924.37 268.15L1925.02 269.00L1925.67 264.95L1926.32 264.38L1926.97 267.08L1927.62 267.51L1928.27 269.17L1928.92 265.52L1929.57 268.99L1930.22 269.78L1930.87 265.24L1931.52 270.22L1932.17 272.66L1932.82 269.96L1933.47 267.84L1934.12 268.80L1934.77 270.20L1935.42 269.43L1936.07 263.53L1936.72 274.55L1937.37 270.40L1938.02 271.37L1938.67 274.22L1939.32 272.96L1939.97 271.63L1940.62 272.88L1941.27 274.67L1941.92 275.07L1942.57 273.73L1943.22 276.37L1943.87 276.72L1944.52 274.18L1945.17 273.37L1945.82 276.83L1946.47 277.81L1947.12 275.89L1947.77 276.48L1948.42 279.29L1949.07 279.02L1949.72 282.39L1950.37 281.02L1951.02 285.84L1951.67 282.03L1952.32 279.10L1952.97 280.93L1953.62 281.31L1954.27 277.81L1954.92 283.37L1955.57 282.08L1956.22 282.01L1956.87 280.91L1957.52 279.75L1958.17 281.90L1958.82 280.48L1959.47 282.61L1960.12 280.58L1960.77 279.48L1961.42 283.02L1962.07 283.31L1962.72 284.17L1963.37 283.09L1964.02 286.37L1964.67 281.56L1965.32 285.59L1965.97 280.77L1966.62 281.48L1967.27 282.08L1967.92 282.39L1968.57 286.39L1969.22 281.27L1969.87 279.72L1970.52 284.22L1971.17 282.27L1971.82 278.56L1972.47 282.75L1973.12 283.92L1973.77 280.65L1974.42 284.91L1975.07 284.66L1975.72 279.29L1976.37 282.65L1977.02 275.63L1977.67 280.63L1978.32 278.30L1978.97 282.08L1979.62 277.66L1980.27 281.88L1980.92 277.52L1981.57 278.26L1982.22 277.40L1982.87 279.57L1983.52 275.84L1984.17 280.43L1984.82 277.33L1985.47 283.98L1986.12 278.19L1986.77 276.95L1987.42 279.75L1988.07 276.68L1988.72 279.91L1989.37 277.46L1990.02 279.56L1990.67 278.53L1991.32 279.61L1991.97 276.74L1992.62 276.76L1993.27 281.55L1993.92 281.38L1994.57 280.29L1995.22 276.83L1995.87 281.05L1996.52 277.34L1997.17 277.75L1997.82 280.51L1998.47 277.81L1999.12 277.97L1999.77 277.31L2000.42 276.55L2001.07 276.50L2001.72 277.38L2002.37 278.64L2003.02 277.70L2003.67 275.83L2004.32 278.35L2004.97 278.34L2005.62 279.19L2006.27 280.26L2006.92 280.10L2007.57 277.73L2008.22 277.94L2008.87 278.93L2009.52 278.55L2010.17 276.84L2010.82 279.64L2011.47 277.64L2012.12 278.23L2012.77 278.49L2013.42 279.12L2014.07 279.15L2014.72 279.88L2015.37 281.61L2016.02 284.33L2016.67 279.61L2017.32 285.40L2017.97 284.44L2018.62 284.72L2019.27 283.18L2019.92 284.48L2020.57 285.60L2021.22 286.01L2021.87 284.05L2022.52 286.78L2023.17 288.10L2023.82 287.81L2024.47 287.43L2025.12 284.64L2025.77 286.25L2026.42 286.77L2027.07 285.56L2027.72 287.31L2028.37 287.38L2029.02 287.05L2029.67 287.00L2030.32 287.44L2030.97 287.77L2031.62 287.02L2032.27 287.05L2032.92 288.07L2033.57 285.76L2034.22 284.22L2034.87 288.15L2035.52 286.08L2036.17 292.71L2036.82 290.73L2037.47 292.07L2038.12 291.01L2038.77 288.71L2039.42 290.72L2040.07 290.88" fill="none" stroke="#000" stroke-width="3.6" stroke-linejoin="round" />
<path d="M1668.27 126.10L1668.92 129.13L1669.57 132.46L1670.22 135.16L1670.87 138.93L1671.52 142.89L1672.17 146.66L1672.82 150.03L1673.47 154.36L1674.12 158.35L1674.77 162.36L1675.42 166.13L1676.07 169.94L1676.72 173.66L1677.37 177.27L1678.02 181.41L1678.67 185.06L1679.32 189.09L1679.97 192.44L1680.62 195.55L1681.27 198.40L1681.92 200.33L1682.57 203.90L1683.22 206.30L1683.87 208.12L1684.52 210.24L1685.17 212.26L1685.82 214.62L1686.47 216.15L1687.12 217.47L1687.77 219.60L1688.42 221.35L1689.07 223.63L1689.72 225.62L1690.37 226.53L1691.02 227.94L1691.67 229.98L1692.32 230.87L1692.97 232.66L1693.62 233.52L1694.27 234.91L1694.92 236.24L1695.57 237.13L1696.22 238.74L1696.87 239.54L1697.52 240.47L1698.17 241.31L1698.82 242.33L1699.47 242.98L1700.12 243.62L1700.77 243.95L1701.42 243.67L1702.07 244.70L1702.72 245.31L1703.37 245.96L1704.02 246.54L1704.67 246.51L1705.32 247.31L1705.97 246.92L1706.62 247.41L1707.27 247.74L1707.92 248.28L1708.57 248.67L1709.22 248.85L1709.87 249.40L1710.52 249.08L1711.17 250.09L1711.82 249.89L1712.47 250.19L1713.12 249.86L1713.77 250.46L1714.42 250.58L1715.07 250.61L1715.72 250.88L1716.37 250.95L1717.02 251.24L1717.67 251.47L1718.32 251.81L1718.97 252.02L1719.62 252.14L1720.27 252.19L1720.92 252.59L1721.57 252.53L1722.22 252.84L1722.87 252.71L1723.52 253.33L1724.17 253.03L1724.82 253.58L1725.47 253.23L1726.12 253.16L1726.77 254.08L1727.42 253.90L1728.07 253.79L1728.72 253.96L1729.37 254.07L1730.02 251.19L1730.67 252.79L1731.32 256.01L1731.97 253.31L1732.62 256.90L1733.27 254.42L1733.92 257.72L1734.57 256.16L1735.22 255.16L1735.87 255.63L1736.52 253.23L1737.17 256.70L1737.82 258.05L1738.47 252.99L1739.12 253.38L1739.77 259.15L1740.42 259.03L1741.07 256.08L1741.72 260.37L1742.37 259.25L1743.02 255.48L1743.67 259.51L1744.32 260.02L1744.97 257.97L1745.62 259.84L1746.27 259.68L1746.92 258.48L1747.57 262.67L1748.22 259.59L1748.87 256.74L1749.52 260.19L1750.17 263.59L1750.82 258.98L1751.47 261.01L1752.12 265.30L1752.77 261.78L1753.42 259.97L1754.07 259.44L1754.72 261.53L1755.37 264.47L1756.02 263.63L1756.67 264.99L1757.32 267.16L1757.97 264.61L1758.62 264.45L1759.27 265.17L1759.92 265.62L1760.57 262.91L1761.22 263.55L1761.87 265.61L1762.52 266.98L1763.17 269.61L1763.82 264.36L1764.47 268.72L1765.12 268.42L1765.77 268.45L1766.42 267.43L1767.07 264.17L1767.72 268.80L1768.37 271.97L1769.02 268.15L1769.67 269.89L1770.32 267.89L1770.97 271.86L1771.62 271.37L1772.27 271.39L1772.92 269.92L1773.57 270.78L1774.22 273.05L1774.87 271.44L1775.52 271.26L1776.17 271.47L1776.82 266.70L1777.47 275.17L1778.12 271.50L1778.77 273.73L1779.42 269.26L1780.07 275.12L1780.72 273.07L1781.37 273.55L1782.02 273.74L1782.67 272.25L1783.32 275.95L1783.97 277.13L1784.62 272.82L1785.27 273.95L1785.92 274.65L1786.57 276.59L1787.22 271.53L1787.87 274.27L1788.52 276.06L1789.17 272.91L1789.82 273.18L1790.47 276.59L1791.12 274.47L1791.77 271.95L1792.42 274.12L1793.07 276.26L1793.72 274.70L1794.37 274.22L1795.02 273.00L1795.67 271.60L1796.32 273.02L1796.97 274.53L1797.62 274.05L1798.27 271.66L1798.92 276.96L1799.57 274.34L1800.22 275.54L1800.87 275.23L1801.52 276.41L1802.17 273.54L1802.82 277.30L1803.47 276.19L1804.12 273.35L1804.77 269.02L1805.42 272.91L1806.07 274.64L1806.72 273.24L1807.37 271.48L1808.02 274.22L1808.67 271.88L1809.32 275.82L1809.97 272.10L1810.62 275.17L1811.27 272.72L1811.92 269.91L1812.57 271.58L1813.22 271.46L1813.87 273.69L1814.52 268.95L1815.17 273.53L1815.82 271.71L1816.47 269.85L1817.12 272.02L1817.77 270.12L1818.42 272.07L1819.07 270.51L1819.72 269.83L1820.37 268.26L1821.02 271.76L1821.67 270.28L1822.32 269.43L1822.97 268.39L1823.62 270.25L1824.27 267.41L1824.92 266.61L1825.57 267.20L1826.22 266.10L1826.87 270.33L1827.52 268.31L1828.17 267.15L1828.82 267.53L1829.47 267.10L1830.12 269.27L1830.77 268.25L1831.42 268.06L1832.07 269.05L1832.72 264.94L1833.37 263.39L1834.02 262.47L1834.67 262.73L1835.32 262.69L1835.97 264.88L1836.62 261.07L1837.27 262.37L1837.92 260.70L1838.57 259.14L1839.22 263.61L1839.87 263.10L1840.52 257.89L1841.17 259.95L1841.82 262.34L1842.47 259.00L1843.12 260.94L1843.77 257.33L1844.42 262.25L1845.07 256.42L1845.72 257.98L1846.37 256.01L1847.02 254.22L1847.67 256.61L1848.32 257.04L1848.97 254.09L1849.62 252.07L1850.27 253.18L1850.92 253.68L1851.57 251.93L1852.22 251.33L1852.87 250.49L1853.52 250.70L1854.17 248.73L1854.82 250.12L1855.47 247.10L1856.12 247.71L1856.77 245.56L1857.42 248.63L1858.07 248.32L1858.72 248.73L1859.37 244.66L1860.02 244.51L1860.67 243.22L1861.32 243.27L1861.97 243.26L1862.62 241.94L1863.27 243.51L1863.92 244.67L1864.57 242.43L1865.22 239.85L1865.87 242.81L1866.52 239.06L1867.17 238.42L1867.82 239.73L1868.47 239.02L1869.12 233.58L1869.77 231.96L1870.42 236.12L1871.07 231.82L1871.72 234.24L1872.37 235.06L1873.02 233.78L1873.67 232.88L1874.32 231.22L1874.97 230.13L1875.62 229.57L1876.27 230.12L1876.92 227.42L1877.57 228.77L1878.22 225.36L1878.87 226.77L1879.52 227.20L1880.17 223.17L1880.82 224.87L1881.47 222.18L1882.12 221.02L1882.77 219.55L1883.42 218.48L1884.07 218.26L1884.72 218.36L1885.37 216.63L1886.02 217.50L1886.67 215.35L1887.32 216.18L1887.97 217.80L1888.62 211.32L1889.27 216.01L1889.92 212.14L1890.57 212.32L1891.22 213.46L1891.87 212.83L1892.52 210.91L1893.17 205.47L1893.82 208.22L1894.47 208.75L1895.12 205.45L1895.77 206.68L1896.42 209.06L1897.07 204.30L1897.72 204.58L1898.37 201.15L1899.02 200.35L1899.67 204.12L1900.32 198.87L1900.97 200.69L1901.62 197.51L1902.27 197.22L1902.92 196.92L1903.57 197.99L1904.22 192.90L1904.87 197.75L1905.52 197.18L1906.17 191.53L1906.82 189.91L1907.47 187.69L1908.12 193.23L1908.77 190.11L1909.42 187.17L1910.07 190.28L1910.72 188.03L1911.37 187.58L1912.02 186.45L1912.67 183.98L1913.32 180.94L1913.97 179.86L1914.62 182.44L1915.27 178.02L1915.92 176.12L1916.57 175.13L1917.22 176.11L1917.87 175.71L1918.52 176.94L1919.17 171.18L1919.82 174.88L1920.47 171.71L1921.12 175.30L1921.77 170.48L1922.42 170.29L1923.07 168.31L1923.72 167.34L1924.37 166.28L1925.02 163.73L1925.67 165.54L1926.32 166.95L1926.97 162.26L1927.62 159.98L1928.27 161.22L1928.92 160.59L1929.57 161.14L1930.22 159.35L1930.87 158.80L1931.52 162.95L1932.17 160.05L1932.82 160.63L1933.47 158.28L1934.12 160.17L1934.77 155.71L1935.42 155.95L1936.07 153.39L1936.72 156.15L1937.37 158.53L1938.02 153.57L1938.67 153.05L1939.32 156.89L1939.97 152.22L1940.62 156.75L1941.27 154.57L1941.92 154.54L1942.57 156.16L1943.22 156.84L1943.87 156.49L1944.52 156.16L1945.17 156.05L1945.82 161.37L1946.47 156.01L1947.12 157.75L1947.77 159.08L1948.42 160.36L1949.07 160.73L1949.72 162.27L1950.37 160.34L1951.02 162.53L1951.67 160.42L1952.32 164.97L1952.97 164.44L1953.62 169.09L1954.27 168.80L1954.92 167.81L1955.57 171.26L1956.22 171.90L1956.87 172.27L1957.52 173.48L1958.17 171.86L1958.82 174.10L1959.47 177.63L1960.12 177.17L1960.77 179.09L1961.42 184.16L1962.07 182.42L1962.72 181.02L1963.37 184.57L1964.02 187.82L1964.67 185.40L1965.32 186.22L1965.97 189.81L1966.62 190.87L1967.27 189.70L1967.92 191.17L1968.57 192.76L1969.22 195.09L1969.87 197.02L1970.52 196.11L1971.17 199.82L1971.82 200.79L1972.47 201.83L1973.12 203.91L1973.77 202.03L1974.42 208.70L1975.07 208.90L1975.72 211.47L1976.37 210.02L1977.02 210.27L1977.67 213.52L1978.32 210.81L1978.97 214.32L1979.62 214.80L1980.27 220.73L1980.92 220.09L1981.57 218.60L1982.22 219.14L1982.87 219.53L1983.52 223.47L1984.17 222.18L1984.82 222.60L1985.47 223.81L1986.12 229.35L1986.77 227.22L1987.42 229.84L1988.07 227.80L1988.72 231.57L1989.37 229.79L1990.02 230.25L1990.67 227.72L1991.32 233.60L1991.97 234.50L1992.62 232.74L1993.27 235.61L1993.92 235.36L1994.57 231.16L1995.22 232.06L1995.87 233.46L1996.52 238.81L1997.17 235.66L1997.82 239.04L1998.47 237.92L1999.12 238.50L1999.77 237.52L2000.42 237.87L2001.07 239.24L2001.72 239.32L2002.37 237.58L2003.02 242.24L2003.67 241.18L2004.32 239.09L2004.97 241.76L2005.62 243.07L2006.27 242.47L2006.92 243.79L2007.57 243.13L2008.22 242.58L2008.87 242.15L2009.52 243.28L2010.17 245.00L2010.82 242.31L2011.47 245.44L2012.12 243.04L2012.77 246.00L2013.42 243.55L2014.07 245.94L2014.72 246.03L2015.37 244.09L2016.02 248.92L2016.67 246.04L2017.32 248.76L2017.97 249.48L2018.62 245.65L2019.27 247.92L2019.92 245.64L2020.57 245.42L2021.22 243.80L2021.87 246.73L2022.52 249.28L2023.17 244.75L2023.82 250.11L2024.47 249.77L2025.12 252.90L2025.77 247.76L2026.42 248.83L2027.07 247.37L2027.72 248.99L2028.37 253.78L2029.02 246.65L2029.67 250.01L2030.32 251.04L2030.97 250.35L2031.62 252.92L2032.27 252.49L2032.92 251.47L2033.57 252.70L2034.22 254.70L2034.87 253.50L2035.52 251.03L2036.17 251.43L2036.82 254.16L2037.47 254.05L2038.12 253.22L2038.77 250.43L2039.42 254.49L2040.07 253.77" fill="none" stroke="#ff0000" stroke-width="3.8" stroke-linejoin="round" />
<path d="M1668.27 501.25L1668.92 493.05L1669.57 485.65L1670.22 478.17L1670.87 472.39L1671.52 466.45L1672.17 460.94L1672.82 455.84L1673.47 450.80L1674.12 445.74L1674.77 441.58L1675.42 438.08L1676.07 435.47L1676.72 432.75L1677.37 429.70L1678.02 427.43L1678.67 426.03L1679.32 425.02L1679.97 424.22L1680.62 424.38L1681.27 425.63L1681.92 426.44L1682.57 428.07L1683.22 429.74L1683.87 430.94L1684.52 432.34L1685.17 434.41L1685.82 436.21L1686.47 438.56L1687.12 440.65L1687.77 442.73L1688.42 444.33L1689.07 445.60L1689.72 446.30L1690.37 447.12L1691.02 447.76L1691.67 448.41L1692.32 449.20L1692.97 448.89L1693.62 449.92L1694.27 449.74L1694.92 449.56L1695.57 449.73L1696.22 449.56L1696.87 449.47L1697.52 448.54L1698.17 448.44L1698.82 448.03L1699.47 447.27L1700.12 447.18L1700.77 447.44L1701.42 447.28L1702.07 447.21L1702.72 446.92L1703.37 446.77L1704.02 446.61L1704.67 446.84L1705.32 446.50L1705.97 447.54L1706.62 449.12L1707.27 450.50L1707.92 453.33L1708.57 454.99L1709.22 457.27L1709.87 459.67L1710.52 460.57L1711.17 462.31L1711.82 464.51L1712.47 465.53L1713.12 467.37L1713.77 469.26L1714.42 470.88L1715.07 472.51L1715.72 474.01L1716.37 475.76L1717.02 477.13L1717.67 478.45L1718.32 479.53L1718.97 480.90L1719.62 481.96L1720.27 483.95L1720.92 484.64L1721.57 486.61L1722.22 488.14L1722.87 488.68L1723.52 490.02L1724.17 491.30L1724.82 492.85L1725.47 493.63L1726.12 495.01L1726.77 496.10L1727.42 497.37L1728.07 498.97L1728.72 499.63L1729.37 501.12L1730.02 502.94L1730.67 505.50L1731.32 501.80L1731.97 508.42L1732.62 507.97L1733.27 510.06L1733.92 509.23L1734.57 506.25L1735.22 509.42L1735.87 513.60L1736.52 512.54L1737.17 513.02L1737.82 517.90L1738.47 519.47L1739.12 514.92L1739.77 520.04L1740.42 511.57L1741.07 511.98L1741.72 519.21L1742.37 517.12L1743.02 519.54L1743.67 519.87L1744.32 518.93L1744.97 521.15L1745.62 520.35L1746.27 516.89L1746.92 521.31L1747.57 521.62L1748.22 525.78L1748.87 519.33L1749.52 522.32L1750.17 521.65L1750.82 522.65L1751.47 527.08L1752.12 524.44L1752.77 522.79L1753.42 524.49L1754.07 526.17L1754.72 522.39L1755.37 524.32L1756.02 528.72L1756.67 527.39L1757.32 525.55L1757.97 524.79L1758.62 525.77L1759.27 522.78L1759.92 528.75L1760.57 527.60L1761.22 527.36L1761.87 524.29L1762.52 525.87L1763.17 528.94L1763.82 528.60L1764.47 527.12L1765.12 529.69L1765.77 530.96L1766.42 527.53L1767.07 528.16L1767.72 527.68L1768.37 527.35L1769.02 532.16L1769.67 531.84L1770.32 531.80L1770.97 528.67L1771.62 529.32L1772.27 531.93L1772.92 531.50L1773.57 533.09L1774.22 531.57L1774.87 535.05L1775.52 538.04L1776.17 537.82L1776.82 538.31L1777.47 535.12L1778.12 537.41L1778.77 534.74L1779.42 538.04L1780.07 535.36L1780.72 535.39L1781.37 535.30L1782.02 538.65L1782.67 537.91L1783.32 537.93L1783.97 535.10L1784.62 538.27L1785.27 534.85L1785.92 541.78L1786.57 538.31L1787.22 539.28L1787.87 538.81L1788.52 535.62L1789.17 536.31L1789.82 539.59L1790.47 543.28L1791.12 537.45L1791.77 538.55L1792.42 540.21L1793.07 536.57L1793.72 536.65L1794.37 539.70L1795.02 540.61L1795.67 539.86L1796.32 544.30L1796.97 540.39L1797.62 541.56L1798.27 544.34L1798.92 544.50L1799.57 536.81L1800.22 539.47L1800.87 542.86L1801.52 536.84L1802.17 537.70L1802.82 536.64L1803.47 536.28L1804.12 536.57L1804.77 539.35L1805.42 541.62L1806.07 541.96L1806.72 538.22L1807.37 533.40L1808.02 537.54L1808.67 536.64L1809.32 537.97L1809.97 536.61L1810.62 532.52L1811.27 537.36L1811.92 531.43L1812.57 534.37L1813.22 536.47L1813.87 536.35L1814.52 538.96L1815.17 529.71L1815.82 535.72L1816.47 536.33L1817.12 533.79L1817.77 535.81L1818.42 531.61L1819.07 535.45L1819.72 534.98L1820.37 531.28L1821.02 531.80L1821.67 532.70L1822.32 531.42L1822.97 535.12L1823.62 532.92L1824.27 535.33L1824.92 534.79L1825.57 532.01L1826.22 531.21L1826.87 529.26L1827.52 529.36L1828.17 529.14L1828.82 531.55L1829.47 528.48L1830.12 530.46L1830.77 530.48L1831.42 528.64L1832.07 529.10L1832.72 532.60L1833.37 532.72L1834.02 526.94L1834.67 528.02L1835.32 527.33L1835.97 527.27L1836.62 531.14L1837.27 528.89L1837.92 529.91L1838.57 530.79L1839.22 525.37L1839.87 525.63L1840.52 525.83L1841.17 527.76L1841.82 524.85L1842.47 526.20L1843.12 527.05L1843.77 526.67L1844.42 524.66L1845.07 521.44L1845.72 519.30L1846.37 525.07L1847.02 523.14L1847.67 519.49L1848.32 520.02L1848.97 519.66L1849.62 516.32L1850.27 520.22L1850.92 517.29L1851.57 517.87L1852.22 519.69L1852.87 517.21L1853.52 518.12L1854.17 517.29L1854.82 515.85L1855.47 515.37L1856.12 519.03L1856.77 513.88L1857.42 517.56L1858.07 511.29L1858.72 514.68L1859.37 513.05L1860.02 510.66L1860.67 505.95L1861.32 515.40L1861.97 508.77L1862.62 508.90L1863.27 511.11L1863.92 510.64L1864.57 510.86L1865.22 509.35L1865.87 506.20L1866.52 511.38L1867.17 507.05L1867.82 509.40L1868.47 509.98L1869.12 511.16L1869.77 507.74L1870.42 507.36L1871.07 507.37L1871.72 503.52L1872.37 505.93L1873.02 505.27L1873.67 504.87L1874.32 507.87L1874.97 506.77L1875.62 511.24L1876.27 511.17L1876.92 503.67L1877.57 508.61L1878.22 506.41L1878.87 510.42L1879.52 509.97L1880.17 512.25L1880.82 511.33L1881.47 512.89L1882.12 510.96L1882.77 506.38L1883.42 509.89L1884.07 511.08L1884.72 512.31L1885.37 511.44L1886.02 517.78L1886.67 513.83L1887.32 517.36L1887.97 513.77L1888.62 518.51L1889.27 512.10L1889.92 516.38L1890.57 512.09L1891.22 516.30L1891.87 519.06L1892.52 511.78L1893.17 513.65L1893.82 516.34L1894.47 515.46L1895.12 512.85L1895.77 518.77L1896.42 516.33L1897.07 519.28L1897.72 517.13L1898.37 513.84L1899.02 515.48L1899.67 519.85L1900.32 513.57L1900.97 515.77L1901.62 518.30L1902.27 519.33L1902.92 518.98L1903.57 513.76L1904.22 522.02L1904.87 516.92L1905.52 517.40L1906.17 517.44L1906.82 516.98L1907.47 515.36L1908.12 516.90L1908.77 520.77L1909.42 514.66L1910.07 512.27L1910.72 519.16L1911.37 518.77L1912.02 519.73L1912.67 522.09L1913.32 516.51L1913.97 518.65L1914.62 519.45L1915.27 521.19L1915.92 520.77L1916.57 516.53L1917.22 515.35L1917.87 517.95L1918.52 514.92L1919.17 521.23L1919.82 517.82L1920.47 517.95L1921.12 516.77L1921.77 522.37L1922.42 519.57L1923.07 518.00L1923.72 520.39L1924.37 518.83L1925.02 520.43L1925.67 522.13L1926.32 518.52L1926.97 520.34L1927.62 520.29L1928.27 521.82L1928.92 520.60L1929.57 519.33L1930.22 517.80L1930.87 519.97L1931.52 516.91L1932.17 520.83L1932.82 519.48L1933.47 520.62L1934.12 518.17L1934.77 517.54L1935.42 517.30L1936.07 521.96L1936.72 518.92L1937.37 518.92L1938.02 515.35L1938.67 519.35L1939.32 511.55L1939.97 522.66L1940.62 519.00L1941.27 519.63L1941.92 516.33L1942.57 517.13L1943.22 521.09L1943.87 519.26L1944.52 520.77L1945.17 522.80L1945.82 521.61L1946.47 516.03L1947.12 518.54L1947.77 518.67L1948.42 519.73L1949.07 517.61L1949.72 518.28L1950.37 521.89L1951.02 522.83L1951.67 525.96L1952.32 524.56L1952.97 529.05L1953.62 522.03L1954.27 523.49L1954.92 527.75L1955.57 527.04L1956.22 525.89L1956.87 530.44L1957.52 531.67L1958.17 532.69L1958.82 529.25L1959.47 530.63L1960.12 531.64L1960.77 531.69L1961.42 534.34L1962.07 531.26L1962.72 533.61L1963.37 528.01L1964.02 535.14L1964.67 537.43L1965.32 533.81L1965.97 536.43L1966.62 530.34L1967.27 533.51L1967.92 530.83L1968.57 535.21L1969.22 535.78L1969.87 531.51L1970.52 532.80L1971.17 533.48L1971.82 540.48L1972.47 534.81L1973.12 535.32L1973.77 535.94L1974.42 535.86L1975.07 534.68L1975.72 532.23L1976.37 533.78L1977.02 539.15L1977.67 536.03L1978.32 534.63L1978.97 532.42L1979.62 535.45L1980.27 535.69L1980.92 534.16L1981.57 537.75L1982.22 534.38L1982.87 535.38L1983.52 537.75L1984.17 536.36L1984.82 538.46L1985.47 535.38L1986.12 534.94L1986.77 537.04L1987.42 536.48L1988.07 538.74L1988.72 536.97L1989.37 536.00L1990.02 537.11L1990.67 537.61L1991.32 533.54L1991.97 535.81L1992.62 535.40L1993.27 538.95L1993.92 535.09L1994.57 538.68L1995.22 533.35L1995.87 536.15L1996.52 538.76L1997.17 535.73L1997.82 539.01L1998.47 531.73L1999.12 536.48L1999.77 536.83L2000.42 536.20L2001.07 533.05L2001.72 538.09L2002.37 531.23L2003.02 538.81L2003.67 537.33L2004.32 538.97L2004.97 536.15L2005.62 534.22L2006.27 535.63L2006.92 535.79L2007.57 538.29L2008.22 536.24L2008.87 537.97L2009.52 538.19L2010.17 540.40L2010.82 532.63L2011.47 536.35L2012.12 538.94L2012.77 539.02L2013.42 536.25L2014.07 537.08L2014.72 537.67L2015.37 538.42L2016.02 537.10L2016.67 537.22L2017.32 536.45L2017.97 538.51L2018.62 542.94L2019.27 537.96L2019.92 542.76L2020.57 545.41L2021.22 541.83L2021.87 547.20L2022.52 541.86L2023.17 546.41L2023.82 542.85L2024.47 540.53L2025.12 544.46L2025.77 548.31L2026.42 542.90L2027.07 545.63L2027.72 542.51L2028.37 543.03L2029.02 546.37L2029.67 545.16L2030.32 547.14L2030.97 549.02L2031.62 543.63L2032.27 545.00L2032.92 546.93L2033.57 552.39L2034.22 546.55L2034.87 546.42L2035.52 548.76L2036.17 552.82L2036.82 546.85L2037.47 547.70L2038.12 548.71L2038.77 550.55L2039.42 554.03L2040.07 546.34" fill="none" stroke="#000" stroke-width="3.6" stroke-linejoin="round" />
<path d="M1668.27 385.92L1668.92 387.33L1669.57 389.01L1670.22 389.80L1670.87 391.62L1671.52 392.29L1672.17 393.90L1672.82 395.08L1673.47 396.55L1674.12 397.30L1674.77 398.11L1675.42 399.51L1676.07 400.44L1676.72 400.73L1677.37 401.95L1678.02 402.60L1678.67 403.74L1679.32 404.86L1679.97 405.68L1680.62 407.35L1681.27 408.52L1681.92 410.12L1682.57 411.95L1683.22 413.39L1683.87 415.46L1684.52 417.95L1685.17 420.28L1685.82 422.96L1686.47 425.62L1687.12 429.14L1687.77 432.70L1688.42 435.93L1689.07 438.47L1689.72 441.30L1690.37 444.45L1691.02 447.17L1691.67 449.27L1692.32 451.86L1692.97 453.97L1693.62 456.19L1694.27 458.40L1694.92 460.53L1695.57 462.49L1696.22 465.16L1696.87 467.03L1697.52 468.78L1698.17 470.95L1698.82 472.85L1699.47 475.30L1700.12 476.84L1700.77 479.07L1701.42 481.23L1702.07 482.99L1702.72 484.70L1703.37 485.86L1704.02 487.89L1704.67 489.17L1705.32 491.01L1705.97 492.03L1706.62 493.89L1707.27 494.87L1707.92 496.17L1708.57 497.03L1709.22 498.07L1709.87 499.02L1710.52 500.23L1711.17 500.69L1711.82 501.54L1712.47 502.60L1713.12 503.14L1713.77 503.61L1714.42 504.39L1715.07 504.59L1715.72 505.16L1716.37 506.23L1717.02 507.38L1717.67 507.75L1718.32 508.43L1718.97 508.50L1719.62 508.78L1720.27 509.74L1720.92 509.73L1721.57 509.86L1722.22 511.23L1722.87 511.92L1723.52 512.36L1724.17 513.10L1724.82 513.42L1725.47 513.83L1726.12 513.98L1726.77 514.70L1727.42 514.93L1728.07 515.61L1728.72 516.64L1729.37 516.68L1730.02 517.79L1730.67 516.20L1731.32 522.89L1731.97 514.60L1732.62 517.01L1733.27 520.97L1733.92 518.13L1734.57 518.44L1735.22 521.29L1735.87 522.13L1736.52 522.37L1737.17 519.82L1737.82 523.24L1738.47 519.86L1739.12 520.77L1739.77 520.97L1740.42 523.82L1741.07 522.87L1741.72 522.06L1742.37 524.25L1743.02 522.56L1743.67 523.86L1744.32 524.53L1744.97 524.34L1745.62 523.80L1746.27 523.63L1746.92 528.37L1747.57 522.63L1748.22 527.38L1748.87 525.55L1749.52 525.98L1750.17 524.19L1750.82 527.75L1751.47 526.99L1752.12 530.29L1752.77 527.43L1753.42 526.66L1754.07 526.66L1754.72 530.98L1755.37 530.45L1756.02 528.91L1756.67 532.93L1757.32 530.48L1757.97 529.61L1758.62 531.35L1759.27 528.46L1759.92 530.93L1760.57 528.77L1761.22 532.19L1761.87 532.48L1762.52 531.24L1763.17 533.66L1763.82 530.45L1764.47 532.97L1765.12 531.88L1765.77 530.08L1766.42 533.74L1767.07 535.81L1767.72 538.62L1768.37 533.08L1769.02 533.98L1769.67 536.47L1770.32 531.39L1770.97 536.43L1771.62 530.55L1772.27 531.66L1772.92 533.59L1773.57 533.44L1774.22 536.15L1774.87 532.43L1775.52 534.36L1776.17 534.07L1776.82 535.18L1777.47 536.16L1778.12 536.89L1778.77 535.84L1779.42 536.06L1780.07 535.53L1780.72 532.55L1781.37 532.13L1782.02 536.36L1782.67 533.10L1783.32 534.29L1783.97 536.26L1784.62 535.23L1785.27 534.42L1785.92 534.27L1786.57 536.11L1787.22 538.87L1787.87 532.90L1788.52 535.70L1789.17 538.03L1789.82 536.74L1790.47 535.14L1791.12 536.37L1791.77 537.12L1792.42 538.30L1793.07 533.35L1793.72 534.77L1794.37 536.95L1795.02 537.26L1795.67 536.91L1796.32 537.23L1796.97 538.11L1797.62 537.27L1798.27 541.21L1798.92 534.95L1799.57 535.43L1800.22 533.20L1800.87 536.92L1801.52 536.06L1802.17 535.10L1802.82 533.00L1803.47 538.68L1804.12 535.50L1804.77 536.02L1805.42 531.64L1806.07 534.57L1806.72 534.62L1807.37 536.68L1808.02 534.26L1808.67 534.91L1809.32 529.68L1809.97 531.99L1810.62 532.30L1811.27 531.69L1811.92 531.06L1812.57 530.73L1813.22 533.52L1813.87 529.94L1814.52 531.85L1815.17 531.45L1815.82 529.14L1816.47 529.76L1817.12 524.65L1817.77 527.68L1818.42 530.57L1819.07 526.95L1819.72 523.90L1820.37 529.30L1821.02 524.64L1821.67 529.31L1822.32 526.33L1822.97 523.57L1823.62 524.37L1824.27 528.28L1824.92 525.31L1825.57 524.44L1826.22 524.55L1826.87 523.56L1827.52 522.31L1828.17 524.35L1828.82 525.60L1829.47 522.60L1830.12 525.08L1830.77 523.81L1831.42 518.44L1832.07 522.28L1832.72 523.10L1833.37 516.34L1834.02 518.71L1834.67 520.26L1835.32 517.30L1835.97 518.59L1836.62 517.54L1837.27 515.93L1837.92 517.02L1838.57 516.04L1839.22 516.32L1839.87 515.92L1840.52 514.27L1841.17 513.61L1841.82 513.55L1842.47 515.23L1843.12 511.94L1843.77 516.01L1844.42 511.33L1845.07 516.20L1845.72 511.72L1846.37 510.87L1847.02 510.29L1847.67 511.77L1848.32 510.76L1848.97 508.27L1849.62 509.91L1850.27 510.04L1850.92 509.07L1851.57 510.72L1852.22 503.06L1852.87 506.92L1853.52 505.68L1854.17 507.31L1854.82 509.64L1855.47 502.88L1856.12 503.46L1856.77 504.14L1857.42 505.92L1858.07 505.64L1858.72 501.82L1859.37 504.34L1860.02 502.13L1860.67 503.71L1861.32 501.44L1861.97 501.86L1862.62 500.36L1863.27 498.17L1863.92 497.57L1864.57 499.78L1865.22 496.99L1865.87 495.96L1866.52 496.93L1867.17 497.72L1867.82 497.55L1868.47 494.48L1869.12 494.99L1869.77 495.83L1870.42 493.01L1871.07 495.54L1871.72 493.48L1872.37 490.74L1873.02 493.29L1873.67 490.99L1874.32 493.98L1874.97 490.13L1875.62 492.76L1876.27 493.63L1876.92 489.85L1877.57 489.15L1878.22 486.90L1878.87 487.24L1879.52 487.97L1880.17 489.66L1880.82 487.60L1881.47 483.12L1882.12 486.49L1882.77 482.11L1883.42 486.29L1884.07 484.51L1884.72 482.54L1885.37 478.62L1886.02 481.48L1886.67 478.35L1887.32 477.53L1887.97 478.04L1888.62 474.49L1889.27 477.00L1889.92 476.84L1890.57 477.08L1891.22 473.52L1891.87 472.99L1892.52 475.71L1893.17 474.73L1893.82 468.37L1894.47 471.80L1895.12 471.80L1895.77 467.70L1896.42 470.01L1897.07 466.75L1897.72 465.57L1898.37 463.03L1899.02 466.95L1899.67 461.51L1900.32 456.16L1900.97 458.58L1901.62 458.84L1902.27 456.65L1902.92 460.89L1903.57 455.17L1904.22 455.00L1904.87 454.92L1905.52 454.94L1906.17 449.93L1906.82 448.05L1907.47 448.45L1908.12 450.18L1908.77 447.35L1909.42 447.81L1910.07 443.95L1910.72 446.00L1911.37 443.40L1912.02 441.66L1912.67 441.22L1913.32 439.54L1913.97 438.02L1914.62 433.37L1915.27 435.45L1915.92 433.27L1916.57 433.05L1917.22 431.32L1917.87 428.75L1918.52 429.07L1919.17 429.81L1919.82 426.65L1920.47 424.37L1921.12 423.19L1921.77 423.48L1922.42 418.82L1923.07 418.69L1923.72 416.52L1924.37 413.00L1925.02 415.81L1925.67 414.75L1926.32 411.10L1926.97 410.13L1927.62 410.38L1928.27 411.45L1928.92 406.92L1929.57 409.82L1930.22 407.88L1930.87 400.86L1931.52 403.26L1932.17 403.52L1932.82 401.22L1933.47 402.82L1934.12 400.69L1934.77 400.24L1935.42 398.08L1936.07 394.51L1936.72 397.95L1937.37 394.77L1938.02 397.94L1938.67 396.57L1939.32 401.46L1939.97 396.70L1940.62 392.68L1941.27 400.51L1941.92 397.45L1942.57 399.02L1943.22 399.83L1943.87 395.80L1944.52 396.11L1945.17 400.05L1945.82 397.03L1946.47 396.14L1947.12 398.88L1947.77 400.38L1948.42 402.66L1949.07 401.38L1949.72 402.03L1950.37 405.34L1951.02 406.17L1951.67 408.88L1952.32 406.63L1952.97 414.53L1953.62 410.17L1954.27 416.11L1954.92 417.53L1955.57 415.99L1956.22 418.91L1956.87 419.66L1957.52 423.52L1958.17 425.76L1958.82 425.70L1959.47 427.87L1960.12 427.93L1960.77 432.40L1961.42 434.09L1962.07 434.24L1962.72 434.60L1963.37 440.19L1964.02 438.27L1964.67 440.77L1965.32 442.02L1965.97 445.67L1966.62 446.67L1967.27 445.91L1967.92 449.05L1968.57 450.45L1969.22 454.91L1969.87 459.25L1970.52 459.56L1971.17 461.20L1971.82 462.46L1972.47 460.13L1973.12 461.83L1973.77 461.75L1974.42 467.36L1975.07 467.29L1975.72 466.47L1976.37 470.50L1977.02 470.76L1977.67 473.91L1978.32 472.96L1978.97 473.49L1979.62 475.87L1980.27 476.91L1980.92 479.94L1981.57 478.88L1982.22 479.80L1982.87 482.03L1983.52 480.58L1984.17 483.03L1984.82 486.46L1985.47 484.42L1986.12 489.19L1986.77 487.10L1987.42 488.79L1988.07 491.22L1988.72 491.44L1989.37 489.82L1990.02 490.09L1990.67 494.45L1991.32 493.12L1991.97 495.26L1992.62 497.91L1993.27 497.23L1993.92 497.47L1994.57 497.27L1995.22 500.46L1995.87 505.48L1996.52 500.13L1997.17 499.97L1997.82 502.76L1998.47 506.56L1999.12 504.50L1999.77 505.56L2000.42 506.37L2001.07 507.53L2001.72 506.12L2002.37 506.19L2003.02 509.16L2003.67 513.38L2004.32 507.31L2004.97 510.60L2005.62 511.18L2006.27 511.46L2006.92 513.14L2007.57 512.20L2008.22 515.57L2008.87 513.07L2009.52 512.45L2010.17 515.31L2010.82 517.33L2011.47 522.18L2012.12 516.90L2012.77 520.94L2013.42 515.33L2014.07 520.49L2014.72 521.95L2015.37 519.58L2016.02 521.91L2016.67 520.06L2017.32 520.13L2017.97 521.15L2018.62 523.22L2019.27 518.80L2019.92 525.39L2020.57 522.66L2021.22 522.38L2021.87 526.03L2022.52 524.61L2023.17 529.45L2023.82 522.76L2024.47 524.82L2025.12 524.64L2025.77 528.41L2026.42 524.70L2027.07 523.71L2027.72 521.94L2028.37 524.06L2029.02 527.34L2029.67 526.04L2030.32 530.16L2030.97 525.19L2031.62 528.18L2032.27 525.97L2032.92 528.63L2033.57 527.81L2034.22 528.60L2034.87 526.20L2035.52 531.85L2036.17 529.07L2036.82 529.72L2037.47 529.86L2038.12 530.25L2038.77 533.90L2039.42 533.88L2040.07 532.47" fill="none" stroke="#ff0000" stroke-width="3.8" stroke-linejoin="round" />
<path d="M1668.27 750.33L1668.92 742.92L1669.57 736.16L1670.22 728.82L1670.87 722.75L1671.52 715.66L1672.17 709.43L1672.82 702.45L1673.47 695.33L1674.12 689.65L1674.77 682.87L1675.42 678.27L1676.07 674.90L1676.72 671.31L1677.37 669.12L1678.02 666.26L1678.67 664.58L1679.32 662.83L1679.97 662.38L1680.62 663.29L1681.27 663.99L1681.92 665.18L1682.57 666.87L1683.22 668.55L1683.87 669.87L1684.52 671.67L1685.17 674.53L1685.82 677.62L1686.47 680.75L1687.12 684.24L1687.77 686.94L1688.42 689.06L1689.07 690.86L1689.72 692.35L1690.37 693.91L1691.02 695.37L1691.67 696.31L1692.32 697.39L1692.97 698.35L1693.62 698.74L1694.27 699.29L1694.92 699.89L1695.57 700.69L1696.22 700.80L1696.87 700.92L1697.52 701.04L1698.17 701.23L1698.82 701.77L1699.47 700.24L1700.12 700.88L1700.77 700.46L1701.42 700.24L1702.07 699.35L1702.72 699.80L1703.37 699.21L1704.02 698.71L1704.67 698.65L1705.32 698.52L1705.97 699.23L1706.62 700.05L1707.27 701.47L1707.92 702.66L1708.57 703.99L1709.22 705.64L1709.87 707.01L1710.52 708.35L1711.17 709.50L1711.82 711.87L1712.47 713.15L1713.12 715.09L1713.77 717.25L1714.42 719.35L1715.07 721.49L1715.72 722.57L1716.37 725.13L1717.02 726.84L1717.67 727.99L1718.32 729.71L1718.97 731.27L1719.62 732.90L1720.27 734.33L1720.92 735.83L1721.57 737.77L1722.22 739.42L1722.87 741.31L1723.52 742.06L1724.17 743.21L1724.82 745.13L1725.47 746.32L1726.12 747.85L1726.77 748.98L1727.42 750.06L1728.07 751.48L1728.72 753.10L1729.37 754.18L1730.02 753.05L1730.67 758.40L1731.32 754.14L1731.97 757.24L1732.62 759.87L1733.27 757.15L1733.92 758.38L1734.57 761.98L1735.22 762.56L1735.87 762.95L1736.52 762.98L1737.17 762.48L1737.82 763.93L1738.47 773.40L1739.12 765.60L1739.77 771.12L1740.42 766.87L1741.07 771.90L1741.72 772.08L1742.37 770.73L1743.02 768.62L1743.67 767.28L1744.32 773.01L1744.97 768.14L1745.62 768.45L1746.27 775.15L1746.92 775.27L1747.57 772.23L1748.22 771.81L1748.87 771.06L1749.52 773.61L1750.17 771.89L1750.82 769.73L1751.47 771.65L1752.12 774.19L1752.77 770.16L1753.42 771.78L1754.07 774.54L1754.72 778.37L1755.37 775.13L1756.02 775.06L1756.67 779.70L1757.32 773.10L1757.97 774.15L1758.62 778.08L1759.27 778.93L1759.92 777.83L1760.57 771.08L1761.22 779.13L1761.87 779.30L1762.52 778.21L1763.17 779.97L1763.82 782.02L1764.47 779.24L1765.12 777.31L1765.77 775.58L1766.42 780.29L1767.07 778.84L1767.72 779.52L1768.37 778.53L1769.02 782.09L1769.67 783.46L1770.32 783.08L1770.97 779.81L1771.62 784.73L1772.27 783.71L1772.92 777.57L1773.57 784.96L1774.22 779.20L1774.87 781.56L1775.52 786.90L1776.17 786.26L1776.82 783.57L1777.47 783.31L1778.12 786.43L1778.77 781.79L1779.42 787.15L1780.07 785.82L1780.72 788.47L1781.37 786.77L1782.02 784.84L1782.67 788.10L1783.32 787.11L1783.97 784.95L1784.62 785.87L1785.27 786.57L1785.92 789.35L1786.57 791.36L1787.22 789.90L1787.87 787.56L1788.52 789.82L1789.17 792.36L1789.82 793.88L1790.47 789.58L1791.12 792.71L1791.77 791.46L1792.42 787.67L1793.07 789.89L1793.72 791.77L1794.37 792.06L1795.02 792.47L1795.67 792.08L1796.32 794.35L1796.97 791.28L1797.62 789.76L1798.27 794.48L1798.92 791.74L1799.57 794.79L1800.22 790.82L1800.87 795.49L1801.52 789.34L1802.17 789.11L1802.82 793.15L1803.47 795.30L1804.12 789.02L1804.77 794.10L1805.42 793.62L1806.07 791.57L1806.72 788.89L1807.37 784.01L1808.02 785.08L1808.67 786.49L1809.32 789.20L1809.97 787.32L1810.62 785.98L1811.27 787.47L1811.92 783.28L1812.57 787.81L1813.22 784.63L1813.87 789.67L1814.52 787.01L1815.17 784.83L1815.82 785.29L1816.47 782.76L1817.12 786.79L1817.77 784.04L1818.42 786.05L1819.07 788.90L1819.72 787.02L1820.37 787.30L1821.02 792.24L1821.67 787.72L1822.32 788.66L1822.97 785.48L1823.62 783.29L1824.27 786.52L1824.92 783.29L1825.57 779.00L1826.22 787.26L1826.87 786.61L1827.52 783.34L1828.17 788.72L1828.82 785.50L1829.47 784.54L1830.12 783.36L1830.77 788.16L1831.42 784.40L1832.07 784.16L1832.72 784.15L1833.37 783.31L1834.02 781.05L1834.67 782.98L1835.32 782.30L1835.97 785.53L1836.62 780.43L1837.27 784.51L1837.92 781.17L1838.57 779.87L1839.22 780.70L1839.87 780.51L1840.52 779.97L1841.17 780.34L1841.82 778.78L1842.47 774.00L1843.12 775.26L1843.77 779.89L1844.42 775.19L1845.07 769.40L1845.72 774.55L1846.37 777.48L1847.02 775.68L1847.67 772.50L1848.32 772.23L1848.97 772.54L1849.62 770.01L1850.27 768.56L1850.92 772.74L1851.57 767.36L1852.22 769.91L1852.87 763.28L1853.52 764.43L1854.17 762.94L1854.82 765.94L1855.47 762.96L1856.12 762.38L1856.77 761.26L1857.42 763.27L1858.07 764.80L1858.72 760.86L1859.37 763.38L1860.02 761.75L1860.67 760.20L1861.32 762.26L1861.97 764.38L1862.62 755.15L1863.27 762.59L1863.92 764.91L1864.57 760.31L1865.22 762.33L1865.87 762.69L1866.52 761.52L1867.17 760.79L1867.82 763.11L1868.47 762.58L1869.12 760.35L1869.77 761.37L1870.42 757.69L1871.07 759.34L1871.72 759.96L1872.37 759.51L1873.02 758.04L1873.67 762.46L1874.32 760.35L1874.97 761.24L1875.62 756.58L1876.27 758.46L1876.92 758.13L1877.57 759.41L1878.22 763.85L1878.87 765.96L1879.52 760.78L1880.17 761.38L1880.82 760.27L1881.47 759.70L1882.12 763.21L1882.77 760.46L1883.42 759.24L1884.07 763.33L1884.72 761.74L1885.37 763.09L1886.02 763.29L1886.67 765.01L1887.32 764.42L1887.97 765.29L1888.62 763.11L1889.27 763.27L1889.92 764.52L1890.57 764.32L1891.22 765.00L1891.87 764.81L1892.52 769.04L1893.17 763.73L1893.82 765.37L1894.47 764.66L1895.12 767.51L1895.77 762.77L1896.42 761.76L1897.07 767.43L1897.72 766.47L1898.37 765.25L1899.02 763.15L1899.67 767.88L1900.32 766.03L1900.97 763.74L1901.62 764.06L1902.27 763.75L1902.92 768.53L1903.57 764.97L1904.22 763.10L1904.87 764.18L1905.52 768.18L1906.17 767.11L1906.82 764.15L1907.47 763.19L1908.12 764.62L1908.77 766.70L1909.42 765.21L1910.07 764.95L1910.72 766.41L1911.37 765.15L1912.02 764.04L1912.67 763.45L1913.32 764.63L1913.97 765.24L1914.62 767.59L1915.27 767.31L1915.92 765.32L1916.57 769.87L1917.22 764.68L1917.87 769.80L1918.52 765.02L1919.17 767.06L1919.82 769.86L1920.47 770.07L1921.12 766.24L1921.77 768.51L1922.42 765.89L1923.07 768.14L1923.72 769.72L1924.37 767.63L1925.02 772.45L1925.67 770.34L1926.32 770.92L1926.97 768.21L1927.62 769.37L1928.27 770.53L1928.92 772.01L1929.57 771.81L1930.22 769.43L1930.87 768.62L1931.52 768.02L1932.17 775.86L1932.82 773.75L1933.47 774.69L1934.12 771.24L1934.77 776.50L1935.42 773.29L1936.07 772.95L1936.72 771.50L1937.37 769.79L1938.02 774.94L1938.67 773.89L1939.32 774.08L1939.97 771.36L1940.62 770.23L1941.27 772.67L1941.92 777.66L1942.57 780.40L1943.22 774.92L1943.87 776.06L1944.52 773.60L1945.17 775.29L1945.82 778.74L1946.47 776.62L1947.12 779.01L1947.77 781.99L1948.42 779.09L1949.07 777.21L1949.72 784.05L1950.37 781.97L1951.02 781.41L1951.67 782.06L1952.32 781.23L1952.97 783.74L1953.62 779.37L1954.27 782.95L1954.92 780.71L1955.57 783.70L1956.22 785.77L1956.87 784.33L1957.52 789.18L1958.17 785.48L1958.82 784.35L1959.47 787.06L1960.12 787.22L1960.77 787.78L1961.42 787.43L1962.07 787.38L1962.72 790.01L1963.37 784.32L1964.02 789.96L1964.67 787.05L1965.32 788.22L1965.97 786.48L1966.62 791.43L1967.27 783.77L1967.92 785.67L1968.57 787.52L1969.22 790.05L1969.87 785.41L1970.52 789.63L1971.17 790.90L1971.82 786.30L1972.47 782.45L1973.12 790.03L1973.77 787.87L1974.42 788.01L1975.07 790.65L1975.72 789.88L1976.37 786.79L1977.02 788.39L1977.67 785.97L1978.32 788.97L1978.97 787.73L1979.62 789.02L1980.27 786.30L1980.92 788.20L1981.57 788.35L1982.22 788.76L1982.87 787.50L1983.52 782.49L1984.17 788.15L1984.82 784.07L1985.47 788.96L1986.12 786.37L1986.77 786.21L1987.42 784.52L1988.07 789.84L1988.72 783.82L1989.37 788.61L1990.02 789.00L1990.67 792.33L1991.32 788.06L1991.97 784.55L1992.62 782.49L1993.27 782.82L1993.92 781.00L1994.57 787.51L1995.22 785.09L1995.87 781.74L1996.52 786.02L1997.17 784.53L1997.82 786.73L1998.47 785.24L1999.12 781.97L1999.77 784.94L2000.42 786.76L2001.07 785.02L2001.72 785.13L2002.37 782.17L2003.02 783.69L2003.67 785.45L2004.32 787.32L2004.97 784.30L2005.62 784.96L2006.27 790.92L2006.92 783.96L2007.57 785.82L2008.22 784.33L2008.87 786.73L2009.52 788.81L2010.17 789.05L2010.82 788.35L2011.47 790.63L2012.12 788.05L2012.77 789.97L2013.42 786.57L2014.07 791.67L2014.72 788.34L2015.37 793.22L2016.02 788.34L2016.67 791.95L2017.32 792.41L2017.97 792.90L2018.62 792.34L2019.27 796.76L2019.92 794.52L2020.57 791.36L2021.22 793.21L2021.87 797.61L2022.52 792.99L2023.17 799.55L2023.82 794.74L2024.47 791.62L2025.12 798.15L2025.77 794.25L2026.42 788.01L2027.07 796.86L2027.72 794.06L2028.37 797.69L2029.02 799.08L2029.67 799.55L2030.32 797.40L2030.97 794.44L2031.62 801.31L2032.27 798.74L2032.92 798.82L2033.57 795.32L2034.22 797.43L2034.87 799.54L2035.52 798.87L2036.17 799.86L2036.82 797.33L2037.47 795.80L2038.12 800.60L2038.77 799.60L2039.42 802.55L2040.07 803.22" fill="none" stroke="#000" stroke-width="3.6" stroke-linejoin="round" />
<path d="M1668.27 665.28L1668.92 666.12L1669.57 667.92L1670.22 668.73L1670.87 669.78L1671.52 670.72L1672.17 672.23L1672.82 672.71L1673.47 674.07L1674.12 674.63L1674.77 675.57L1675.42 676.25L1676.07 677.16L1676.72 677.89L1677.37 678.12L1678.02 679.34L1678.67 679.97L1679.32 680.79L1679.97 681.70L1680.62 681.81L1681.27 683.59L1681.92 683.75L1682.57 685.12L1683.22 686.60L1683.87 688.10L1684.52 689.40L1685.17 690.81L1685.82 692.42L1686.47 693.62L1687.12 695.58L1687.77 697.92L1688.42 698.45L1689.07 700.96L1689.72 703.11L1690.37 705.17L1691.02 707.72L1691.67 710.21L1692.32 712.57L1692.97 715.06L1693.62 717.20L1694.27 719.92L1694.92 721.78L1695.57 723.76L1696.22 726.65L1696.87 728.05L1697.52 730.11L1698.17 731.75L1698.82 734.30L1699.47 735.85L1700.12 737.80L1700.77 739.96L1701.42 741.64L1702.07 742.99L1702.72 744.98L1703.37 746.59L1704.02 748.06L1704.67 749.43L1705.32 751.29L1705.97 752.23L1706.62 754.07L1707.27 755.23L1707.92 756.06L1708.57 757.14L1709.22 759.02L1709.87 758.83L1710.52 760.27L1711.17 761.04L1711.82 762.07L1712.47 762.82L1713.12 763.72L1713.77 764.39L1714.42 764.88L1715.07 765.18L1715.72 766.07L1716.37 766.84L1717.02 767.39L1717.67 768.07L1718.32 768.25L1718.97 768.49L1719.62 769.12L1720.27 769.79L1720.92 770.42L1721.57 770.86L1722.22 771.22L1722.87 771.13L1723.52 771.73L1724.17 772.36L1724.82 772.68L1725.47 773.17L1726.12 773.00L1726.77 773.81L1727.42 773.30L1728.07 774.20L1728.72 774.66L1729.37 774.86L1730.02 776.91L1730.67 775.14L1731.32 775.87L1731.97 777.43L1732.62 774.71L1733.27 779.50L1733.92 775.68L1734.57 778.30L1735.22 777.81L1735.87 776.83L1736.52 778.07L1737.17 778.69L1737.82 777.44L1738.47 782.73L1739.12 776.85L1739.77 779.00L1740.42 781.36L1741.07 780.41L1741.72 781.72L1742.37 776.98L1743.02 779.68L1743.67 780.43L1744.32 782.98L1744.97 779.26L1745.62 780.96L1746.27 784.87L1746.92 782.27L1747.57 782.60L1748.22 781.89L1748.87 784.51L1749.52 778.93L1750.17 781.17L1750.82 781.88L1751.47 783.43L1752.12 783.42L1752.77 779.59L1753.42 784.08L1754.07 782.46L1754.72 789.67L1755.37 784.00L1756.02 786.73L1756.67 783.87L1757.32 784.66L1757.97 783.70L1758.62 787.12L1759.27 788.21L1759.92 783.46L1760.57 787.03L1761.22 787.70L1761.87 789.04L1762.52 785.68L1763.17 789.78L1763.82 784.87L1764.47 787.80L1765.12 786.67L1765.77 787.22L1766.42 790.03L1767.07 789.14L1767.72 793.82L1768.37 788.31L1769.02 787.19L1769.67 791.02L1770.32 789.39L1770.97 788.20L1771.62 791.68L1772.27 792.08L1772.92 786.60L1773.57 788.79L1774.22 791.87L1774.87 788.24L1775.52 792.99L1776.17 789.57L1776.82 790.66L1777.47 790.24L1778.12 787.86L1778.77 789.68L1779.42 788.69L1780.07 789.27L1780.72 792.17L1781.37 791.40L1782.02 789.73L1782.67 790.73L1783.32 793.14L1783.97 790.20L1784.62 789.52L1785.27 791.72L1785.92 789.26L1786.57 788.01L1787.22 793.98L1787.87 788.27L1788.52 790.72L1789.17 791.27L1789.82 789.84L1790.47 794.09L1791.12 794.18L1791.77 791.30L1792.42 787.54L1793.07 791.23L1793.72 787.12L1794.37 791.53L1795.02 792.02L1795.67 790.93L1796.32 792.66L1796.97 790.48L1797.62 788.21L1798.27 788.96L1798.92 791.79L1799.57 785.22L1800.22 789.71L1800.87 786.51L1801.52 793.20L1802.17 785.56L1802.82 783.80L1803.47 789.79L1804.12 789.43L1804.77 786.01L1805.42 786.84L1806.07 784.25L1806.72 786.26L1807.37 788.03L1808.02 786.74L1808.67 785.84L1809.32 784.58L1809.97 787.76L1810.62 788.96L1811.27 788.08L1811.92 782.51L1812.57 785.27L1813.22 783.06L1813.87 783.79L1814.52 785.05L1815.17 789.29L1815.82 784.37L1816.47 783.52L1817.12 782.23L1817.77 784.11L1818.42 779.46L1819.07 783.78L1819.72 783.83L1820.37 779.94L1821.02 784.64L1821.67 785.66L1822.32 779.33L1822.97 782.10L1823.62 779.27L1824.27 778.51L1824.92 781.18L1825.57 779.87L1826.22 776.30L1826.87 775.49L1827.52 778.53L1828.17 774.91L1828.82 774.81L1829.47 776.42L1830.12 775.56L1830.77 776.86L1831.42 779.60L1832.07 772.73L1832.72 777.71L1833.37 771.60L1834.02 773.96L1834.67 775.49L1835.32 777.63L1835.97 769.12L1836.62 775.32L1837.27 771.29L1837.92 771.30L1838.57 771.58L1839.22 773.75L1839.87 774.33L1840.52 769.84L1841.17 767.35L1841.82 766.49L1842.47 763.17L1843.12 763.93L1843.77 768.64L1844.42 762.62L1845.07 763.06L1845.72 763.87L1846.37 763.12L1847.02 762.26L1847.67 761.49L1848.32 761.82L1848.97 765.38L1849.62 763.43L1850.27 761.79L1850.92 759.62L1851.57 760.75L1852.22 760.54L1852.87 757.77L1853.52 756.68L1854.17 758.90L1854.82 756.41L1855.47 755.79L1856.12 756.69L1856.77 756.05L1857.42 753.66L1858.07 758.25L1858.72 755.11L1859.37 753.58L1860.02 754.80L1860.67 755.51L1861.32 752.21L1861.97 746.50L1862.62 748.52L1863.27 750.16L1863.92 749.93L1864.57 751.82L1865.22 749.40L1865.87 747.20L1866.52 748.73L1867.17 745.19L1867.82 747.70L1868.47 742.03L1869.12 747.50L1869.77 743.44L1870.42 744.78L1871.07 741.96L1871.72 739.00L1872.37 740.64L1873.02 740.48L1873.67 740.19L1874.32 739.29L1874.97 739.20L1875.62 736.64L1876.27 733.75L1876.92 735.55L1877.57 733.08L1878.22 734.78L1878.87 733.96L1879.52 734.04L1880.17 732.26L1880.82 733.93L1881.47 733.25L1882.12 732.85L1882.77 731.65L1883.42 731.78L1884.07 731.53L1884.72 729.28L1885.37 724.17L1886.02 726.62L1886.67 730.35L1887.32 722.34L1887.97 726.16L1888.62 724.12L1889.27 727.49L1889.92 724.70L1890.57 722.69L1891.22 722.53L1891.87 718.50L1892.52 724.90L1893.17 721.64L1893.82 717.68L1894.47 717.50L1895.12 718.89L1895.77 715.61L1896.42 714.43L1897.07 716.85L1897.72 714.04L1898.37 714.15L1899.02 714.24L1899.67 709.87L1900.32 713.53L1900.97 711.32L1901.62 706.45L1902.27 704.92L1902.92 706.62L1903.57 705.93L1904.22 702.80L1904.87 702.60L1905.52 701.54L1906.17 700.15L1906.82 700.39L1907.47 701.42L1908.12 700.83L1908.77 694.30L1909.42 694.41L1910.07 691.95L1910.72 691.55L1911.37 689.46L1912.02 691.41L1912.67 689.14L1913.32 684.68L1913.97 686.92L1914.62 681.49L1915.27 681.60L1915.92 680.98L1916.57 677.70L1917.22 675.44L1917.87 675.98L1918.52 675.32L1919.17 671.88L1919.82 673.97L1920.47 670.28L1921.12 666.24L1921.77 667.09L1922.42 663.49L1923.07 663.43L1923.72 662.32L1924.37 660.58L1925.02 661.23L1925.67 657.26L1926.32 656.60L1926.97 653.87L1927.62 650.30L1928.27 650.85L1928.92 650.95L1929.57 644.54L1930.22 648.95L1930.87 647.99L1931.52 648.36L1932.17 646.01L1932.82 646.58L1933.47 643.74L1934.12 642.34L1934.77 643.82L1935.42 640.44L1936.07 644.70L1936.72 639.59L1937.37 644.38L1938.02 640.27L1938.67 640.28L1939.32 639.07L1939.97 640.70L1940.62 641.49L1941.27 638.72L1941.92 638.65L1942.57 642.53L1943.22 640.38L1943.87 645.16L1944.52 647.00L1945.17 644.53L1945.82 652.55L1946.47 647.16L1947.12 646.06L1947.77 652.81L1948.42 651.33L1949.07 650.76L1949.72 653.09L1950.37 657.40L1951.02 659.38L1951.67 657.82L1952.32 657.46L1952.97 660.11L1953.62 664.13L1954.27 664.49L1954.92 666.64L1955.57 668.28L1956.22 672.31L1956.87 670.33L1957.52 672.46L1958.17 670.41L1958.82 675.97L1959.47 674.68L1960.12 678.39L1960.77 681.82L1961.42 682.29L1962.07 685.01L1962.72 682.66L1963.37 687.91L1964.02 690.72L1964.67 692.03L1965.32 694.41L1965.97 693.85L1966.62 698.10L1967.27 697.29L1967.92 699.42L1968.57 703.42L1969.22 705.82L1969.87 706.21L1970.52 703.96L1971.17 706.96L1971.82 708.14L1972.47 710.71L1973.12 715.06L1973.77 715.60L1974.42 712.46L1975.07 716.79L1975.72 717.97L1976.37 717.50L1977.02 719.32L1977.67 723.61L1978.32 722.33L1978.97 723.59L1979.62 724.27L1980.27 719.87L1980.92 727.83L1981.57 730.58L1982.22 733.95L1982.87 735.74L1983.52 730.47L1984.17 733.48L1984.82 733.58L1985.47 736.26L1986.12 734.71L1986.77 738.34L1987.42 740.07L1988.07 741.00L1988.72 741.50L1989.37 743.62L1990.02 742.12L1990.67 742.59L1991.32 744.14L1991.97 744.52L1992.62 746.63L1993.27 748.73L1993.92 747.26L1994.57 744.93L1995.22 745.79L1995.87 750.54L1996.52 751.60L1997.17 752.17L1997.82 746.80L1998.47 754.04L1999.12 758.50L1999.77 753.83L2000.42 754.10L2001.07 757.32L2001.72 754.41L2002.37 754.40L2003.02 759.34L2003.67 755.83L2004.32 759.55L2004.97 757.80L2005.62 758.82L2006.27 758.24L2006.92 761.51L2007.57 760.98L2008.22 761.34L2008.87 761.33L2009.52 761.61L2010.17 765.36L2010.82 765.35L2011.47 766.15L2012.12 762.56L2012.77 766.10L2013.42 762.56L2014.07 769.27L2014.72 770.21L2015.37 769.93L2016.02 768.65L2016.67 769.29L2017.32 768.34L2017.97 767.55L2018.62 771.27L2019.27 772.03L2019.92 769.65L2020.57 768.22L2021.22 770.27L2021.87 770.93L2022.52 770.80L2023.17 768.95L2023.82 770.04L2024.47 773.34L2025.12 777.27L2025.77 771.26L2026.42 774.75L2027.07 774.20L2027.72 775.84L2028.37 775.74L2029.02 778.15L2029.67 776.49L2030.32 775.48L2030.97 777.59L2031.62 777.81L2032.27 779.64L2032.92 779.55L2033.57 780.01L2034.22 779.35L2034.87 779.40L2035.52 779.66L2036.17 781.01L2036.82 783.40L2037.47 784.41L2038.12 780.81L2038.77 782.06L2039.42 782.84L2040.07 786.89" fill="none" stroke="#ff0000" stroke-width="3.8" stroke-linejoin="round" />
</g>
<path d="M1666.70 876.40V19.40H2040.60V876.40" fill="none" stroke="#000" stroke-width="2.8" stroke-linecap="square"/>
<path d="M1665.30 876.40H2042.00" fill="none" stroke="#000" stroke-width="3.0" stroke-linecap="butt"/>
<line x1="1720.60" y1="876.40" x2="1720.60" y2="881.70" stroke="#000" stroke-width="2.7" />
<text transform="translate(1704.42 904.00) scale(1 1.040)" font-size="23.50" font-weight="bold" fill="#000">0.5</text>
<line x1="1809.30" y1="876.40" x2="1809.30" y2="881.70" stroke="#000" stroke-width="2.7" />
<text transform="translate(1793.27 904.00) scale(1 1.040)" font-size="23.50" font-weight="bold" fill="#000">1.0</text>
<line x1="1898.00" y1="876.40" x2="1898.00" y2="881.70" stroke="#000" stroke-width="2.7" />
<text transform="translate(1881.82 904.00) scale(1 1.040)" font-size="23.50" font-weight="bold" fill="#000">1.5</text>
<line x1="1986.70" y1="876.40" x2="1986.70" y2="881.70" stroke="#000" stroke-width="2.7" />
<text transform="translate(1970.73 904.00) scale(1 1.040)" font-size="23.50" font-weight="bold" fill="#000">2.0</text>
<line x1="1676.25" y1="876.40" x2="1676.25" y2="879.20" stroke="#000" stroke-width="2.7" />
<line x1="1764.95" y1="876.40" x2="1764.95" y2="879.20" stroke="#000" stroke-width="2.7" />
<line x1="1853.65" y1="876.40" x2="1853.65" y2="879.20" stroke="#000" stroke-width="2.7" />
<line x1="1942.35" y1="876.40" x2="1942.35" y2="879.20" stroke="#000" stroke-width="2.7" />
<line x1="2031.05" y1="876.40" x2="2031.05" y2="879.20" stroke="#000" stroke-width="2.7" />
<text x="1832.65" y="942.80" font-size="23.60" font-weight="bold" font-style="italic">q</text>
<text x="1854.89" y="943.20" font-size="23.40" font-weight="bold">(</text>
<text x="1862.52" y="943.10" font-size="23.30" font-weight="bold">Å</text>
<text x="1879.06" y="936.00" font-size="22.40" font-weight="bold">-</text>
<text x="1887.20" y="936.00" font-size="22.40" font-weight="bold">1</text>
<text x="1900.30" y="943.20" font-size="23.40" font-weight="bold">)</text>
<text x="1652.50" y="539.87" font-size="30.28" font-weight="bold" text-anchor="start" fill="#000" transform="rotate(-90 1652.50 539.87)" >Intensity (a.u.)</text>
<text x="1608.40" y="28.60" font-size="40" font-weight="bold" text-anchor="start" fill="#000" >h</text>
<line x1="1843.00" y1="44.40" x2="1885.00" y2="44.40" stroke="#000" stroke-width="4.3" />
<line x1="1843.00" y1="73.00" x2="1885.00" y2="73.00" stroke="#ff0000" stroke-width="4.3" />
<text x="1895.49" y="52.20" font-size="23.29" font-weight="bold" text-anchor="start" fill="#000" >In plane</text>
<text x="1896.57" y="80.70" font-size="23.26" font-weight="bold" text-anchor="start" fill="#000" >Out of plane</text>
<text x="1779.43" y="192.50" font-size="24.85" font-weight="bold" text-anchor="start" fill="#000" >Y6</text>
<text x="1758.95" y="455.90" font-size="24.58" font-weight="bold" text-anchor="start" fill="#000" >TDY-α</text>
<text x="1758.95" y="711.90" font-size="24.82" font-weight="bold" text-anchor="start" fill="#000" >TDY-β</text>
<text x="1688.20" y="60.60" font-size="21.35" font-weight="bold" text-anchor="start" fill="#000" >0.34 Å</text>
<text x="1750.99" y="54.40" font-size="13.50" font-weight="bold">-</text>
<text x="1755.16" y="54.40" font-size="13.50" font-weight="bold">1</text>
<text x="1743.50" y="96.60" font-size="21.35" font-weight="bold" text-anchor="start" fill="#000" >0.43 Å</text>
<text x="1805.99" y="90.30" font-size="13.50" font-weight="bold">-</text>
<text x="1810.16" y="90.30" font-size="13.50" font-weight="bold">1</text>
<line x1="1693.20" y1="67.90" x2="1687.15" y2="106.64" stroke="#000" stroke-width="3.7" />
<polygon points="1685.30,118.50 1680.74,103.62 1694.18,105.72" fill="#000"/>
<line x1="1736.90" y1="97.40" x2="1718.74" y2="114.48" stroke="#000" stroke-width="3.7" />
<polygon points="1710.00,122.70 1715.54,108.16 1724.86,118.06" fill="#000"/>
</svg></body></html>
